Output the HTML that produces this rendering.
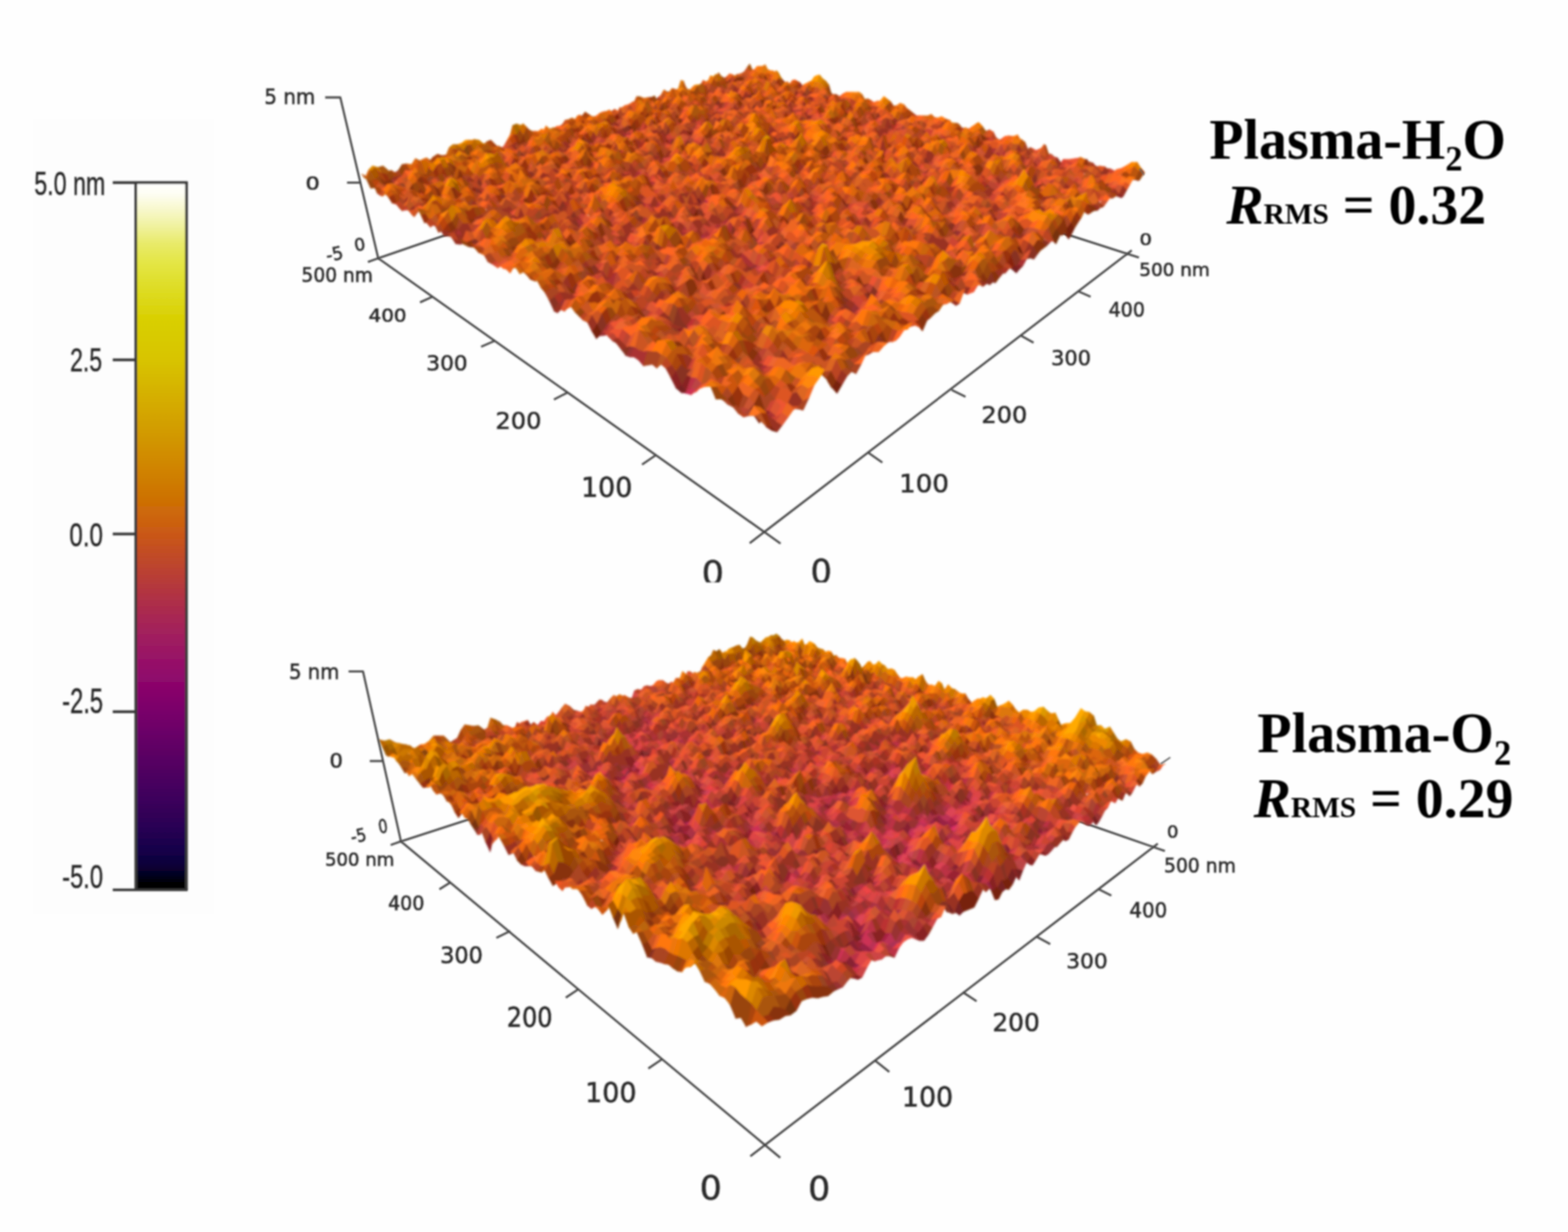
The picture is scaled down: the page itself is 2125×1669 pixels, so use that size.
<!DOCTYPE html>
<html lang="en"><head><meta charset="utf-8"><title>AFM surface roughness: Plasma-H2O vs Plasma-O2</title>
<style>
html,body{margin:0;padding:0;background:#fefefe;}
body{width:2125px;height:1669px;overflow:hidden;}
svg{display:block;}
.ax{font-family:"DejaVu Sans","Liberation Sans",sans-serif;fill:#2b2b2b;stroke:#2b2b2b;stroke-width:.7px;}
.cb{font-family:"Liberation Sans",sans-serif;fill:#262626;stroke:#262626;stroke-width:.5px;}
.tt{font-family:"Liberation Serif",serif;font-weight:bold;fill:#000;}
</style></head>
<body>
<svg width="2125" height="1669" viewBox="0 0 2125 1669">
<defs>
<filter id="bl" x="-5%" y="-5%" width="110%" height="110%"><feGaussianBlur stdDeviation="1.1"/></filter>
<filter id="bs" x="-5%" y="-5%" width="110%" height="110%"><feGaussianBlur stdDeviation="1.5"/></filter>
<filter id="bt" x="-5%" y="-20%" width="110%" height="140%"><feGaussianBlur stdDeviation="0.9"/></filter>
<clipPath id="cliptop"><rect x="300" y="0" width="1500" height="788.9"/></clipPath>
<linearGradient id="cbg" x1="0" y1="0" x2="0" y2="1">
<stop offset="0.000" stop-color="#ffffff"/><stop offset="0.015" stop-color="#fefef4"/><stop offset="0.036" stop-color="#f8f8d0"/><stop offset="0.061" stop-color="#f0f2a0"/><stop offset="0.086" stop-color="#e8ea6a"/><stop offset="0.111" stop-color="#e4e648"/><stop offset="0.136" stop-color="#e0e030"/><stop offset="0.166" stop-color="#dcd818"/><stop offset="0.190" stop-color="#d9d004"/><stop offset="0.250" stop-color="#d8c400"/><stop offset="0.300" stop-color="#d5b000"/><stop offset="0.350" stop-color="#d29c00"/><stop offset="0.400" stop-color="#d08600"/><stop offset="0.450" stop-color="#cd7004"/><stop offset="0.480" stop-color="#cc620e"/><stop offset="0.500" stop-color="#c95618"/><stop offset="0.530" stop-color="#c04a28"/><stop offset="0.566" stop-color="#b63a3a"/><stop offset="0.600" stop-color="#ac2c4c"/><stop offset="0.644" stop-color="#a01e60"/><stop offset="0.698" stop-color="#90086c"/><stop offset="0.725" stop-color="#85046b"/><stop offset="0.750" stop-color="#78006a"/><stop offset="0.807" stop-color="#5c0064"/><stop offset="0.870" stop-color="#3e005c"/><stop offset="0.910" stop-color="#2a0054"/><stop offset="0.944" stop-color="#16004a"/><stop offset="0.966" stop-color="#0a0038"/><stop offset="0.980" stop-color="#040020"/><stop offset="0.992" stop-color="#000000"/><stop offset="1.000" stop-color="#000000"/>
</linearGradient>
</defs>
<rect width="2125" height="1669" fill="#fefefe"/>
<g id="colorbar">
<rect x="45" y="161" width="245" height="1077" fill="#fdfdfd"/>
<g filter="url(#bl)">
<rect x="183.5" y="247.4" width="70.0" height="957.8" fill="url(#cbg)"/>
<g stroke="#383838" stroke-width="3.7" fill="none" stroke-linecap="butt">
<path d="M184.1 246.2V1206.0"/><path d="M252.7 246.2V1206.0"/><path d="M152.8 247.4H254.3"/><path d="M152.8 1205.5H254.3"/><path d="M152.8 487.5H183.5"/><path d="M152.8 723.4H183.5"/><path d="M152.8 964.2H183.5"/>
</g>
<text class="cb" x="46.6" y="263.8" font-size="44.8" textLength="96.1" lengthAdjust="spacingAndGlyphs">5.0 nm</text>
<text class="cb" x="94.9" y="502.8" font-size="44.8" textLength="43.5" lengthAdjust="spacingAndGlyphs">2.5</text>
<text class="cb" x="94.1" y="739.7" font-size="44.6" textLength="45.4" lengthAdjust="spacingAndGlyphs">0.0</text>
<text class="cb" x="84.3" y="966.1" font-size="47.3" textLength="55.4" lengthAdjust="spacingAndGlyphs">-2.5</text>
<text class="cb" x="84.3" y="1203.4" font-size="44.6" textLength="55.3" lengthAdjust="spacingAndGlyphs">-5.0</text>
</g>
</g>
<g id="plot-top">
<g stroke="#464646" stroke-width="2.8" fill="none" stroke-linecap="butt" filter="url(#bl)">
<path d="M512.6 349.9L1012.0 178.2L1527.8 343.8"/>
</g>
<g id="surf-top" filter="url(#bs)" stroke-width="1.2" stroke-linejoin="round" fill="currentColor" stroke="currentColor">
<path color="#a24" d="M929 533l8-7-7 5-7 1"/>
<path color="#923" d="M936 326l6 2-6-7-5 10"/>
<path color="#823" d="M1395 259l4-6-6-1-3 0"/>
<path color="#722" d="M923 532l7-1-6-10-8 5M819 390l7 1-6-12-7-2M1154 430l5-3-6-8-6 3M989 328l5-4-5-4-5-2M949 299l5-3-5 2-5-1M946 281l5-8-5-5-5 4M1282 345l4 1-6-5-3-4M1377 370l4-5-6-5-5 4"/>
<path color="#c35" d="M936 535l7-7-6-2-8 7"/>
<path color="#833" d="M930 452l6-4-6-7-6 3"/>
<path color="#a34" d="M1022 369l6-3-6 0-5 2M947 330l5-5-5 0-5 3M952 325l6-1-6-7-5 8M1032 336l5-7-6-1-5 3M1346 224l5-11-6 5-4 8"/>
<path color="#c34" d="M1403 252l3-1-7 2-4 6"/>
<path color="#822" d="M916 526l8-5-8-19-7 10M930 531l7-20-6-3-7 13M1037 566l7-9-7-1-8 17M630 322l7 0-4-6-7 3M641 324l7-4-4 0-7 2M923 458l7-6-6-8-7 1M829 393l7-7-5 3-6 7M942 328l5-3-5-7-6 3M866 286l6-3-5-4-6-2M1181 412l5-6-7 0-4-10M984 325l5 3-5-10-6-2M1026 335l6 1-6-5-5 1M984 318l5 2-5-5-5-2M1021 331l5-7-6-7-5 8M999 295l5-6-5 1-5 0M1059 286l5 7-5-10-5-2M1009 269l5-8-5 0-5 2M843 194l5-3-4-6-5 1M1156 303l5-9-5-4-5 9M1286 346l6-11-7-6-5 12M897 188l4 2-4-6-4 7M1381 365l5-5-7-2-4 2M978 215l4 1-4-6-5 2M901 190l5-1-4-8-5 3M840 166l4-4-3 0-5 2M1327 321l4-4-7 0-4 3M939 188l4-8-4-2-4 0M1226 268l3 2-5-6-4-1M925 165l4-1-3-4-5-2M929 164l5 0-4-10-4 6M964 172l4-1-4-2-4 1M977 151l3-1-3-3-4-4M1003 157l4-4-4-7-4 1M1390 256l2 2-5-5-3 0M1037 154l3-6-3-1-4 0M1392 258l3 1-5-7-3 1M1387 253l3-1-6-1-3-2M1010 140l4-1-4-4-4 1M1390 252l3 0-4-11-5 10M1399 253l3-2-5-4-4 5M1021 142l4-6-4-1-4 5M1341 226l4-8-6-2-3 2M1519 268l3-2-6-4-3 4M1415 232l4-4-4-11-3 2"/>
<path color="#b34" d="M937 526l7-14-7-1-7 20M946 331l6-6-5 5-6-2M955 284l5-11-4-3-5 10"/>
<path color="#933" d="M854 484l6-14-6-1-6 13M813 455l8-1-6-4-7 9M762 417l7-4-6-9-6 7M651 268l5-8-2 3-7 1M788 313l5-7-4-7-5 11M784 310l5-11-4 7-6 0M849 340l5-11-4-3-6 7M1022 366l6-6-6-2-6 4M941 328l6 2-5-2-6-2M931 331l5-10-5-6-5 8M1159 427l6-9-7-7-5 8M1026 331l5-3-5 2-5 0M862 247l5-5-4 1-6-3M951 280l5-10-5 3-5 8M798 199l5-4-4-3-5 5M867 205l5-5-4 3-5-2M848 191l4 1-4-5-4-2M852 192l5-6-4-7-5 8M931 203l5-3-4-1-5 5M1299 320l5-6-7-2-4 5M942 184l5-3-4-1-4 8M975 176l4-9-4-1-4 3M1243 235l4-5-6 1-3-3M1022 154l4-3-4 1-4 2M1352 227l4-7-5-7-5 11M1425 227l4-4-6 0-4 5M1447 226l2 2-6-4-3 5"/>
<path color="#b44" d="M943 528l8-8-7-8-7 14M898 221l5-5-4 2-5 3"/>
<path color="#721" d="M808 459l7-9-6-12-7 11M1046 583l7 2-8-7-7-2M522 252l8 6-4-5-7-3M637 322l7-2-5-7-6 3M825 396l6-7-5 2-7-1M771 337l7 3-6-13-7-1M1134 533l7-12-8-6-6 10M645 267l6 1-4-4-5 3M643 256l7 3-5-10-5 7M821 338l6 1-5-7-6-2M898 367l6-4-6-8-6 1M819 325l6-1-5-8-6 7M953 381l6 4-6-18-5 14M1186 474l5-1-7-7-5-2M1113 445l6-4-6-16-6 9M700 235l6 2-4-6-6 1M673 225l5-4-4-7-6 4M709 238l6-3-4 1-5 1M706 237l5-1-5-16-4 11M904 319l6 4-6-13-5 8M861 303l6 2-5-9-6 3M926 334l5-3-5-8-6 3M1179 406l5-1-6-8-5-4M792 230l6 5-5-8-5-4M1054 341l5 3-5-12-5 2M944 297l5 1-5-15-5 9M842 249l6 1-4-4-6-9M1015 318l5 3-5-6-5-9M1020 321l5-5-5-9-5 8M994 290l5 0-5-3-5 2M989 289l5-2-5-5-5-2M834 214l5 4-4-5-5-2M1165 343l4 2-6-7-4 4M892 230l5-1-4-3-5 6M1222 337l5-6-6-3-4 0M1094 300l5-3-5-16-5 6M986 244l4-3-4-5-5 6M1259 334l4 4-6-10-3-8M855 179l4 2-4-11-5-1M1142 286l5-10-5-7-5 6M888 186l5 5-4-9-5-1M835 165l5 1-4-2-5-8M1031 230l4 4-4-6-5-3M891 175l5 6-4-8-5-10M1044 225l4 0-4-8-5 4M1390 351l4-3-7-4-4 8M1383 352l4-8-5-11-4 1M934 187l5 1-4-10-5-2M916 170l4-1-3-2-5 2M1007 188l5-2-5-1-4-4M1428 327l3 3-6-10-2-2M1351 304l3-3-5-7-4 4M1054 199l4 1-4-11-5 6M1448 324l4-7-6-9-4 8M1452 317l4-8-5-8-5 7M958 152l3-2-3-10-4 6M1119 188l4-1-4-8-4 5M999 153l4 4-4-10-4 4M1192 214l4-3-4-8-5 9M992 136l4 0-4-11-4-1M1420 262l4-4-6-6-3 4M1442 265l4-2-5-9-3-1M1358 227l3-4-5-3-4 7M996 118l3 0-3-12-4 8M1414 227l1 5-3-13-5 9M1335 198l3-2-5-2-3-3"/>
<path color="#b33" d="M936 448l7-17-6 1-7 9M851 323l6-1-5-2-6 0M1004 295l5-10-5 4-5 6"/>
<path color="#c44" d="M654 264l6-4-4 0-5 8M1028 366l5-7-5 1-6 6M1167 419l5-4-7 3-6 9M867 242l4-8-4-1-4 10M899 218l5-4-4-1-5 0M1294 335l5-5-7 5-6 11M1226 178l4-2-5 2-4 2"/>
<path color="#a33" d="M872 496l6-21-6 1-7 12M865 488l7-12-6-2-7 10M859 484l7-10-6-4-6 14M821 454l6-16-5 2-7 10M619 318l7 1-5-9-5 10M1045 566l7-2-8-7-7 9M776 409l7-8-5 0-7 4M586 257l6-2-4-6-4 15M1034 502l7-6-7-2-7 8M804 373l6-1-4 1-7-3M831 389l5-21-5 1-5 22M826 391l5-22-4 8-7 2M815 370l7 5-5-8-7 5M702 299l7 0-4-2-6 2M709 299l6-5-4-1-6 4M890 377l6-10-6 2-5 13M652 254l5-10-3 5-4 10M756 295l6 0-4-2-7 0M762 295l5-5-3 0-6 3M785 306l6-7-5-3-6 2M773 280l5-2-3 0-7-5M724 243l4-8-2 5-6-1M1017 371l5-2-5-1-6-7M872 307l5-12-5-1-5 11M896 316l5-14-5 0-5 4M1016 362l6-4-6-6-5 6M1011 358l5-6-5-5-6 13M1005 360l6-13-6-5-5 14M926 323l5-8-5-2-6-6M896 302l6 3-5-5-5 1M962 327l5 3-5-8-5 7M926 313l6-1-5-7-5 12M902 305l6-4-5 0-6-1M871 286l5-10-4 7-6 3M958 324l5-6-5-6-6 5M880 281l6 6-5-11-5 0M872 283l5-7-5-2-5 5M890 282l6-3-5-6-5 14M978 316l6 2-5-5-6-4M1186 406l6-13-8 12-5 1M973 312l6-2-5-10-6 7M989 320l5-14-5-6-5 15M1026 330l5-10-5 4-5 7M979 303l5 1-5-4-5 4M984 304l5-4-5-4-5 4M851 243l6 2-5-10-4 15M950 284l5-5-5 0-5-1M883 252l5-5-5-2-5 2M863 243l4-10-4-1-4 7M999 290l5-16-5 6-5 7M803 195l4-3-3 2-5-2M906 223l5-3-4-1-5 1M848 187l5-8-4 1-4 3M845 183l4-3-3 0-5-5M908 198l4-10-4 0-4 1M866 178l5 2-4-5-4 1M920 197l4-6-4-3-4 10M936 198l5-3-4 2-5 2M1386 360l5-9-8 1-4 6M1390 319l3 6-6-7-5 10M1393 325l4-2-7-6-3 1M1346 309l5-10-7 1-5 10M1235 266l5-4-6 2-5 6M999 177l4-3-4 0-4 7M965 153l4-4-4-2-4 3M1209 226l4-3-5-1-4 7M1026 158l4 1-4-2-4 7M1351 263l4-6-6 1-4 3M1259 230l4-6-5 0-4 4M1198 210l4-6-6 7-4 3M1202 204l3 1-5-3-4 9M1026 151l3-1-3-2-4 4M1415 258l4-4-8 6-3 2M1384 251l5-10-6-1-4 0M1100 160l4-5-5 1-3 4M1025 136l3 1-3-7-4 5M1032 137l4-5-4-3-4 8M1333 214l3 4-5-6-4 6M1322 216l4-6-7 5-2-5M1364 220l4-5-7 8-3 4M1182 172l4-2-5-3-3 1M1345 218l3-4-6 0-3 2M1223 180l3-2-5 2-3 1M1186 170l3 0-4-5-4 2M1387 226l5-9-8 8-3-1M1357 215l3 1-6-3-2-2M1346 211l3-1-6-1-2-2M1230 176l3 2-5-4-3 4M1076 136l3-5-4-1-3 1M1360 216l3-4-6 0-3 1M1354 213l3-1-5-6-3 4M1349 210l3-4-5 2-4 1M1095 143l3-13-4 2-3 4M1013 113l3-3-3 0-4 4M1363 212l3-2-5-6-4 8M1347 208l4-7-6 0-3 3"/>
<path color="#821" d="M642 267l5-3-5-11-5 5M915 324l5 2-5-18-5 15M916 313l6 4-5-6-6-6M970 268l5 3-5-4-5-1M903 196l5 2-4-9-5 5M1370 364l5-4-5-16-6 13M893 191l4-7-4-5-4 3M836 164l5-2-4-9-5 4M1230 289l4-2-5-5-5 4M1320 320l4-3-5-12-4 4M892 153l4 3-4-7-4 6M1122 219l4-7-5 0-4-1M1202 228l3 3-4-8-4 3M1019 165l3-1-4-7-3 0M1318 220l4-4-5-6-3 1M1376 218l4-3-5-9-2 0"/>
<path color="#d44" d="M943 531l7-8-7 5-7 7M964 380l6 1-5-3-6 4M1028 368l6-2-6 0-6 3M957 329l5-7-5 0-5 3M963 321l5-10-5 7-5 6M1037 331l6-7-6 5-5 7M907 219l5-3-5-2-4 2M860 185l4-7-3 3-4 5M936 200l4-3-4 1-4 1M940 197l5-1-4-1-5 3M1406 251l4-9-8 9-3 2M1351 213l3 0-6 1-3 4M1217 175l3-2-5 1-3 1"/>
<path color="#832" d="M848 482l6-13-5 1-7 4M751 422l6-11-6-10-7 6M924 521l7-13-8-15-7 9M815 450l7-10-7-16-6 14M609 320l7 0-5-6-7-2M1022 563l7 10-7-27-7 8M931 508l7-8-7 0-8-7M643 335l6-8-5-4-6 2M635 327l6-3-4-2-7 0M530 258l5-7-4-9-5 11M780 397l6-8-5-6-6 9M584 279l8 2-4-3-7 0M592 281l6-3-5-6-5 6M588 278l5-6-3-4-6 4M916 449l7 9-6-13-7-1M597 272l5-12-3 5-5 7M911 439l7 3-6-4-7-5M905 433l7 5-6-10-7 4M924 444l6-3-6-7-6 8M918 442l6-8-6-18-6 22M729 328l7 6-5-10-6 2M806 373l6-7-6-8-6 3M736 334l6-7-5-8-6 5M714 302l8 10-5-8-7-5M746 316l6-2-5-10-5 11M722 312l5-8-4-6-6 6M620 251l6-1-3 2-7-6M916 406l6-10-6 1-6-2M647 264l7-1-5-8-7-2M682 276l6-6-5-7-6 0M939 401l7-2-6 0-6 4M650 259l4-10-5-9-4 9M786 312l6 3-4-2-7-6M777 305l7 5-5-4-7-5M842 331l7 9-5-7-7-9M779 306l6 0-5-8-6 0M776 297l6-4-5-7-5 7M759 287l7 6-5-9-6-2M755 282l6 2-4-3-7-3M884 340l6 5-5-7-6 3M879 341l6-3-5-6-6 7M761 284l6-5-5-8-5 10M994 395l6-2-6-10-6-1M890 345l6-11-6-4-5 8M846 320l6 0-5-2-6-9M827 311l7 1-5-5-7-7M1000 393l5-5-5-5-6 0M1191 473l6-10-7-10-6 13M718 244l6-1-4-4-6-2M689 228l6-2-4-1-5 2M720 239l6 1-5-8-6 0M867 305l5-11-5-2-5 4M773 255l5-4-4-4-5 6M1149 425l5 5-7-8-5-7M1142 415l5 7-6-10-5-1M1046 378l5-2-5-5-6 7M1017 368l5-2-6-4-5 1M920 326l6-3-6-16-5 1M1147 422l6-3-7-8-5 1M706 216l5-5-4-5-4 9M1146 411l6-4-7-5-5 3M897 300l6 1-5-3-6-5M861 277l6 2-5-7-6-4M697 209l4-7-3-5-5 5M908 294l6 2-5-10-6 1M867 279l5-5-4-2-6 0M1183 413l5-4-7 3-5-5M1176 407l5 5-6-16-5 2M978 320l6 5-6-9-5-4M763 226l5-4-4-2-5 4M1021 332l5-1-5-1-5-13M979 313l5 2-5-5-6 2M1184 405l6-10-7-8-5 10M994 324l5-9-5-9-5 14M1071 346l5-2-6-10-5 9M1065 343l5-9-5-2-6 12M1059 344l6-12-6-9-5 9M949 298l5-9-5-9-5 3M881 255l5 0-4 0-6-7M926 273l6 2-5-14-6 1M936 274l5-2-5-10-4 13M874 248l5 1-4-6-5 0M857 240l6 3-4-4-6-6M770 204l5-3-4-5-5 6M773 200l4-9-3 3-5-1M994 287l5-7-5-3-5 5M898 242l4-2-4-7-4 12M799 201l5 1-4-4-5 1M784 196l6 3-4-6-6-5M975 271l5-11-5 0-5 7M839 218l4-15-4 0-4 10M809 204l5 2-5-14-4 3M794 197l5-5-4-3-5-7M930 244l5 0-5-2-5-1M814 206l4-8-3-3-6-3M962 254l5-1-5-8-5 1M889 219l5 2-4-4-5 1M885 218l5-1-4-7-5 5M1064 293l5-9-5-7-5 6M1341 386l4-4-7-4-5 5M1004 256l5 1-5-3-5-1M891 210l5 6-5-10-4 2M863 201l5 2-4-4-5-2M1345 382l4 1-6-15-5 10M1229 336l5-3-7-2-5 6M900 213l4 1-4-2-4 4M834 184l5 2-4-5-5 0M881 197l5 1-4-3-5 5M844 185l4 2-3-4-5-2M1274 346l4-1-5-10-4 0M1023 250l4 0-5-3-4-6M893 200l5 2-4-7-4 5M1151 299l5-9-6-3-4 2M1018 241l4-3-4-2-5 2M846 180l4 0-4-8-4 2M828 171l4-2-3-2-5 3M1226 321l4-7-6-3-4-1M850 180l5-1-5-10-4 3M1060 255l5-5-5-8-5 10M1147 286l5-10-5 0-5 10M927 204l5-5-4-5-5 3M912 197l4 1-4-10-4 10M863 176l4-1-4-1-4 7M1375 360l4-2-5-20-4 6M973 212l5-2-5-5-4 3M932 199l5-2-5-8-4 5M897 184l5-3-4-6-5 4M1379 358l4-6-5-13-4-1M982 216l4-8-4 0-4 2M949 202l4-3-4-6-4 3M906 189l4-9-5-10-3 11M1295 319l4 1-6-3-4-2M1289 315l4 2-6-9-4 4M1193 285l4-4-6-1-4 4M1117 258l5-5-5-5-5 4M1293 317l4-5-7 3-3-7M1082 240l4-5-5-4-4-1M896 181l4-9-4-3-4 4M892 173l4-4-4-1-4-5M1398 350l3 1-7-3-4 3M1290 315l5-11-6-3-4 3M1401 351l5-7-6-11-6 15M1354 328l3-1-6-7-4 4M1375 330l3-3-4-14-6 14M1378 327l4 1-6-11-2-4M958 178l5 5-4-8-5 0M884 155l4 0-4-6-4 0M1418 333l4-4-7-4-4 2M936 166l4 1-4-2-4 4M1008 188l4 0-5 0-4 4M955 174l4 4-4-7-4 0M1229 270l5-6-6-8-4 8M1059 206l4-5-4-4-4 4M1357 303l5-5-8 3-3 3M971 171l4 5-4-7-4-6M891 143l4 4-4-10-4 5M1122 220l4-2-4 1-4-8M1049 195l5-6-5-5-4 7M1058 200l4-3-4-12-4 4M1041 188l4-1-5-3-4-5M1044 186l4 0-4-3-4-5M972 161l4 3-4-5-4 2M1326 279l4-8-5-8-4 5M1078 193l4 1-4-10-4 9M976 164l4-5-4 2-4-2M1142 209l4-3-5 1-3-2M1205 231l4-5-5 3-3-6M969 155l4-1-4-5-4 4M1230 233l4-3-5-7-4 4M1204 229l4-7-5-3-4 1M1194 216l4 1-5-4-4 10M1333 255l3 3-5-6-3-1M1265 237l3 1-5-3-4 4M1259 239l4-4-5-6-4 3M980 151l4-3-4 2-3 1M1336 258l3 0-5-5-3-1M1319 248l3 0-5-5-4 5M1022 164l4-7-4-9-4 9M973 144l4-5-4-4-4 5M1339 258l4-3-5-6-4 4M1187 212l5-9-5-7-4 6M1018 157l4-3-4 0-4-6M1252 221l4 2-5-7-3-1M1018 154l4-2-4-5-4 0M1256 223l3-1-4-10-4 4M1082 166l4 0-4-4-4 2M1022 152l4-4-4-8-4 7M959 132l4-3-4-3-3-4M1259 222l4-2-6-2-2-6M1328 242l4-9-6 3-4 1M1289 226l4-4-5-1-3-1M1033 149l4 5-4-7-4-4M960 125l3-2-3-1-4 6M956 128l4-6-4-8-3 9M1408 262l3-2-4-14-5 13M1033 147l4 0-4-4-4-7M1381 249l3 2-5-11-3 0M1335 235l4-3-6-3-4 4M1131 171l4-2-5-1-3 0M1076 156l4 1-4-5-4 0M1006 136l4-1-4-4-3-1M1368 238l3-2-6-4-3 4M1096 162l4-2-4 0-4-9M1084 160l3-6-3-6-4 9M1014 139l3 1-3-12-4 7M1393 252l4-5-4-16-4 10M1096 160l3-4-4 0-3 0M1092 156l3 0-4-6-4 4M1017 140l4-5-4-8-3 1M995 128l4 2-3-2-4-7M1402 251l4-6-3-15-6 17M1113 154l4-4-4-3-4 1M1006 119l4 2-4-4-3-1M1010 121l3-3-3-5-4 4M1207 179l3-2-3-9-4 6M1329 209l4-3-5-8-4 8M1258 189l4-4-5-2-3 0M1187 162l3 3-4-4-3 0M1009 114l4-4-4-2-3 7M1480 246l4-8-6-4-4 7M1190 165l4-6-4-7-4 9M1130 147l4-3-4-7-4 6M1094 135l3-2-4-3-3 1M1090 131l3-1-3-6-4 5M1009 106l4 4-4-6-3 1M1419 228l4-5-6-6-2 0M1137 142l3 1-3-4-4-3M1495 240l3-1-5-7-4 4M1440 229l3-5-5-3-4 7M1480 232l2 0-6-3-2-1M1429 216l2 5-4-10-3-2"/>
<path color="#d54" d="M984 305l5-7-5 6-5-1M1249 229l3-3-5 4-4 5M1355 257l4-8-6 3-4 6"/>
<path color="#d43" d="M1011 394l6 0-6-6-6 0M960 276l5-10-5 7-5 11M883 245l5-4-4-5-5 13M1014 261l4-9-4 0-5 9M915 220l5-2-4 1-5 1M1210 178l4-3-5 0-4 2M1215 174l4-7-4 0-5 10M1456 223l3-2-6-1-4 8M1443 224l4-6-6-2-3 5"/>
<path color="#a43" d="M1015 563l7 0-7-9-8 6M875 431l7-9-6-3-7 2M860 414l6-11-6-1-6 6M921 405l6-7-5-2-6 10M775 278l5-9-5-2-5 5M1170 437l6-14-7 1-6 8M1190 415l5-10-7 4-5 4M1076 344l5-8-5-8-6 6M1015 301l5-6-5-1-5 6M1010 300l5-6-5-3-6 5M1043 278l5-12-5 3-5 2M1178 313l5-3-6-2-5 7M831 173l5-1-4-3-4 2M1036 234l4-1-5-2-4 0M916 198l4-10-4-3-4 3M1321 329l3 2-6-2-5 5M937 197l4-7-4-3-5 2M1197 281l5-6-6-4-5 9M933 185l5 0-4-2-5 0M1174 265l4-5-6 2-4 7M939 178l4-6-4 0-4 1M943 172l4-1-4-4-4 4M1390 317l5-9-7 2-5 10M922 157l4-4-4 3-4-3M968 171l4-10-4-3-4 11M1126 218l5-6-5 0-4 7M995 172l4 0-4-5-4 5M1357 287l3-2-6-4-5 10M980 150l4-12-4 0-3 9M963 133l3-8-3 4-4 3M1077 161l4-3-4-2-4 3M963 124l4 3-4-4-3 2M1075 148l4-3-5 1-3 4M1201 173l3 2-4-4-4 2M1225 178l3-4-4-5-4 4M1080 138l3-7-4 0-3 5M1142 147l3-1-3-7-4 2"/>
<path color="#e54" d="M1034 366l5-5-6-2-5 7M962 322l5-8-4 7-6 1M912 298l6-3-5 2-5 4M1031 328l6-15-6 7-5 10M806 193l5-2-4 1-4 3M903 216l4-2-3 0-5 4M1014 252l4-2-5 0-4 7M907 214l5-6-4 3-4 3M850 190l4-6-3-1-5 5M853 179l4-3-3 2-5 2M1027 162l3-5-4 1-3 5M1270 223l4-7-5 0-4 5"/>
<path color="#a32" d="M757 411l6-7-5-9-7 6M1035 505l6 2-7-5-6-3M861 394l7 2-5-7-6 9M674 294l6-4-4 0-5 7M827 377l6-9-6-8-5 15M949 427l7 5-6-7-7 2M888 386l6-2-6-7-6 5M916 397l6-11-5 3-7-4M733 298l7 3-5-8-6 4M686 277l5-8-3 1-6 6M654 263l3-17-1 11-7-2M987 419l6-7-6-3-6 5M895 341l6-4-5-3-6 11M767 279l6 1-5-7-6-2M1005 388l6-11-6-7-5 13M778 278l6-2-4-7-5 9M770 272l5-5-3 1-6 3M756 255l4-10-4-6-4 12M1040 378l6-7-6-6-6 5M891 306l5-4-4-1-6 1M1050 359l6-5-6-8-6 4M801 232l5-9-4-5-4 17M940 280l5-2-5-3-5 7M921 272l5 1-5-11-4 10M853 233l6 6-5-6-5-3M876 237l5 3-5-8-5 2M818 198l5-4-4-3-4 4M1298 383l6-8-8 1-4 1M1304 375l4 0-8-1-4 2M1059 283l5-6-6-2-4 0M916 219l4-1-4-5-4 3M868 203l5-6-4-4-5 6M873 197l4 3-4-10-4 3M1200 320l6-9-7 3-5 3M1165 305l4-1-5-6-5 1M1103 281l5-9-6 0-4 3M1362 370l5-6-7-2-4 3M1146 289l4-2-5-7-5 5M1102 272l5 0-6-1-4-5M1027 250l5-8-5-6-5 11M898 202l4-9-4-1-4 3M1099 261l5-5-5-3-5-1M1050 241l4-7-4 3-5-1M1031 231l4 0-4-1-5-5M944 206l4-6-4-6-4 1M874 180l4-9-4-5-3 14M1298 321l4 2-7-4-3-2M965 204l4-5-4 1-4 1M1040 223l4 2-5-4-4-1M953 199l4-7-4-7-4 8M1087 236l4 1-5-2-4 5M1008 215l4-12-4 8-4-3M929 183l5 0-4-4-4 4M1278 294l4-3-6-3-4 5M951 171l4 0-4-4-4 4M899 155l4-6-3-1-4 8M926 160l4-6-4-1-4 4M1153 230l4-3-5 1-4 1M934 164l3-11-3-2-4 3M1080 201l4-5-4 0-4-2M1261 256l3 0-5-4-4-1M1290 266l6-15-6 2-5 7M1336 272l4 1-6-6-4 4M1359 270l4-6-5-5-5 8M1234 230l4-2-5-7-4 2M1334 253l4-4-5-7-5 8M1258 224l3-5-5 4-4-2M1182 198l4 0-5-6-4 9M1351 246l2 3-5-7-3-2M1333 246l3-5-5-5-4 4M945 128l4-5-3-2-4 3M1195 191l3 1-4-4-3-3M981 126l4-1-4-2-4-1M1135 169l3-2-4-2-4 3M999 130l4-11-4 0-3 9M1028 129l4 0-4-5-4 7M1193 174l3-1-4-3-4 4M1319 215l5-13-5-5-5 16M1126 158l4-11-5 0-3 8M1118 151l3-4-4 3-4 4M1181 167l4-2-5-2-3 2M1280 190l3 2-4-8-4 11M1260 191l3-6-5 4-2-7M1185 165l3 1-4-3-4 0M1341 207l2 2-4-5-4 2M1210 177l5-10-5 1-3 0M1134 144l3-2-4-6-3 1M1505 238l3-2-6-5-4 8M1338 196l4-10-5 0-4 8M1482 232l4-5-5-6-5 8"/>
<path color="#b43" d="M830 462l7-4-6-7-7 5M1007 560l8-6-8-2-7-2M849 470l6-15-6-5-6 14M827 438l7-3-6-2-6 7M774 414l6-10-4 5-7 4M646 331l6-4-3 0-6 8M778 401l6-15-4 11-7 1M648 320l4-18-4 2-4 16M644 320l4-16-3 0-6 9M535 251l6-6-3 1-7-4M921 454l7 3-6-7-7 3M876 419l6-11-5 2-6 9M834 389l6-3-4 0-7 7M813 377l7 2-5-9-7 3M942 446l7-9-6-6-7 17M836 386l6-6-6-12-5 21M1033 488l7-16-7 0-6 5M937 432l6-5-6-7-6 5M680 290l7 1-5-3-6 2M694 292l7 2-4-3-7-1M727 304l6-6-4-1-6 1M981 416l6 3-6-5-6-2M786 317l7-1-5 1-6-3M917 382l7-6-6 1-6 3M750 299l6-4-5-2-6 0M963 395l7-1-6-1-6 0M831 332l6-8-5-5-5 20M852 340l6-2-5-2-6 0M904 363l5-17-5-2-6 11M863 339l6-6-5-5-6 10M853 336l6-9-5 2-5 11M786 296l5-11-4 3-5 5M1006 396l5-2-6-6-5 13M965 378l6-8-6-4-6 19M1128 447l6-9-7-4-6 3M1011 388l6-6-6-5-6 11M858 314l5-3-4-4-6 3M830 305l5-11-4-2-6 6M1199 467l6-5-8 1-6 10M1127 434l5-5-7-4-6 16M788 278l5-10-3 3-6 5M772 268l5-7-4 3-6-2M759 250l5-7-4 2-4 10M1028 374l6-4-6-2-5-4M885 306l6 0-5-4-6 1M876 307l5-9-4-3-5 12M1052 377l6-5-7 4-5 2M782 255l5-7-4-1-5 4M951 326l6 3-5-4-6 6M709 218l5-6-3-1-5 5M936 321l6-3-5-8-6 5M917 311l5-10-5-2-6 2M687 202l6 0-4-4-5 0M942 318l5-10-5-2-5 4M937 310l5-4-5-6-5 12M908 301l5-4-5-3-5 7M879 287l6-6-5 0-5 1M727 218l5-8-4 0-4 8M1178 410l5 3-7-6-5 1M952 317l6-5-6-8-5 4M913 297l5-6-4 5-6-2M1079 364l6-6-6-7-6 13M872 274l5-6-4-2-5 6M1188 409l6-15-8 12-5 6M938 295l5-1-4 1-6-4M968 307l6-7-5 1-6 6M963 307l6-6-5 0-6-3M1178 397l5-10-6-3-6 6M984 315l5-15-5 5-5 5M979 310l5-5-5-2-5-3M902 274l5-6-5 0-5 6M911 270l6 2-5-4-5 0M765 209l5-4-3 2-5 1M945 280l5 4-5-6-5 2M852 235l5 5-4-7-5 4M772 206l5-2-4-3-5 0M1025 316l6-20-6 0-5 11M999 295l5 1-5-4-5 7M887 254l5-11-4 4-5 5M1004 296l6-5-6 4-5-3M901 253l4-10-4 6-5-1M896 248l5 1-4-6-5 0M879 249l5-13-4 1-5 6M776 194l4-6-3 3-4 9M1004 289l5-9-5-6-5 16M907 240l5-3-5 2-5 1M1055 287l5 2-5-6-5 2M815 195l4-4-4-4-4 4M807 192l5-6-4-2-4 10M897 229l4-11-4-2-4 10M893 226l4-10-4 0-5 3M1049 278l5-3-5 1-5 1M971 245l5 1-5-2-4 9M953 242l5-6-5 0-4 2M1054 275l4 0-5-3-4 4M1049 276l4-4-5-6-5 12M944 233l5 0-4 0-5-1M911 225l4-5-4 0-5 3M1009 261l5-9-5 5-5-1M849 192l4-5-3 3-5-1M845 189l5 1-4-2-4-1M1166 308l5-8-6 5-5 4M1104 284l4-5-5 2-5-3M1072 269l5-1-5-9-5 4M900 200l5 0-4-1-4 4M1282 341l5-10-9 14-4 1M1181 309l5-15-6 6-5 12M1169 304l5-11-6 1-4 4M1108 279l5 0-5-7-5 9M902 201l4-5-4-3-4 9M1150 287l5-7-6 4-4-4M1101 271l5-6-5-2-5 3M861 181l4 1-3-5-5-1M1230 314l5-10-6 0-5 7M1224 311l5-7-6 0-4 2M911 197l5 1-4-1-5-1M840 173l4-9-3-2-4 5M1181 293l5-4-6-5-4 3M1170 283l4 3-5-6-4 1M939 203l5 3-4-11-5 4M1174 286l5-6-5-5-5 5M1104 257l5 0-5-1-5 5M952 203l4-2-4-2-4 11M1104 256l4-3-5-4-4 4M1045 238l4-13-4 1-5 7M928 194l4-5-3 0-5 2M916 185l5 1-4-3-5 3M986 213l5-10-5 5-4 8M932 189l5-2-4-2-4 4M921 186l4-4-4-1-4 2M909 182l4-4-3 2-4 9M1302 323l4-7-7 4-4-1M957 196l4-1-4-3-4 7M937 187l4-5-3 3-5 0M1297 312l6-14-8 6-5 11M991 199l4 0-4-4-4 10M1331 317l6-15-7 1-6 14M927 164l5 5-4-8-4 8M1293 287l3 1-6-3-4 2M1422 329l3-3-7-1-3 0M1290 285l5-4-7 2-4 0M1237 269l5-7-7 4-3-2M1295 281l3-1-6-2-4 5M955 171l4-4-3 0-5 0M1295 281l5-8-6-5-4 4M1238 253l4 1-6-1-4 3M983 176l4-6-4-2-4 3M1354 301l6-13-7-1-4 7M1152 228l4-5-5-2-4 2M1147 223l4-2-5-5-4 13M964 162l4-5-4 0-4 3M983 166l4-9-4 5-3 10M976 161l4-9-4-2-4 0M1340 273l5-13-7 6-4 1M1216 231l4-9-5 4-4 0M1211 226l4 0-6 0-4 5M1252 235l4 0-6-2-4 4M973 154l3-6-3-4-4 5M973 144l4 7-4-8-4 0M1345 262l3-3-6-1-2-4M984 150l4-4-4 2-4 3M1272 234l4-8-6 0-4 5M1349 258l4-6-6-5-4 8M1343 255l4-8-6-2-3 4M1007 153l3-10-3-1-4 4M1263 224l3 4-5-9-3 5M1356 250l4-3-7 2-2-3M1266 228l4-5-5-2-4-2M1130 179l4-1-5-4-4 5M1360 247l3-2-6-1-4 5M1265 221l4-5-6 4-4 2M1107 172l4-4-4 0-4 2M963 129l4-3-4-2-4 2M1363 245l4-2-5-6-5 7M1094 165l3-3-4-2-3 5M1077 156l3-3-4 3-3-1M1176 183l4-3-5 2-3 1M1080 157l4-9-5-1-3 5M1076 152l3-5-4 4-3-4M1040 143l4-5-4 3-4 6M999 132l4-12-4 8-3 8M1424 258l6-16-7 2-5 8M1383 240l4-9-8 10-3 1M1075 151l4-3-4 0-4-1M1233 191l4 0-5-2-3-1M1237 191l3-1-5-5-3 4M1213 184l3-2-4-6-4 5M1171 173l4-6-5 1-3 0M1327 218l4-6-5-2-4 6M1245 190l3-2-4-2-4 4M1207 179l3-1-5-1-3 4M1215 177l3 4-4-6-4 3M1205 177l4-2-5 0-3-2M1196 173l4-2-5-4-3 3M1122 155l3-8-4 0-3 4M1396 230l3-5-5-2-4 6M1361 223l5-10-7 6-3 1M1356 220l3-1-5-6-3 0M1405 227l3-1-6 0-3-1M1348 214l4-3-6 0-4 3M1275 195l4-11-5-1-4 4M1221 180l4-2-5-5-3 2M1194 172l4-12-5 4-4 6M1189 170l4-6-5 2-3-1M1017 115l3 0-3-2-4 5M1392 217l2 1-5-5-5 12M1352 211l2 2-5-3-3 1M1091 136l3-4-3-2-4 0M1049 123l4-2-4-2-4 4M1045 123l4-4-4-1-3 2M1443 233l4-7-6 2-4 3M1407 228l5-9-5-6-4 7M1403 220l4-7-7 5-4 3M1369 213l4-7-7 4-3 2M1357 212l4-8-4-9-5 11M1218 165l3-1-4-1-4 6M1195 160l3-1-4 0-4 6M1087 130l3 1-4-2-3-2M1083 127l3 2-4-4-3 6M1434 230l4-8-6-1-2 1M1254 175l4-7-6 7-3-2M1122 139l3-6-4 6-3-3M1392 212l3 0-5-6-3 2M1154 146l3-2-4 0-3 4M1016 108l4-4-4-2-3 8M1013 110l3-8-3 1-4 1M1009 104l4-1-4-1-3 0M1429 223l4-9-6-2-4 11M1404 210l3-4-6 0-3 5M1088 121l3-4-3 0-4 5M1069 118l4-5-4 1-3 1"/>
<path color="#c43" d="M824 456l7-5-5-1-8-2M670 360l6-4-4-3-7 4M547 285l7-1-4-6-5 8M950 523l7-4-6 1-8 8M843 464l6-14-6-5-6 13M826 450l7-5-6-7-6 16M1052 571l8-12-8 5-7 2M938 500l6-17-6 3-7 14M1044 557l7-15-7 1-7 13M880 428l7-5-5-1-7 9M893 429l7-6-6-7-7 7M807 381l6-4-5-4-6 7M802 380l6-7-4 0-7 3M684 310l7-3-4-2-6 5M1041 507l7-11-7 0-7 6M882 408l7 4-5-4-7 2M644 282l6-5-3 1-6 6M1034 494l7-12-8 6-6 3M840 386l7-7-5 1-6 6M812 366l6-10-5 0-7 2M693 290l5-7-3 2-6 2M926 399l7 2-6-3-6 7M894 384l6-5-5-5-7 3M888 377l7-3-5 3-7-6M656 260l6-6-5-8-3 17M906 379l6 1-5-3-7 2M900 379l7-2-6-2-6-1M895 374l6 1-5-8-6 10M993 414l7-1-7-1-6 7M836 331l6 0-5-7-6 8M686 248l7 4-4-5-5 7M829 319l6-5-5-3-5 13M798 306l5-6-4-4-6 10M850 326l5-10-4 7-6 8M791 299l5-9-5-5-5 11M769 286l5-8-3 3-5 12M857 322l5-12-4 4-6 6M834 312l5-12-5 0-5 7M1017 394l6-8-6-4-6 6M976 368l6-7-5 4-6 2M679 223l5-2-3-1-5 4M875 309l5-6-4 4-6-5M880 303l6-1-5-4-5 9M1163 432l6-8-8-2-5 6M1034 370l6-5-6 1-6 2M679 204l5-6-3 2-6-1M1039 361l6 0-6-10-6 8M1028 360l5-16-6-1-5 15M931 315l6-5-5 2-6 1M1165 418l6-10-7-7-6 10M1158 411l6-10-7-1-5 7M967 330l6-8-6-8-5 8M884 287l5-2-4-4-6 6M875 282l5-1-4-5-5 10M730 216l5-5-3-1-5 8M973 322l5-2-5-8-6 2M705 205l5-5-4-1-5 3M963 318l5-6-5-5-5 5M958 312l5-5-5-1-6-2M767 229l4-9-3 2-5 4M968 312l5 0-5-5-5 0M896 279l5-6-5-2-5 2M768 222l5-4-3 3-6-1M1192 393l6-9-8 11-6 10M1005 308l5-2-5-6-6 15M902 268l5-7-4 2-5 0M889 265l5-10-5 2-5-1M1031 320l5-5-5-6-5 15M859 244l6-1-5-3-5 2M865 243l5 0-4 0-6-3M848 237l5-4-4-3-5 4M775 207l4-11-2 8-5 2M870 243l5 0-5-7-4 7M1058 318l5-10-6 3-5 2M875 243l5-6-4 0-6-1M956 270l4-4-4 2-5 5M867 233l5-4-4-1-5 4M800 198l5-3-4 1-5-1M842 207l5-1-4-3-4 15M855 214l4-8-3 2-5 7M935 244l4-7-4-1-5 6M822 195l4 0-3-1-5 4M939 237l5 2-4-3-5 0M901 229l5-9-5-2-4 11M976 248l5 3-5-5-5-1M949 238l4-2-4-5-5 8M902 220l5-1-4-3-5 5M1101 293l4-6-5 0-5-1M1074 283l5-9-6-1-4 11M911 220l5-1-4-3-5 3M912 216l4-3-4-5-5 6M1184 312l5 0-6-2-5 3M1068 269l4 0-5-6-4 3M1053 261l4 1-5-3-5 3M830 175l4-4-3 2-4 1M1163 293l4-3-6 4-5 9M867 184l5-1-4-5-4 5M857 186l4-5-4-5-4 3M1107 272l4-6-5-1-5 6M1071 254l4 1-5-4-4-1M906 196l5 1-4-1-5-3M862 177l4 1-3-2-5-2M844 170l4-6-4 0-4 9M1299 330l4 2-6-6-5 9M1292 335l5-9-7-6-5 9M1153 282l5-6-6 0-5 10M923 197l5-3-4 0-5 0M982 217l4-11-4 7-5 0M924 194l4 0-4-3-4 6M912 188l4-3-4 1-4 2M908 188l4-2-4-5-4 8M904 189l4-8-3 2-5 4M871 180l3-14-3 0-4 9M1109 257l4-4-5 0-4 3M945 196l4-3-4-3-4 5M941 195l4-5-4 0-4 7M1337 323l3-1-6-5-4 4M970 192l4 0-4-6-4 8M1383 325l4-3-9 5-3 3M943 180l4-9-4 1-4 6M924 169l4-8-4-1-4 9M920 169l4-9-4 0-3 7M963 183l4-12-4 2-4 2M951 172l4 2-4-3-4-2M947 171l4-4-3-4-5 4M943 167l5-4-4 1-4 3M967 174l4-4-4 1-4 7M1206 250l4-3-5-3-4 6M1362 298l5-11-7 1-6 13M1127 218l5-9-6 9-4 2M1066 190l4-2-4 0-4 9M1259 252l4-7-6 0-4 10M1057 182l4-4-5 2-4 7M980 159l4-8-4 1-4 9M1346 273l4-8-5-5-5 13M1253 243l5-10-6 2-4 3M1348 261l4-2-7 3-4 4M969 143l4 0-4-2-4 7M1247 230l4-8-6 2-4 7M984 148l4-10-4 0-4 12M1199 212l4-10-5 8-4-1M1353 252l3-2-5-4-4 1M1210 203l4-3-5 3-4 2M1176 195l4-6-5 0-4 4M1167 190l4-5-5 1-4 7M1108 173l4-4-5 3-3-3M1091 166l3 2-4-3-3-1M1402 259l5-13-7 5-4 5M1110 170l4-11-4 2-4 5M1014 141l4-5-4-1-4 3M1181 185l4-1-5-4-4 3M1101 163l4-1-5-2-3 5M1040 148l4-9-4 4-3 4M985 129l3-6-3 2-4 1M1198 192l4-3-4-7-4 6M1457 260l3-2-7 1-3 3M1112 162l4-7-4-1-4 5M1044 138l3-1-3 0-4 4M1453 259l4-5-7-1-4 10M1410 242l3-1-7 4-4 6M1201 186l3-2-4-7-4 6M1196 183l4-6-5 5-4 2M1095 156l4-8-4-2-4 4M1067 146l4-9-4 5-4 1M1204 184l4-3-5-3-3-1M1028 137l4-8-4 0-3 1M1158 164l3 1-4-3-4 2M1153 164l4-2-5 0-3 5M1463 251l3-1-7-1-2-3M1459 249l4-7-6-1-4 7M1402 227l3 0-6-2-3 5M1359 219l5-12-7 8-3-2M1354 213l3 2-5-4-4 3M1408 226l4-7-7 5-3 2M1263 185l4-4-5 4-4 4M1188 166l4-7-5 3-3 1M1084 135l3-5-4 1-3 7M1262 185l4-10-5 0-4 8M1257 183l4-8-5-1-4 2M1103 138l3-6-4 0-3 11M1049 119l3 1-3-2-4 0M999 107l3-4-3-2-3 6M1441 228l4-7-7 1-4 8M1423 223l4-11-6 0-4 5M1449 228l4-8-6-2-4 6M1344 192l3-3-5-3-4 10M1508 236l3-4-6-3-3 2"/>
<path color="#932" d="M1038 578l8 5-8-7-7-6M909 512l7-10-6-8-8 5M842 474l7-4-6-6-8 1M835 465l8-1-6-6-7 4M802 449l7-11-7-12-6 11M755 424l7-7-5-6-6 11M617 330l7 1-4-6-8-3M601 319l8 1-5-8-8-2M624 331l7-3-4-3-7 0M620 325l7 0-4-5-8-5M558 286l7-1-5-7-6 6M1053 585l7-9-8-5-7 7M1045 578l7-7-7-5-7-7M769 413l7-4-5-4-8-1M763 404l8 1-6-10-7 0M627 325l8 2-5-5-7-2M623 320l7 2-4-3-7-1M616 320l5-10-3-1-7 5M567 285l8 2-5-12-5 10M552 281l5-7-4-8-6 5M931 500l7-14-7-6-7-1M771 405l7-4-5-3-8-3M626 319l7-3-6-14-6 8M767 388l8 4-7-19-6 10M633 316l6-3-5-11-7 0M531 242l7 4-4-7-6 4M1074 551l6 3-7-21-7 15M703 344l6-9-5-6-6 5M538 246l6-5-4-3-6 1M1080 554l8-11-8-12-7 2M874 434l6-6-5 3-7 2M644 298l7 2-5-7-6 4M540 238l7 2-3-2-7-3M910 444l7 1-6-6-8-6M869 421l7-2-5 0-8-8M795 381l7-1-5-4-8-5M651 300l6-5-4-5-7 3M547 240l7-1-5-10-5 9M1020 493l7 9-7-11-7-4M917 445l7-1-6-2-7-3M899 432l7-4-6-5-7 6M854 408l6-6-5-8-7 4M812 385l7 5-6-13-6 4M797 376l7-3-5-3-8-4M641 283l8 5-5-6-6 2M634 283l7 1-4-5-7-2M1027 502l7-8-7-3-7 0M1020 491l7 0-7-3-7-6M849 393l8 5-6-8-7-4M793 363l7-2-6-8-6 5M663 293l8 4-6-13-6 2M641 284l6-6-5-9-5 10M1027 491l6-3-6-11-7 11M930 441l7-9-6-7-7 9M924 434l7-9-7-10-6 1M889 412l7 0-6-10-6 6M857 398l6-9-6-6-6 7M820 379l7-2-5-2-7-5M810 372l7-5-5-1-6 7M685 298l7-1-4-1-7-1M671 297l5-7-5-8-6 2M896 412l6-13-6-6-6 9M692 297l7 2-5-7-6 4M1061 493l7-8-7-11-7 15M699 299l6-2-4-3-7-2M687 291l6-1-4-3-7 1M682 288l7-1-5-5-6 1M956 432l6-7-6-10-6 10M881 386l7 0-6-4-6 1M865 381l7-3-6-8-6 9M860 379l6-9-5 2-7-4M705 297l6-4-6-13-4 14M689 287l6-2-4-6-7 3M609 242l6-1-3-4-6 2M1141 521l7-12-8-8-7 14M836 357l5-10-5-2-5 9M756 310l7 5-5-7-6 6M680 276l6 1-4-1-7-5M626 250l5-7-4-6-4 15M1046 460l6-14-7 1-6 7M636 251l5-8-4-4-6 4M1123 492l7-9-8-2-6 9M885 382l5-13-5-3-6 1M879 367l6-1-5-1-7-6M814 332l7 6-5-8-7 0M778 317l6-5-5-5-6 5M744 305l6-6-5-6-5 8M740 301l5-8-4-5-6 5M1000 421l6 4-6-12-7 1M816 330l6 2-5-11-6 4M811 325l6-4-5-2-6 6M745 293l6 0-4-4-6-1M672 256l6 1-4-7-6 8M1006 425l6-10-6-9-6 7M891 362l7 5-6-11-6-1M846 340l6 0-5-4-6 2M841 338l6-2-5-5-6 0M772 301l7 5-5-8-6 0M768 298l6 0-5-6-5 7M751 293l7 0-6-11-5 7M723 279l5-8-5-9-3 21M678 257l6-3-5-7-5 3M946 382l7 1-6-10-6 6M941 379l6-6-6 0-6 0M892 356l6-1-5-8-6 4M792 315l6-9-5 0-5 7M774 298l6 0-4-1-7-5M758 293l6-3-5-3-7-5M953 383l6-1-6-1-6-8M844 333l6-7-5 5-7-9M838 322l7 9-5-12-6 1M780 298l6-2-4-3-6 4M936 365l7 4-6-12-6 6M874 339l6-7-6-9-5 10M845 331l6-8-5-3-6-1M766 293l5-12-4-2-6 5M740 269l6-2-5-8-4 11M1000 401l5-13-5 5-6 2M959 385l6-19-6-9-6 10M787 288l7 3-5-10-6 2M750 268l6 3-4-3-6-1M1181 468l5 6-7-10-6-2M852 320l6-6-5-4-6 8M847 318l6-8-5-7-6 3M829 307l5-7-4 5-5 2M768 273l7 5-5-6-7-10M760 272l6-1-5-12-5 12M1135 442l5 2-6-6-6 9M1048 404l6-4-6-8-6 4M853 310l6-3-6-8-5 4M795 280l6 4-5-7-6-1M766 271l6-3-5-6-6-3M928 337l6-1-6-1-5 4M827 295l5-7-5-5-5 10M809 282l6-1-5-1-5 4M805 284l5-4-4-6-5 10M801 284l5-10-4-2-6 5M767 262l6 2-4-5-6-2M696 232l6-1-4-5-6 2M676 224l5-4-3 1-5 4M1041 387l6-1-6-1-6 3M988 366l6-6-6-5-6 0M850 295l6 4-4-5-6-1M734 243l6 0-5-10-5 7M695 226l5-2-5-10-4 11M1011 373l6-2-6-10-6 5M919 327l5-5-5 1-5-4M856 299l6-3-5-8-5 6M787 265l6 2-5-11-5 8M740 243l5-4-4-4-6-2M1143 426l6-1-7-10-5 1M1034 377l6 1-6-8-6 4M796 262l6 2-5-9-4 12M776 255l6 0-4-4-5 4M1011 363l5-1-5-4-6-1M704 217l5 1-3-2-7-8M673 204l6 0-4-5-6-3M1000 356l5-14-6 2-5 4M994 348l5-4-5-7-6 0M911 305l6 6-6-10-5 3M892 301l5-1-5-7-6-4M752 236l6-4-4-4-6 0M1153 419l5-8-6-4-6 4M922 317l5-12-5-4-5 10M892 293l6 5-5-10-5 2M690 200l7 9-4-7-6 0M1045 361l5-2-6-9-5 1M947 325l5-8-5-9-5 10M903 301l5-7-5-7-5 11M898 298l5-11-5-9-5 10M699 204l6 1-4-3-4 7M693 202l5-5-4-2-5 3M942 306l6 6-6-15-5 3M816 254l5-7-5-4-5-2M803 243l6 0-5-6-5 4M776 232l5 0-4-7-5 3M698 197l5 0-4-5-5 3M948 312l5-8-5-7-6 0M886 287l5-14-5-8-5 11M868 272l5-6-5-4-5 3M825 255l5-7-4-9-5 8M734 212l5-1-4-8-4 11M731 214l4-11-4-4-4 10M1097 368l5-10-6-5-5 9M958 306l5 1-5-9-5 6M764 220l6 1-4-2-6-6M746 213l5 0-4-12-5 8M1173 393l5 4-7-7-4-4M1134 372l5-2-7 0-5 7M934 287l5 5-5-8-5-1M808 237l5-2-5-6-4 7M770 221l4-7-3 1-5 4M1171 390l6-6-7 1-6 9M1010 318l5 7-5-16-5 0M964 301l5 2-5-14-5 10M939 292l5-9-5-5-5 6M920 281l5-2-5-9-5 1M897 274l5-6-4-5-6 3M888 266l5-4-4 3-5-1M1015 325l5-8-5 1-5-9M974 304l5-4-5-6-5 9M969 303l5-9-5-3-5-2M954 296l5-9-5 2-5 9M925 279l5-1-5-13-5 5M838 237l6 9-5-11-5 1M762 208l5-1-4-3-5 0M758 204l5 0-4-5-5 4M1010 306l5 9-5-18-5 3M935 282l5-7-5-13-5 16M864 246l5 2-4-5-6 1M848 250l4-15-4 2-4 9M844 246l4-9-4-3-5 1M767 207l5-1-4-5-5 3M1064 329l5-4-5-2-6 5M1047 322l5-1-5-3-5 4M1042 322l5-4-5-9-6 6M989 300l5-1-5-10-5 7M945 278l5 1-5-5-5 1M869 248l5 0-4-5-5 0M857 245l5 2-5-7-5-5M805 217l4-5-3 2-5 7M1052 321l6-3-6-5-5 5M1047 318l5-5-5-7-5 3M994 299l5-7-5-5-5 2M932 275l4-13-4-2-5 1M766 202l5-6-4-6-5 2M1295 414l5-3-7-5-5 3M1052 313l5-2-5-2-5-3M941 272l5-4-5-10-5 4M859 239l4-7-4-5-5 6M854 233l5-6-4-6-5 12M951 273l5-5-5-8-5 8M901 249l5-2-4 0-5-4M894 245l4-12-5-7-4 9M872 229l5 4-4-7-5 2M849 217l5 0-4-7-5 3M830 211l5 2-5-12-4 6M804 202l5 2-4-9-5 3M1293 388l4-1-7-7-5 5M1159 342l4-4-5-10-5-3M1050 297l5-9-5 2-5 1M776 182l5 1-3-2-6-2M1311 399l5-9-7-2-6 8M1294 384l4-1-6-6-4-1M1259 369l5-7-7 2-4 1M1050 285l5-2-6 0-5 2M1044 285l5-2-5-6-5 1M926 234l5-1-5-2-5 0M871 214l5 2-4-6-5-3M804 194l4-10-4-6-4 8M1257 364l5-3-8 0-4 2M1060 289l4 0-5-3-4-3M1055 283l4 3-5-5-5 2M1014 269l5-4-5-4-5 4M957 246l5-1-4 1-5-6M876 216l5-1-4-8-5 3M861 209l4-1-4-3-4 4M1332 388l5-4-7-5-4 0M1130 309l5-1-5-6-5 6M1086 293l5-7-6-2-5 8M967 253l4-9-4 0-5 1M962 245l5-1-5-7-4 9M1308 375l5-9-8 4-5 4M1101 299l5-7-5 1-5-2M940 232l5 1-4-4-5-2M894 221l5-3-4-5-5 4M890 217l5-4-4-3-5 0M862 201l5 4-4-4-5-8M1038 266l5-1-5 0-5-1M936 228l5-5-5-4-4 7M932 226l4-7-4-1-4 2M844 192l5 0-4-3-5-6M1289 357l4 0-6-6-5 6M1282 357l5-6-7-6-5 6M1168 312l4 3-6-7-4 2M1089 287l5-6-5-7-5-1M1009 257l4-7-4 2-5 2M976 235l5 7-5-12-4 3M954 231l5-3-5-1-5-6M864 199l5-6-4-4-5-2M1190 317l4 0-5-5-5 0M1160 309l5-4-6-6-4 7M1099 297l5-13-6-6-4 3M1073 277l4-6-5-2-4 0M959 228l4-3-4-7-5 9M904 214l5-4-4-6-5 8M839 186l5-1-4-4-5 0M835 181l5 0-4-3-4 2M814 177l5-5-4-3-4 9M1354 376l5-6-7-5-4 2M1194 317l5-3-5-9-5 7M1098 278l5 3-5-6-5-4M1077 271l5 4-5-7-5 1M1062 269l5-8-5-5-5 6M1018 247l5 3-5-9-5-1M990 241l5-10-5-4-4 9M909 210l4-6-4 0-4 0M840 181l5 2-4-8-5 3M826 176l4-1-3-1-5-3M1359 370l3 0-6-5-4 0M1199 314l5-5-7 4-3-8M1175 312l5-12-6-7-5 11M1098 275l4-3-5-6-4 3M1082 275l5-7-5-7-5 7M890 200l4-5-4-7-4 10M841 175l5 5-4-6-5 0M1313 349l5-3-7-6-5 9M1278 345l4 0-5-8-4-2M1204 309l4 0-6-3-5 7M1277 337l3 4-5-17-5 14M1270 338l5-14-6-2-6 16M1263 338l6-16-6-6-6 12M1220 310l4 1-5-5-5-1M1096 266l5-3-5 1-5 1M836 172l4 1-3-6-5 2M832 169l5-2-4-3-4 3M1280 341l5-12-6-7-4 2M1236 317l5-4-6-9-5 10M1177 295l4-2-5-6-4-4M1065 254l5-5-5 1-5 5M899 194l5-5-5-10-4 3M865 182l5 0-4-4-4-1M1090 253l4-1-5-1-4 4M1046 237l4 4-5-5-4 0M1027 232l4-1-5-6-4 2M973 213l4 0-4-1-4-2M969 210l4 2-4-4-5-2M884 181l5 1-4-6-5-2M870 182l4-2-3 0-5-2M1303 332l4-1-6-9-4 4M1227 306l5-10-6-1-5 9M965 204l4 4-4-8-5-1M948 210l4-11-4 1-4 6M889 182l4-3-4-4-4 1M1313 334l5-5-7-5-4 7M1113 253l4 5-5-6-4 1M1035 234l5-11-5-3-4 8M978 210l4-2-4-10-5 7M1283 312l4-4-5-8-5 7M921 181l5 2-4-4-5-1M1191 280l5-9-5-5-5 5M1012 212l5-5-5-4-4 12M926 183l4-4-4-5-4 5M1163 266l4-8-5-6-4 6M1008 211l4-5-4-3-4 7M930 179l4 8-4-11-4-2M1394 348l6-15-6-5-7 16M1270 296l4 0-5-8-4 3M1241 282l4 0-6-6-5 11M1085 234l5-7-5-8-4 11M1364 329l4-2-6-9-5 9M1274 296l4-2-6-1-3-5M1119 235l5 2-5-5-5 1M935 178l4 0-4-5-5-1M920 172l4-3-4 0-4 1M1153 246l4-2-5-5-4 3M939 172l4 0-4-1-4-6M1382 328l5-10-7-1-4 0M1233 268l4 1-5-5-4-2M1033 200l5-4-5 1-4-1M881 151l4-7-3 0-5 3M1339 310l5-10-6-6-4 6M1284 283l4 0-5-10-4 2M1220 263l4 1-5-10-4 2M1136 236l4-7-5-2-4 2M1042 203l4-1-4-10-4 4M991 184l4-4-4 1-4-2M940 167l4-3-4-6-4 7M1288 283l4-5-5-6-4 1M1224 264l4-8-5-4-4 2M1050 200l5 1-5-10-4 11M1012 188l4-9-4 7-5 2M963 178l4-7-4-11-4 18M1292 278l3 3-5-9-3 0M1201 250l4-6-5-3-5 12M1055 201l4-4-5-6-4 0M956 167l4 3-4-8-4-1M1345 298l4-4-5-13-4 3M1320 284l4-1-5-7-5 6M1123 222l4-4-5 2-4 4M937 159l4-5-4-1-3 11M1204 241l4 0-5-6-5 8M1198 243l5-8-6-3-3 0M1076 198l4 3-4-7-4-1M995 181l4-7-4-2-4 4M991 176l4-4-4 0-4-2M971 169l4-3-3-5-4 10M975 166l5 6-5-14-3 3M960 160l4-3-4-3-4 1M956 155l4-1-4 0-4 0M895 138l4 1-3-4-4 3M892 138l4-3-4-3-4 5M1382 296l5-7-7 2-3-6M1349 291l5-10-5-6-5 5M1284 259l3 4-5-9-3-1M1045 187l4-3-5 2-4-2M980 172l3-10-3-2-5-2M1253 255l4-10-5-5-4 5M1066 188l4 2-5-6-4 1M968 161l4-2-4-7-4 3M942 151l4-3-4-4-4 7M1332 275l4-3-6-1-4 8M1321 268l4-5-6-3-3 0M1285 260l5-7-6-1-4 3M1143 210l4-1-5 0-3-3M1074 193l4-9-4-5-4 11M1052 187l4-7-4-3-4 9M1048 186l4-9-4-6-4 12M1044 183l4-12-4-4-4 13M972 159l4 2-4-11-4 2M1413 294l3-1-6-2-3-1M1266 248l4 1-5-6-4 1M1180 216l4 0-4-7-5 5M1146 206l4-2-5-6-4 9M1031 170l4-1-4-3-4 1M1412 293l5-10-6-4-3 1M1338 266l3 0-5-9-4 2M1199 220l4-1-5-2-4-1M1043 171l4 0-4-4-4 1M1035 169l4-4-4-4-4 5M961 150l4-2-3-7-4-1M1366 270l3 1-6-7-4 6M1341 266l4-4-5-8-4 3M1256 235l3 4-5-7-4 1M1239 233l4 2-5-7-4 2M1015 159l4 6-4-8-4-1M1408 277l3 0-6-3-3-4M1233 221l3 6-5-8-3 1M1197 215l3-3-5-3-3-6M1143 197l4-1-4-4-4 2M969 141l4 3-4-4-4-4M1268 238l4-4-6-3-3 4M1263 235l3-4-4-6-4 4M1241 231l4-7-5-5-4 8M1236 227l4-8-5-2-4 2M1205 215l4 2-5-8-4 3M995 151l4-4-4-7-3 9M977 147l3-9-3 1-4 5M1345 261l4-3-6-3-4 3M1209 217l4-5-5-7-4 4M1146 196l4-5-4-8-4 0M1054 167l4-7-4-1-4 0M1423 281l6-17-7 2-5 11M1417 277l5-11-7 0-4 4M1254 228l4-4-6-3-2-11M1141 190l3-5-4-2-4 3M977 135l4 5-4-7-4 0M959 131l4 1-4-3-4-5M1196 211l4-9-4-18-4 19M1177 201l4-9-5 3-4 1M1172 196l4-1-5-2-3-1M942 125l3 3-3-4-4-2M1205 205l4-2-5-3-4 2M1162 193l4-7-5-5-4 4M1121 180l4-8-4-4-4 9M1078 164l4-2-4-5-4 8M942 124l4-3-4-4-4 2M1487 285l4-4-7-5-3 2M1353 249l4-5-5-6-4 4M1086 166l4-1-4-8-4 5M1029 150l4-1-4-6-3 5M1263 220l4-9-5-6-5 13M1257 218l5-13-5-2-4 10M1203 195l3-2-5 1-3-1M1198 193l3 1-4-4-4 2M1107 168l3 2-4-4-4-2M1073 159l4-3-4-1-4-1M988 132l4 0-4-8-4 7M1332 233l3 2-6-2-3 3M1150 180l4-5-5-4-4 6M1073 155l3 1-4-4-3-3M1003 133l3 3-3-6-4-3M981 129l4 0-4-3-4-4M1470 268l3-1-7 1-3 0M1411 260l4-4-4-12-4 2M1167 180l4-4-5 4-3 0M1163 180l3 0-4-8-4-1M1097 165l3-5-4 2-3-2M1093 160l3 2-4-11-3 1M1072 152l4 0-4-5-4 1M1485 276l4-6-7 1-3 2M1479 273l3-2-6-2-3-2M1473 267l3 2-7-3-3 2M1344 231l4 0-5-11-4 12M1253 206l3-3-5 0-3-5M1157 176l3 1-4-9-3 0M1010 135l4-7-4-5-4 8M996 136l3-8-4 0-3-3M1450 262l3-3-7 4-4 2M1256 203l4-2-5 0-4 2M1192 190l4-7-5 1-3-5M1160 177l4-3-4 0-4-6M1063 147l4-1-4-3-4-1M1446 263l4-10-6-5-3 6M1334 225l4-5-6-1-3 2M1329 221l3-2-5-5-3 4M1191 184l4-2-4-5-4-1M1164 174l3 0-4-3-3 3M1071 150l3-4-3-9-4 9M1021 135l4-5-4 2-4-5M1017 127l4 5-4-7-3-2M996 128l3-9-4-4-3 8M1224 185l3 3-4-9-4 3M1195 182l4-3-5-7-3 5M1167 174l4-1-4-5-4 3M1063 144l3-4-4-2-3-2M1399 232l2 5-5-8-4 5M1392 234l4-5-6-2-3 3M1314 211l3-1-5-2-3-4M1303 207l3 2-5-5-2-4M1227 188l4-3-5 0-3-6M1199 179l3 2-4-8-4-1M1149 167l3-5-4-2-3-1M1090 146l4 1-4-11-4 4M1066 140l4-3-4-3-4 4M1515 266l2 0-6-4-3 2M1508 264l3-2-5-7-4 7M1450 248l3 0-6-6-2 1M1407 239l4-8-6-3-4 9M1301 204l3 1-4-7-4 3M1202 181l3-4-4-4-3 0M989 118l3-4-3 0-4 1M1336 218l3-2-4-8-4 4M1178 168l3-1-4-2-4 3M1109 148l4-1-4-5-4-1M1003 116l3 1-3-3-4 1M989 114l3 0-3-8-4-1M1513 266l3-4-5-7-4 3M1390 229l4-6-7 3-3-1M1339 216l3-2-3-15-4 9M1256 191l4 0-4-9-4 4M1218 181l3-1-4-5-3 0M1151 158l3-4-4 1-4 0M1146 155l4 0-4-5-4 3M1522 266l5-9-6-6-5 11M1491 250l2 2-5-7-3 2M1342 214l4-3-5-4-2-8M1203 174l4-6-5-9-4 15M1499 258l5-10-7 1-4 3M1493 252l4-3-6-7-3 3M1444 236l3 0-5-10-4 10M1438 236l4-10-7 3-3 4M1402 226l3-2-5-2-2-8M1384 225l5-12-5-3-5 8M1335 206l4-2-6 2-4 3M1324 206l4-8-5-3-3 3M1254 183l3 0-5-7-3 0M1184 163l3-1-4-1-3-6M1435 229l2 2-4-7-3-2M1405 224l2 4-4-8-3 2M1400 222l3-2-7 1-2-3M1394 218l2 3-4-7-3-1M1343 209l4-1-5-4-3 0M1339 204l3 0-6-3-3 5M1157 152l3-3-4 0-3-2M1099 143l3-11-4-2-3 13M1075 130l4 1-4-2-3 2M1072 131l3-2-4-7-3-2M1042 120l3-2-4 1-3 0M1038 119l3 0-3-4-4 1M1017 118l3-6-4-2-3 3M996 108l3-1-3 0-4-2M1485 251l5-10-6-3-4 8M1396 221l4-3-5-6-3 2M1374 213l2 5-3-12-4 7M1342 204l3-3-5-7-4 7M1213 169l4-6-5-4-3 3M1139 149l3-2-4-6-4 8M1134 149l4-8-4 3-4 3M1079 131l3-6-3-5-4 9M1373 206l2 0-5-3-4 7M1155 151l3-4-4-1-3-2M1052 120l4-2-4-9-3 9M1380 215l5-13-5-7-5 11M1150 148l3-4-4-1-4 3M1121 139l3-3-3-6-4 6M1101 133l4-4-4-4-4 8M1097 133l4-8-4-2-4 7M1059 119l4 0-4-2-3 1M1434 228l4-7-5-7-4 9M1395 212l3-1-5-8-3 3M1340 199l4-7-6 4-3 2M1063 119l3-3-4-3-3 4M1041 111l3-4-3 2-4 0M1498 239l4-8-5-5-4 6M1066 116l3 2-3-3-4-2M1084 122l4-5-4-5-3 2M1066 115l3-1-4-1-3-3"/>
<path color="#731" d="M1249 390l5-3-6-11-6 11M1147 331l4 6-5-10-5 0M1431 330l6-13-6-7-6 10M1299 244l4-2-4-13-5 10M1302 194l3-2-5-2-3 0"/>
<path color="#d53" d="M765 422l5-16-4 1-6 13M674 363l7-5-5-2-6 4M537 277l7-2-3-1-7 2M854 469l7-20-6 6-6 15M681 358l7-4-5-4-7 6M643 334l7-2-4-1-7 2M1060 576l8-11-8-6-8 12M1052 564l7-14-8-8-7 15M1051 542l7-1-7 0-7 2M878 435l7-1-6-1-7 4M756 366l8 2-5-5-7 3M928 457l7-10-6 2-7 1M886 427l7 2-6-6-7 5M654 298l6-6-3 3-6 5M887 423l7-7-6 0-6 6M882 422l6-6-6-8-6 11M1049 501l6-3-7-2-7 11M808 373l7-3-5 2-6 1M948 442l7-7-6 2-7 9M867 398l6-11-5 9-7-2M601 254l5-12-2 6-6 6M943 431l6-4-6 0-6 5M817 367l5-17-4 6-6 10M1076 498l6-15-7 1-7 11M651 267l5-8-2 5-7-2M731 303l6-4-4-1-6 6M698 283l7-1-4-1-6 4M975 417l6-1-6-4-6 9M660 260l5-4-3-2-6 6M963 406l6-1-6-4-6 6M656 257l4-14-3 1-5 10M957 402l6-7-5-2-7 4M951 397l7-4-6-11-6 17M890 369l6-11-5 4-6 4M830 334l6-3-5 1-6-5M726 273l6-2-4 0-5 8M924 369l6-7-5 3-6 4M858 338l6-10-5-1-6 9M834 320l6-1-5-5-6 5M793 306l6-10-5-5-5 8M970 381l6-7-5-4-6 8M774 278l7 6-5-10-5 7M976 374l6-2-6-4-5 2M838 309l5-10-4 1-5 12M781 284l5-10-4 0-6 0M1023 388l6 0-6-2-6 8M834 300l6-4-5-2-5 11M831 292l5-4-4 0-5 7M790 271l5-8-4-1-6 3M684 221l5-8-4-1-4 8M879 306l6 0-5-3-5 6M717 230l5-5-4-5-3 15M1053 379l5-2-6 0-6-3M1058 377l6 2-6-7-6 5M906 304l5-3-4-1-6 2M712 214l6 0-4-2-5 6M682 202l5 0-3-4-5 6M1016 352l6-14-6 3-5 6M1011 347l5-6-5-1-6 2M700 204l6 0-4-1-5 2M684 198l5 0-3-3-5 5M1172 415l6-5-7-2-6 10M1016 341l6-4-6 0-5 3M927 305l5-9-5 2-5 3M706 204l5 1-3-2-6 0M686 195l4-7-3 3-4 7M1149 391l6-7-7 0-6 7M904 281l5-2-4 1-6 2M881 276l5-11-4 1-5 10M877 276l5-10-5 2-5 6M785 230l5-1-4-1-5 4M770 228l4-11-3 3-4 9M717 204l4-7-3 0-5 1M710 200l5-2-3 0-6 1M1148 384l5-6-6 1-6 5M999 324l6-7-6-3-5 5M773 218l5-3-4-1-4 7M1145 374l6-7-7 0-5 3M959 299l5-10-5-8-5 15M1037 329l5-8-5-8-6 15M893 262l5-7-4 0-5 10M1026 324l5-15-5 1-6 7M954 289l5-11-5-3-5 5M1070 325l5-4-6 4-5 4M1053 322l5-9-6 8-5 1M964 279l6-1-5-6-5 4M777 204l4-3-3-2-5 2M1020 301l5-9-5 3-5 6M870 236l6 1-5-3-4 8M778 199l4-6-3-1-4 9M775 201l4-9-3 2-5 2M1020 295l5-6-5-5-5 10M779 192l5 4-4-8-4 6M742 182l4-5-3 2-4 4M791 196l5-1-3-1-5 5M999 280l5-13-5 5-5 5M858 214l4-4-3 3-5 4M805 195l4-3-3 1-5 3M783 185l5-4-4 0-4 6M811 191l4-4-3-1-5 6M1306 381l5-3-7-3-6 8M976 249l4-3-4 2-5 2M905 228l4-12-3 4-5 9M826 195l5-9-4 3-4 5M1107 293l5-5-6 4-5 7M971 244l5-8-5-1-4 9M967 244l4-9-4 2-5 0M1106 292l5-11-6 6-4 6M1058 275l5-13-5 6-5 4M1043 269l5-3-5-1-5 1M1058 268l5-2-5-3-5 0M872 200l4-6-3 3-5 6M1293 357l6-13-8 3-4 4M1291 347l4-2-6-6-5 9M1189 312l5-7-6-4-5 9M1164 298l4-4-5-1-5-3M1113 279l5-9-6-1-4 3M1108 272l4-3-5 3-5 0M1032 244l5-2-5 0-5 8M1161 294l5-13-6 4-4 5M1156 290l4-5-5-5-5 7M811 158l5-3-4-1-4 6M1111 266l5-3-6-1-4 3M1106 265l4-3-5-5-4 6M1070 251l5-9-5 7-5 5M977 215l5-2-5-1-4 2M1165 281l4-1-6-1-4 0M1070 249l4-10-5-1-4 12M841 162l4 3-3-4-5 2M1239 310l5-15-6 2-5 7M1233 304l5-7-6-1-5 10M1180 284l5-4-6 0-5 6M1169 280l5-5-6-1-5 5M1163 279l5-5-6-1-4 3M878 173l4-1-4-1-4 9M845 165l4-11-3 8-4-1M842 161l4 1-3-3-5 4M1301 322l5-6-8 5-4-1M924 191l5-2-5-4-4 3M920 188l4-3-3 1-5-1M990 208l5 0-4-5-5 10M969 201l5-2-5 0-4 5M924 185l5-2-4-1-4 4M1391 351l5-12-8 6-5 7M965 200l4-8-4 2-4 1M949 193l4-8-4 0-4 5M1306 316l5-9-7 7-5 6M941 188l4-7-4 1-4 5M900 172l4-7-4 0-4 4M1334 317l4-4-7 4-4 4M1012 206l4-8-4 2-4 3M1345 315l4-3-6-4-5 5M1338 313l5-5-6-6-6 15M1287 294l4 0-6-1-4-2M923 170l4-3-4 2-4 0M1285 293l4-4-7 2-4 3M954 176l4 2-4-3-4 1M950 176l4-1-3-1-4 7M947 181l4-7-4-3-4 9M1289 289l4-2-7 0-4 4M1303 286l4-5-6 3-5 4M1296 288l5-4-6-3-5 4M1240 262l4-6-6-3-4 11M1212 248l4-5-6 4-4 3M1365 298l5-9-8 9-5 5M1302 276l5-6-7 3-5 8M1205 244l4-3-5 0-4 0M1063 201l4-9-4 0-4 5M979 171l4-3-4 2-4 0M930 154l4-3-4-3-4 5M1300 273l4-4-6 0-4-1M1248 255l4-7-6 4-4 2M979 170l4-8-4 5-4 9M898 139l4-3-4 0-3 11M1309 276l5-9-6 1-4 1M1003 174l4-3-4-4-4 7M999 174l4-7-4 5-4 0M1308 268l5-11-7 6-5 10M1367 285l4-5-6-1-5 6M1243 241l4-8-6 7-5 8M1371 280l3-1-6-1-3 1M1349 273l4-8-7 8-3-1M1147 209l4-6-5 3-4 3M1353 265l4 1-7-1-4 8M1259 241l5-8-6 0-5 10M1350 265l3 2-5-6-3-1M984 153l4-6-4-1-4 4M969 149l4-5-4-1-4 4M1353 267l5-8-6 0-4 2M1219 222l4-5-6-2-4 8M999 152l4-4-4 2-4 6M1254 232l4-3-6-3-3 3M988 146l4-6-4-2-4 10M1359 254l4-5-8 8-4 6M1204 209l4-4-5-3-4 10M1063 165l4-6-5 5-3 1M1155 189l3-2-4-1-4 5M1362 251l4-2-6-2-4 3M1181 192l4-2-5-1-4 6M1275 222l4-4-5-2-4 7M1214 200l4-2-6 1-3 4M1099 168l3-4-4-2-4 6M1094 168l4-6-4 3-4 0M1269 216l3-5-5 0-4 9M974 125l3-3-3 0-4 6M1422 259l4-10-7 5-4 4M1299 223l4-6-5-4-5 9M1115 166l3-6-4-1-4 11M1106 166l4-5-5-2-3 3M970 123l4-5-4 3-3 6M1250 200l3 6-5-8-3 2M1171 176l4-4-5-1-4 9M1139 170l4-10-5 7-3 2M1105 162l3-3-4-4-4 5M988 123l4-2-4 0-3 4M1418 252l5-8-6-2-4 6M1389 241l4-10-6 0-4 9M1207 190l4-10-5 2-4 7M1202 189l4-7-5 4-3-4M1117 159l4-7-5 3-4 7M1387 231l3 0-6-1-5 11M1173 173l4 0-5-1-3 0M1099 156l4-11-4 3-4 8M1327 214l4-4-6 3-3 0M1208 181l4-5-5 3-4-1M1226 185l4-12-5 3-4 7M1221 183l4-7-5 0-4 6M1216 182l4-6-5 1-3-1M1157 162l3-2-4-1-4 3M1466 250l4-9-7 1-4 7M1429 235l4-5-7 5-3 2M1326 210l4-11-6 3-5 13M1192 170l3-3-4-1-4 2M1463 242l3 1-6-5-3 3M1267 188l3-1-5-3-3 3M1394 223l4-9-6 3-5 9M1176 160l4-5-5 0-4 7M1154 154l4-6-5 4-3 3M1507 252l4-7-7 3-5 10M1220 173l4-4-5-2-4 7M1453 235l5-10-7 2-4 9M1238 173l3-2-4-4-4 11M1494 239l3 0-7 2-5 10M1056 120l4-1-4-1-3 3M1053 121l3-3-4 2-3-1M1497 239l3-2-7 0-3 4M1407 213l3-1-7 1-3 5M1410 212l3-2-6-1-4 4M1258 168l3 1-5-1-4 7M1346 192l4-3-6 3-4 7M1145 140l3-8-4 0-4 11M1016 102l4-2-4 0-3 3M1427 212l2 4-5-7-3 3M1401 206l3-2-5-3-3-1M1092 120l3-3-4 0-3 4"/>
<path color="#c53" d="M1015 554l7-8-8-8-7 14M937 511l7-21-6 10-7 8M528 255l6-4-2 3-8-2M641 304l6-6-3 0-6 5M892 429l7 3-6-3-7-2M866 403l6-2-5-3-7 4M649 288l5-8-4-3-6 5M689 300l6-4-3 1-7 1M598 254l6-6-4-2-6 2M1048 484l6 5-7-10-6 3M1041 482l6-3-7-7-7 16M932 404l7-3-6 0-7-2M766 324l5-12-4 1-6 2M969 421l6-9-6-1-7 1M813 339l5-8-4 1-6 4M771 312l7 5-5-5-6 1M701 281l6-4-5-5-5 6M957 407l6-6-6 1-6 2M951 404l6-2-6-5-6 0M917 389l6-12-6 5-6-3M901 375l6-9-5-4-6 5M788 317l6-10-5-2-5 7M705 272l5-8-3 3-6 5M822 332l5-14-4-1-6 4M861 318l6-1-5-7-5 12M1060 400l6-4-6-1-6 5M715 232l6 0-4-2-5 2M698 226l5-6-3 4-5 2M728 235l6-2-4-2-4 9M1033 359l6-8-6-7-5 16M1022 358l5-15-5-5-6 14M1005 342l6-2-6-6-6 10M932 312l5-12-5-4-5 9M711 205l6-1-4-6-5 5M1027 336l5-3-5-2-6 9M973 312l5 4-5-7-5 2M918 291l5-8-4 1-5 12M816 243l6-2-4 1-5 3M1190 395l6-16-7-3-6 11M907 268l5 0-5-7-5 7M1070 334l6-6-6-3-5 7M1065 332l5-7-6 4-5-6M871 234l5-2-4-3-5 4M745 181l5 0-4-4-4 5M1009 285l5-3-5-2-5 9M906 247l5-10-4 3-5 7M881 240l4-15-4 2-5 5M809 192l6 3-4-4-5 2M823 194l4-5-3-1-5 3M944 239l5-8-5 2-4 3M865 208l5-6-4 0-5 3M1284 348l5-9-7 2-5 4M1183 310l5-9-7 8-4-1M1067 263l5-4-5 2-5 8M837 174l5 0-4-1-5-1M842 174l4-2-4-4-4 5M1101 263l4-6-5 1-4 6M919 196l4 1-4-3-4-1M891 186l5-4-4 1-5 0M837 167l4-5-4 1-4 1M1285 329l5-9-7 1-4 1M1158 276l4-3-5-7-5 10M1055 241l4-12-5 5-4 7M1294 320l4 1-6-4-4 3M1040 233l5-7-5-1-5 6M973 205l5-7-4 1-5 2M929 189l4-4-4-2-5 2M986 208l4-15-4 7-4 8M941 190l4-4-4 2-4-1M1339 326l5-6-7 3-4 0M1304 314l5-15-6-1-6 14M966 194l4-8-4 1-5 0M1351 320l5-8-7 0-4 3M927 174l4-8-4 1-4 3M1159 243l4-3-6 4-4 2M1163 240l4 1-6-1-4 4M959 175l4-2-4 0-4-5M1146 235l4-5-5-1-4 8M1404 320l5-9-7-2-5 14M1397 323l5-14-7-1-5 9M1157 227l4-6-5 2-4 5M1132 219l4-3-4-7-5 9M1080 196l4-6-5 1-4 1M1264 256l5-8-6-3-4 7M1345 274l4-1-6-1-3-3M968 152l4-2-4-1-3 5M1420 294l5-8-9 7-3 1M1011 161l4-3-4 1-4 0M980 152l4 1-4-3-4 0M988 151l3 0-3-4-4 6M1250 233l4-1-5-3-4-1M992 149l3-9-3 0-4 6M1266 231l4-5-5-4-3 3M1347 247l4-1-6-6-4 5M1339 241l4-4-7 4-3 5M1186 198l3-3-4-5-4 2M1171 193l4-4-4-4-4 5M1102 164l4 2-4-4-4 0M1496 279l5-7-7-1-4 5M1003 130l3 1-3-4-4 1M988 124l4 1-4-2-3 6M985 125l3-4-3-1-4 3M1469 266l5-11-7 2-4 8M1463 265l4-8-7 1-3 2M1003 125l3-4-3-2-4 11M1469 258l4-6-7 3-3 1M1338 220l4-5-6 1-4 3M1099 148l3 5-4-8-3 1M1067 142l3-8-4 6-3 4M1466 255l5-11-8 7-4 5M1161 165l4-3-5-2-3 2M1453 248l4-7-6-4-4 5M1331 212l4-4-5-9-4 11M1426 235l3-5-6 1-3-1M1177 165l3-2-4-3-3 0M1516 262l5-11-7-1-3 5M1352 206l5-11-6 6-4 7M1412 219l3-2-5-5-3 1M1400 218l3-5-5-4-3 3M1505 242l4-4-6-4-3 3M1158 147l4-9-5 6-3 2M1490 225l3 1-7 1-4 5M1135 132l3-1-4-2-3 1"/>
<path color="#e53" d="M949 526l8-6-7 3-7 8M837 458l6-13-5 1-7 5M831 451l7-5-5-1-7 5M833 445l6-9-5-1-7 3M839 436l8-2-6-4-7 5M1060 559l7-13-8 4-7 14M783 401l5-18-4 3-6 15M1059 550l7-2-8-7-7 1M879 433l7-6-6 1-6 6M934 448l7 0-6-1-7 10M935 447l6-6-6 1-6 7M888 416l6-10-5 6-7-4M691 307l6-7-4-1-6 6M1041 496l7-12-7-2-7 12M949 437l6-10-6 0-6 4M697 291l5-11-4 3-5 7M705 282l5-7-3 2-6 4M924 376l5-13-5 6-6 8M859 327l5-7-4 1-6 8M854 329l6-8-5-5-5 10M976 378l6-8-6 4-6 7M1134 438l6-11-8 2-5 5M844 296l6-1-4-2-6 3M775 267l6-7-4 1-5 7M858 284l5-4-4 2-5 7M1169 424l5-8-7 3-6 3M1040 365l5-10-6 6-5 5M911 301l6-2-5-1-5 2M917 299l5-5-4 1-6 3M967 314l6-2-5-1-5 10M918 295l5-7-5 3-5 6M889 285l6-4-5 1-5-1M708 203l5-5-3 2-5 5M899 282l6-2-5-4-5 5M895 281l5-5-4 3-6 3M1032 333l6-3-6 1-5 0M771 220l6 0-4-2-5 4M715 198l4-9-3 4-4 5M1194 394l5 0-7-1-6 13M999 314l6-5-6 0-5 13M906 269l5 1-4-2-5 6M1183 387l6-11-7-3-5 11M1043 324l5-5-6 2-5 8M959 287l5-13-5 4-5 11M1031 303l5-9-5 2-6 20M905 248l5-2-5-3-4 10M892 243l5 0-5-6-4 10M888 247l4-10-4 4-5 4M781 201l5-5-4-3-4 6M1010 291l5-11-6 5-5 10M960 273l5-9-5 2-4 4M750 181l4-5-3-2-5 3M1319 396l6-10-9 4-5 9M1055 288l5-5-5 4-5 3M939 239l5-4-5 2-4 7M971 250l5-2-5-3-5 1M1070 287l5-9-6 6-5 5M1079 280l5-7-5 1-5 9M1053 272l5-4-5-5-5 3M1105 287l5-7-5 2-5 5M1053 263l5 0-5-2-5 5M1048 266l5-5-6 1-4 3M1018 252l5-1-5-1-4 2M853 191l4-10-4 6-4 5M1018 250l5-4-5 1-5 3M853 187l5-2-4-1-4 6M905 200l5-3-4-1-5 3M833 172l5 1-4-2-4 4M1168 294l5-1-6-3-4 3M1118 275l5-7-5 2-5 9M1037 246l4-4-4 0-5 2M864 183l4-5-4 0-4 7M1297 339l6-13-9 9-4 5M1167 290l5-7-6-2-5 13M1112 269l5-2-6-1-4 6M1032 242l4-5-4-1-5 0M1027 236l5 0-5-1-5 3M857 176l5 1-4-3-4 4M1159 279l4 0-5-3-5 6M1290 320l4 0-6 0-5 1M1186 289l5-9-6 0-5 4M952 199l4-10-3 8-5 3M1311 324l5-4-6-5-4 1M1040 225l4-14-4 12-5 11M847 156l4 0-3-2-4 8M1310 315l4-3-8 4-4 7M945 190l4-5-4 1-4 4M1203 275l5-3-6 3-5 6M842 150l4-3-3-1-4 5M1340 322l5-7-7-2-4 4M1178 260l4-4-5-2-5 8M904 165l4-2-4 1-4 1M951 174l4-6-4 4-4-1M947 171l4 1-4-3-4 3M967 176l4-12-4 7-4 12M1354 300l4-2-7 1-5 10M903 153l4-6-4 2-4 6M1301 284l4-7-7 3-3 1M1242 262l4-10-6 10-5 4M1145 229l4-4-5 3-4 1M971 173l4-6-4 3-4 4M1244 256l4-1-6-1-4-1M1210 247l5-5-6-1-4 3M926 153l4-5-4 0-4 8M1360 288l4-5-7 4-4 0M1131 212l4-4-5-4-4 8M1084 196l4-7-4 1-4 6M987 155l4-1-4 0-3 2M984 156l3-2-3-3-4 8M976 150l4 0-4-2-4 3M1220 222l4 1-5-1-4 4M1215 226l4-4-6 1-4 3M980 150l4-4-4 1-4 1M1224 223l4-3-5-3-4 5M1352 259l4-6-8 6-3 3M1031 157l3 1-4-1-3 5M1252 226l4-4-5 0-4 8M1265 222l4-6-6 8-4 6M1341 245l4-5-6 1-3 1M1149 186l4-5-5 1-4 3M1345 240l3 2-5-5-4 4M966 129l4-5-4 1-3 8M1366 249l4-5-7 1-3 2M1112 169l3-3-4 2-4 4M1370 244l4-5-7 4-4 2M1098 162l4 0-5 0-3 3M970 128l4-6-4 1-3 3M1441 261l3-2-6-3-4 7M1246 205l4-5-5 0-4 4M1085 157l4-5-4-1-4 7M1081 158l4-7-5 2-3 3M1494 271l4-7-9 6-4 6M1044 139l4-1-4 0-4 5M1413 248l4-6-7 0-4 9M1108 159l4-5-4-1-4 2M1467 257l2 1-6-2-3 2M1460 258l3-2-6-2-4 5M1079 148l4-8-4 5-4 3M1176 171l4-7-5 3-4 6M1036 132l3-11-4 6-3 2M1121 147l4-7-5 4-3 6M1511 255l3-5-7 2-3 3M1268 188l4-10-5 3-4 4M1193 164l3-5-4 0-4 7M1104 137l3-7-4 8-4 1M1083 131l4-1-4-3-4 4M1200 161l3-4-5 2-3 1M1447 226l3-1-5-4-4 7M1129 132l3-2-4 2-4 4M1459 221l4-7-7 1-3 5M1453 220l3-5-6 1-3 2M1447 218l3-2-6 0-3 0M1407 206l4-5-7 3-3 2M1358 190l4-5-7 5-3 4"/>
<path color="#831" d="M993 551l7 2-8-19-7 7M635 334l8 1-5-10-7 3M611 314l7-5-6-10-6 4M1029 573l8-17-8-24-7 14M519 250l7 3-4-8-9-7M773 398l7-1-5-5-8-4M605 291l8 5-6-12-5 7M541 259l7 1-4-7-6 3M526 253l5-11-3 1-6 2M920 478l7-9-7-7-7 0M696 341l7 3-5-10-7-1M581 278l7 0-4-6-8-5M567 267l7 2-6-18-6 7M557 261l7 1-6-13-5 9M747 364l7 0-5-8-7 4M638 303l6-5-4-1-7-3M972 482l7-1-6-4-7-3M868 433l7-2-6-10-7-5M754 364l6-9-5-7-6 8M667 309l8 10-5-9-7-3M590 268l7 4-3 0-10-15M852 412l8 2-6-6-7-4M675 319l6-9-5-9-6 9M594 272l5-7-5-11-7-5M577 261l7 3-5-13-7-2M572 249l7 2-4-4-5 7M570 254l5-7-5-9-5 5M616 269l6 0-6-16-6 0M1013 482l7 6-7-7-7-6M799 370l7 3-6-12-7 2M574 238l7 1-4-3-6-1M1020 488l7-11-7-6-7 10M1121 515l6 10-7-14-7-4M808 353l7 1-6-7-6 1M765 326l7 1-5-4-6 2M735 311l7 4-6-13-6 3M634 259l8 8-5-9-7-5M1127 525l6-10-7-13-6 9M909 400l7 6-6-11-7-4M778 340l5-9-5-7-6 3M616 246l7 6-4-10-8-6M1019 446l7 5-7-9-6-3M981 437l6-6-6-10-7 5M910 395l6 2-6-12-6-2M802 338l6-2-5-7-6 6M623 252l4-15-5-9-3 14M612 237l6 0-3-2-8-9M878 373l7 9-6-15-7-6M640 256l5-7-4-6-5 8M615 235l5-6-4-5-7-5M1154 503l6 3-8-6-6-2M934 403l6-4-6-22-6 5M940 399l6-7-6-15-6 0M713 280l7 3-6-16-6 3M734 280l7 6-4-9-7-5M1112 463l7-4-7-14-7 12M1037 424l6 1-6-13-6 7M814 323l6-7-6-16-5 7M1050 431l6-10-6-5-7 9M941 373l7 8-6-17-7-2M730 266l7 4-5-8-6 0M818 301l7 6-6-11-7-9M1042 406l6-2-6-8-6 6M825 307l5-2-5-7-6-2M732 256l6 0-3-1-7-2M728 253l7 2-6-13-5 5M917 340l6-1-6-5-6-2M816 290l6 3-5-11-6-2M711 239l7 5-4-7-7-6M690 231l6 1-4-4-6-3M666 218l7 7-5-7-6-7M1119 441l6-16-6-15-6 15M923 339l5-4-5-13-6 12M668 218l6-4-4-4-5 3M1197 463l5 1-6-16-6 5M893 318l6 0-5-11-6 6M749 252l7 3-4-4-7-8M1165 434l5 3-7-5-5-6M848 289l6 0-5-8-5 4M988 346l6 2-6-11-5 0M1220 440l5 6-7-13-6 9M1141 412l5-1-6-6-5-4M1089 384l5 1-6-7-6 0M771 243l6 0-5-11-5 3M1140 405l5-3-6-8-5-6M860 282l6 4-5-9-6-5M756 230l6 2-5-13-6 3M1250 448l6-14-7-9-5 8M1137 389l5 2-6-7-5-5M1068 363l5 1-6-5-5-2M862 272l6 0-5-7-5 0M820 256l5-1-4-8-5 7M762 232l5-3-4-3-6-7M1092 368l5 0-6-6-5 1M703 197l5-2-3-3-6 0M1122 373l5 4-5-22-6 11M860 258l5 3-4-5-6 0M855 256l6 0-5-2-5-5M708 195l5-2-4-11-4 10M1127 377l5-7-5-15-5 0M939 295l5 2-5-5-5-5M766 219l5-4-4-5-5 1M1164 394l6-9-6-12-6 9M1132 370l6-6-6-7-5-2M798 235l4-17-5-6-4 15M1138 364l5 2-6-13-5 4M875 253l6 2-5-7-5 0M1124 353l5 3-6-13-5 7M795 209l6 12-4-12-5 2M748 191l6 7-4-9-5 1M1015 315l5-8-5-11-5 1M882 255l5-1-4-2-6-13M801 221l5-7-4-8-5 3M845 231l5 2-4-7-5-1M798 208l5-5-4-7-5 6M1288 409l5-3-8-2-5 6M1280 410l5-6-5-17-6 9M1238 385l4 2-5-17-5 1M769 193l5 1-4-6-6-6M989 282l5-5-5-5-5-5M844 216l5 1-4-4-5 3M1067 305l5 3-5-11-5 5M965 266l5 1-5-21-4 7M822 208l5-2-4-5-5-1M790 199l4-2-4-15-4 11M1299 398l4-2-6-9-4 1M1123 324l5-5-6-2-5 4M1117 321l5-4-5-15-5 5M1094 307l5 7-5-12-5 9M1221 356l5-2-7-2-4-1M1215 351l4 1-6-5-4-3M1169 345l5-7-5-11-6 11M925 241l5 1-4-8-5 4M883 222l5 10-5-15-5-3M799 192l5 2-4-8-5 3M888 232l5-6-5-7-5-2M1292 377l4-1-6-14-4 5M1250 363l4-2-6-8-4 0M1120 313l5-5-6-8-4-1M845 201l5 2-4-12-5 7M1296 376l4-2-5-19-5 7M1209 337l5 0-7-2-4-3M1300 374l5-4-5-16-5 1M1004 263l5-2-5-5-5-11M927 220l5 6-4-6-6-7M1333 383l5-5-6-9-5 9M1033 264l5 1-5-8-5 0M999 253l5 1-5-11-4 2M1038 265l5-4-5-15-5 11M1004 254l5-2-5-10-5 1M896 216l4-4-4-11-5 5M830 181l5 0-3-1-5-3M806 171l5 7-4-10-5-2M1349 383l5-7-6-9-5 1M981 242l5-6-5-10-5 4M811 178l4-9-4-3-4 2M877 200l5-5-5-9-4 4M1302 352l4-3-6-12-5 8M925 208l5 1-5-14-4 2M1197 313l5-7-5-8-5 1M959 213l5 7-5-15-4 1M964 220l4-6-4-8-5-1M1138 277l4 9-5-11-4-4M859 181l4-7-4-11-4 7M1277 321l4 0-5-13-5 4M1221 304l5-9-6-10-4 9M831 156l5 8-4-7-4-5M1026 225l5 3-5-9-4 1M1183 283l4 1-5-15-4 3M887 174l4 1-4-12-5-3M1187 284l4-4-5-9-4-2M1078 236l4 4-5-10-4-3M1021 217l5-5-5-6-4-2M1381 343l2 9-5-18-3-4M1287 308l3 7-5-11-3-4M1039 221l5-4-5-5-4-6M999 212l5-2-5-14-4 6M873 160l5 2-4-5-4 3M1254 292l4-3-5-5-5 7M1224 286l5-4-6-9-4 5M1168 269l4-7-5-4-4 8M1081 231l4 3-4-4-4-5M1077 225l4 5-5-9-4 2M957 189l5 1-4-9-5 3M878 162l4-2-4-8-4 5M853 151l4 2-3-5-5-3M962 190l4-6-4-10-4 7M1406 344l4-5-5-14-5 8M1410 339l4-3-5-12-4 1M1272 293l4-5-5-7-4 2M912 169l5-2-5-10-4 3M879 150l5 5-4-6-4-4M1414 336l4-3-7-6-2-3M909 159l4 3-4-7-4-1M1216 266l4-3-5-7-4 7M932 169l4-4-4-8-4 4M917 162l4 5-4-14-4 9M1380 317l3 3-6-11-2-6M1083 211l4 6-5-9-4-4M1003 192l4-4-4-7-4-1M987 179l4 2-4-10-4 6M921 167l4-2-4-7-4-5M896 156l4-8-4-12-4 13M1383 320l5-10-6-7-5 6M1192 248l3 5-4-11-4-1M1087 217l4-8-4-10-5 9M921 158l5 2-4-3-5-10M882 138l5 8-4-7-5-6M1195 253l5-12-5-8-4 9M1115 219l3 5-4-12-4-3M915 156l4-3-4-5-4-2M887 146l4-3-4-1-4-3M1118 224l4-4-4-9-4 1M960 170l4-1-4-11-4 4M1437 317l2 2-5-12-3 3M1439 319l5-6-5-14-5 8M1346 288l3 3-5-11-4 6M1117 211l4 1-4-14-4 5M1094 201l4-1-5-3-4 2M1444 313l2 3-5-11-2-6M1249 253l4 2-5-10-3-2M1195 235l4-2-4-9-4-1M1121 212l4-6-4-10-4 2M1040 184l4 2-4-8-4-4M1323 273l3 6-5-11-3-7M1236 248l5-8-6-2-4 8M1231 246l4-8-4-13-5 10M1179 227l4-4-5-1-4 6M1174 228l4-6-5-11-4 9M1036 175l4 5-4-7-4-1M938 151l4-7-3-5-4 8M1442 316l4-8-4-14-5 9M917 136l4 2-3-6-4-1M1138 205l3 2-4-13-4-4M1082 194l4-8-4-9-4 7M1456 309l5-8-6-9-4 9M1410 291l2 2-4-13-4 2M1027 167l4-1-4-5-4 6M1189 223l4-10-4-8-5 11M1448 286l3 2-5-15-3 1M1311 242l2 6-5-10-3 3M1085 177l4-1-5 0-3-3M1115 184l4-5-4-13-4 3M1051 162l3 5-4-8-3-6M930 123l4 4-4-5-4-12M1478 288l3-2-5-10-3-1M1234 213l3 5-5-13-3-2M1481 286l3-1-5-9-3 0M1113 177l4 0-5-7-3-1M1003 146l4-5-4-6-4 2M955 124l4 8-3-10-4-9M1484 285l3 0-6-7-2-2M1458 275l2 2-5-9-4 3M1045 151l4 1-4-4-4 3M1467 280l3-4-6-7-4 8M1322 237l4-1-5-12-3 0M1007 138l3 0-4-3-3-7M1326 236l3-3-4-11-4 2M1463 268l3 0-5-10-3 4M1329 233l4-4-5-7-3 0M1239 203l4 0-5-10-3 3M1033 143l3 4-3-13-4 1M1189 191l3-1-4-11-3 5M1130 168l4-3-4-6-4 0M1036 147l4-6-4-6-3-1M1376 242l3-1-5-7-3 2M1354 230l3 1-5-6-4 6M1251 203l4-2-5-10-4 8M1067 148l4 2-4-4-4 1M1357 231l3-2-5-6-3 2M1160 174l3-3-4-11-3-3M1059 144l4 0-4-8-4-4M1273 203l4-1-5-1-4 2M1268 203l4-2-5-7-3 3M1145 166l4 1-4-8-4-4M1021 132l3-1-3-6-4 0M1306 209l3-2-5-2-3-1M1148 160l3 3-3-11-4 0M985 115l4-1-4-9-3 4M1151 163l4-6-4 1-3-6M1271 197l4-2-5-8-3 1M1168 166l3-4-4-4-3 2M1381 224l3 1-5-7-2-3M1322 202l2 4-4-8-3-1M999 118l4-5-4-12-3 5M1091 137l4 6-4-7-3-4M1003 113l3 2-4-12-3-2M1323 195l3 5-5-7-3 0M1297 190l3 0-4-8-4 5M1210 168l3 1-4-7-3-2M1183 161l3 0-4-8-3 2M1006 115l3-7-3-8-4 3M1326 200l3-2-4-14-4 9M1249 173l3 2-4-3-3-2M1184 153l3 0-4-3-3 0M1180 150l3 0-4-6-3 1M1330 191l3 3-4-13-3-1M1037 109l4 0-4-8-3 5M1474 228l2 1-3-13-3 0M1333 194l4-8-5-3-3-2M1385 201l2 0-4-11-3 3M1127 130l3 0-4-4-3 3"/>
<path color="#c42" d="M786 389l7-9-5-2-7 5M860 402l7-4-6-4-6 0M707 277l6 3-5-10-6 2M784 277l6-1-4-2-5 10M1140 444l7-11-7-6-6 11M697 205l5-2-3 1-6-5M1171 408l5-1-6-9-6 3M912 237l4-3-4-1-5 6M819 191l5-3-4 0-5-1M945 233l4-12-4 1-4 7M995 232l4 2-4-3-5 10M1192 287l4 0-5-7-5 9M1295 268l5-13-6 2-5 9M1263 245l3 3-5-4-4 1M1290 253l4-8-7 8-3-1M1051 176l4-9-4-2-4 8M1328 250l5-8-6-4-5 10M1108 153l3 2-4-8-3 8M1150 155l3-3-4-2-3 0M1131 130l3-1-4 1-3 0"/>
<path color="#a42" d="M1000 560l7 0-7-10-8 0M985 547l8 4-8-10-7 0M890 499l6-19-6-4-6 18M884 494l6-18-6 0-6 19M878 495l6-19-6-1-6 21M744 407l7-6-6-10-7 5M665 357l7-4-5-7-6 9M661 355l6-9-4-4-7 4M594 315l6-3-5-11-6 4M578 302l6-6-3 0-6 6M985 541l7-7-7-10-7 10M751 401l7-6-6-6-7 2M650 336l8 3-4-5-8 0M544 275l8 6-5-10-6 3M541 274l6-3-4-4-5 7M1007 552l7-14-7-4-7 19M521 254l7 1-4-3-7-3M517 249l7 3-2 0-9-7M834 435l7-5-6-5-7 8M765 395l8 3-6-10-8-3M759 385l8 3-5-5-6 9M690 349l7-6-4 4-7-1M621 310l6-8-5-7-4 14M575 287l5-8-4-6-6 2M1037 556l7-13-8-6-7-5M912 467l8 11-7-16-7-2M813 413l7-5-5-2-7 8M693 347l6-9-3 3-8-5M549 257l8 4-4-3-7-2M1044 543l7-2-8-10-7 6M926 476l7-9-6 2-7 9M901 456l7 0-6-7-8-2M865 441l7-4-6-11-7 5M548 260l5-8-3 0-6 1M933 467l7 4-7-14-6 12M908 456l7-3-6-8-7 4M752 366l7-3-5 1-7 0M1088 556l8-17-8 4-8 11M915 453l7-3-6-1-7-4M845 409l7 3-5-8-8-1M709 335l7-3-5-7-7 4M537 235l7 3-4-7-6 4M830 393l7 0-5-4-7 3M716 332l6-2-5-5-6 0M848 398l7-4-6-1-6 2M722 330l7-2-4-2-8-1M681 310l6-5-5-5-6 1M657 295l6-2-4-7-6 4M584 264l4-15-4-4-5 6M554 239l4-8-3-2-6 0M877 410l7-2-6-3-7-6M592 255l6-1-4-6-6 1M884 408l6-6-6-7-6 10M800 361l6-3-5-9-7 4M681 295l7 1-5-9-6 3M665 284l6-2-3-1-6 6M662 287l6-6-5-11-5 13M590 242l8 6-5-9-5 7M588 246l5-7-3 1-7-2M1027 477l6-5-7-3-6 2M868 396l7-7-6-7-6 7M863 389l6-7-6-15-6 16M822 375l5-15-5-10-5 17M806 358l7-2-5-3-7-4M742 327l6-6-5-8-6 6M688 296l6-4-4-2-7-3M676 290l6-2-4-5-7-1M650 274l6-3-5-5-5 7M642 266l6 2-3-1-8-8M1054 489l7-15-7 0-7 5M943 427l7-2-7-14-6 9M902 399l7 1-6-9-7 2M875 389l6-3-5-3-7-1M798 348l6-13-5 2-6 4M752 323l7-3-5-5-6 6M678 283l6-1-4-4-6 3M660 276l5-8-5-8-4 11M645 267l6 0-4-5-7-4M603 244l6-2-3-3-8-5M1120 511l6-9-8 1-6-8M1105 495l6 6-8-11-6 3M1026 460l7-1-7-9-7 1M876 383l6-1-6-10-6 1M854 368l7 4-5-8-7 0M759 320l7 4-5-9-7 0M717 304l6-6-5-4-6-1M684 282l7-3-6-11-5 10M673 275l7 1-5-5-6-1M637 258l5-5-4-7-6 2M1033 459l6-5-7-12-6 8M962 425l7-4-7-9-6 3M944 410l7 0-6-6-7-3M806 338l7 1-5-3-6 2M752 314l6-6-5-8-6 4M723 298l6-1-5-6-6 3M695 285l6-4-4-3-6 1M691 279l6-1-5-6-7-4M628 245l8 6-5-8-5 7M1148 509l6-6-8-5-6 3M1110 484l6 6-7-16-7 9M1026 451l6-13-7-4-6 8M927 398l7 5-6-21-6 14M910 385l7 4-6-10-7-4M857 356l6 0-5-4-6 1M808 336l6-4-5-2-6-1M803 329l6 1-5-7-6 1M649 255l7 2-4-3-7-7M631 243l6-4-4-2-6 0M618 237l5-9-3 1-5 6M1045 447l6 0-6-2-6-7M809 330l7 0-5-5-7-2M782 314l6 3-4-5-6 5M773 312l6-5-5-3-6 2M735 293l6-5-5-8-6 4M699 274l6-2-4 0-6 1M695 273l6-1-4-7-6 4M662 254l6 4-6-18-5 6M1160 506l7-13-9 0-6 7M1045 445l6-12-7 4-6 2M981 414l6-5-6-8-6 6M946 399l6-17-6 10-6 7M912 380l6-3-5-6-6 6M880 365l6-10-5-1-7-1M834 333l7 5-5-7-6 3M793 316l6-1-5-8-6 10M779 307l7 5-5-5-7-3M774 304l7 3-4-2-7-8M741 288l6 1-5-7-6-2M701 272l6-5-4-4-6 2M697 265l6-2-5-9-5 8M1012 427l6-24-6 12-6 10M987 409l6-2-6-7-6 1M913 371l6-2-6-10-6 7M881 354l6-3-6-6-5 7M827 339l5-20-5-1-5 14M807 314l7 9-5-16-6 4M1012 415l6-5-6-13-6 9M993 407l7-4-7-5-6 2M919 369l6-4-6-9-6 3M887 351l6-4-5-5-7 3M837 324l7 9-6-11-6-3M769 292l7 5-4-4-7-7M745 281l5-3-4-7-5 15M684 254l5-7-4 0-6 0M925 365l6-2-6-4-6-3M868 336l6 3-5-6-6 6M825 324l5-13-5-4-5 9M820 316l5-9-4-2-7-5M695 247l7 2-4-4-5 7M1169 480l6-6-7-10-7 7M948 381l5-14-5-9-6 6M840 319l6 1-5-11-6 5M782 293l5-5-4-5-6 3M1175 474l6-6-8-6-5 2M885 338l5-8-5-4-5 6M874 323l7 8-6-13-6 4M1036 402l6-6-6-5-6 5M965 366l6 1-6-12-6 2M819 296l6 2-5-11-6 1M748 264l5-6-4-3-5 3M1054 406l6-6-6 0-6 4M738 256l5-6-4-5-4 10M1169 456l7-14-8-1-6 7M1147 448l7-11-7-4-7 11M1029 388l6 0-6-12-6 10M977 365l5-10-5-5-6 8M863 311l6-2-5-9-5 7M784 276l6-5-5-6-5 4M732 245l6 0-4-2-6-2M692 228l6-2-3 0-6 2M686 227l5-2-4-7-5 4M994 368l5-8-5 0-6 6M934 336l5-6-5-8-6 13M869 309l6 0-5-7-6-2M864 300l6 2-5-2-6-7M745 243l7 8-5-8-6-3M738 245l5-2-3 0-6 0M1041 385l5-11-6-4-5-2M783 264l5-8-4-1-5 7M743 243l6 0-4-4-5 4M726 240l4-9-4-5-5 6M715 235l3-15-2 4-5 12M994 349l5 3-5-4-6-8M793 267l4-12-4-10-5 11M671 205l5-3-3 2-5-1M886 302l6-1-6-12-5 9M854 289l5-7-4-3-6 2M1095 390l6-9-7 4-5-1M791 250l6 5-5-13-5 6M756 238l5-5-3-1-6 4M1094 385l6-10-7-4-5 7M994 337l5-6-5-6-6 9M874 286l5 1-4-5-6-5M797 255l5-9-4-2-6-2M749 221l7 9-5-8-5-1M718 214l6 4-4-7-6 1M711 211l5-2-4-6-5 3M770 230l6 2-4-4-6 0M724 218l4-8-3-3-5 4M720 211l5-4-4 1-5 1M1144 394l5-3-7 0-5-2M994 328l5-6-5 2-5 2M721 208l6 1-5-11-4 5M701 202l5-3-3-2-5 0M1197 418l5-6-7-7-5 10M1142 391l6-7-7 0-5 0M1086 363l5-1-6-4-6 6M1073 364l6-13-6 3-6 5M1067 359l6-5-6-4-5 0M1016 332l5-11-5 3-6 5M994 324l5 0-5-5-5-4M933 301l5-6-5-4-5-1M914 296l5-12-6-11-4 13M813 245l5-3-4-3-5 4M781 232l5-4-3-1-6-2M706 199l6-1-4-3-5 2M1141 384l6-5-6-10-6 11M953 304l5-6-5-3-5 2M814 239l5-1-4-4-6 0M798 232l6 4-5-9-6-3M786 228l6 2-4-7-5 4M712 198l4-5-3 0-5 2M929 283l5 1-5-6-5 0M751 213l5-10-4-3-5 1M1139 370l5-3-6-3-6 6M756 203l6 5-4-4-6-4M1144 367l5-3-6 2-5-2M880 256l5-2-4 1-6-2M834 236l5-1-4-4-5 4M737 196l4-8-3 4-4 4M979 300l5-4-5-9-5 7M974 294l5-7-5 3-5 1M969 291l5-1-5-10-5 4M917 272l4-10-4 4-5 2M912 268l5-2-5-8-5 3M839 235l5-1-5-9-4 6M763 204l5-3-4-3-5 1M738 192l5-3-4-5-5 3M1221 388l5-7-7 0-5 6M1201 375l4 4-6-6-5 1M1136 352l5-12-7 8-5 8M1081 336l5-3-5-6-5 1M1058 328l6-5-6-10-5 9M844 234l5-4-4 1-6-6M839 225l6 6-4-6-6 0M760 194l6 8-4-10-6-2M1277 399l3 11-6-14-5 7M1110 338l5 0-6-9-5 11M908 254l6 2-5-6-5 7M1115 338l5-8-6-5-5 4M936 262l5-4-4-1-5 3M850 233l5-12-4-2-5 7M846 226l5-7-4 0-5 2M946 268l5-8-5-9-5 7M937 257l5 0-5-4-5 0M863 232l5-4-4-7-5 6M902 247l5-7-5 0-4 2M774 194l4-11-4 0-4 5M1084 306l5 5-6-12-5 5M853 221l5-7-4 3-5 0M826 207l4-6-3 5-5 2M1072 308l5-13-5-7-5 9M1045 291l5-1-5-7-5 3M846 206l5 9-4-9-5 1M835 213l4-10-4-11-5 9M1303 396l6-8-6-13-6 12M1105 314l5-12-6 5-5 7M957 251l4-1-4-6-5 3M921 238l5-4-5-3-5 3M781 183l5-3-3 1-5 0M1219 352l5-10-7 6-4-1M1174 338l6-12-6-7-5 8M1115 309l5 4-5-14-5 3M1039 278l5-1-5-6-5 4M930 242l5-6-4-3-5 1M833 201l4-5-4-5-4 5M1329 386l3 2-6-9-4 0M1244 353l4 0-6-9-5 7M1115 299l4 1-5-3-5 5M1049 283l5-2-5-3-5-1M995 262l4-4-5-10-4 11M948 239l5 3-4-4-5-3M872 210l5-3-4-3-5-1M812 186l4 0-4-11-4 9M1262 361l4-6-6-9-6 15M1054 281l5 2-5-8-5 3M940 236l4-3-4-1-5-5M861 205l5-3-4-1-5-3M781 171l5-3-4-2-4 4M1096 291l5 2-6-7-4 0M1038 271l5-2-5-3-5-6M981 251l4-8-4-2-5 5M886 210l5 0-4-2-6-6M1028 257l5 0-5-2-5-1M949 233l5-2-5-10-4 12M928 220l4-2-4-3-5-1M887 208l4-2-4-10-4 8M1303 362l4-4-6-8-5 9M1296 359l5-9-8 7-4 0M1043 265l4-3-4-1-5 4M1234 333l4-5-5-14-6 17M1172 315l5-7-6-8-5 8M1094 281l4-3-5-7-4 3M1058 263l4 6-5-7-4-1M1047 262l5-3-5-5-4 7M1013 250l5-3-5-7-4 12M933 217l4-5-4-2-5 3M920 218l5-10-5-5-4 10M900 212l5-8-5-4-4 1M1159 299l5-1-6-8-4 2M1137 293l4-4-5-6-5 4M1093 271l5 4-5-6-5 1M1057 262l5-6-5-12-5 15M897 203l4-4-4-4-4 5M836 178l5-3-4-1-5-2M822 171l5 3-4-6-4 4M1269 335l4 0-7-2-4 2M1194 305l3 8-5-14-4 2M1130 284l5 1-6-12-4 12M1067 261l4-6-5 5-4-4M995 231l4-1-4-4-5 1M886 198l4-10-4-4-4 11M827 174l4-1-3-2-5-3M1241 318l4 2-5-11-5 8M1140 285l5-5-5-10-5 15M1022 247l5-11-5 2-4 3M894 195l4-3-4-5-4 1M1360 362l4-6-5-12-6 11M1318 346l4-2-6-8-5 4M1257 328l6-12-7-1-5 7M1251 322l5-7-6 1-5 4M1245 320l5-4-7-1-3-6M968 217l5-3-5 0-4 6M1322 344l4-7-6-4-4 3M1243 315l5-4-7 2-5 4M1219 306l4-2-6-6-4 0M1096 264l4-6-5-7-4 3M1055 252l5-10-5-3-4 9M1051 248l4-9-5 2-4-1M968 214l5-1-4-3-5-4M1361 351l3 6-5-17-5 7M1279 322l4-1-6 0-4-3M1241 313l5-9-7 6-4-6M1217 298l4 6-5-10-5 2M1205 295l5-4-7 2-3-5M1031 235l5-1-5-3-4 1M1022 227l4-2-4 0-5 1M1283 321l5-1-7 1-4 0M1203 293l5-3-6 0-4-5M1120 264l4-3-4-8-5 5M867 175l4-9-3 4-5 4M1307 331l4-7-5-8-5 6M1288 320l4-3-6-7-5 11M1179 280l4 3-5-11-4 3M1099 253l4-4-5-6-5 10M1089 247l4-6-5 4-4-3M969 208l4-3-4-4-4-1M893 179l5-4-4-7-5 7M882 172l5 2-5-14-4 11M1324 331l4-1-5-11-5 10M1108 253l4-1-4-13-5 10M1078 239l4-3-4 0-5-7M961 201l4-1-4-5-5-6M902 181l3-11-4-6-3 11M875 169l5-5-4 0-4-1M844 162l4-8-4-1-3 9M841 162l3-9-4-7-3 7M1383 352l5-7-7-2-3-4M1336 324l3 2-6-3-5 7M1328 330l5-7-6-8-4 4M1228 290l5-6-7 4-3-7M1127 251l4-2-5-3-4 7M1117 248l4-7-5 3-4-2M961 195l5-1-5-7-4 5M957 192l4-5-4 2-4-4M888 163l4 5-4-10-4 1M877 162l4-1-3 1-5-2M1285 304l4-3-6-6-3-1M1219 278l4-5-5-2-5 6M987 205l4-10-5-1-4 8M982 202l4-8-4-1-4-5M918 174l4-2-3-1-5 2M896 169l4-4-4 0-4 3M881 161l4-2-3 1-4 2M1347 324l4-4-6-5-5 7M1265 291l4-3-6-9-5 10M1201 265l3 3-5-8-4 3M1151 256l5-12-6 2-4-1M1008 203l4-3-4-2-5-1M982 193l5 3-5-5-4-2M974 192l4 0-4-8-4 2M930 176l5 2-5-6-4-3M919 171l4-1-4-1-4-2M889 159l4 3-4-11-4 8M857 153l4-10-3 5-4 0M854 148l4 0-4-6-4 2M1357 327l5-9-6-6-5 8M1324 317l6-14-7 1-4 1M1172 252l4 2-6-6-4-1M1090 227l4 0-5-4-4-4M1012 200l4 0-4-6-4 4M978 192l4-7-4-5-4 4M930 172l5 1-4-7-4 8M908 163l4 6-4-9-4 4M1144 241l4 1-5-5-4 1M1119 232l4-2-5-1-4-2M1094 227l4-5-5 2-4-1M1034 209l4-6-4-4-5 4M999 192l4 5-4-8-4 3M935 173l4-1-4-7-4 1M908 160l4-3-3 2-4-1M1282 291l4-4-4-12-6 13M1196 258l4-7-5-2-4 5M1098 222l4-1-4-8-5 11M1029 199l4 1-4-4-4-3M917 167l3-7-3 2-5-5M1269 278l4-2-6-9-4 11M1263 278l4-11-6-1-4 7M1157 244l4-4-4-7-5 6M1122 229l4-2-5-3-4-3M939 171l4-4-3 0-4-1M913 162l4-9-4-4-4 6M888 155l4-6-4-9-4 9M1334 300l4-6-6-1-3-3M1161 240l4-3-4-5-4 1M1141 237l4-8-5 0-4 7M1131 229l4-2-5-6-4 6M1038 196l4-4-5-4-4 9M1092 212l4-8-5 5-4 8M1003 181l4 4-4-9-4 1M959 178l4-18-4 7-4 4M910 150l5 6-4-10-4 1M1423 318l2 2-4-13-5 5M1342 291l3 7-5-14-4 4M1287 272l3 0-5-4-4 0M1269 264l4 1-6-3-4 2M1234 264l4-11-6 3-4 0M1228 256l4 0-4-14-5 10M967 171l4 0-4-8-4-3M952 161l4 1-4-7-4 6M1285 268l3 2-5-6-5 4M1148 229l4-1-5-5-4-1M1114 212l4-1-5-2-4 1M922 156l4-8-3 0-4 5M1337 283l3 3-6-6-4 6M1330 286l4-6-5-4-5 7M1288 270l4-4-6-3-3 1M1194 232l3 0-5-2-4 3M1142 229l4-13-5 1-4 5M1137 222l4-5-5-1-4 3M964 169l4-11-4 4-4-4M895 147l3-11-3 2-4-1M1246 252l3 1-4-10-4 3M1076 194l4 2-5-4-4-1M991 172l4-5-4-4-4 2M1301 273l5-10-6-8-5 13M1289 266l5-9-7 6-3-4M1126 212l4-8-5 2-4 6M1062 197l4-9-5-3-3 0M964 157l4 4-4-6-4-1M960 154l4 1-4-3-4 2M909 139l4-4-3-1-4 0M960 152l5 2-4-3-4-3M928 145l3-5-3-2-4 3M924 141l4-3-4 0-4 0M1280 255l4-3-6-4-4 5M1070 190l4-11-5-1-4 6M1003 164l4 0-4-5-4 6M999 165l4-6-4-3-4 7M961 151l4-2-4-5-4 2M1446 308l5-7-6-10-3 3M1330 271l4-4-5-10-4 6M1325 263l4-6-6 1-4 2M1284 252l3 1-5-9-4 4M1087 186l4-1-5 1-4 8M1365 275l4-4-6-6-3 1M1334 267l4-1-6-7-3-2M1007 159l4 0-4-3-4 1M954 146l4-6-4-1-4-4M1246 237l4-4-5-5-3-2M1150 204l4-5-5-5-4 4M1047 173l4-8-4 6-4 0M1039 168l4-1-4-2-4 4M1336 257l4-3-7 1-2-5M1272 237l4 2-5-8-4-1M1011 156l4 1-4-4-4 4M1007 157l4-4-4 0-4-2M991 151l4-1-4-5-3 2M965 148l4-7-4-5-3 5M1182 205l4 2-5-6-4 0M1089 179l4-6-4 3-4 1M1076 171l4 0-4-2-4-1M1015 157l3 0-3-6-4 2M947 136l4-3-3-5-4 3M1411 277l4-4-6-4-4 5M1084 176l4-8-4-2-4 5M1289 237l4-6-6-2-3-2M1151 193l4-4-5 2-4 5M1059 165l3-1-4-4-4 7M1014 149l4 8-4-9-3-5M999 147l4-1-4-7-4 1M934 127l4-4-4-1-4 0M1430 278l5-7-6-7-6 17M1303 242l4-10-5-5-3 2M1213 212l4-6-5-9-4 8M1183 202l4-6-5 2-3-8M1062 164l4 2-4-9-4 3M1046 158l4-6-4-4-4 7M1014 148l4 6-4-7-3-5M1237 218l4-7-5-6-4 0M1227 207l3 0-5 0-3 3M1168 192l3 1-4-3-4-1M1158 187l4 6-5-8-3 1M1140 183l4-3-5-1-3-1M1104 171l4 2-4-4-4 0M1091 170l4-2-4-2-4-2M1007 142l3 2-3-3-4 5M938 122l4 2-4-5-3 4M1327 240l4-4-6 3-3-7M1322 232l3 7-5-10-3 1M1144 180l3-1-4-7-4 7M1125 179l4-5-4-2-4 8M1074 165l4-8-4 0-4 6M1474 277l3-1-7 0-3 4M1320 229l2 8-4-13-3 2M1303 229l4-5-6-4-3 0M1209 203l3-4-4-2-4 3M1161 181l3 5-4-6-3 0M1103 170l4-2-5-4-3 4M1065 157l4-3-4-4-4 1M1026 148l3-5-4-6-3 3M959 126l4-2-3 1-4-7M949 123l4 0-4-4-3 2M946 121l3-2-3-3-4 1M1491 281l2 0-5-9-4 4M1357 244l5-7-6-6-4 7M1285 220l3 1-5-7-4 4M1193 192l4-2-5-3-4 0M1069 154l4 1-4-6-4 1M1029 143l4 4-4-11-4 1M1427 265l4-8-5-8-4 10M1288 221l4-7-5-3-4 3M1236 202l3 1-4-7-4 1M1145 177l4-6-4-4-4 3M1069 149l3 3-4-4-3-1M1029 136l4 7-4-8-4 1M967 127l3-6-3-4-4 6M963 123l4-6-4-4-3 9M1476 272l3 1-6-6-3 1M1172 183l3-1-4-6-4 4M1136 172l3-2-4-1-4 2M1068 148l4-1-4-3-4 2M970 121l4-3-3-1-4 0M1415 256l3-4-5-4-2-4M1333 229l4-9-5-1-4 3M1056 143l3-1-3-2-4 0M981 123l4-3-4-2-3 1M978 119l3-1-3-3-4 3M1371 236l3-2-5-8-4 6M1321 214l3 4-6-5-3 3M1293 213l4-8-6 4-3 0M1138 167l4-1-4-5-4 4M1056 140l3 4-4-12-3 4M1040 141l4-4-4-6-4 4M985 120l3 0-3-2-4 0M1506 269l4-2-6-6-4 6M1441 254l3-6-5-8-4 7M1379 241l5-11-6-3-4 7M1363 231l4-7-7 5-3 2M1291 209l4-5-6 1-3-2M1260 201l4-4-5-4-4 8M1230 191l3 0-4-3-3-4M992 123l3-8-3-3-4 8M967 111l4 0-3-3-4 2M1406 245l6-14-6-1-3 0M1264 197l3-3-5-2-3 1M1191 177l3-5-4-3-4 3M1115 154l4-2-4 1-4 2M1074 146l4-5-4-9-3 5M1459 256l4-5-6-5-3 0M1422 242l4-5-5-6-4 4M1277 202l4-7-5 0-4 6M1232 189l3-4-4 0-4 3M1167 168l3 0-4-5-3-3M1119 152l3 0-4-1-3 2M1102 153l4-5-4 0-4-3M1024 131l4-7-4-5-3 6M1445 243l2-1-6-1-3-1M1390 227l3 0-5-4-3 0M1296 201l4-3-6 0-3 2M1240 190l4-4-5-6-4 5M1170 168l3 0-3-11-4 6M1106 148l3 0-4-7-3 7M1032 129l3-8-3 0-4 3M1423 237l3-2-6-5-3 4M1314 213l5-16-5-4-5 14M1254 187l2 4-4-5-4 2M1244 186l3-5-4-1-4 0M1173 168l4-3-4-5-3-3M1165 162l3 4-4-6-4 0M1081 139l4-3-4 1-4 3M1252 186l4-4-5-2-4 1M1247 181l4-1-5-5-3 5M1113 147l3-5-4-4-3 4M1006 117l4-4-4-3-3 4M1251 180l3 3-5-7-3-1M1198 174l4-15-4 1-4 12M1171 162l4-7-4-1-4 4M1146 150l3 0-4-1-4 1M1104 141l3 1-3-5-4 1M1013 118l4-5-4-3-3 3M1432 233l3-4-5-7-3 2M1207 168l3 0-4-8-4-1M1233 178l4-11-5-1-4 8M1474 241l4-7-5-5-4 5M1469 234l4-5-7 0-2-1M1392 214l3-2-5-7-3 3M1305 192l4-9-5-3-4 10M1186 161l4-9-4-4-4 5M1045 118l4 0-4-6-4 7M1366 210l4-7-4-8-5 9M1335 192l3-1-6 2-3 5M1226 168l3-4-4-3-4 3M1221 164l4-3-4-8-4 10M1006 105l3-1-3-2-4 1M1488 232l1 4-4-11-3 1M1415 217l2 0-4-7-3 2M1387 208l3-2-5-4-5 13M1252 175l4-7-5-4-3 8M1229 164l3-3-4-2-3 2M1145 146l4-3-4-3-3-1M1082 123l3-2-4-1-3 0M1542 245l2-1-6-1-3 0M1489 236l4-4-6-6-2-1M1390 206l3-3-4-10-4 9M1275 175l3-1-4-6-3 1M1140 143l4-11-4 2-3 5M1137 139l3-5-4-4-3-2M1044 115l4-8-4 0-3 4M1398 211l3-5-5-6-3 3M1278 174l4-6-5-4-3 4M1209 151l3-2-5 0-3 1M1178 141l3 0-4 0-3 1M1476 229l5-8-6-2-2-3M1465 220l2 5-4-11-4 7M1352 194l3-4-5-3-3 2"/>
<path color="#942" d="M544 253l6-1-4-5-6 1M909 445l7 4-6-5-8-4M788 378l7 3-6-10-7 1M1028 504l7 1-7-6-7-3M1000 496l7-12-7 1-7 3M789 371l8 5-6-10-7 2M670 310l6-9-4-4-6 7M791 366l8 4-6-7-7-6M912 438l6-22-6-5-6 17M637 279l5-10-3 0-6 7M582 250l6-4-5-8-5 4M671 282l7 1-4-2-6 0M729 297l6-4-5-9-6 7M1152 500l6-7-7-7-6 1M1163 482l6-2-8-9-5 0M931 363l6-6-6-1-6 3M931 356l6-1-5-4-6-3M880 332l5-6-4 5-7-8M862 296l5-4-5-9-5 5M769 253l5-6-5-8-5 4M728 227l6-3-5-6-4 6M703 215l4-9-4-4-4 7M798 244l5-1-4-2-5 2M1016 337l5 3-5-8-6-2M1044 343l5-1-5-3-6 2M1021 340l6-9-6-10-5 11M933 291l6 4-5-8-6-7M834 250l6-4-5-7-5 9M868 228l5-2-4-6-5 1M1040 289l5 2-5-5-5 6M907 239l5-6-4-1-5-4M1290 380l4 4-6-8-5 1M851 215l5-7-4-5-5 3M1097 294l4 5-5-8-4-4M999 258l5 5-5-18-5 3M881 215l5-5-5-8-4 5M1150 303l5 3-5-14-5 3M1256 329l3 5-5-14-4 2M1087 268l4-3-5-12-4 8M1022 225l4 0-4-5-5 2M1286 287l4-2-6-2-2-8M1144 228l4 1-5-7-4 0M1236 253l5-7-6-2-4 4M1340 286l4-6-5-9-5 9M1175 214l5-5-6-1-3 3M1003 155l4 2-4-6-4 1M1328 251l3 1-6-6-3 1M1294 239l5-10-6 2-4 6M1090 165l3-5-4-2-3-1M1192 187l3 4-4-6-3-4M1187 176l4 1-5-5-3 1M1142 166l3 0-4-11-3 6M982 108l3 2-3-4-4-2M1149 150l4-3-5-1-3 3M1034 116l4-1-4 0-3-3M1117 136l4-6-4-2-4 4M1093 130l4-7-4-6-3 7M1283 173l3 0-4-5-4 6"/>
<path color="#b42" d="M1007 565l8-2-8-3-7 0M902 499l8-5-7-10-7 10M790 434l7-8-5-3-7 6M612 322l8 3-5-10-8 2M585 305l8 1-4-4-6 6M583 308l6-6-5-6-6 6M545 286l5-8-3 1-6 3M541 282l6-3-3-4-7 2M534 276l7-2-3 0-7 1M515 265l5-7-3 0-6 4M655 342l7-6-4 3-8-3M971 517l7 5-7-8-7 0M683 350l7-1-4-3-7 2M565 285l5-10-4-1-6 4M978 522l7-19-6 7-8 4M652 327l7-4-6-13-4 17M858 443l7-2-6-10-7 3M538 256l6-3-4-5-6 3M639 313l6-9-4 0-7-2M616 294l3-19-1 11-5 10M1051 541l7-15-8-4-7 9M914 455l7-1-6-1-7 3M872 437l7-4-5 1-8-8M541 245l6-2-3-2-6 5M902 440l8 4-7-11-7 2M759 363l6-7-5-1-6 9M1035 509l7-5-7 1-7-1M979 481l7-15-7 0-6 11M903 433l8 6-6-6-8-3M863 411l8 8-7-14-6 8M623 276l7 1-4-4-6 3M871 419l6-9-6-11-7 6M843 395l6-2-5-7-7 7M676 301l6-1-4-6-6 3M579 251l5-6-2 5-7-3M682 300l7 0-4-2-7-4M652 284l6-1-4-3-5 8M878 405l6-10-6-8-6 14M594 248l6-2-2 2-8-6M901 408l7-2-6-7-6 13M737 319l6-6-4-1-7 1M653 272l7 4-4-5-6 3M646 273l5-7-3 2-6-2M1068 495l7-11-7 1-7 8M1047 479l7-5-7-10-7 8M908 406l7-1-6-5-7-1M853 370l7 9-6-11-6 0M833 368l6-8-5-3-7 3M813 356l6-4-4 2-7-1M761 325l6-2-4-6-6 5M710 299l7 5-5-11-6 3M674 281l6-3-3-1-7-2M667 279l6-4-4-5-6 5M663 275l6-5-4-2-5 8M1097 493l6-3-7 0-6 0M950 425l6-10-6-5-7 1M815 354l5-13-4 2-7 4M669 270l6 1-4-7-6 4M1133 515l7-14-7-15-7 16M882 382l6-5-5-6-7 1M872 378l6-5-6-12-6 9M761 315l6-2-4 2-7-5M718 294l6-3-4-7-5 10M715 294l5-10-4-3-5 12M642 253l7 2-4-8-7-1M951 410l6-3-6-3-6 0M922 396l6-14-6 4-6 11M767 313l6-1-5-6-5 9M763 315l5-9-4-5-6 7M724 291l6-7-4-3-6 3M692 272l7 2-4-1-7-5M873 359l7 6-6-12-6 1M760 306l6-8-5-2-5 6M676 257l5-3-3 0-6 3M645 249l4-9-3-4-5 7M907 377l6-6-6-5-6 9M885 366l6-4-5-7-6 10M874 353l7 1-5-2-7-2M869 350l7 2-6-10-6 5M654 249l4-14-3 0-6 5M1158 493l7-5-8-3-6 1M958 393l6 0-6-10-6-1M946 392l6-11-6 1-6-5M918 377l6-8-5 0-6 2M886 355l6 1-5-5-6 3M747 289l5-7-4-3-6 3M707 267l5-6-3-2-6 4M1165 488l6-6-8 0-6 3M1120 463l6-7-7 3-7 4M987 400l6-2-6-7-6-1M970 394l6-5-6 1-6 3M752 282l7 5-4-5-7-3M1171 482l6-2-8 0-6 2M1156 471l5 0-7-2-6 0M1000 403l6-8-6-3-7 6M772 293l5-7-5-13-5 17M1177 480l5-3-7-3-6 6M1154 469l6-12-8 3-5 2M757 281l5-10-5-10-5 10M744 269l6-1-4-1-6 2M943 369l5-13-5-3-6 4M937 357l6-4-6 2-6 1M841 309l6 9-5-12-6-3M971 370l5-2-5-1-6-1M911 336l6 4-6-8-5 6M906 338l5-6-5-8-5 13M810 289l6 1-5-10-5 8M794 291l4-14-3 3-6 1M756 271l5-12-4 1-5 8M752 268l5-8-4-2-5 6M825 298l6-6-4 3-7-8M749 255l7 4-5-10-6 3M1054 400l6-5-7-5-5 2M982 361l6 5-6-11-5 10M822 293l5-10-4-2-6 1M743 250l6 2-4-9-6 2M999 362l6 4-6-6-5 8M846 293l6 1-5-6-6 0M810 280l6-8-5-10-5 12M681 220l4-8-3-4-4 13M1210 463l7-15-8-3-7 19M1138 422l5 4-6-10-6 1M1047 386l6-7-7-5-5 11M1023 376l5-2-5-10-6 3M1005 366l6-5-6-11-6 10M779 262l5-7-4-2-6-4M762 248l7 5-5-10-5 7M752 251l4-12-4 0-5 4M749 243l6-3-5-7-5 6M745 239l5-6-4-1-5 3M1178 427l5-1-7-3-6 14M806 263l5-6-4 1-5 6M778 251l5-4-4-2-5 2M774 247l5-2-4-2-6-4M746 232l6 4-4-8-5 3M686 205l6 1-4-3-5 0M1064 379l5-4-6-12-5 9M1051 376l6-15-6-9-5 19M882 289l6 1-5-1-6-7M692 206l5-1-4-6-5 4M1233 443l5-8-7 0-6 11M1069 375l6-11-6-1-6 0M999 344l6-10-6-3-5 6M888 290l5-2-5-3-5 4M883 289l5-4-4 2-6-4M714 212l6-1-4-2-5 2M1152 407l5-7-6-10-6 12M1145 402l6-12-7 4-5 0M1039 351l5-1-5-12-6 6M1011 340l5-3-6-7-5 4M716 209l5-1-3-5-6 0M1062 357l5 2-5-9-6 2M903 287l6-1-5-5-6-3M715 207l4-8-2 5-6 1M1170 398l5-2-7-8-5 5M1111 368l5-2-6-6-6 13M1062 350l5 0-6-5-5 9M1038 341l6-2-6-10-5 6M1168 388l5 5-6-7-6 1M1135 380l6-11-7 3-5 1M1091 362l5-9-6-5-5 10M1049 342l6-3-6-6-5 6M1044 339l5-6-6-2-5-2M891 273l5-2-5-5-5-1M739 211l4-10-4-5-4 7M1153 378l5 4-6-8-5 5M914 276l6 5-5-10-5 1M844 250l5-7-5-2-4 5M819 238l6 0-5-2-5-2M815 234l5 2-4-3-5-2M804 236l4-7-3-2-6 0M755 210l4-4-3-3-5 10M1158 382l6-9-7 0-5 1M1049 334l5-2-6-10-5 8M934 284l5-6-5 0-5 0M892 266l6-3-5-1-5 4M825 238l5-3-5-7-5 8M1054 332l5-9-6-6-5 5M1010 309l5 9-5-12-5 2M999 315l6-15-6-5-5 11M830 235l5-4-5-5-5 2M1264 405l5-2-8-1-4 1M984 296l5-7-5-10-5 8M940 275l5-1-5-10-5-2M917 266l5-8-5-3-5 3M1020 307l5-11-5 5-5-5M989 289l5-2-5-7-5-1M927 261l5-1-5-9-5 7M918 252l5 1-5-5-4 8M1293 406l5-8-7-4-6 10M1120 330l5-2-6-2-5-1M1057 311l5-12-5-4-5 14M897 243l5 4-4-5-6-5M888 241l6 4-5-10-5 1M859 227l5-6-5-5-4 5M1068 308l5-2-6-1-5-6M960 266l5 0-4-13-5 15M795 199l5-1-4-3-5 1M780 188l6 5-5-14-4 12M1056 300l5-8-5-1-5 0M994 277l5-5-5-3-5 3M989 272l5-3-4-2-5 1M985 268l5-1-5-2-5 4M928 243l6 5-5-8-5 4M877 233l5-13-4-2-5 8M768 180l4-1-3-4-5 6M1129 321l5 1-6-3-5 5M934 248l4-4-4-3-5-1M854 217l5-4-4 1-5-4M827 206l4-8-3 4-5-1M790 182l5 7-4-7-5 1M780 187l4-6-3 2-5-1M1297 387l6-12-9 9-4-4M1163 338l6-11-6-9-5 10M1050 290l5-3-5-2-5-2M975 260l5-6-5-6-5 3M867 215l4-1-4-7-5 3M761 174l4-2-3-3-5 3M1104 307l5-5-6-9-5 6M980 254l5 2-5-7-5-1M883 217l5 2-4-7-5-1M786 180l4-1-3-1-4 3M769 173l4-2-4-6-4 7M1019 268l5-1-5-2-5 4M1009 265l5-4-5-6-5 1M990 259l4-11-4 3-5 5M935 236l5 0-5-9-4 6M888 219l5-3-4 3-5-7M815 187l5 1-4-2-4 0M790 179l5-4-4-3-4 6M1254 361l6-15-6-1-6 8M1248 353l6-8-7 0-5-1M1136 308l5-1-6 1-5 1M1092 287l4 4-5-5-5 7M958 246l4-9-4-1-5 6M877 207l4-5-3 3-5-1M1266 355l5-3-6-5-5-1M1158 316l6-10-6-1-5 4M1135 308l5-11-6 3-4 2M1091 286l4 0-5-5-5 3M976 246l5-5-5-5-5 8M878 205l5-1-4 0-5-5M1085 279l4 8-5-14-5 7M1069 284l4-11-5-5-4 9M941 229l4-7-4 1-5 5M804 171l5 0-3 0-6-4M798 171l4-5-4-3-4 9M1240 334l5-8-7 2-4 5M1138 294l5-8-6 7-4-10M869 193l4-3-4-2-4 1M1258 332l4 3-6-6-4-2M905 204l4 0-4-4-5 0M873 190l4-4-3 1-5 1M819 172l4-4-4-6-4 7M815 169l4-7-3 0-5 4M1141 289l5 0-6-4-4-2M1125 285l4-12-5-1-5 11M1077 268l5-7-5-10-5 8M999 234l5-3-5-1-4 1M1306 349l5-9-6-6-5 3M1051 249l5 1-5-2-4-3M1047 245l4 3-5-7-4 4M1367 364l4-2-7-6-4 6M1214 305l5 1-6-8-5 11M1202 306l5-9-6-1-4 2M1173 293l4 2-5-12-5 7M1046 241l5 7-5-8-5 2M1022 238l5-3-5-1-4 2M930 201l5-3-4 2-5-6M1350 350l4-3-7 2-4-4M1275 324l4-2-6-4-4 4M1027 235l4 0-4-3-5 2M833 164l4-1-3 0-5-7M1347 349l5-10-8 1-4 5M1176 287l4-3-6 2-4-3M1116 263l4 1-5-6-5 4M1147 276l5-12-6-2-4 7M1202 290l5-11-7 6-4 2M1168 274l4-1-5-2-5 2M1093 253l5-10-5-2-4 6M871 166l4 3-3-6-4 7M1318 329l5-10-7 1-5 4M1274 302l3 5-5-11-5 10M1267 306l5-10-7 2-5 6M995 208l4 4-4-10-4 1M982 208l4-8-4-2-4 0M1122 253l4-7-5-5-4 7M1158 258l4-6-5 2-5 2M1116 244l5-10-6-1-4 5M1096 236l4 0-4-11-5 12M1086 235l5-7-6 6-4-3M1048 225l5-15-5 2-4 5M1387 344l7-16-7-4-5 9M1277 295l4-4-7 5-4 0M1206 271l4-1-6-2-3-3M966 187l4-5-4 2-4 6M922 172l5 2-4-4-4 1M1210 270l4-7-5 0-5 5M1025 205l4-2-4-4-4 2M991 195l4-3-4-4-4 8M987 196l4-8-4-5-5 8M904 164l4-4-3-2-5 0M1368 327l6-14-7-5-5 10M1209 263l4-1-5-9-5 6M1139 238l4-1-5 0-4-4M1029 203l5-4-5 0-4 0M1016 200l4-9-4-1-4 4M995 192l4-3-4-6-4 5M1148 242l4-3-5-6-4 4M1138 237l4-3-5-5-4 3M999 189l4-4-4 0-4-2M935 165l4 6-3-5-5-7M1038 199l4 4-4-7-5 4M987 180l4 4-4-5-4-3M1273 276l4-4-7 1-3-6M1167 241l4-3-6-1-4 3M1126 227l4-6-5-4-4 7M1425 326l3 1-5-9-5 7M1418 325l5-7-7-6-5 10M1344 300l4 0-6-9-4 3M1332 293l4-5-6-1-4 1M1219 254l4-2-5-3-4 0M1140 229l4-1-5-6-4 5M1135 227l4-5-5-5-4 4M951 167l5 0-4-6-4 2M948 163l4-2-4 0-4 3M1317 284l3 0-6-2-3-2M1139 222l4 0-5-1-4-4M1314 282l5-6-6-2-4 1M1290 272l4-4-6 2-3-2M908 146l4-6-4-2-4 5M1349 294l4-7-7 1-2-7M1324 283l5-7-6-6-4 6M1294 268l4 1-6-3-4 4M1242 254l4-2-5-6-5 7M1045 191l4-7-4-2-4 4M987 170l4 2-4-7-4 3M1224 241l4 0-5-5-5 10M1213 242l4-9-5 1-4 7M1089 199l4-2-4-2-4-1M1054 189l4-4-5-5-4 4M1344 280l5-5-7-1-3-3M1279 253l3 1-5-3-4 1M1201 232l4-7-6 8-4 2M1058 185l3 0-4-5-4 0M1007 171l4 1-4-4-4-1M999 172l4-7-4-5-4 7M1271 252l3 1-5-5-5 8M1061 185l4-1-4-6-4 2M964 155l4-3-3 2-5-2M935 147l4-8-4-1-4 4M920 138l4 0-3-1-4-2M913 135l4 1-3-5-4 3M1257 245l4-1-5-6-4 2M1148 212l4-4-5 1-4 1M995 163l4-7-4 1-4 3M965 154l3-5-3 0-4 2M946 148l4-2-4-12-4 10M1261 244l4-1-6-2-3-3M1172 212l3 2-4-3-4 1M1167 212l4-1-5-7-4 5M1007 164l4-3-4-2-4 0M1003 159l4 0-4-2-4-1M939 140l4-4-4 0-4 3M1222 225l3 2-5-5-4 9M946 138l4 4-3-4-4-2M1420 291l5-13-8 5-5 10M1174 208l4 0-5-4-3-4M1011 159l4 0-4-3-4 0M954 139l4-1-4 0-4 4M1213 223l4-8-5-4-4 11M1198 217l4-8-5 6-4-2M1094 177l4 1-4-2-4 2M995 156l4-6-4 0-4 1M1369 271l5-16-7 4-4 5M1011 153l4-2-4-1-4 3M958 138l4-5-4 3-4-6M1286 233l3 4-5-10-4 0M958 136l4-3-4-3-3 4M955 134l3-4-3 0-4 3M951 133l4-3-4-4-3 2M1251 222l3 6-4-18-5 14M1042 159l4-1-4-3-4 0M1438 273l3 1-6-3-5 7M1338 249l3-4-5-3-3 0M1309 242l4-9-6-1-4 10M973 133l4 0-4-3-3 4M938 123l4 2-4-3-4 0M1100 169l4 0-5-2-3 5M1096 172l3-5-4 1-4 2M1014 147l4 0-4-9-4 5M981 140l3-10-3-2-4 5M1412 260l4-2-6-2-5 9M1251 216l4-4-5-8-4 4M1070 163l4-6-5-3-3-1M1062 157l3 0-4-6-3 2M1481 278l3-2-7 0-3 1M1348 242l4-4-6-2-3 1M1229 205l3-1-5-2-3-4M1189 195l4-3-5-5-3 3M1152 180l4-2-5-5-4 6M1125 172l3 3-4-9-3 2M1470 276l4-5-7-1-3-1M1382 245l2 8-4-14-3-2M1253 213l4-10-5-2-4 9M1248 210l4-9-6 4-3-1M1232 204l4-2-5-5-4 5M1227 202l4-5-5 1-4 2M1222 200l4-2-5 0-3 0M1218 198l3 0-5-2-4 3M1208 197l4-8-6 4-3 2M1169 185l4-1-5-3-4 5M977 126l4 3-4-7-3 3M953 123l3-9-3 3-4 2M949 119l4-2-4-1-3 0M1434 263l4-7-7 1-4 8M1293 222l5-9-6 1-4 7M1241 204l4-4-6 3-3-1M1173 184l3-1-4 0-4-2M1123 167l4 1-4-8-4 1M1089 158l4 2-4-8-4 5M1065 147l3 1-4-2-3-1M1376 240l3 0-5-5-3 1M1154 175l3 1-4-8-4 3M977 122l4 1-3-4-4-1M1339 232l4-12-6 0-4 9M1218 191l4-4-5 0-3 0M1185 184l3-5-4-9-4 10M992 125l3 3-3-7-4 2M1489 270l4-5-6-6-5 12M1482 271l5-12-6-4-5 14M1438 253l3 1-6-7-3 1M1227 188l3 3-4-7-4 3M1087 154l4-4-4-5-3 3M1014 128l3-1-3-4-4 0M988 121l4 2-4-3-3 0M1324 218l3-4-5-1-4 0M1221 185l3 0-5-3-3 0M1047 137l4 0-4-5-3 5M1457 254l2 2-5-10-4 7M1450 253l4-7-5-5-5 7M1289 205l4-6-5-2-3 3M1079 145l3-3-4-1-4 5M1021 125l3-6-3 1-4-4M1438 240l3 1-5-6-4 5M1414 232l3 2-6-3-4 8M1401 237l4-9-5-6-4 7M1291 200l3-2-5-3-3 1M1198 173l3 0-5 0-3 1M1188 174l4-4-5-2-3-1M1417 234l3-4-5-3-4 4M1248 188l4-2-5-5-3 5M1156 159l4-9-5 7-4 6M1097 144l4-6-4-2-4 5M1021 119l3-1-4-4-3 3M1507 258l4-3-7 0-3-1M1443 245l5-13-6-2-4 7M1420 230l3 1-6-3-2-1M1117 150l3-6-4-2-3 5M1057 128l4-1-4-4-3 6M1054 129l3-6-4 1-3 2M1024 118l4-2-4-4-4 2M992 114l4-8-4-4-3 4M1485 247l3-2-6-3-3 2M1429 230l3 3-5-9-4 7M1399 225l3 1-4-12-4 9M1377 215l2 3-4-9-2-3M1180 163l4 0-4-8-4 5M1065 127l3 1-4-4-3 3M1482 242l3-1-6-4-4 5M1289 190l3-3-5-4-4 9M1283 192l4-9-5 1-3 0M1249 176l3 0-4-3-4 2M1175 155l4 0-5-4-3 3M1153 152l4 0-4-5-4 3M1120 142l3 1-4-8-3 2M1088 132l3 4-4-6-3 5M1466 237l3-3-5-6-5 8M1447 236l4-9-8 6-1-7M1389 213l3 1-5-6-3 2M1333 206l3-5-4-10-4 7M1179 155l3-2-4-4-4 2M1126 143l4-6-4-3-3 1M1071 122l4-3-4 0-4 6M1041 119l4-7-4-3-3 6M1490 241l3-4-5-5-4 6M1264 175l3 4-4-10-4 3M1086 129l4-5-4-3-4 4M1272 175l3 0-4-6-4 10M1267 179l4-10-5-1-3 1M1188 153l4-7-5 7-3 0M1006 102l3 0-3-3-4 2M1417 217l4-5-6 0-2-2M1187 153l4-9-4 0-4 6M1183 150l4-6-5-1-3 1M1157 144l4-5-4-4-4 9M1153 144l4-9-4-2-4 10M1124 136l4-4-4-5-3 3M1421 212l3-3-6 0-3 3M1303 178l4-4-5-1-3-2M1502 231l3-2-6-1-2-2M1347 189l3-2-4-8-4 7M1292 171l3 0-5-2-4 4M1239 160l3-3-4-3-4 2"/>
<path color="#e63" d="M678 361l7-4-4 1-7 5M957 520l7-6-7 5-7 4M685 357l7-3-4 0-7 4M843 445l8-3-6-5-7 9M838 446l7-9-6-1-6 9M650 332l6-8-4 3-6 4M845 437l7-3-5 0-8 2M534 251l6-3-3-3-5 9M645 304l6-7-4 1-6 6M885 434l7-5-6-2-7 6M941 448l7-2-7-5-6 6M948 446l6-6-6 2-7-1M1048 496l7-11-7-1-7 12M693 299l6-1-4-2-6 4M650 277l6-4-3-1-6 6M604 248l6-1-4-5-6 4M838 365l6-2-5-3-6 8M818 356l6-3-5-1-6 4M708 280l6-3-4-2-5 7M922 386l6-11-5 2-6 12M963 401l6-8-6 2-6 7M923 377l6-2-5 1-7 6M896 367l6-5-6-4-6 11M975 394l6-6-5 1-6 5M864 328l5-6-5-2-5 7M803 300l6-8-5-2-5 6M799 296l5-6-4 4-6-3M1018 396l6-3-6-2-6 0M860 321l6-5-5 2-6-2M1024 393l6-3-7-2-5 3M1030 390l5-7-6 5-6 0M982 372l6-14-6 3-6 7M839 300l5-4-4 0-6 4M835 294l6-6-5 0-5 4M792 273l5-8-4 3-5 10M724 239l6 1-4-2-5 5M1213 462l6-6-9 7-5-1M793 268l6-2-4-3-5 8M1053 381l6-1-6-1-6 7M795 263l5 0-4-1-5 0M1059 380l5-4-6 1-5 2M804 264l6-5-4 4-6 0M922 301l5-3-5-4-5 5M922 294l6-4-5-2-5 7M1195 405l6-9-7-2-6 15M900 276l5-7-4 4-5 6M777 220l4-8-3 3-5 3M1043 330l5-8-5 2-6 7M805 227l4-7-3 3-5 9M989 300l5-5-5 3-5 7M894 255l5-2-5-2-5 6M889 257l5-6-4-1-5 4M999 297l5-5-5 3-5 1M959 278l5 1-4-3-6-1M890 250l5-2-4-5-5 12M1092 329l5-4-5-3-6 11M1064 323l5-10-6 1-5-1M1063 314l5-9-5 3-5 10M1015 294l5-10-5-4-5 11M965 266l5-1-5-1-5 9M884 236l5-1-5-5-4 7M910 240l5 0-4-3-5 10M938 244l5-5-4 0-5 2M859 213l4-10-4 3-4 8M1311 378l5-9-8 6-4 0M870 202l4-4-3 2-5 2M924 214l4-1-4-5-4 10M1023 251l5-6-5 1-5 4M912 208l4-8-4 4-4 7M1207 312l5-7-6 6-6 9M1088 270l5-1-6-3-4 2M858 185l4-7-3 5-5 1M1206 311l5-10-7 8-5 5M1174 293l5-3-6 3-5 1M1041 242l5-2-5-5-4 7M1037 242l4-7-5 2-4 5M872 183l4-8-4 2-4 1M1166 281l4 2-5-2-5 4M1160 285l5-4-6-2-4 1M1117 267l4-10-5 6-5 3M1036 237l5-1-5-7-4 7M1032 236l4-7-5 6-4 0M877 177l4-5-3 1-5 4M986 211l4-4-4-1-4 11M846 162l4-7-3 1-4 3M1316 320l4-2-6-6-4 3M1314 312l4-2-7-3-5 9M945 186l4-8-4 3-4 7M1208 272l4-3-6 2-4 4M941 182l5-6-4 0-4 9M1091 228l4-8-5 7-5 7M995 199l4-9-4 2-4 3M1294 294l4-3-7 3-4 0M950 179l4-3-4 0-4 3M1390 324l5-7-8 5-4 3M1291 294l5-8-7 3-4 4M1307 281l4-1-6-3-4 7M1305 277l4-2-7 1-4 4M1370 289l4-3-7 1-5 11M1063 192l4-2-5 2-4 0M983 168l4-3-4-3-4 8M1067 190l4-3-5 3-4 2M968 158l4-4-4 3-4 5M1374 284l4-6-7 2-4 5M1084 190l4-3-5 2-4 2M1152 208l4-4-5-1-4 6M987 154l4-4-3 1-4 0M1034 158l4-3-4 2-4 0M1278 227l4-6-6 5-4 8M1011 143l3 5-3-6-4 10M1363 249l3 1-7-1-4 8M1270 226l4-2-5-8-4 6M1369 248l4-4-7 5-4 2M1112 170l4-4-4 3-4 4M1171 185l3-2-5 2-3 1M1274 216l4-6-6 1-3 5M974 122l3 0-3-4-4 5M1110 161l3 0-4-2-4 0M1175 182l4-10-4 0-4 4M1003 127l3-5-3-2-4 12M1084 148l3-3-4 2-4 0M1048 138l3-6-4 5-3 1M1417 242l3-2-7 1-3 1M1083 147l4-3-4-4-4 8M1177 173l4-8-5 6-4 1M1368 215l5-9-7 7-5 10M1283 189l3-2-6 3-3 1M1003 114l3-4-3 1-4-1M1412 225l4-7-8 8-3 1M1366 213l4-9-6 3-5 12M1514 250l3-2-6-3-4 7M1274 183l3-2-5-3-4 10M1239 175l4-4-5 2-3 1M1020 115l4-7-4 4-3 1M1267 181l4-4-5-2-4 10M1243 171l3-2-5 2-3 2M1219 167l4-4-5 2-3 2M1451 227l4-5-8 4-4 7M1261 175l3 0-5-3-3 2M1098 130l4-3-4 1-4 4M1060 119l3-6-4 6-3-1M1457 222l3-3-7 5-3 1M1403 213l4-4-6-2-3 2M1509 238l4-8-8 8-2-4M1516 229l2 0-7 3-3 4"/>
<path color="#e52" d="M703 299l7 0-4-3-7 2M981 421l6-5-6 0-6 1M799 266l5-2-4-1-5 0M893 288l5-10-4 2-6 5M1005 309l5 0-5-1-6 1M985 265l5-4-5 3-5-4M1188 301l4-2-6-5-5 15M1295 304l6-13-7 3-5 7M1129 233l4-1-5 0-4 5M1172 238l4 0-5 0-4 3M906 148l4 2-3-3-4 6M924 138l4-4-3 0-4 3M1278 248l4-4-6-1-3 3M988 147l3-2-3 1-4 0M1129 185l3 0-4-1-4 0M1087 145l4 0-4-1-4 3M1283 194l3 2-5-1-4 7M1371 215l3 0-6 0-4 5M1415 227l2 1-5-3-3 1M1497 249l5-12-8 2-3 3M1023 110l4-2-4-2-3 6M1244 158l3-1-5 0-3 3"/>
<path color="#931" d="M575 302l6-6-4-7-7 2M531 275l7-1-5-11-7 4M1038 576l7 2-7-19-8 0M604 312l7 2-5-11-6 9M1000 553l7-19-7-12-8 12M923 493l8 7-7-21-8 0M822 440l6-7-6-17-7 8M801 412l7 2-6-17-7 11M756 392l6-9-5-5-8 1M808 414l7-8-6-13-7 4M573 274l8 4-5-11-7 1M522 245l6-2-4-8-8-2M775 392l6-9-7-17-6 7M628 289l10 14-5-9-8-7M613 296l5-10-4-1-7-1M861 427l7 6-6-17-8-3M742 360l7-4-6-13-6 4M633 294l7 3-5-12-7-1M574 269l5-8-5-12-6 2M663 307l7 3-4-6-8-3M640 297l6-4-5-13-6 5M1072 533l7-8-7-6-7 1M993 488l7-3-7-14-7 10M847 404l7 4-6-10-7-4M735 337l6-7-4 0-6 3M717 325l8 1-5-7-8-6M630 277l7 2-4-3-7-3M575 247l7 3-4-8-8-4M725 326l6-2-5-7-6 2M720 319l6-2-4-4-7 2M715 315l7-2-5-8-6 6M622 269l6-7-4-1-8-8M1013 481l7-10-7-10-7-1M568 230l7 4-4-6-8-6M1020 471l6-2-6-5-7-3M791 342l7 6-5-7-7-8M762 322l9 15-6-11-8-17M590 240l6-2-5-14-5 8M577 234l6-4-4-5-4 9M803 348l6-1-5-12-6 13M598 234l8 5-5-12-5 11M772 327l6-3-5-9-6 8M675 271l7 5-5-13-6 1M1116 490l6-9-7-10-6 3M680 262l6 1-5-9-5 3M1038 439l6-2-6-9-6 1M806 325l6-6-5-5-6-3M668 258l6-8-5-8-7-2M720 283l3-21-4-8-5 13M964 393l6-3-6-13-6 6M1043 425l7-9-7-12-6 8M750 278l7 3-5-10-6 0M636 219l6 0-4-8-6 1M737 270l4-11-3-2-6 5M926 348l6 3-5-3-7-4M746 267l6 1-4-4-7-5M726 252l6 4-4-3-6-7M994 383l6 0-6-14-6 0M881 331l5-10-5-5-6 2M667 220l6 3-3-1-8-13M1179 464l5 2-6-19-6-2M1107 434l6-9-6-14-6 2M971 367l6-2-6-7-6-3M686 225l6 3-3 0-7-11M679 222l7 5-4-5-6-1M662 211l6 7-3-5-7-5M714 237l6 2-5-7-6-4M665 213l5-3-4-6-6-2M1035 388l6-3-6-17-6 8M773 264l6-2-5-13-5 10M1104 406l6 0-6-17-6 2M899 318l5-8-5-16-5 13M842 284l6 5-4-4-7-6M711 236l5-12-5-10-5 6M700 224l6 0-5-10-6 0M665 204l6 1-3-2-7-5M910 323l5-15-5-6-6 8M844 285l5-4-5-14-6 6M668 203l5 1-4-8-5 3M1136 411l5 1-6-11-6 1M802 264l5-6-5-11-5 8M696 206l7 9-4-6-7-6M1212 442l6-9-7-11-6 10M855 279l5 3-5-10-6-7M1225 446l6-11-8-5-5 3M1246 443l4 5-6-15-6 2M794 243l5-2-5-10-5 0M989 326l5-2-5-9-6-10M1256 434l5-4-6-13-6 8M1136 384l5 0-6-4-5-7M809 243l5-4-5-5-5 3M759 224l5-4-4-7-6-3M699 192l6 0-5-10-5-1M760 213l6 6-4-8-6-5M891 266l6 8-5-8-5-5M788 223l5 4-5-14-4 5M1242 413l5-5-7-7-5 6M884 264l5 1-5-9-5-3M836 235l6 14-4-12-6-7M749 203l5 0-4-3-5-2M728 193l6 3-5-9-5-1M734 196l4-4-4-5-5 0M1245 400l4 5-6-13-5-1M876 248l6 7-5-16-6-3M1257 403l4-1-7-5-5 8M1249 405l5-8-7-4-4-1M1099 340l5 0-6-10-5 6M754 198l5-6-4-6-5 3M1047 306l5 3-6-11-5-3M1209 363l5 1-7-7-5 3M984 280l5 2-5-15-5-2M1261 390l5-7-6-9-6 13M1096 318l5 2-6-8-5-2M840 216l5-3-4-6-5 3M1295 394l4 4-6-10-4-2M1154 335l5 7-6-17-4-2M1062 302l5-5-6-5-5 8M902 240l5-1-4-11-5 5M1285 385l5-5-7-3-5 4M970 267l5-7-5-9-5-5M823 201l5 1-4-9-5 4M1099 314l5-7-6-8-4 3M828 202l5-1-4-5-5-3M795 189l5-3-4-7-5 3M778 181l5 0-4-7-6-2M1288 376l4 1-6-10-5 0M1213 347l4 1-6-10-4-2M783 181l4-3-4-6-4 2M857 209l4-4-4-7-5 0M1203 332l4 3-5-11-4-4M1154 316l4 0-5-7-5-1M1125 308l5-6-6-14-5 12M850 203l5-5-5-12-4 5M820 188l5-2-5-11-4 11M789 170l5 2-4-12-4 8M859 197l5 2-4-12-5 4M1217 328l4 0-5-13-5 0M827 177l5 3-4-8-5-2M1155 306l4-7-5-7-4 0M1009 252l4-12-4-9-5 11M954 227l5-9-5-5-4 9M832 180l4-2-4-6-4 0M1352 365l4 0-7-6-4-3M1356 365l4-3-7-7-4 4M1013 238l5-2-5-12-5 4M824 170l5-3-4-6-5-1M1091 265l5-1-5-10-5-1M1018 236l4-2-5-12-4 2M894 187l5 7-4-12-5-1M1133 271l4 4-5-8-4-1M1022 234l5-2-5-5-5-5M1340 345l4-5-6-4-4-4M1137 275l5-6-6-7-4 5M1085 255l4-4-5-7-4 5M1017 226l5-1-5-3-4 0M964 206l5 2-4-4-5 2M1364 357l6-13-7-6-4 2M1089 251l4 2-4-6-5-3M863 174l5-4-5-10-4 3M1112 252l5-4-5-6-4-3M1026 216l4-3-4-1-5 5M1244 290l4 1-5-11-4 2M870 160l4-3-4-7-4 4M1147 251l4 5-5-11-4 1M1044 217l4-5-5-3-4 3M1004 210l4-7-5-6-4-1M914 173l5-2-4-4-5-3M892 168l4-3-4-8-4 1M1234 287l5-11-5-9-5 15M1081 230l4-11-4-8-5 10M1269 288l3 5-5-10-4-4M1089 223l4 1-4-8-4-4M1376 317l4 0-5-14-5 7M1211 263l4-7-5-8-4 1M1029 196l4 1-4-8-4 0M999 185l4 7-4-12-4 0M1188 248l4 0-5-7-5 5M1046 202l4-11-4 0-4 1M1263 264l4-2-5-11-4 7M1164 234l4 0-4-8-4-3M904 148l4-2-4-3-4-2M883 139l4 3-4-10-4 0M1232 256l4-3-5-5-3-6M1168 234l4-4-5-6-3 2M919 153l4-5-4-6-4 6M1113 209l4 2-4-8-4 0M1037 181l4 7-5-9-4-5M1379 294l3 2-5-11-3 1M1286 263l3 3-5-7-3 0M1192 230l3 5-4-12-4 2M1228 241l3 5-5-11-3 1M1032 172l4 1-4-5-4-5M1139 206l3 3-4-4-4-3M1407 290l3 1-6-9-2-4M1197 226l4-3-4-18-4 7M907 131l4-2-3-5-4 1M1141 207l4-9-4-6-4 2M915 130l4 0-4-5-4 4M1461 301l4-6-6-9-4 6M950 142l4-4-4-7-3 7M943 132l4 4-3-5-4 1M1139 194l4-2-5-4-4-1M1081 173l3 3-4-5-4 0M1472 289l3 1-6-6-3 1M1313 248l4-5-5-5-4 0M1143 192l3 4-4-13-4 5M1475 290l3-2-5-13-4 9M1409 269l2 1-5-5-3 0M1411 270l4-4-6-6-3 5M999 139l4 7-4-9-4-3M1324 243l3-3-5-8-3-2M1222 210l3-3-4-9-4 8M1066 166l4-3-4-10-4 4M1300 228l3 1-5-9-3-1M1244 208l4 2-5-6-3-4M1204 200l4-3-5-2-3-12M1049 152l4-4-4-12-4 12M1003 135l4 3-4-10-4-1M1164 186l4-5-4-7-4 6M1493 281l3-2-6-3-2-4M1127 168l3 0-4-9-3 1M1362 236l3-4-5-5-2-6M1312 216l3 0-5-2-4 5M1243 203l3-4-4-13-4 7M1288 209l3 0-5-6-2-7M1188 179l3 5-4-8-3-6M1134 165l4-4-4-4-4 2M1163 171l4-3-4-8-4 0M1128 156l4-2-4-1-4-1M1111 155l4-2-4-10-4 4M985 115l3 3-3-6-4-4M1499 260l3 2-6-5-3 0M1272 201l4-6-5-11-4 10M981 112l4 3-3-6-4-1M1094 147l3-3-4-3-3-5M1074 138l3 2-4-11-3 8M1077 140l4-3-4-7-4-1M1488 250l3 0-6-3-2-3M1142 153l4-3-5 0-3-3M1141 150l4-1-4-11-4 9M1050 124l3 0-4-8-3 3M1068 128l4 3-4-11-4 4M1153 147l3 2-4-7-4 4M1123 143l3 0-3-8-4 0M1173 150l3 0-4-4-3 3M1329 198l3-5-4-10-3 1M1245 170l3 2-4-10-3-3M1056 118l3-1-4-13-3 5M1037 110l4 1-4-2-3-2M1034 107l3 2-3-3-4 1M1535 243l3 0-6-6-3 4M1472 227l2 1-4-12-4 8M1300 182l3-4-4-7-3 1M1232 161l3 2-4-7-3 3M1235 163l4-3-5-4-3 0M1081 118l3 4-3-8-4 0M1062 113l4 2-4-5-3-3M1058 107l4 3-4-5-3 1"/>
<path color="#c52" d="M796 437l6-11-5 0-7 8M561 294l6-8-4-3-5 8M554 286l6-1-2 1-8-3M518 266l6-5-4-3-5 7M872 476l7-9-6-10-7 17M866 474l7-17-7-11-6 24M809 438l6-14-6-4-7 6M797 426l7-4-6-11-6 12M792 423l6-12-5-1-7 7M676 356l7-6-4-2-7 5M672 353l7-5-5-7-7 5M667 346l7-5-4 1-7 0M646 334l8 0-4-2-7 2M593 306l4-15-2 8-6 3M514 254l7 0-4-5-6 3M511 252l6-3-4-4-4 9M964 514l7 0-7-10-7 15M885 463l8 8-7-9-7 5M758 395l7 0-6-10-7 4M688 354l7-2-5-3-7 1M638 325l6-2-4-8-8-2M560 278l6-4-3-1-8-7M547 271l6-5-4-7-6 8M1022 546l7-14-7-5-8 11M851 442l7 1-6-9-7 3M649 327l4-17-3 1-6 12M570 275l6-2-3 1-7 0M557 274l5-10-2 1-7 1M553 266l7-1-5-6-6 0M531 255l7 1-4-5-6 4M900 466l7-13-6 3-8 0M847 434l7-6-6-2-7 4M546 256l7 2-3-4-7-1M939 482l6-12-6 2-7-1M913 462l7 0-6-7-7-2M939 472l7-6-6 5-7-4M927 469l6-12-6-12-7 17M843 411l7-2-5 0-6 9M656 308l7-1-5-6-6 1M618 286l6-6-3 4-7 1M550 252l5-9-3-1-6 5M546 247l6-5-2 4-8-6M1066 527l6 6-7-13-7 6M1014 502l7-6-7-5-7 6M1007 497l7-6-7 5-7-3M896 435l7-2-6-3-6 4M808 386l6-5-5-1-7-2M768 363l7 2-5-4-6 7M764 368l6-7-5-5-6 7M600 274l5-10-3-1-4 15M598 278l4-15-3 1-6 8M1080 531l7-10-8 4-7 8M1021 496l7 3-8-6-6-2M1007 496l6-9-6-3-7 12M986 481l7-10-7-5-7 15M835 393l8 2-6-2-7 0M819 384l7 0-5-2-7-1M784 368l7-2-5-9-7 2M720 333l6-5-4 2-6 2M627 278l7 5-4-6-7-1M616 273l6-4-3 1-7-2M1079 525l7-11-8-3-6 8M1013 487l7 4-7-9-6 2M973 464l7-2-7-7-7 4M739 332l6-3-4 1-6 7M731 333l6-3-5-11-6 9M602 260l5-6-3 3-5 8M967 458l6-11-6-3-7 6M960 450l7-6-6 1-7-2M906 428l6-17-6 0-6 12M694 304l7 2-4-6-6 7M986 457l7-2-7-7-6 1M967 444l7 1-7-4-6 4M851 390l6-7-5-6-7 2M647 278l6-6-3 2-8-5M1026 469l7-19-7 10-6 4M757 322l6-5-4 3-7 3M748 321l6-6-5-5-6 3M726 303l6-2-4 2-7-5M610 247l6-1-5-10-5 6M1090 490l6 0-7-10-7 3M1068 485l6-9-7-8-6 6M943 411l7-1-6 0-7-4M849 364l7 0-6-6-6 5M799 337l7 1-4 0-8-6M754 315l7 0-5-5-7 0M701 294l4-14-3 0-5 11M1118 503l7-16-8 3-6 11M1111 501l6-11-7-6-7 6M1103 490l7-6-8-1-6 7M1096 490l6-7-7-5-6 2M1081 480l7-6-7-3-7 5M974 426l7-5-6-4-7 2M866 370l6-9-5-3-6 14M861 372l6-14-5 1-6 5M856 364l6-5-5-3-7 2M840 357l6-12-5 2-5 10M783 331l5-19-4 2-6 10M778 324l6-10-4 3-7-2M711 293l5-12-5-6-6 5M591 222l7 0-4-1-5 3M1039 454l6-7-6-9-7 4M945 404l6 0-6-7-6 4M872 361l7 6-6-8-6-1M758 308l6-7-4 5-7-6M697 278l5-6-3 2-7-2M600 222l6-1-3-4-5 5M594 221l6-5-3 0-6 2M975 412l6 2-6-7-6 4M969 411l6-4-6-2-6 1M863 356l6-6-5-3-6 5M768 306l6-2-4-7-6 4M756 302l5-6-4-5-7-1M691 269l6-4-4-3-5 8M688 270l5-8-4-2-6 3M641 243l5-7-4-1-5 4M1122 481l7-13-8-2-6 5M975 407l6-6-6-5-6 9M757 291l7 8-5-11-5 9M736 280l6 2-4-2-6-2M728 277l6 3-4-8-6 3M1121 466l6 7-7-10-6 0M1044 437l7-20-7 6-6 5M1018 422l7-18-7-1-6 24M1000 413l6-7-7-7-6 13M993 412l6-13-6 8-6 2M981 401l6-1-6-10-6 6M934 374l7 5-6-6-6 2M803 311l6-4-5-4-5 12M764 299l5-7-4-6-6 2M730 272l7 5-5-6-6 2M748 279l7 3-5-4-5 3M728 271l6-6-4 1-7-4M976 389l6-4-6-9-6 14M970 390l6-14-6-5-6 6M919 356l6 3-5-8-6 2M898 355l6-11-5 0-6 3M893 347l6-3-5-4-6 2M888 342l6-2-5-1-7-6M689 247l4-13-3 1-5 12M681 243l5-11-3 3-5 5M1161 471l7-7-8-7-6 12M812 300l6 1-6-14-5 9M800 294l6-6-5-8-5 10M762 271l6 2-5-11-6-1M937 355l6-10-6-8-5 14M885 326l6-9-5 4-5 10M842 306l6-3-5-4-5 10M744 258l5-3-4-3-5 3M690 228l7 4-4-4-6-2M1157 449l5-1-7-6-6 3M1061 405l6-6-7 1-6 6M1042 396l6-4-6-5-6 4M881 316l6-4-5 3-6-2M876 313l6 2-5-2-6 0M871 313l6 0-5-8-5 12M761 259l6 3-4-5-6 3M726 243l6 2-4-4-6 2M1162 448l6-7-7-6-6 7M1048 392l5-2-6-4-5 1M1011 377l6-6-6-1-6 0M1005 370l6 0-6-4-6 0M999 366l6 0-6-4-5-1M763 257l6 2-4-5-6 0M728 241l6 2-4-3-6-1M1132 429l6-7-7-5-6 8M1066 396l6-3-6-9-6 11M1017 371l6 5-6-9-6 3M836 288l6-4-5-5-5 9M785 265l6-3-4 3-6-5M769 259l5-10-4-2-5 7M702 231l4-11-3 0-5 6M674 214l4-10-3 2-5 4M653 198l5 1-3-2-5 3M1160 429l5 5-7-8-5-2M944 329l6 0-5-3-6 4M852 294l5-6-5-2-5 2M721 232l5-6-4-1-5 5M950 329l6-5-6 0-5 2M764 243l5-4-4 0-5 6M741 235l5-3-3-1-6-1M734 233l5-3-4-6-5 7M718 220l7 4-5-11-4 11M706 224l4-8-4-4-5 2M961 326l6 6-6-7-5-1M881 298l5-9-4 0-5 6M877 295l5-6-5-7-5 12M872 294l5-12-5-1-5 11M867 292l5-11-4 4-6-2M755 240l4-6-3 4-6-5M743 231l5-3-4-4-5 6M739 230l5-6-4 0-5 0M717 214l6 5-4-5-6 1M690 207l5-2-3 1-6-1M683 203l5 0-3-2-6 0M1058 372l5-9-6-2-6 15M967 332l5-10-5-4-6 7M868 285l6 1-5-9-6 3M787 248l5-6-4-4-5 9M688 203l5-4-3 1-5 1M988 334l6-9-6-1-5 5M821 256l5-1-4-2-5 1M777 243l5-11-5-3-5 3M758 232l4-9-3 7-5-2M1005 334l5-4-5 0-6 1M999 331l6-1-6-1-5-4M689 198l5-3-4-7-4 7M1164 401l6-3-7-5-6 7M1010 330l6 2-6-3-5 1M1005 330l5-1-5-3-6 3M999 329l6-3-6-4-5 6M927 298l6 3-5-11-6 4M739 213l5-3-4-6-5 7M1056 354l5-9-6-4-5 5M1050 346l5-5-6 1-5 1M928 290l5 1-5-11-5 8M821 247l5-8-4 2-6 2M777 225l6 2-5-9-5 4M1073 354l5-14-6-3-5 13M948 297l5-2-5-3-5 2M923 283l6 0-5-5-5 6M868 262l6-1-5-3-5-2M818 242l5-5-4 1-5 1M809 234l6 0-4-3-6-5M1147 379l5-5-7 0-4-5M1043 331l6 3-6-4-5 0M924 278l5 0-5-1-5-5M878 255l6 9-5-11-5 8M869 258l5-8-4-1-5 12M743 201l6 2-4-5-6-2M1152 374l5-1-6-6-6 7M929 278l5 0-4-3-6 2M915 271l5-1-4-3-6-2M820 236l5-8-4-1-5 6M816 233l5-6-4-2-4 10M771 215l4-10-3 0-5 5M1247 408l5-8-7 0-5 1M1177 384l5-11-7-1-5 13M1170 385l5-13-6-6-5 7M964 289l5 2-5-7-5-3M944 283l5-3-4 0-6-2M898 263l5 0-5-8-5 7M884 256l5 1-4-3-5 2M1149 364l6-14-6-2-6 18M1118 350l5-7-6-2-5 5M1106 346l5-7-6-1-5 1M907 261l5-3-4-3-5 8M1229 385l4-2-7-2-5 7M1036 315l6-6-6-8-5 8M1004 293l6 6-6-7-5 5M979 287l5-8-5 2-5 9M974 290l5-9-5-6-5 5M921 262l6-1-5-3-5 8M899 253l5 4-4-7-6 1M816 219l4-14-3 5-5 11M812 221l5-11-4 2-5 3M808 215l5-3-4 0-4 5M1205 379l6-10-7-5-5 9M1086 333l6-11-6-3-5 8M984 279l5 1-5-3-5 4M904 257l5-7-4-2-5 2M895 248l6 5-5-5-5-5M1121 336l5-5-6-1-5 8M914 256l4-8-4-1-5 3M941 258l5-7-4 6-5 0M932 253l5 0-5-7-5 5M918 248l6 1-5-5-5 3M1298 398l5-2-8-2-4 0M924 249l4-6-4 1-5 0M919 244l5 0-4-5-6-1M777 191l4-12-3 4-4 11M920 239l4-2-4-1-5 4M764 181l5-6-4-4-4 6M999 272l5-4-5-5-5 6M938 247l5-6-5 3-4 4M878 218l5 4-5-8-5 1M1158 328l5-10-6-5-6 24M1146 327l5-14-6 6-5 0M1140 319l5 0-6-5-5 8M1111 302l4 7-5-7-5 12M1009 268l5-1-5-2-5 3M980 260l5-7-5 1-5 6M895 224l5-2-4 2-5-6M878 214l5 3-4-6-5 5M1240 351l4 2-7-2-4 3M1233 354l4-3-6-4-5 7M1226 354l5-7-7-5-5 10M1110 302l5-3-6 3-5 5M1024 269l5-3-5-2-5 4M966 249l5 1-5-4-5 4M867 207l5 3-4-7-5 0M765 172l4-7-3-2-4 6M1217 348l6-13-7 2-5 1M985 256l5-5-5-4-5 2M1326 379l4 0-7-5-4-1M1019 265l5-8-5-1-5 5M857 198l5 3-4-8-5 5M824 188l4-5-3 3-5 2M1189 322l5-4-6-7-5 11M1183 322l5-11-6-2-5 12M1177 321l5-12-7 4-4-3M1028 260l5 4-5-7-4 0M985 247l5-7-5 3-4 8M1175 313l5 0-6-7-4 0M1140 297l5-2-6 1-5 4M1064 277l4-9-5-6-5 13M976 236l5 4-5-5-5 0M967 237l5-4-5-5-5 5M808 175l4-6-3 2-5 0M1310 360l6-12-9 10-4 4M1139 296l5-7-6 5-4-5M1033 257l5-11-5 2-5 7M945 222l5 0-5-7-4 8M928 215l5 2-5-4-4 1M860 187l5 2-5-6-4 4M1287 351l4-4-7 1-4-3M1254 334l4-2-6-5-5 8M1116 280l4 2-5-5-5 3M1089 274l4-3-5-1-5-1M976 230l5-4-5-5-4 8M796 162l5-2-4-1-4 1M1220 314l4 3-6-10-4 7M1115 277l4 6-5-9-5 3M1052 259l5-15-5 4-5 6M832 172l5 2-4-2-4 0M801 160l4 0-3-1-5 0M1295 345l5-8-7-1-4 3M882 195l4-11-4 0-5 2M877 186l5-2-4 1-4 2M874 187l4-2-4-4-4-1M802 159l5-1-4 1-4-3M890 188l4-1-4-6-4 3M1208 309l5-11-6-1-5 9M981 219l5-4-5-1-4 2M1269 322l4-4-5-12-5 10M1207 297l4-1-6-1-4 1M1128 266l4 1-5-6-5 1M1075 255l5-6-5-7-5 9M1046 240l4 1-4-4-5-2M973 214l4-2-4 1-5 1M947 202l5-2-5-3-4 0M850 169l5 1-4-7-5-5M1211 296l5-2-6-3-5 4M1080 249l4-5-5-4-4 2M1297 326l4-4-7-2-4 0M1152 276l5-10-5-2-5 12M1142 269l4-7-5-7-5 7M1069 238l5 3-5-6-4 2M885 176l4-1-4-6-4 3M828 152l4 5-3-6-5 1M1196 287l4-2-5-5-4 0M1135 262l4-1-5-7-4 5M1130 259l4-5-5 1-5 6M1050 237l4-14-5 2-4 13M956 201l5 0-5-12-4 10M912 186l5-3-5-13-4 11M832 157l5-4-4-5-4 3M1172 273l5-10-6-2-4 10M1129 255l4-1-5-6-4 3M1323 319l4-4-7 3-4 2M1144 257l4-1-5-6-4 3M974 199l4-1-5-12-4 13M913 178l4-8-3 3-4 7M851 156l5 0-4-5-4 3M848 154l4-3-3-1-5 3M1320 318l4-1-6-7-4 2M1181 266l4-5-5-5-5 6M1143 250l4 1-5-5-4 1M922 179l4-5-4-5-5 1M856 156l4-4-4-4-4 3M849 150l4 1-4-6-4 1M1311 307l4 2-6-10-5 15M1202 275l4-4-5-6-5 6M1196 271l5-6-6-2-4 3M1126 246l4-3-4-7-5 5M1021 209l4-6-4 3-4 1M926 174l4 2-4-7-4 0M860 152l4-3-3 2-5-3M849 145l5 3-4-4-4 3M1289 301l5-7-7 0-4 1M1258 289l5-10-6-3-4 8M1172 262l5-8-5-2-5 6M1167 258l5-6-6-5-4 5M1157 254l4-13-5 3-5 12M1130 243l5-2-5-8-4 3M1021 206l4-1-4-4-4-2M911 164l4 3-4-4-4-3M900 165l4-1-4-6-4 7M896 165l4-7-3 1-5-2M885 159l4-8-3 2-4 7M982 191l5-8-5 2-4 7M970 182l4-3-4 2-4 3M900 158l5 0-4-4-4 5M1323 304l4-6-6-2-4 3M1181 255l5-9-6 0-4 8M1176 254l4-8-5-5-5 7M1170 248l5-7-6 1-4 7M1134 233l4 4-5-5-4 1M1124 237l4-5-5-2-4 2M1025 199l4 0-4-6-4 7M1021 200l4-7-5-2-4 9M1327 298l4 0-6-7-4 5M1276 288l6-13-7 1-4 5M1271 281l4-5-6 2-4-3M1191 254l4-5-5-6-4 3M1143 237l4-4-5 1-4 3M1133 232l4-3-5-2-4 5M1123 230l4-6-5 5-4 0M1103 223l4 2-5-4-4 1M1047 207l4-9-4 5-4-2M1043 201l4 2-5-3-4 3M1003 197l5-10-5-2-4 4M954 175l5 0-4-7-4 6M1275 276l4-1-6 1-4 2M1107 225l5-10-6 5-4 1M909 155l4-6-3 2-4-1M884 149l4-9-3 4-4 7M1309 288l4-1-6-6-4 5M1279 275l4-2-6-1-4 4M1121 224l4-7-4-2-5 2M1112 215l3 3-4-3-5 5M882 144l3-7-3 1-4 0M1338 294l4-3-6-3-4 5M1326 288l4-1-6-6-4-2M1283 273l4-1-6-4-4 4M1270 273l5-11-6 2-4 3M1214 249l4 0-6-1-3-3M1130 221l4-4-5 2-4-2M995 180l4-10-4 2-4 9M903 149l4-2-3 1-4 0M1382 303l4-6-8 6-3-5M1311 280l3 2-5-7-4 2M911 146l4 2-4-6-4 5M907 147l4-5-3 4-4 2M1184 235l4-2-5-6-4 4M1174 232l4-4-6 2-4 4M1077 200l4-8-5 6-4-2M1072 196l4 2-4-5-4-1M915 148l4-6-4-3-4 3M1172 230l5-6-6-2-4 2M1072 193l4 1-5-3-4 1M926 148l4-3-3-2-4 5M1218 246l5-10-6-3-4 9M1208 241l4-7-5-8-4 9M930 145l4 0-3-3-4 1M1389 296l5-10-7 3-5 7M1321 265l2 8-5-12-4 6M1245 243l3 2-5-4-4-3M1223 236l3-1-5-1-4-1M1217 233l4 1-5-7-4 7M1098 200l4-11-5-3-4 11M1075 192l4-1-4-1-4-3M1003 167l4 1-4-3-4 7M975 158l5 2-4-4-4-2M913 138l4-3-4 0-4 4M1360 285l5-6-6-5-5 7M1342 274l3 0-5-5-4 2M1199 233l5-15-5 3-4 3M1135 208l4-2-5-4-4 2M1130 204l4-2-5-9-4 13M1003 165l4-3-4 2-4-4M987 157l4 3-4-5-4 7M983 162l4-7-4-4-3 9M931 142l4-4-4 2-3 5M1274 253l4-5-5-2-4 2M1183 223l4-11-5 4-4 6M1168 216l4-4-5 0-4 0M1163 212l4 0-5-3-4-2M991 160l4-3-4-4-4 2M957 146l4-2-4-1-4 1M942 144l4-10-3 7-4-2M931 140l4-1-3-6-4 5M1368 278l5-9-8 6-3-3M1362 272l3 3-5-9-4 3M1052 177l4-7-4-3-4 4M999 156l4 1-4-6-4 6M925 134l3-4-3-2-4 10M1294 245l4-6-6 4-5 10M1270 249l5-11-6-3-4 8M1269 235l3 2-5-7-3 3M1184 216l5-11-5-2-4 6M1155 205l4-6-5 0-4 5M1064 176l4-5-4 0-4 2M1060 173l4-2-4-3-4 2M1056 170l4-2-5-1-4 9M958 140l4 1-4-3-4 1M936 131l4 1-4-6-4 4M1417 283l4-3-7-3-3 2M1229 223l4-2-5-1-4 3M1208 222l4-11-4-5-5 13M1178 208l4-3-5-4-4 3M1168 205l5-9-5 1-4 2M1159 199l4-2-5-3-4 5M1077 172l4 1-5-2-4 0M1064 171l4-2-4-2-4 1M1047 171l4-10-4-3-4 9M1039 165l4-6-4 2-4 0M1003 151l4 2-4-5-4 4M1414 277l5-7-8 7-3 0M1376 267l4-6-6-6-5 16M1363 264l4-5-5-6-4 6M1287 238l4-5-5 0-5 6M1281 239l5-6-6-6-4 12M1228 220l3-1-4-11-4 9M1134 187l4 1-5-4-3 3M1125 185l4 0-5-1-3 0M1258 229l4-4-6-3-4 4M1138 188l4-5-5-1-4 2M1089 176l4-9-5 1-4 8M1018 157l4-9-4 0-3 3M1322 248l5-10-6 3-4 2M1317 243l4-2-6-1-3-2M1132 185l4 1-4-10-4 8M1128 184l4-8-5-1-4 12M1038 155l4 0-4-4-4 6M1030 159l4-11-4-1-4 10M1026 157l4-10-4 2-4-1M995 140l4-1-4-5-3 6M977 139l3-9-3 5-4 0M1444 277l4-2-7-1-3-1M1321 241l3 2-5-13-4 10M1299 229l3-2-6 0-3 4M1058 160l4-3-4-1-4 3M1054 159l4-3-4-2-4 2M970 134l3-4-3-1-4 2M1441 274l4-7-6-2-4 6M1435 271l4-6-7-4-3 3M1248 215l3 1-5-8-3 2M1243 210l3-2-5 3-4 7M1144 185l4-3-4-2-4 3M1058 156l4 1-4-4-4 1M1054 154l4-1-5-1-3 0M1050 152l3 0-4-2-3-2M984 136l4-6-4 0-3 10M1451 271l4-3-7-3-3 2M1246 208l4-4-6 4-3 3M1241 211l3-3-4-8-4 5M1157 185l4-4-4-1-4 1M1117 177l4-9-5-2-4 4M1058 153l3-2-4-1-4 2M1018 147l4-7-4-5-4 3M1010 144l4-6-4-4-3 7M1007 141l3-7-3 3-4-2M1410 256l3-4-7 5-3-2M1343 237l3-1-5-7-5 12M1157 180l3 0-4-2-4 2M1082 162l4-5-5-2-3 2M1061 151l4-1-4-3-4 3M1212 199l4-3-4-7-4 8M1128 175l4-6-4-1-4-2M1065 150l4-1-4-2-4 0M1057 149l4-4-4-1-4 4M1025 137l4-1-4 0-3 4M1022 140l3-4-4-5-3 6M984 131l4-7-4 0-3 4M1474 271l2 1-6-4-3 2M1272 211l4-1-5-5-4 6M1231 197l4-1-5-9-4 11M1159 173l4 7-5-9-3 1M1061 145l3 1-4-5-3 3M1049 142l3-2-4 2-3 0M960 122l3-9-3-2-4 3M1438 256l3 0-5-6-5 7M1149 171l4-3-5 2-3-3M1214 187l3 0-5-2-3-4M1153 168l3 0-4-6-4 8M1476 269l5-14-7 0-5 11M1432 248l3-1-5-5-6 16M1365 232l4-6-6 5-3-4M1222 187l4-3-5 1-4 2M1500 267l4-6-7-4-4 8M1493 265l4-8-7 0-3 2M988 120l4-8-4 0-3 6M1413 241l4-6-5-4-6 14M1360 229l5-13-6 0-4 7M1332 219l4-3-5-6-4 4M1300 203l3 4-4-7-4 4M1295 204l4-4-6-1-4 6M1279 201l4-7-6 8-4 1M1259 193l3-1-4-6-4 5M1087 144l3 2-4-6-3 0M1003 119l3 0-3-4-4 4M999 119l4-4-4-1-4 1M1430 238l2 2-6-3-4 5M1078 141l4-6-4 3-4-6M1055 131l3-1-4-1-3 1M1010 121l3-2-3-1-4 1M1006 119l4-1-4-3-3 0M1396 229l4-7-7 5-3 0M1286 196l3-1-5 0-3 0M1281 195l3 0-5-4-3 4M1235 185l4-5-4-5-4 10M1231 185l4-10-5-2-4 12M1166 163l4-6-5 5-4 3M1035 127l4-4-4-2-3 8M1309 207l5-14-6 3-4 9M1300 198l3-5-5 4-4 1M1294 198l4-1-5-5-4 3M1289 195l4-3-5-1-4 4M1160 160l4 0-4-10-4 9M999 115l4-1-4-4-3 2M1451 237l3 0-6-5-5 13M1155 157l4-13-5 10-3 4M1134 146l3 1-4-5-3 5M1109 142l3-4-4-3-3 4M1081 137l3-7-4 3-3-3M1069 129l4 0-4-5-4 3M1031 124l4-7-4-3-3 2M1479 244l3-2-7 0-2 0M1460 238l4-5-8 5-2-1M1116 142l4 0-4-5-4 1M1061 127l3-3-3-5-4 4M1031 114l4 0-4-1-3 3M1010 113l3-3-3-2-4 2M1488 245l3-3-6-1-3 1M1456 238l3-2-6-1-2-5M1112 140l3-7-4-3-4 12M1053 124l4-6-4-4-4 2M1384 210l3-2-6-1-3-2M1228 174l4-8-4-4-4 7M1166 146l3 3-4-7-4 7M1027 111l4 1-4-3-3-1M1311 187l3-1-5-3-4 9M1241 171l4-1-4-11-4 8M1209 162l3-3-4-6-3 2M1038 115l3-6-3 0-4 6M1034 115l4-6-4-3-3 6M1020 112l3-6-3-3-4 7M1484 238l4-6-6-6-4 8M1198 159l4-8-4-4-4 12M1082 125l4-4-4 2-3-3M1075 119l3 1-4-2-3 1M1027 108l3-1-3-5-4 4M1002 103l4-1-4-1-3 0M1370 203l4-8-5-3-3 3M1239 163l3 1-5-3-3 1M1113 132l4-4-4-1-4 1M1413 210l2 2-5-7-3 4M1358 192l2 3-5-5-3 0M1109 128l3-6-4-4-3 11M1105 129l3-11-4 0-3 7M1085 121l4-3-4 2-4 0M1020 104l3 0-3-4-4 2M1013 103l3-3-3-2-4 4M1009 102l4-4-4-1-3 2M1415 212l3-3-3-13-5 9M1360 195l3-2-5-3-3 0M1240 161l4-3-5 2-4 3M1128 132l3-2-4 0-3-3M1026 103l4-4-4-1-3 6M1023 104l3-6-3-4-3 6M1013 98l3-2-3-5-4 6M1337 186l4-10-5 2-4 5M1019 96l4 2-4-4-3 2"/>
<path color="#d52" d="M769 418l6-11-5-1-5 16M652 344l6-6-3 4-7 0M558 291l5-8-3 2-6 1M631 328l7-3-6-12-5 13M517 258l6-5-2 1-7 0M951 520l6-24-7-5-6 21M543 267l6-8-2 6-8-3M695 352l6-10-4 1-7 6M656 324l7 0-4-1-7 4M547 265l5-8-3 0-6 4M906 460l7 2-6-9-7 13M852 434l7-3-5-3-7 6M1075 555l7-4-8 0-7-5M952 487l7-9-7-13-7 14M932 471l7 1-6-5-7 9M820 408l7-7-5-1-7 6M758 369l8 2-5-6-7 4M754 369l7-4-5 1-7 2M649 307l7 1-4-6-4 18M572 265l7-3-3 2-7-2M540 248l6-1-4-7-5 5M1066 548l7-15-7-6-8 14M1058 541l8-14-8-1-7 15M920 462l7-17-6 9-7 1M1058 526l7-6-8-6-7 8M946 466l7-14-6 3-7 16M891 434l6-4-5-1-7 5M813 387l6-3-5-3-6 5M621 284l6-6-4-2-7 0M547 243l6-4-5-8-4 10M1014 491l6 2-7-6-6 9M814 381l7 1-5-7-7 5M837 393l7-7-6-4-6 7M844 386l7 4-6-11-7 3M737 330l6-4-4 1-7-8M687 305l6-6-4 1-7 0M625 267l5-9-2 4-6 7M588 249l6-1-4-6-6 3M564 231l7 1-3-2-7 1M973 447l7 2-6-4-7-1M961 445l6-4-6-8-7 7M872 401l6-14-5 0-6 11M701 306l6-7-4 0-6 1M658 283l5-13-3 4-6 6M974 445l6-11-6-1-7 8M967 441l7-8-7-5-6 5M847 379l6-9-5-2-6 12M842 380l6-12-6-6-6 6M707 299l7 3-4-3-7 0M660 274l7 5-4-4-7-2M1083 492l7-2-8-7-6 15M1040 472l7-8-7-9-7 17M848 368l6 0-5-4-7-2M784 337l6-3-5-9-6 12M779 337l6-12-4 7-6 5M1075 484l6-4-7-4-6 9M839 360l6-5-5 2-6 0M819 352l6-12-5 1-5 13M665 268l6-4-4-2-7-2M1089 480l6-2-7-4-7 6M956 415l6-3-6-6-6 4M850 358l7-2-5-3-7 2M787 322l6-1-5-9-5 19M1032 442l7-4-7 0-6 13M987 431l6-15-6 0-6 5M962 412l7-1-6-5-7 0M868 354l6-1-5-3-6 6M672 257l6-3-4-2-6 0M1019 428l6-9-7 3-6-4M766 298l6 3-4-3-7-2M708 270l6-3-4-3-5 8M952 382l6 1-6-2-6 11M799 315l5-12-5-3-5 7M742 282l6-3-3 2-7-1M1127 473l6-14-7-3-6 7M737 277l4-12-3 0-6 6M1018 410l6-10-6-1-6-2M987 391l6-6-6-6-6 9M909 357l5-16-5 5-5 17M685 247l5-12-4-3-5 11M982 385l6-3-6-11-6 5M869 333l5-10-5-1-5 6M835 314l6-5-5-6-6 8M1182 477l7-13-8 4-6 6M1024 394l6 2-6-3-6 3M948 358l5-6-5 4-5 13M804 290l6-1-4-1-6 6M1158 455l6-6-7 0-6 2M1030 396l6-5-6-1-6 3M943 353l5-6-5-2-6 10M994 369l5-3-5-5-6 10M848 303l5-4-5-10-5 10M790 276l6 1-4-4-6 1M722 243l6-2-4-2-5 4M1155 442l6-7-7 2-7 11M1023 386l6-10-6-1-6 7M1017 382l6-7-6-4-6 6M933 340l6-10-5 6-6 1M840 296l6-3-5-5-6 6M796 277l6-5-5-7-5 8M780 269l5-4-4-5-6 7M1154 437l6-8-7-5-6 9M1060 395l6-11-7-7-6 13M1029 376l6-8-6 5-6 2M841 288l6 0-5-4-6 4M832 288l5-9-4-5-6 9M823 281l5-6-4-1-5 11M765 254l5-7-4 4-5 3M691 225l4-11-3-3-5 7M1153 424l5 2-7-5-5-2M999 360l6-10-6 1-5 9M735 233l6 2-4-5-6-2M813 265l5-2-4-6-5 8M760 245l5-6-4-5-5 5M1103 390l5-7-6 0-6 11M956 324l5 1-5-2-6 1M1046 371l5-19-6 3-5 10M783 247l5-9-4-4-5 11M699 209l4-7-3 2-5 1M1241 441l5 2-8-8-5 8M1101 381l5-6-6 0-6 10M817 254l5-1-4-4-5 8M761 233l5-5-4-5-4 9M707 206l5-3-4-6-5 5M1238 435l6-2-7-8-6 10M1231 435l6-10-8-2-6 7M1223 430l6-7-8-1-5 0M1100 375l5-6-6 3-6-1M802 246l5-6-4 3-5 1M1033 336l5 5-5-6-6-3M772 228l5-3-4-3-5 0M718 203l4-5-3 1-4 8M942 297l6 0-5-3-6 0M909 286l4-13-4 6-5 2M793 232l5 0-5-8-4 7M1217 411l5-3-7-5-5 0M1210 403l5 0-7-1-6 10M1202 412l6-10-7-6-6 9M1161 387l6-1-7-4-5 2M1085 358l5-10-6-2-5 5M1079 351l5-5-6-6-5 14M1067 350l5-13-5-3-6 11M909 279l5-3-4-4-5 8M886 265l5 1-4-5-5 5M882 266l5-5-5-3-5 10M877 268l5-10-4-3-5 11M873 266l5-11-4 6-6 1M1208 402l5-5-7 1-5-2M1005 317l5 1-5-9-6 5M874 261l5-8-5-3-5 8M1206 398l5-7-7-1-5 4M774 214l4-12-3 3-4 10M767 210l5-5-4 1-5 1M1164 373l5-7-7 0-5 7M806 223l5-5-4-1-5 1M1137 353l5-3-6 2-5-3M1112 346l5-5-6-2-5 7M1005 300l5-3-6-4-5 2M903 263l5-8-5-5-5 5M1272 405l5-6-8 4-5 2M1123 343l6-6-7 6-5-2M1093 336l5-6-6-1-5 1M1076 328l5-1-6-6-5 4M894 251l6-1-5-2-5 2M1247 393l6-11-8 1-5 6M1081 327l5-8-6 3-5-1M1075 321l5 1-6-7-5 10M1069 325l5-10-5-2-5 10M922 258l5-7-5 0-5 4M806 214l4-10-3 1-5 1M1092 322l5-3-6-8-5 8M1138 336l6-6-7 3-5 2M1132 335l5-2-6-6-5 4M1063 308l5 0-6-9-5 12M923 253l5-5-4 1-6-1M975 269l5 0-5-6-5 2M1107 315l5-8-6 0-5 13M1019 282l5-7-5-5-5 12M980 269l5-4-5-5-5 3M1257 372l6-9-7-1-6 10M947 246l5 1-5-5-4 7M943 249l4-7-4-1-5 6M999 263l5-1-5-4-5 2M985 264l5-6-5-5-5 7M899 225l5-6-4 3-5 2M791 182l5-3-4-1-4 3M1316 390l6-11-8 0-5 9M1309 388l5-9-8 2-3-6M1267 360l5-4-8 6-5 7M948 240l5 0-5-1-5 0M1264 362l6-15-8 14-5 3M1150 310l4 6-6-8-4 1M1144 309l4-1-6 1-4 2M1109 302l5-5-6-5-5 1M852 198l5 0-4 0-5-2M1216 337l5-5-7 5-5 0M1148 308l5 1-6-4-5 4M1024 267l4-7-4-3-5 8M873 204l5 1-4-6-5 4M1171 310l4 3-5-7-5 10M1165 316l5-10-6 0-6 10M1153 309l5-4-6-5-5 5M1141 307l5-4-6-6-5 11M1024 257l4 0-5-3-4 2M962 237l5 0-5-4-4 3M958 236l4-3-4-3-5 6M874 199l5 5-5-6-4 4M1313 366l6-15-9 9-5 10M1146 303l4 0-5-8-5 2M971 235l5 0-4-2-5 4M962 233l5-5-4-5-5 7M1117 287l4 0-5-7-5 1M1084 273l5 1-6-5-4 5M941 223l4-8-4-6-5 10M932 218l5-5-4 4-5-2M1261 331l4-1-7 2-4 2M1247 335l5-8-7-1-5 8M972 229l4-8-4 0-5 7M928 213l5-3-4-8-5 6M916 213l4-10-4-3-4 8M1252 327l4 2-6-7-5 4M1245 326l5-4-7-2-5 8M1250 322l4-2-6-4-5 4M1243 320l5-4-7 2-4 2M1119 283l5-11-6 3-4-1M1093 269l4-3-5-4-5 4M1072 259l5-8-6 4-4 6M909 204l4-11-3 4-5 3M1321 346l5-6-8 6-5 3M1192 299l5-1-6-5-5 1M1071 255l5-9-5 8-5 6M1042 245l4-4-5 1-4 4M999 230l5-9-5 0-4 5M934 205l4-9-4 2-4 11M1311 340l5-4-6-11-5 9M977 216l4-2-4 1-5-3M883 181l4 2-4-4-4 1M875 184l4-11-3 2-4 8M814 157l5 0-3-2-5 3M1250 316l5-11-7 6-5 4M1213 298l4 0-6-2-4 1M1354 347l5-7-7-1-5 10M1326 337l6-10-8 3-4 3M1110 262l5-4-5-8-5 7M1065 250l4-12-4-1-5 5M956 199l4 0-4-1-4 2M880 174l5 2-4-4-4 5M1210 291l4-9-6 8-5 3M1174 275l4-3-6 1-4 1M1054 234l5-6-5-5-4 14M1139 261l5-4-5-4-5 1M1134 254l5-1-6 1-4 1M1088 245l4-8-4-3-5 2M1083 236l5-2-6 2-4 3M1265 298l5-7-7 3-4 4M1133 254l5-7-6 3-4-2M991 203l4-1-5-9-4 15M969 199l4-13-4 6-4 8M880 164l4-5-4 0-4 5M1132 250l5-6-6 5-4 2M859 154l4-4-3 2-4 4M1213 277l5-6-6-2-4 3M1131 249l5-13-6 7-4 3M1121 241l5-5-5-2-5 10M1091 237l5-12-5 3-5 7M1017 207l4-1-4-7-5 4M1382 333l5-9-8 0-3-2M1283 295l4-1-6-3-4 4M1195 263l4-3-5-4-5 5M861 151l3-14-3 6-4 10M1245 282l5-14-6 1-5 7M858 148l4-6-4-4-4 4M1362 318l5-10-7 3-4 1M1356 312l4-1-7-4-4 5M1187 252l4 2-5-8-5 9M1099 223l4 0-5-1-4 5M1367 308l3 2-5-11-5 12M1309 287l3 1-6-1-4 3M1113 224l4-3-5 2-4-2M1038 203l4-3-4-1-4 0M978 181l5-5-4 3-5 0M1312 288l4-3-7 3-3-1M1152 239l5-6-6-3-4 3M928 161l4-4-4-5-4 8M999 180l4 1-4-4-4 4M995 181l4-4-4 3-4 4M1411 322l5-10-7-1-5 9M1313 287l4-3-6-4-4 1M1277 272l4-4-6-6-5 11M975 169l4 2-4-4-4 6M1395 308l5-7-7-5-5 14M1388 310l5-14-7 1-4 6M1336 288l4-4-6-3-4 6M1330 287l4-6-7 2-3-2M1223 252l5-10-6 1-4 6M1378 303l5-10-7 0-4 4M1340 284l4-3-7 2-3-2M1250 256l4-4-6 3-4 1M1059 197l4-5-5 0-4-1M1376 293l3 1-5-8-4 3M1329 276l4-6-6-4-4 4M1203 235l4-9-6 6-4 0M1161 221l4-3-4-10-5 15M1156 223l5-15-6 4-4 9M1071 191l4 1-4-5-4 3M972 161l3-3-3-4-4 4M937 145l5 3-4-6-4 4M1395 300l6-14-7 0-5 10M896 135l3-11-3 5-4 3M1387 289l4-6-7-3-4 11M1380 291l4-11-6-2-4 6M1354 281l5-7-7-3-3 4M1349 275l3-4-7 3-3 0M1248 245l4-5-5-7-4 8M1011 172l4-11-4 3-4 4M1007 168l4-4-4-2-4 3M1298 255l4-8-6 4-6 15M1153 208l4 1-5-1-4 4M1065 184l4-6-4 1-4-1M1374 279l5-6-6-4-5 9M1056 180l4-8-4-2-4 7M943 141l3-3-3-2-4 4M1265 243l4-8-5-2-5 8M1091 185l4-9-4-2-5 12M1225 227l4-4-5 0-4-1M1180 209l4-6-6 5-4 0M1165 200l3 5-4-6-4 1M919 130l3-8-3 0-4 3M1203 219l5-13-6 3-4 8M1154 199l4-5-5-4-4 4M1060 168l4-1-5-3-4 3M1043 167l4-9-4 1-4 6M962 141l3-5-3 1-4 1M1276 239l4-12-6 4-3 0M1217 215l4-5-5 2-4-1M1130 187l3-3-4 1-4 0M1094 176l4-5-5 2-4 6M1007 153l4-3-4-2-4 0M962 137l3-4-3 0-4 5M1015 151l3-3-4 1-3 1M1245 224l5-14-6 1-4 8M1240 219l4-8-5 6-4 0M1034 157l4-6-4-3-4 11M962 133l4-2-4-5-4 4M1315 240l4-10-6 3-4 9M1150 191l4-5-5 0-3-3M1448 275l3-4-6-4-4 7M1307 232l4-2-5-5-4 2M1192 203l4-19-5 8-4 4M1154 186l3-1-4-4-4 5M1136 178l3 1-4-4-4 3M1030 150l4-2-4 0-4-4M977 133l4-5-4 1-4 1M1317 230l3-1-5-3-4 4M1230 207l5-7-6 5-4 2M1148 182l4-2-5-1-3 1M1034 148l3-10-4 11-3-1M977 129l4-1-4-2-4 3M1336 241l5-12-5-3-5 10M1309 224l4-5-6 5-4 5M1185 190l3-3-4-2-4 4M1445 264l4-8-8 5-3 3M1336 226l4-8-8 15-4 9M1279 218l4-4-5-4-4 6M1156 178l3-5-4-1-4 1M1374 239l2 1-5-4-4 7M1283 214l4-3-6-2-3 1M1221 198l5-14-6 5-4 7M1216 196l4-7-5-4-3 4M1206 193l5-11-5-2-5 14M1201 194l5-14-5 4-4 6M953 117l3-5-3-3-4 7M1287 211l3-4-5-3-4 5M1089 152l3-1-4 0-3 0M1259 199l4-8-7 12-3 3M1224 187l3 1-5-1-4 4M1180 180l4-10-5 2-4 10M1166 180l4-9-5 0-3 1M1052 140l4 0-4-4-4 2M1006 131l4-8-4-1-3 5M1498 264l2 3-7-2-4 5M1217 187l4-2-5-3-4 3M1212 185l4-3-5-2-4 10M1374 234l4-7-5-6-4 5M1104 155l3-8-4-2-4 11M1091 150l4-4-4-1-4 0M1420 240l2 2-5-7-4 6M1285 200l3-3-5-3-4 7M1249 191l3-6-5 4-3 0M1219 182l4-3-5 0-3 0M1006 121l4 0-4-2-3 0M1417 235l4-4-7 1-2-1M1098 145l4 3-4-5-4-2M1086 140l4-4-4-1-4 7M992 113l3-1-3-1-4 7M1432 240l4-5-7 0-3 2M1102 148l3-7-4-1-3 3M995 112l4 3-3-3-4-1M1436 235l2 2-5-7-4 5M1411 231l4-4-6-1-4 2M1304 205l4-9-5-3-3 5M1284 195l4-4-5-2-4 2M1105 141l4 1-4-3-4 1M1476 245l3-1-6-2-3-1M1457 241l3-3-6-1-3 0M1438 237l4-7-6 0-3 0M1089 133l3 1-4-2-3 4M1085 136l3-4-4-2-3 7M1061 128l4-1-4 0-4 1M1035 120l4-8-4 5-4 7M985 110l4-6-4 0-3 2M1466 243l4-6-6-4-4 5M1120 144l4-4-4 2-4 0M1035 117l3 1-3-4-4 0M1527 257l4-7-6-4-4 5M1279 184l3 0-5-3-3 2M1244 175l4-2-5-2-4 4M1116 137l3-2-4-2-3 7M1107 142l4-12-4 0-3 7M1459 236l5-8-6-3-5 10M1248 173l3 0-5-4-3 2M1206 160l3 2-4-7-4 0M1161 149l4-7-5 7-3 3M1387 208l3-3-6 3-3-1M1336 201l4-7-5-2-3-1M1182 153l4-5-5 1-3 0M1160 149l4-10-5 4-3 6M1111 129l3 3-4-5-4 5M1031 112l3-6-4 1-3 2M1016 110l4-7-4-2-3 9M1013 110l3-9-3 2-4 5M1473 229l3-3-6-2-4 5M1361 204l5-9-6 0-3 0M1351 201l3-7-5-4-4 11M1345 201l4-11-5 2-4 2M1203 157l4-3-5-3-4 8M1194 159l4-12-5 1-3 4M1130 137l3-1-3-8-4 6M1513 239l4-5-8 4-4 4M1234 162l3-1-5 0-3 3M1271 169l3-1-5-2-3 2M1256 168l4-6-5-1-4 3M1149 143l4-10-5-1-3 8M1493 232l4-6-7-1-3 1M1309 177l3-1-5-2-4 4M1274 168l3-4-4-2-4 4M1182 143l4-1-5-1-3 0M1140 134l4-4-5 2-3-2M1044 107l4-5-4-2-3 9M1030 102l3-4-3 1-4 4M1016 100l3-4-3 0-3 2M1342 186l4-7-5-3-4 10M1181 141l3-2-4-3-3 5M1139 132l4-5-5 4-3 1"/>
<path color="#b52" d="M1031 570l7 6-8-17-7 4M896 494l7-10-7-4-6 19M589 302l6-3-5-9-6 6M554 284l6-6-5-12-5 12M957 519l7-15-7-8-6 24M879 467l7-5-6-6-7 1M793 410l8 2-6-4-7 2M566 274l7 0-4-6-6 5M938 486l7-7-6 3-8-2M893 456l8 0-7-9-7 6M762 383l6-10-4 0-7 5M859 431l7-5-5 1-7 1M749 368l7-2-4 0-7 3M566 259l5-8-2 2-5 9M940 471l7-16-7-9-7 11M550 246l5-7-2 0-6 4M775 365l7-4-6-5-6 5M724 334l7-1-5-5-6 5M1007 484l6-2-7-7-6 10M966 459l7-4-6 3-7-6M782 361l6-3-5-7-7 5M626 273l7 3-4-9-7 2M1061 474l6-6-7-5-6 11M824 353l7 1-6-14-6 12M809 347l7-4-6-10-6 2M780 317l6 0-4-3-7-3M1032 438l6 1-6-10-7 5M1051 447l7-9-7-5-6 12M1135 466l5 3-7-10-6 14M935 373l6 0-6-11-6 1M645 220l6-5-4-4-5 8M1124 444l5-4-7-2-5 0M988 382l6 1-6-14-6 2M932 351l5-14-5 4-5 7M789 281l6-1-5-4-6 1M735 255l4-10-4-2-6-1M1178 447l5-6-7 1-7 14M819 285l5-11-4-4-5 11M815 281l5-11-4 2-6 8M761 254l5-3-4-3-6-7M678 221l4-13-4-4-4 10M994 360l5-9-5-2-6 6M722 225l6 2-3-3-7-4M684 207l6 0-4-2-5 0M972 327l6-3-6-2-5 10M748 228l6 0-5-7-5 3M813 257l5-8-4 0-6 1M1216 422l5 0-7-2-6 6M809 243l7 11-5-13-6 0M1104 373l6-13-7 0-5 5M742 209l5-8-4 0-4 10M762 211l5-1-4-3-5-1M716 193l5-8-3 3-5 5M813 235l4-10-4-7-5 11M930 278l5-16-4 7-6-4M835 231l4-6-4 0-5 1M835 225l6 0-4-3-6 1M1269 403l5-7-6-11-7 17M1104 340l5-11-6-6-5 7M1052 309l5-14-6 0-5 3M1112 316l5 5-5-14-5 8M1101 320l5-13-6 3-5 2M924 244l5-4-5-3-4 2M873 226l5-8-5-3-4 5M1151 337l6-24-6 0-5 14M1134 322l5-8-6-6-5 11M1004 268l5-3-5-3-5 1M952 247l5-3-5-3-5 1M916 234l5-3-4-9-5 11M1087 293l5 1-5-6-5 7M952 241l5 5-4-6-5 0M1138 311l4-2-6-1-4-6M1092 294l5 0-5-7-5 1M1034 269l5 2-5-4-5-1M1184 325l5-3-6 0-5-2M1034 267l4 4-5-11-4-1M1323 374l4 4-6-13-5 4M1214 337l5-11-7 4-5 5M994 245l5 8-4-8-5 0M828 183l5 0-4-7-4 10M981 241l4-3-4 2-5-4M883 204l4-8-4-3-4 11M800 167l6 4-4-5-4 5M972 233l4-3-4-1-5-1M1121 287l5-5-6 0-4-2M1131 287l5-4-6 1-4-2M1047 254l5-6-5 2-5-4M1235 317l5-8-7 2-4-1M1041 236l4 0-5-7-4 0M1344 340l6-11-9 6-3 1M1226 295l4-7-6-1-4-2M1124 261l5-6-5-4-4 2M1084 242l4 3-5-9-4 2M1178 272l4-3-5-6-5 10M917 183l4-2-4-3-5-8M917 178l5 1-5-9-4 8M876 164l4-5-3 3-5-5M953 185l4 4-4-5-4 1M1372 325l4-3-8 4-3 1M1191 266l4-3-6-2-4 0M1003 197l5 1-5-8-4 5M1140 239l4 2-5-3-4 3M897 159l4-5-4-3-4 11M1349 312l4-5-6-7-4 8M1117 221l4 3-5-7-4 6M917 153l4 5-4-11-4 2M1165 237l5-5-6 2-3-2M1161 232l3 2-4-11-4 5M1016 193l4-16-4 2-4 9M1134 217l4 4-5-5-4 3M1334 280l5-9-6-1-4 6M1241 246l4-3-6-5-4 6M1141 217l4-3-4-6-5 8M905 135l4 4-3-5-4 2M995 167l4-7-4-3-4 6M899 139l4-9-4-6-3 11M1365 279l3-1-6-6-3 2M1178 222l4-6-5-7-4 2M965 136l4 4-4-7-3 4M973 135l4 0-4-2-4-4M1293 231l3-4-5-6-4 8M1050 156l4-2-4-2-4 6M1188 187l4 0-4-6-4 4M1367 243l4-7-6-2-3 3M1303 217l3 2-5-11-3 5M1255 201l4-8-5-2-4 0M1044 137l3-5-4-8-3 7M985 118l3-6-3 3-4-4M1384 230l3 0-5-9-4 6M1059 136l3 2-3-8-4 0M1051 137l4-6-4-1-4 2M1013 119l4-2-4-3-3 4M1473 242l2 0-5-5-4 6M1454 237l2 1-5-8-3 2M1423 231l4-7-5-5-5 9M1475 242l4-5-6-4-3 4M1252 176l4-2-5-1-3 0M1075 129l4-9-4-1-4 3M1009 108l4-5-4 3-3-6M1524 242l1 2-5-7-3 2M1049 118l3-9-4-2-3 5M1375 206l5-11-6 0-4 8M1328 183l2 8-4-11-3 5M1248 172l3-8-4-1-3-1M1305 178l4-1-6 1-3 4M1121 130l3-3-4-3-3 4"/>
<path color="#e62" d="M774 416l6-10-5 1-6 11M691 370l6-11-4 1-7 5M686 365l7-5-4 0-7 4M507 253l7 1-3-2-7 2M878 475l7-12-6 4-7 9M860 470l6-24-5 3-7 20M802 426l7-6-5 2-7 4M550 278l5-12-2 5-6 8M985 524l7-5-7-3-7 6M944 512l6-21-6-1-7 21M696 357l7-5-5-3-6 5M692 354l6-5-3 3-7 2M662 336l5-13-4 3-5 13M658 339l5-13-4-3-5 11M1014 538l8-11-8-4-7 11M1007 534l7-11-7-5-7 4M985 516l7-9-7-4-7 19M944 490l7-5-7-2-6 17M644 323l6-12-4 2-6 2M1068 565l7-10-8-9-7 13M944 483l8 4-7-8-7 7M792 399l7-6-6-6-6 8M787 395l6-8-5-4-5 18M697 343l5-10-3 5-6 9M993 499l7-3-7-3-7 16M958 481l7-5-6 2-7 9M945 479l7-14-7 5-6 12M764 373l6-7-4 5-8-2M766 371l6-11-4 3-7 2M652 302l6-1-4-3-6 6M553 252l5-8-3-1-5 9M654 298l8 2-5-6-6 3M1096 539l7-17-8 4-7 17M1042 509l7-11-7 6-7 5M1063 503l7-4-7-2-7 5M1056 502l7-5-8 1-6 3M954 443l7 2-7-5-6 6M900 423l6-12-6-2-6 7M1070 499l7-3-8-5-6 6M1063 497l6-6-7-6-7 13M1055 498l7-13-7 0-7 11M705 304l6-4-4-1-6 7M611 255l5-9-3 1-6 4M607 251l6-4-3 0-7 1M603 248l7-1-4-5-5 12M986 448l7-13-6 2-7 12M656 271l4-11-3 2-6 4M844 363l6-5-5-3-6 5M767 323l6-8-5-5-5 7M657 262l7 0-5-9-5 10M654 263l5-10-3 6-5 8M845 355l7-2-6-8-6 12M820 341l6-4-5-4-5 10M816 343l5-10-4 0-7 0M685 268l7 4-4-4-6 2M862 359l6-5-5 2-6 0M841 347l6-7-5-4-6 9M817 333l6 1-5-3-5 8M665 251l7 6-4-5-6 1M598 222l5-5-3-1-6 5M993 416l7 5-7-7-6 2M928 382l6-5-6-2-6 11M837 336l7-4-5 3-6 1M823 334l7 0-5-7-7 4M721 276l7 1-4-2-6 2M1138 481l6-5-8-5-6 12M1130 483l6-12-7-3-7 13M1025 427l6-8-6 0-6 9M969 405l6-9-6-3-6 8M1058 438l6-10-7 0-6 5M929 375l6-2-6-10-5 13M907 366l6-7-5-3-6 6M981 390l6 1-6-3-6 6M958 383l6-6-6 3-6 1M913 359l6-3-5-3-6 3M732 271l6-6-4 0-6 6M1126 456l6-6-7 0-6 9M981 388l6-9-5 6-6 4M914 353l6-2-6-10-5 16M1012 398l6-2-6-5-6 4M830 311l6-8-4 7-7-3M807 296l5-9-3 5-6 8M683 235l5-4-3-1-5 6M1190 477l7-8-8-5-7 13M1160 457l6-7-8 5-6 5M1131 444l6-7-8 3-5 4M982 371l6-2-6 1-6 8M953 367l6-10-6-5-5 6M915 343l6-7-5 0-6 3M796 290l5-10-4 1-6 4M740 255l5-3-4-1-5 3M988 371l6-10-6-3-6 14M886 321l5-12-4 3-6 4M867 317l5-12-4 2-6 3M757 260l6-3-4-3-6 4M739 245l6-2-4-3-6 3M1147 433l6-9-7-5-6 8M944 335l6-3-6-3-5 1M730 240l5-7-4-5-5 10M1118 410l6-6-7-1-6 7M1072 393l6-10-7-1-5 2M1066 384l5-2-6-1-6-4M706 220l5-6-3 2-5 4M692 211l5 1-3-5-5 6M689 213l5-6-4 0-5 5M685 212l5-5-4-5-4 6M857 288l5-5-4 1-6 2M730 231l5-7-4 0-5 2M862 283l6 2-5-5-5 4M713 215l6-1-4-5-5 7M1191 422l5-3-7-4-6 11M779 245l5-11-4 3-5 6M780 237l5-7-3 2-5 11M765 230l5 0-4-2-5 5M1075 364l5-4-6 3-5 0M826 255l5-11-4 5-5 4M782 232l5-1-4-1-6-1M766 228l6 0-4-6-6 1M937 300l5-3-5-3-5 2M783 230l6 1-4-1-6 0M1212 409l5 2-7-8-5 3M1033 335l5-6-6 4-5 3M1005 326l5-16-5 4-6 8M789 231l4-7-3 5-5 1M773 222l5-4-4-1-4 11M747 213l5-5-3 1-5 1M1155 384l5-2-7-4-5 6M905 280l5-8-5-3-5 7M778 218l6 0-4-3-6 2M1222 408l6-9-7-4-6 8M1201 396l5 2-7-4-5 0M910 272l5-1-5-6-5 4M849 243l5-5-4 1-6 2M781 212l5-3-4-5-4 11M778 215l4-11-4-2-4 12M1157 373l5-7-6-3-5 4M1151 367l5-4-7 1-5 3M994 306l5-11-5 0-5 5M1282 412l5-3-7-5-6 10M1196 379l5-4-7-1-5 2M1182 373l6-7-7-3-6 9M1175 372l6-9-7 0-5 3M1169 366l5-3-6-2-6 5M898 255l5-5-4 3-5 2M1117 341l5 2-6-9-5 5M1111 339l5-5-6 4-5 0M969 280l5-5-5 3-5-4M908 255l4-10-4 9-5-4M1212 377l7-15-8 7-6 10M1122 343l5-9-6 2-5-2M917 255l5-4-4 1-6-7M809 212l5-12-4 4-4 10M1211 369l5-5-7-1-5 1M1127 334l5 1-6-4-5 5M1097 325l6-5-6-1-5 3M1086 319l5-8-6 1-5 10M1074 315l6-5-6 4-5-1M1069 313l5 1-6-9-5 9M974 273l5-8-5 1-4 12M909 250l5-3-4-1-5 2M1300 411l7-19-9 6-5 8M1126 331l5-4-6 1-5 2M1103 320l5-6-6 5-5 0M1080 310l5-6-6 2-5 8M1074 314l5-8-6-9-5 8M927 251l5-5-4 2-5 5M1079 306l5 0-6-2-5-7M928 248l5-10-5 5-4 6M889 235l4-9-4-1-5 5M884 230l5-5-4 0-4 15M1078 304l5-5-5 0-5 7M915 240l5-4-4-2-5 3M881 227l5-9-4 2-5 13M814 197l5 0-4-2-5-1M761 177l4-6-3 3-5 1M1078 299l5-8-6 4-5 13M994 269l5-6-5-3-4 7M990 267l4-7-4 1-5 4M861 211l6 4-5-5-4 4M830 201l5-9-4 6-4 8M819 197l5-4-4 0-5 2M786 183l5-1-3-1-5 4M947 242l5-1-4-1-5 1M862 210l5-3-4-4-4 10M1325 386l4 0-7-7-6 11M1182 324l4 0-6 2-6 12M1145 319l5-9-6-1-5 5M775 172l4-5-3 3-4 0M980 249l5-2-5-1-4 3M1142 309l5-4-6 2-5 1M1075 280l5-7-5 5-5 9M1014 261l5-5-5-3-5 2M990 251l4-6-4 0-5 2M795 175l4-7-3-2-5 6M1316 369l5-4-8 1-5 9M1221 332l5-5-7-1-5 11M990 245l5 0-5-5-5 7M953 236l5-6-5-2-4 3M835 184l5-1-4-1-4 0M985 243l5-15-5 10-4 3M811 173l4-7-3 3-4 6M963 223l4 5-4-8-5 6M936 219l5-10-4 4-5 5M1307 358l6-12-7-7-5 11M1144 289l5-6-6 3-5 8M967 228l5-7-4 1-5-2M1214 314l4-7-6-2-5 7M805 160l5-4-3 2-5 1M1186 294l5-1-6-2-5 9M1180 300l5-9-6-1-5 3M1004 231l4-12-4 2-5 9M886 184l4-3-3 1-5 2M882 184l5-2-4-1-5 4M1326 340l4-7-8 11-4 2M1129 269l4 2-5-5-5 2M1118 270l4-8-5 5-5 2M981 214l5-1-4 0-5 2M819 157l4-3-3-3-4 4M816 155l4-4-4 1-4 2M1105 257l5-7-6 7-4 1M1075 242l4-2-5-1-4 10M823 154l5-2-4 0-4-1M1324 330l5-8-8 7-4 1M1246 304l5-9-7 0-5 15M1079 240l5 2-5-4-5 1M1065 237l4-2-5-5-4 4M1060 234l4-4-5-1-4 12M1232 296l5-9-7 1-4 7M1214 282l5-3-6-1-5 12M1208 290l5-12-6 1-5 11M1120 253l4-2-5-2-5 1M1200 285l6-15-7 5-4 5M1124 251l4-3-5-2-4 3M1093 241l5-5-6 1-4 8M1049 225l5-6-5-4-4 11M898 175l3-11-3 2-4 2M854 156l4 2-3-5-5 2M837 153l3-7-2 5-5-3M1235 285l4-3-6 2-5 6M858 158l4-5-3 1-4-1M1239 282l4-2-6-4-4 8M1097 237l4-5-5 4-4-4M949 185l4-1-4-6-4 8M1185 261l4 0-5-4-4-1M1053 213l4-3-4 0-5 15M846 147l4-3-3-1-4 3M1253 284l4-8-6 3-4-1M1223 273l5-9-6-1-4 8M1189 261l5-5-6 1-4 0M1053 210l4-1-5-2-4 5M1017 199l4 2-5-3-4 8M999 195l4-5-4 0-4 9M970 186l4-2-4-2-4 5M850 144l4-2-3 0-4 1M1251 279l5-11-6 0-5 14M1216 269l4-7-6 1-4 7M1130 233l4 0-5 0-4 2M1021 201l4-2-4 1-5-2M974 184l4-4-4-1-4 3M854 142l4-4-3 2-4 2M1214 263l5-10-6 9-4 1M1104 223l4-2-5 2-4 0M982 185l5-3-4-2-5 0M931 166l4-1-4-6-4 8M894 151l4 1-4-2-4 0M862 142l4 0-3-3-5-1M1302 290l4-3-6-7-4 6M1128 232l4-5-5-3-4 6M1052 200l4-4-5 2-4 9M1008 189l4-8-4 6-5 10M991 181l4-1-4-2-4 4M987 182l4-4-4 2-4 0M901 150l5 0-4-1-4 3M1112 223l4-6-4-2-5 10M906 150l4 1-4-3-4 1M1316 285l4-6-7 8-4 1M1157 233l4-1-5-4-5 2M885 144l4-6-4-1-3 7M1249 251l3 7-6-6-4 10M1069 199l4-4-5 1-4 2M1020 181l4-2-4-2-4 16M1372 297l4-4-6-4-5 9M1309 275l4-1-6-4-5 6M1179 231l4-4-5 1-4 4M1068 192l4 1-5-1-4 9M911 142l4-3-3 1-4 6M1319 276l4-6-7 1-3 3M1178 228l4-9-5 5-5 6M1007 171l4-2-4-1-4 1M945 149l4-1-4-3-4 9M941 154l4-9-4 2-4 6M937 153l4-6-4-2-3 6M1374 286l3-1-6-1-4 3M1323 270l4-4-6-1-5 6M1316 271l5-6-7 2-5 9M1177 224l4-4-6 3-4-1M1151 221l4-9-5 2-4 2M1146 216l4-2-5 0-4 3M1136 216l5-8-5-5-4 6M987 165l4-2-4-2-4 1M1150 214l4-3-5-3-4 6M1093 197l4-11-4 2-4 7M991 163l4-6-4 1-4 3M945 148l4-4-3 3-4 1M1306 263l4-5-6-4-4 1M1154 211l4-4-5 1-4 0M1015 166l4-6-4 1-4 11M980 160l3-9-3 5-4 0M1359 274l3-2-6-3-4 2M1188 216l5-4-6 0-4 11M1097 190l4-7-5 4-4 1M928 138l4-5-4 1-4 4M1428 291l3-3-6-2-5 8M1382 273l3 3-6-3-5 6M1061 178l4-6-5 0-4 8M995 157l4-6-4-1-4 3M1385 276l4-8-7 6-3-1M1379 273l3 1-6-4-3-1M995 150l4 2-4-3-4 5M991 154l4-5-4 1-4 4M932 132l4-1-4-1-4 0M1427 287l5-8-7-1-5 13M1376 270l4-7-8 7-3 1M1264 233l3-3-5-2-4 5M1160 200l4-1-5 0-4 6M1069 172l3-1-4 0-4 5M1149 194l4-4-5 3-3-2M1072 171l4 0-4-3-4 3M1068 171l4-3-4 1-4 2M1051 165l4-4-4 0-4 10M1421 280l5-12-7 2-5 7M1383 264l4-2-7-1-4 6M1098 178l4-10-4 3-4 5M1059 164l4-4-4 0-4 1M1043 159l4-6-4 2-4 6M1039 161l4-6-5 0-3 2M1374 255l4-5-6 3-5 6M1367 259l5-6-7-2-3 2M1011 150l3-1-3-6-4 5M965 133l4-4-3 2-4 2M988 138l3-6-3 0-4 6M980 138l4-10-4 2-3 9M1276 226l4-8-6 6-4 2M1244 211l4 4-5-5-4 7M1208 205l4-8-5 3-4 2M966 131l4-2-4 0-4-3M1372 251l4-4-7 1-3 2M1313 233l4-3-6 0-4 2M973 130l4-1-4 0-3 0M1382 246l4-3-7 1-3 3M1311 230l4-4-6-2-3 1M1236 205l4-5-5 0-5 7M1139 179l4-7-4-4-4 7M1053 152l4-2-4-3-4 3M1038 147l3-7-4-2-3 10M973 129l4-3-4-4-3 6M1448 265l5-8-8 7-3 0M1416 258l3-4-6-2-3 4M1180 189l4-4-5-2-4 6M1175 189l4-6-5 0-3 2M1134 178l4-6-5-3-4 5M1121 168l3-2-4-2-4 2M1057 150l4-3-4 2-4-2M1014 138l4-1-4-4-4 1M1307 224l4-11-6 6-4 1M1184 185l4-4-5-2-4 4M1133 169l4-2-5 2-4 6M1120 164l3 3-4-6-4 5M1061 147l4 0-4-2-4 4M1018 137l3-6-3 3-4-1M995 131l4-4-4-2-3 1M1278 210l3-1-5 1-4 1M1119 161l4-1-5 0-3 6M1045 142l3 0-4-4-3 5M956 114l4-3-4 1-3 5M1452 256l4-7-8 8-4 2M1444 259l4-2-7-1-3 0M1431 257l5-7-6-3-4 2M1298 213l3-5-5-3-4 9M1292 214l4-9-6 2-3 4M1048 142l4-2-4-2-4 0M1144 168l4-9-5 1-4 10M1343 220l4-2-6 0-4 2M1299 208l4-9-6 6-4 8M1237 188l4-2-6 2-3 2M1369 226l4-5-6 3-4 7M1347 218l3-3-5-4-4 7M1341 218l4-7-7 9-4 5M1297 205l3-2-5 1-4 5M1121 152l3 0-4-6-4 9M1055 132l4 4-4-6-4 2M1439 240l3 0-6-1-3 1M1254 191l4-5-6-1-3 6M1095 146l3-1-4-4-3 4M1071 137l3-5-4 2-3 8M1181 165l3 2-4-3-4 7M1082 142l4-7-4 0-4 6M1059 130l3-2-4 2-3 1M1039 130l4-11-4 2-3 11M1024 119l4-3-4 0-3 4M1010 118l3-4-3-3-4 4M1474 243l2 2-6-4-4 9M1101 140l4-1-4-1-4 6M1433 230l3 0-7 0-3 5M1374 215l3 0-4-9-5 9M1298 197l4-13-6 5-3 3M1293 192l3-3-5-1-3 3M1130 147l3-5-4 0-4 5M989 106l3-4-3 2-4 6M1417 228l5-9-6-1-4 7M1057 123l4-4-4-1-4 6M992 102l4 1-4-2-3 3M989 104l3-3-3-1-4 4M1202 159l4 1-5-5-3 5M1504 248l5-13-7 2-5 12M1282 184l4-8-5-3-4 8M1224 169l4-7-5 1-4 4M1357 195l3 0-6-1-3 7M1340 194l4-2-6-1-3 1M1259 172l4-3-5-1-4 7M1045 112l3-5-3 3-4-1M1520 237l4-4-7 1-4 5M1464 222l2 2-6-5-3 3M1277 175l4-7-6 7-3 0M1207 154l3-4-5 3-3-2M1090 124l3-7-4-2-3 6M1086 121l3-6-4 6-3 2M1352 190l3 0-5-1-4 3M1266 168l3-2-5-3-3 6M1261 169l3-6-4-1-4 6M1251 164l4-3-5-4-3 6M1242 164l4-7-6 4-3 0M1192 146l4-8-5 6-4 9M1117 128l3-4-4-4-3 7M1113 127l3-7-4 2-3 6M1074 113l3 1-3-5-4 9M1070 118l4-9-4 5-4 2M1526 232l3-3-7 3-3 0M1410 205l5-9-8 10-3 4M1264 163l4-1-5 0-3 0M1213 151l4-7-5 5-3 2M1187 144l3-2-4 0-4 1M1048 107l3-5-3 0-4 5M1020 100l3-6-4 2-3 4M1369 191l4-6-6-1-4 9M1312 176l3-1-5-1-3 0M1268 162l3-2-5-1-3 3"/>
<path color="#f62" d="M956 524l7-8-6 4-8 6M682 364l7-4-4-3-7 4M963 516l8 1-7-3-7 6M884 476l7-14-6 1-7 12M693 360l7-3-4 0-7 3M689 360l7-3-4-3-7 3M569 284l7-2-3-1-6 5M567 286l6-5-4-2-6 4M520 258l5-8-2 3-6 5M861 449l7-6-6 1-7 11M855 455l7-11-6-2-7 8M849 450l7-8-5 0-8 3M654 334l5-11-3 1-6 8M862 444l7-5-6-1-7 4M790 401l7-5-5 3-7 2M785 401l7-2-5-4-7 9M698 349l6-12-3 5-6 10M663 326l8 2-4-3-8-2M559 269l6-8-3 3-5 10M646 313l6-8-3 2-6 7M583 275l6-4-3 0-6 8M945 470l7-11-6 7-7 6M648 304l6-6-3-1-6 7M553 239l5-7-3 0-7-1M894 416l6-7-6-3-6 10M954 440l7-7-6 2-7 7M900 409l7-5-6 4-7-2M743 326l6-8-4 0-6 9M697 300l6-1-4-1-6 1M654 280l6-6-4-1-6 4M961 433l6-5-6-6-6 13M955 435l6-13-6 5-6 10M852 377l6-6-5-1-6 9M836 368l6-6-4 3-7 4M610 247l6-2-4-2-6-1M961 422l7 2-6-5-7 8M651 266l6-4-3 1-6 5M1082 483l7-3-8 0-6 4M785 325l6-2-4-1-6 10M993 429l7-3-7-3-6 3M738 296l7 1-5-3-5 7M993 423l6-16-6 9-6 15M867 358l6 1-5-5-6 5M724 275l6-3-4 1-6 4M678 254l6-2-4-1-6 1M660 243l5-4-4-3-4 8M1167 493l6-13-8 8-7 5M975 396l6-6-6 4-6-1M902 362l6-6-5 4-7-2M794 307l5-7-4 4-6 1M684 252l5-5-3 1-6 3M929 363l6-1-5 0-6 7M799 300l6-1-4-2-6 7M693 247l6 1-4-1-6 0M805 299l7 1-5-4-6 1M1024 400l6-5-6-1-6 5M909 346l6-3-5-4-6 5M904 344l6-5-6-4-5 9M899 344l5-9-4 2-6 3M910 339l6-3-5 0-7-1M864 320l6-14-4 10-6 5M809 292l5-4-4 1-6 1M948 356l6-13-6 4-5 6M797 281l5-10-4 6-4 14M1036 391l6-4-7-4-5 7M843 299l5-10-4 7-5 4M745 252l6-3-4 2-6 0M1067 399l6-13-7 10-6 4M938 335l6 0-5-5-6 10M872 305l6-5-5 4-5 3M1140 427l6-8-8 3-6 7M1053 390l6-13-6 4-6 5M827 283l6-9-5 1-5 6M802 272l5-9-5-2-5 4M687 218l5-7-3 2-5 8M1219 456l6-9-8 1-7 15M950 332l5-7-5 4-6 0M1078 383l5-5-6 1-6 3M1071 382l6-3-6-6-6 8M1065 381l6-8-7 3-5 4M955 325l6 1-5-2-6 5M809 265l5-8-4 2-6 5M784 255l5-9-4 2-5 5M756 239l5-5-3 1-6 4M810 259l5-5-4 3-5 6M735 224l5 0-4-6-5 6M710 216l5-7-3 5-6-2M1183 426l6-11-7-3-6 11M1176 423l6-11-8 4-5 8M740 224l6-3-4-1-6-2M1174 416l7-17-9 16-5 4M1076 368l5-5-6 1-6 11M1081 363l6-4-7 1-5 4M1027 343l6-7-6-4-5 6M1022 338l5-6-5 5-6 4M822 253l5-4-4-1-5 1M827 249l6-1-4 0-6 0M735 211l5-7-3 3-5 3M1156 389l5-2-6-3-6 7M923 288l5-8-5 3-5 8M837 247l5-2-4 0-5 3M1061 345l6-11-6 0-6 7M1055 341l6-7-6 5-6 3M826 239l4-7-3 1-5 8M822 241l5-8-4 4-5 5M721 197l4-9-2 4-5 5M718 197l5-5-4-3-4 9M1215 403l6-8-8 2-5 5M780 215l5-1-4-2-4 8M719 189l5-3-3-1-5 8M1213 397l6-9-8 3-5 7M1199 394l5-4-6-6-6 9M808 229l5-11-4 2-4 7M1198 384l5-8-7 3-6 16M1083 338l5-6-6 1-5 9M1048 322l5-5-5 2-5 5M809 220l5-3-3 1-5 5M772 205l4-6-3 1-5 6M1088 332l5 4-6-6-5 3M1031 309l5-8-5 2-5 7M778 201l5-6-4 1-4 11M1098 330l5-7-6 2-5 4M974 275l5-5-5 3-5 5M1080 322l5-10-5-2-6 5M1025 296l5-12-5 8-5 9M970 278l4-12-4-2-5 8M965 272l5-8-5 2-5 10M1025 292l5-7-5 4-5 6M910 246l4-8-4 2-5 3M1020 284l5-9-6 7-4-2M885 225l5-3-4-4-5 9M757 175l5-1-3-3-5 5M754 176l5-5-4 0-4 3M762 174l5-5-3 2-5 0M994 260l5-2-5-2-4 5M990 261l4-5-4 2-5 6M943 241l5-1-5-1-5 5M788 181l4-3-3-1-5 4M943 239l5 0-4-4-5 4M1322 379l4 0-7-6-5 6M1314 379l5-6-8 5-5 3M1224 342l6-10-7 3-6 13M1029 266l5 1-5-8-5 5M909 218l4-7-4 5-4 12M830 191l4-5-3 0-5 9M1319 373l4 1-7-5-5 9M1223 335l4-3-6 0-5 5M831 186l4-2-3-2-5 7M827 189l5-7-4 1-4 5M1147 305l5-5-6 3-5 4M1113 291l5-5-6 2-5 5M1019 256l4-2-5-3-4 2M1112 288l5-1-6-6-5 11M958 230l5-7-5 3-5 2M874 198l5-5-4 0-4 7M1111 281l5-1-6 0-5 7M1079 274l4-5-5-1-5 5M1028 255l5-7-5 1-5 2M856 187l4-4-3-2-4 10M1301 350l5-11-7 5-6 13M1110 280l5-3-6 0-4 5M1083 269l5 1-5-2-5 0M1033 248l4-3-5-1-4 5M1028 249l4-5-4 1-5 6M916 200l5-3-4 1-5 6M861 179l5-1-4 0-4 7M1289 339l4-3-6-5-5 10M1212 305l4 1-5-5-5 10M809 159l4-5-3 2-5 4M1124 272l5-3-6-1-5 7M878 185l5-4-4-1-5 1M1305 334l5-9-7 1-6 13M1185 291l5-8-7 6-4 1M1123 268l5-2-6-4-4 8M1303 326l4-5-8 9-5 5M1256 315l5-10-6 0-5 11M1122 262l5-1-6-4-4 10M986 215l4-7-4 5-5 1M1060 242l5-5-5-3-5 5M986 213l4-3-4 1-4 2M848 164l4-7-4 2-4 5M1352 339l5-8-7-2-6 11M990 210l5-3-5 0-4 4M848 159l4-9-3 4-4 11M1244 295l5-5-6 1-5 6M1238 297l5-6-6-4-5 9M1059 229l5-5-5 4-5 6M995 207l4-1-4 0-5 1M999 206l5-3-5-1-4 4M894 168l4-2-4 1-4 3M1092 237l5 0-5-5-4 2M1138 247l4-1-5-2-5 6M884 159l4-1-4-4-4 5M862 153l4-5-3 2-4 4M945 181l4-7-3 2-5 6M906 161l5 3-4-4-4 5M1303 298l4-7-6 0-6 13M1218 271l4-8-6 6-4 0M1184 257l4 0-6-1-4 4M1394 328l5-14-9 10-3 0M1301 291l4-5-7 5-4 3M1222 263l4 1-6-2-4 7M1188 257l4-5-5 0-5 4M1182 256l5-4-6 3-4-1M1330 303l4-9-7 4-4 6M1298 291l4-1-6-4-5 8M987 183l4-2-4 1-5 3M927 167l4-8-4 5-4 5M1395 317l3-1-8 3-3 3M1296 286l4-6-7 7-4 2M1051 198l4-4-4 0-4 9M1047 203l4-9-5 3-4 3M924 160l4-8-4 3-4 5M1151 230l5-2-6 2-4 5M1176 238l5-8-6 2-4 6M1171 238l4-6-5 0-5 5M1150 230l5-12-6 7-4 4M1125 217l4 2-4-5-4 1M1064 198l4-2-4 1-5 1M1402 309l6-12-8 4-5 7M1218 249l4-6-6 0-4 5M1175 232l4-1-5 1-4 0M1068 196l4 0-4-4-4 5M893 140l4-2-3 0-4 3M1386 297l4-6-7 2-5 10M1216 243l5-6-6 5-5 5M1254 252l5-11-7 7-4 7M1163 219l4-4-6 6-4 6M1067 192l4-1-4-1-4 2M934 151l3-6-3 1-4 2M930 148l4-2-4-1-4 3M1367 287l4-3-7-1-4 5M1049 184l4-4-4-1-4 3M1011 169l4-3-4 2-4 0M902 136l4-2-4-4-4 6M1314 267l4-6-5-4-5 11M1207 226l4-1-6 0-4 7M1155 212l4-5-5 4-4 3M1089 195l4-7-5 1-4 7M987 161l4-3-4-1-4 9M1394 286l4-5-7 2-4 6M1300 255l4-1-6 1-4 2M1088 189l4-1-4-1-4 3M1378 278l4-5-8 6-3 1M1092 188l4-1-4-4-4 4M1088 187l4-4-5 3-4 3M1011 164l4-3-4 0-4 1M1356 269l4-3-7-1-4 8M1296 251l5-15-7 9-4 8M1157 209l4-8-5 3-4 4M1069 178l5-8-5 4-4 5M1065 179l4-5-4-2-4 6M932 133l3-4-3 3-4 2M928 134l4-2-4-2-3 4M1438 292l4-4-7-3-4 3M1431 288l4-3-8 2-2-1M1276 243l5-11-6 6-5 11M1161 201l4-1-5 0-4 4M1382 274l4-8-6-3-4 7M1425 278l4-2-8 4-4 3M1055 167l4-3-4-3-4 4M1358 259l4-6-6 0-4 6M1280 227l4 0-6 0-4 4M1216 212l4-11-5 5-4 5M1093 173l4-9-4 3-4 9M1365 251l4-5-6 3-4 5M1156 188l4-5-5 6-4 4M1067 161l4-4-4 2-4 6M984 138l4-6-4-4-4 10M1034 148l4-1-4-1-4 1M1026 149l4 1-4-6-4 4M1280 218l4-3-6 3-4 6M1274 224l4-6-6 2-3-4M970 129l3 0-3-1-4 1M1376 247l3-3-6 0-4 4M1153 181l4-1-5 0-4 2M988 130l4-3-4 1-4 2M984 130l4-2-4-1-3 1M970 128l3-6-3 2-4 5M1379 244l3 1-5-8-4 7M1373 244l4-7-7 7-4 5M1315 226l3-2-5-5-4 5M1116 166l4-2-5 2-3 3M992 127l3 4-3-5-4 2M1179 183l4-4-5 3-4 1M1138 172l3-2-4-3-4 2M1305 219l4-5-6 3-4 6M1252 201l4-7-6 6-4 5M1501 272l3-4-6-4-4 7M1118 158l4-7-5 8-4 2M1179 172l4 1-5-4-3 3M1052 136l3-4-4 0-3 6M1430 242l3-2-7-1-3 5M1423 244l3-5-6 1-3 2M1393 231l4-6-7 6-3 0M1116 155l4-9-5 8-3 0M1477 252l4-4-8 4-4 6M1433 240l3-1-6-1-4 1M1182 169l4-6-5 2-4 8M1473 252l6-15-8 7-5 11M1252 185l4-6-5 6-4 4M1288 191l3-3-5-1-3 2M1125 147l4-5-4-2-4 7M1373 206l2 3-5-5-4 9M1296 189l4-3-5-2-4 4M1125 140l3-4-4 4-4 4M1521 251l4-5-8 2-3 2M1416 218l2 1-6 0-4 7M1198 160l3-5-5 4-3 5M1517 248l5-9-7-1-4 7M1511 245l4-7-6-3-5 13M1277 181l4-8-5 4-4 1M1272 178l4-1-5 0-4 4M1458 225l3-5-6 2-4 5M1276 177l3-2-5-1-3 3M1271 177l3-3-5 3-3-2M1106 132l4-5-4 0-4 5M1102 132l4-5-4 0-4 3M1027 109l3-2-3 1-4 2M1126 134l4-6-5 5-3 6M1360 195l4-6-6 3-4 2M1354 194l4-2-6-2-3 0M1193 148l4 0-5-2-4 7M1163 138l3-3-4 3-4 9M1517 234l2-2-6-2-4 8M1247 163l3-6-4 0-4 7M1162 138l4-6-5 7-4 5M1519 232l3 0-6-3-3 1M1372 193l3-6-6 4-3 0M1314 178l3-6-5 4-3 1M1269 166l4-4-5 0-4 1M1144 132l4-3-4 1-4 4M1522 232l4-7-8 4-2 0M1363 193l4-9-5 1-4 5M1186 142l3-5-5 2-3 2M1144 130l3-5-4 2-4 5M1077 111l3-1-3-2-4 2"/>
<path color="#941" d="M978 541l7 0-7-7-8 7M970 541l8-7-7-11-8 1M785 429l7-6-6-6-7 6M627 330l8 4-4-6-8-4M502 255l7-1-5-9-8-3M707 366l7 2-4-3-8-3M747 385l9 7-7-13-7-1M511 244l8 6-6-12-5 4M893 471l7-5-7-10-7 6M828 433l7-8-6-9-7 0M686 346l7 1-5-11-8-1M618 309l4-14-4-7-6 11M597 287l8 4-3 0-10-13M979 510l7-1-7-17-8 3M737 362l8 7-6-13-7 0M688 336l8 5-5-8-9-6M602 291l5-7-4-3-6 3M1036 537l7-6-7-18-7 11M831 413l8 5-7-12-7-3M745 369l7-3-5-2-8-8M735 355l7 5-5-13-7 4M691 333l7 1-6-12-6 5M528 243l6-4-4-8-6 4M698 334l6-5-5-8-7 1M584 272l6-4-6-11-5 5M564 262l5-9-5-7-6 3M966 474l7 3-7-13-7 3M782 372l7-1-5-3-6 3M749 356l6-8-6-14-6 9M569 253l8 8-5-12-8-3M646 293l7-3-5-10-7 0M544 238l5-9-4-6-5 8M712 313l8 6-5-4-8-5M707 310l8 5-4-4-8-7M619 270l6-3-3 2-6 0M1006 475l7 6-7-21-6 1M678 294l7 4-4-3-8-8M731 324l6-5-5-6-6 4M581 239l5-7-5-10-4 14M1013 461l7 3-7-8-7 1M1006 457l7-1-7-7-6 11M931 425l6-5-6-8-7 3M801 349l7 4-5-5-7-6M627 254l7 5-4-6-8-6M598 248l5-4-5-10-5 5M1020 464l6-4-7-9-6 5M630 253l7 5-5-10-7-3M1019 451l7-1-7-4-6-9M629 251l7-1-5-6-6-3M606 239l6-2-5-11-6 1M1013 439l6 3-7-13-6 1M797 335l6-6-5-5-7-1M607 226l8 9-6-16-7-5M589 224l5-3-3-3-6 1M677 263l6 0-3-1-8-8M1146 498l6 2-7-13-6-3M799 318l7 7-5-14-7-4M1151 486l6-1-7-16-6 7M1107 459l5 4-7-6-5-2M876 352l5-7-5-3-6 0M1157 485l6-3-7-11-6-2M741 286l5-15-5-6-4 12M679 247l6 0-4-4-6-3M675 240l6 3-3-3-8-8M630 217l6 2-4-7-7-4M726 262l6 0-4-5-7-2M925 359l6-3-5-8-6 3M821 305l6 6-5-11-6-4M672 228l6 2-5-11-5 2M637 210l5-7-4-8-6 1M1102 419l5 15-6-21-6 6M1081 416l6-1-6-6-6 1M683 224l7 7-4-6-6-4M911 332l6 2-5-18-6 8M658 208l7 5-5-11-6 3M917 334l6-12-6-11-5 5M1099 408l5-2-6-15-6 8M1111 410l6-7-7 3-6 0M849 281l6-2-6-14-5 2M1135 401l5 4-6-17-6 0M988 337l6 0-6-3-5-5M807 258l6-1-5-7-6-3M734 224l5-3-5-10-5 7M842 258l5 3-4-3-6-4M1208 426l6-6-7-7-6 11M1139 394l5 0-7-5-4-7M1133 382l4 7-6-10-5-5M983 327l6-1-6-21-6 3M856 268l6 4-4-7-6-2M1131 379l5 5-6-11-5-15M1099 372l5 1-6-8-5-4M1261 430l6-6-7-9-5 2M705 192l4-10-5-7-4 7M1267 424l5-3-7-6-5 0M713 193l5-5-5-16-4 10M793 227l4-15-4-10-5 11M745 198l5 2-4-10-5 4M754 203l5-4-5-10-4 11M807 217l5 4-4-6-5-2M792 211l5-2-5-15-5 3M1194 374l5-1-7-5-4-2M1129 356l5-8-5-11-6 6M797 209l5-3-4 2-6-14M1192 368l5-5-5-13-5 3M841 225l5 1-4-5-5 1M829 220l4-6-4-7-5 6M1197 363l5-3-6-11-4 1M1285 404l6-10-6-11-5 4M1242 387l6-11-6-15-5 9M1202 360l5-3-6-10-5 2M834 208l6 8-4-6-6-6M816 209l4-4-4-7-4 9M1254 387l6-13-7-3-5 5M1214 364l5-9-6-13-6 15M956 268l5-15-5-4-5 11M816 198l6 10-4-8-6-6M774 183l6 4-4-5-6-10M1278 381l5-4-6-11-5 10M1211 346l4 5-6-7-5-1M1141 327l5 0-6-8-5-1M1089 311l5-9-6-13-5 10M772 179l6 2-5-9-4 3M1249 358l4 7-7-9-4 2M1209 344l4 3-6-11-4-6M1246 356l4 7-6-10-4-2M921 231l5 0-5-10-4 1M852 203l5 6-5-11-5-3M935 227l5 5-4-5-5-7M1207 335l5-5-6-6-4 0M855 198l4-1-4-6-5-5M1327 378l5-9-6-13-5 9M1305 370l5-10-7 2-3-8M1271 352l4-1-6-10-4 6M1338 378l5-10-5-13-6 14M1043 261l4-7-5-8-4 0M1345 356l4 3-7-7-4 0M990 227l5-1-5-1-5-5M959 215l5 4-5-6-5-5M819 162l5 8-4-10-4 2M1349 359l4-4-6-10-5 7M1066 260l5-6-5-4-5-5M829 167l4-3-4-8-4 5M1273 318l4 3-6-9-3-6M1013 222l4 0-4-5-5-3M830 155l5 10-4-9-5-7M1017 222l5-2-5-9-4 6M1281 321l5-11-6-9-4 7M1074 241l4-2-5-10-4 6M1031 228l4-8-5-12-4 11M1017 209l4 8-4-13-5 0M1259 298l4-4-6-5-4 5M1282 300l3 4-5-10-5 4M1148 256l4 0-5-5-4-1M1112 242l4 2-5-6-4-9M1077 230l4 1-4-6-5 3M1072 228l5-3-5-2-4 0M1058 222l4-1-4-3-5-3M978 198l4 4-4-14-5-2M1039 212l4-3-4-22-4 18M1204 268l5-5-6-4-4 1M966 184l4-3-4-9-4 2M970 181l4-2-4-4-4-3M1253 273l4 0-5-11-4 3M1411 327l4-2-6-7-3-3M1331 298l3 2-5-10-4 1M877 147l5-3-4-6-4 0M1033 197l4-9-4-4-4 5M1377 309l5-6-7-5-2-3M944 164l4-3-4-5-4 2M900 148l4 0-4-7-4-5M1425 320l6-10-6-11-4 8M1273 265l5-12-7 2-4 7M1109 210l4-1-4-6-5 7M1104 210l5-7-5-6-4 7M1033 182l4-1-5-7-4 4M887 142l4-5-4-7-4 2M1036 179l4 5-4-10-4 1M952 154l4 0-3-5-4-1M903 126l4 5-3-6-4-3M1245 236l3 2-4-10-4-2M1287 253l5-10-5-12-5 13M1171 211l3-3-4-8-4 4M1023 167l4-6-4-4-4-2M911 129l4-4-4-5-3 4M1193 213l4 2-5-12-3 2M1135 191l4 3-5-7-3 1M954 138l4 0-4-8-4 1M940 132l4-1-4-3-4-2M1402 270l3 4-6-8-3 2M944 131l4-3-4 1-4-1M940 128l4 1-4-6-4-1M930 124l4 1-4-2-4-1M1459 281l3 2-7-4-4 9M1451 288l4-9-5-11-4 5M1405 274l4-5-6-4-4 1M1181 201l3 5-3-19-4-1M944 129l4-5-4-8-4 7M1403 265l3 0-6-4-3-2M1397 259l3 2-6-4-4 3M1406 265l3-5-5-5-4 6M1400 261l4-6-6-5-4 7M1136 186l4-3-4-5-4-2M1405 265l5-9-7-1-2-5M1041 151l4-3-4-8-3 7M1460 277l4-8-5-10-4 9M1359 230l3 6-4-15-2-5M1306 219l4-5-5-12-4 6M974 118l4-3-4-5-3 7M971 117l3-7-4-9-3 4M1348 231l4-6-5-7-4 2M1156 168l4 6-4-17-4 5M981 118l4 0-4-7-3 4M1286 203l3 2-4-5-3-6M1493 257l3 0-6-6-3 1M1387 230l3-3-5-4-3-2M1145 159l3 1-4-8-4 7M1115 153l3-2-4-6-3-2M1502 262l4-7-7-3-3 5M1050 126l3-2-3 0-4-4M1046 120l4 4-4-5-3-7M1167 158l4-4-4-11-3 1M1320 198l3-3-5-2-3-2M1318 193l3 0-4-6-3-3M1067 125l4-6-4-5-3 2M1176 150l4 0-4-5-4 1M1533 242l2 1-6-2-4 3M1059 117l3-4-3-6-4-3M1544 244l4-6-5-7-5 12M1204 150l3-1-3-10-4 4M1174 142l3-1-4-5-3 0M1302 173l2 1-4-5-3-2M1123 129l3-3-3-11-4 4"/>
<path color="#d62" d="M656 346l7-4-5-4-6 6M663 342l7 0-5-11-7 7M700 357l8 0-5-5-7 5M563 273l6-5-4-7-6 8M555 259l7-1-3 0-7-1M593 274l7 0-3 1-8-4M553 258l5-9-4-6-4 11M829 396l6-3-5 0-7-1M579 261l5-11-2 5-8-6M1088 543l7-17-8-5-7 10M662 300l5-6-4-7-6 7M622 269l7-2-4 0-6 3M980 462l6-5-6-8-7 6M973 455l7-6-7-2-6 11M741 330l6-11-4 7-6 4M980 449l7-12-7-3-6 11M1091 492l6 1-7-3-7 2M1033 472l7-17-7-5-7 19M968 424l6 2-6-7-6 0M680 278l5-10-3 2-5 7M1126 502l7-16-8 1-7 16M1053 449l6-5-7 2-6 14M1052 446l7-17-8 18-6 0M764 301l6-4-4 1-6 8M801 311l6 3-4-3-7-3M657 244l4-8-3-1-4 14M1051 433l6-5-6-11-7 20M1018 399l6-5-6 2-6 2M752 271l5-10-3 7-6-1M932 341l6-6-5 5-6-6M806 274l5-12-4 1-5 9M788 256l5-11-4 1-5 9M744 224l5-3-3 0-6 3M746 221l5 1-4-7-5 5M1157 400l6-7-7-4-5 1M787 231l6 1-4-1-6-1M1163 393l5-5-7-1-5 2M756 206l6 5-4-5-6 2M735 203l4-7-3-1-5 4M723 192l5 1-4-7-5 3M857 246l5-4-4 0-5-2M853 240l5 2-4-4-5 5M1274 414l6-10-8 1-5 2M1189 376l5-2-6-8-6 7M1162 366l6-5-7-5-5 7M1156 363l5-7-6-6-6 14M964 284l5-4-5-6-5 13M745 190l5-1-4-4-5 3M1254 397l7-15-8 0-6 11M914 247l5-3-5-6-4 8M1125 328l6-12-7 4-5 6M1025 289l5-3-5-11-5 9M942 257l4-11-4 1-5 6M889 225l5 2-4-5-5 3M1056 291l5-12-6 9-5 9M904 231l4-12-4 0-5 6M874 216l5-5-4 1-5 0M824 193l5 3-5-9-4 6M879 211l5 1-4-2-5 2M829 196l4-5-3 0-6-4M1191 326l5-4-7 0-5 3M994 248l5-3-5 0-4 6M1196 322l4-3-6-1-5 4M1023 254l5 1-5-4-5 0M879 204l4-11-4 0-5 5M855 191l5-4-4 0-5 2M1145 295l5-3-6-3-5 7M937 213l4-3-4 2-4 5M968 222l4-6-4-3-5 12M913 204l4-18-4 7-4 11M879 180l4-1-4-6-4 11M846 172l4-3-4-11-4 10M1248 311l6-19-8 12-5 9M851 163l4-3-3-3-4 7M1216 294l4-9-6-3-4 9M1115 258l5-5-6-3-4 0M889 175l5-7-4 2-5-1M1207 279l4 0-5-9-6 15M1272 296l3 2-5-7-5 7M1139 253l4-3-5-3-5 7M844 153l5-3-4-4-5 0M1162 252l4-5-5-6-4 13M1400 333l5-8-6-11-5 14M1165 249l4-7-5-5-4 4M991 188l4-5-4-2-4 2M1360 311l5-12-7-1-5 9M1353 307l5-9-7 3-4-1M983 180l4 0-4-4-5 5M910 151l4-2-4 1-4-2M999 177l4-1-4-6-4 10M1252 258l4-4-6 2-4-4M1129 219l4-3-4-3-4 1M897 141l4-3-4 0-4 2M1164 226l3-2-4-5-5 5M934 146l4-4-4 3-4 0M1404 289l4-2-7-1-6 14M906 134l4 0-4-4-4 0M953 146l4 0-4-2-4 0M1435 291l3 1-7-4-3 3M1162 209l4-5-5-3-4 8M1164 199l4-2-5 0-4 2M1429 276l2 1-5-9-5 12M1223 217l4-9-6 2-4 5M1284 227l3 2-5-8-4 6M1319 230l3 2-5-2-4 3M1445 267l3-2-6-1-3 1M1484 276l4-4-5-11-6 15M1477 276l6-15-9 10-4 5M1141 170l4-3-5 2-3-2M1053 143l3-4-4 1-3 2M1148 170l4-8-4-3-4 9M960 110l4 0-4-1-3 2M1435 247l4-7-6 0-3 2M1216 182l3 0-4-3-4 1M1183 173l3-1-4-3-4 0M1040 131l3-7-3 5-4 3M1367 224l4-9-6 1-5 13M1058 130l4-3-4 1-4 1M1021 120l3-4-3 3-4-2M1287 183l4-7-5 0-4 8M1002 103l4-3-4 0-3 5M1317 187l3-2-6 1-3 1M1478 234l4-8-6 0-3 3M1320 185l3 0-6 0-3 1M1323 185l3-5-5 0-4 5"/>
<path color="#b41" d="M643 336l7 0-4-2-8-4M745 391l7-2-5-4-7-1M600 312l6-9-5-9-6 7M509 254l4-9-2-1-7 1M595 299l7-2-5-10-7 3M886 462l7-6-6-3-7 3M543 261l6-4-3-1-7-1M1029 532l7 5-7-13-7 3M887 453l7-6-6-6-7 9M1021 502l7 2-7-8-7 6M620 276l6-3-4-4-6 4M604 257l7-2-4-4-7-1M937 406l7 4-6-9-7 3M931 404l7-3-6 3-7-6M1019 442l6-8-6-8-7 3M852 353l6-1-6-8-6 1M633 237l5-6-4-6-4 8M603 215l5-2-3-3-6 1M1140 469l7-7-7-10-7 7M1119 459l6-9-7-8-6 3M1152 460l6-5-7-4-5-4M783 283l6-2-5-4-7-8M738 257l6 1-4-3-7-3M1190 453l6-5-7-11-6 4M982 355l6 0-6-15-5 10M670 210l5-4-4-3-5 1M837 279l7 6-6-12-5 1M765 239l6 4-4-8-6-1M1063 363l6 0-6-7-6 5M847 261l6-1-4-1-6-1M694 195l5-3-4-11-5 7M1236 387l4 2-7-6-4 2M1233 383l5 2-6-14-6 10M837 222l5-1-5-5-4 4M759 192l4-7-4-2-4 3M1095 312l5-2-6-3-4-4M786 193l4-11-4 1-5-4M1040 286l5-3-5-9-5 8M1077 295l5 0-5-9-5 2M788 161l5-1-4-3-4 2M1227 331l6-17-6-7-6 21M1238 328l5-8-6 0-4-6M995 226l4-5-4-4-5 8M1197 298l4-2-5-12-5 9M1091 254l4-3-5 2-4-8M855 170l4-7-4-3-4 3M1048 212l4-5-4-2-5 4M1135 241l4-3-5-5-4 0M893 162l4-11-3 0-5 0M970 175l5 2-5-4-4 2M873 143l4 4-3-9-5 2M1182 246l5-5-5-11-4 6M1078 204l4 4-4-9-4 4M1187 241l4 1-5-9-4-3M1042 192l4-1-5-7-4 4M1193 221l4 5-4-14-5 4M1019 161l4 6-4-12-4 6M1140 159l4-7-4-4-4 7M1070 137l3-8-3-5-4 10M1064 124l4-4-4-2-3 1M1316 182l3-3-5-1-3-3M1101 125l3-7-4 0-3 5M1081 114l3-2-4-2-3 1"/>
<path color="#a41" d="M738 396l7-5-5-7-7 6M718 378l8 3-5-7-8-2M648 342l7 0-5-6-7 0M511 262l6-4-3-4-7-1M916 502l7-9-7-14-6 15M538 274l5-7-4-5-6 1M504 245l7-1-3-2-7 2M539 262l8 3-4-4-7-3M536 258l7 3-4-6-8-4M971 514l8-4-8-15-7 9M880 456l7-3-6-3-7-2M749 379l8-1-6-11-7 7M602 297l7-3-4-3-8-4M590 286l7-2-6-14-6 2M513 238l9 7-6-12-8-7M931 480l8 2-7-11-7-2M841 430l7-4-7-17-6 16M663 324l6-7-5-5-5 11M597 284l6-3-3-3-9-8M560 265l7 2-5-9-7 1M894 447l8 2-7-8-7 0M854 428l7-1-7-14-6 13M815 406l7-6-6-4-7-3M730 351l7-4-5 1-7 0M634 302l7 2-3-1-10-14M607 284l7 1-4-8-7 4M576 267l8 5-5-10-7 3M1043 531l7-9-7-10-7 1M902 449l7-4-7-5-7 1M839 418l6-9-6-6-7 3M801 390l7-4-6-8-7 0M781 383l7-5-6-6-8-6M614 285l7-1-5-8-6 1M534 239l6-1-3-3-7-4M1035 511l7-2-7 0-7-7M862 416l7 5-6-10-8-4M823 392l7 1-5-1-8-8M704 329l7-4-5-7-7 3M658 301l8 3-4-4-8-2M584 257l10 15-7-23-7 2M560 240l10 14-5-11-7 1M973 477l6-11-6-2-7 0M966 464l7 0-7-5-7-4M825 392l7-3-6-5-7 0M711 325l6 0-5-12-6 5M666 304l6-7-5-3-5 6M612 268l7 2-3-1-8-5M1000 485l6-10-6-14-7 10M960 452l7 6-7-8-7-3M776 356l7-5-5-2-7-2M653 290l6-4-5-5-6-1M599 265l5-8-4-7-6 4M570 238l8 4-4-4-8-6M549 229l6 0-4-7-6 1M788 358l6-5-5-10-6 8M711 311l6-6-5-5-7 2M633 276l6-7-4-5-6 3M578 242l5-4-2 1-7-1M765 329l8 6-6-7-7-1M726 317l6-4-5-10-5 10M639 269l7 4-4-7-7-2M583 238l7 2-4-8-5 7M1000 460l6-11-7-11-6 17M924 415l7-3-6-9-7 0M890 402l6-9-6-11-6 13M732 313l7-1-4-1-8-8M668 281l6 0-4-6-7-5M637 259l8 8-5-9-7-5M575 234l4-9-3-3-5 6M1113 507l7 4-8-16-6 4M1013 456l6-5-6-14-7 12M937 420l6-9-6-5-6 6M869 382l7 1-6-10-7-6M596 238l5-11-5-11-5 8M1054 474l6-11-7-12-6 13M903 391l7 4-6-12-7-1M834 357l6 0-4 0-8-15M742 315l5-11-5-9-6 7M1074 476l7-5-7-8-7 5M1067 468l7-5-7-7-7 7M831 354l5-9-5-7-6 2M585 219l6-1-4-5-5 6M798 324l6-1-5-5-6 3M753 300l7 6-4-4-8-11M627 237l6 0-3-4-8-5M591 218l6-2-4-7-6 4M1012 429l7-1-7-10-6-3M858 352l6-5-5-3-7 0M637 239l5-4-4-4-5 6M597 216l6-1-4-4-6-2M1100 468l7-9-7-4-6-2M1072 444l6 2-6-12-7 4M629 228l5-4-4-9-6 3M1100 455l5 2-6-14-6 5M703 263l6-4-5-6-6 1M674 250l5-3-4-7-6 2M1105 457l7-12-7-5-6 3M1031 419l6-7-6-7-6-1M881 345l7-3-6-9-6 9M723 262l7 4-4-4-7-8M670 232l8 8-5-6-6-3M617 211l5-4-4-6-6 0M1148 469l6 0-7-7-7 7M993 398l7-6-7-7-6 6M693 252l5-7-5-11-4 13M678 240l5-5-3 1-7-2M673 234l7 2-5-7-6-1M669 228l6 1-3-1-6 0M666 228l6 0-4-7-6 1M626 211l6-2-4-6-6 4M1147 462l5-2-6-13-6 5M1056 421l6-11-6-11-6 17M732 262l6-5-5-5-5 5M1117 438l5 0-7-7-5-2M1075 415l6 1-6-6-6 2M920 344l7 4-6-12-6 7M741 259l7 5-4-6-6-1M722 246l6 7-4-6-6-4M699 235l7 4-5-7-5 3M678 230l5-6-3-3-7-2M1151 451l6-2-8-4-5 0M1075 410l6-1-7-7-6-1M927 348l5-7-5-7-6 2M901 337l5-13-6-11-4 21M706 239l5 0-4-8-6 1M1087 415l6-6-6-9-6 9M1000 383l5-13-6-4-5 3M965 355l6 3-6-12-6-1M707 231l7 6-5-9-6-1M1184 466l6-13-7-12-5 6M1093 409l6-1-7-9-5 1M971 358l6-8-6-2-6-2M882 315l6-2-5-10-6 10M859 307l5-7-5-7-6 6M756 259l5-5-5-13-5 8M1105 409l6 1-7-4-5 2M888 313l6-6-6-11-5 7M658 196l7 8-4-6-6-3M1202 464l7-19-7-6-6 9M988 355l6-6-6-9-6 0M661 198l7 5-4-4-6 0M1137 416l5-1-6-4-5-7M1091 388l5 6-6-10-6-6M983 340l5 6-5-9-6 0M945 326l5-2-5-8-6-3M697 212l7 5-5-9-5-1M681 205l5 0-3-2-7-5M664 199l5-3-4-6-5 2M1208 435l4 7-7-10-5 0M1200 432l5 0-6-11-6 9M1096 394l6-11-7 7-5-6M983 337l5 0-5-8-6 0M669 196l6 3-3-2-7-7M1082 378l6 0-6-11-6 2M1088 378l5-7-6-6-5 2M983 329l5-5-5 3-5-3M978 324l5 3-6-19-5 14M855 272l6 5-5-9-6-6M792 242l6 2-4-1-6-5M739 221l5-6-4-5-6 1M1093 371l6 1-6-11-6 4M852 263l6 2-5-5-6 1M843 258l6 1-5-2-6-5M751 222l6-3-4-4-6 0M1044 350l6-4-6-3-5-5M858 265l5 0-5-8-5 3M844 257l6-2-5-8-5 2M799 241l5-4-4-6-6 0M753 215l6 9-5-14-5 3M1117 372l5 1-6-7-5 2M863 265l5-3-4-6-6 1M850 255l5 1-4-7-6-2M727 209l4-10-4-3-5 2M1016 324l5 8-5-15-6-7M851 249l5 5-4-10-6 3M783 227l5-4-4-5-6 0M865 261l5-12-5-6-4 13M840 246l4-5-4-6-5 4M1235 407l5-6-7-7-5 5M870 249l5 4-4-5-6-5M718 188l4-5-3-5-6-6M1270 411l4 3-7-7-4-5M1240 401l5-1-7-9-5 3M1113 350l5 0-6-4-5 0M729 187l5 0-3-4-5 2M759 199l5-1-4-4-6-5M734 187l5-3-3-3-5 2M1243 392l4 1-7-4-4-2M1214 387l5-6-7-4-4-1M831 223l6-1-4-2-6-5M1240 389l5-6-7 2-5-2M1199 373l5-9-7-1-5 5M833 220l4-4-4-2-4 6M802 206l5-1-4-2-5 5M794 202l5-6-4-3-5 0M762 192l5-2-4-5-4 7M932 260l5-3-5-4-5-2M842 221l5-2-4-3-6 0M807 205l5 2-4-8-5 4M763 185l6 8-5-11-5 1M1097 319l5 0-6-1-5-7M1046 298l5-3-5 1-5-1M1041 295l5 1-5-11-5 2M843 216l5-1-4 1-6-12M812 207l4-9-4-4-4 5M764 182l6 6-4-9-5 3M1291 394l4 0-6-8-4-3M1051 295l5 5-5-9-5 5M1046 296l5-5-5-4-5-2M864 221l5-1-5-6-5 2M770 188l4-5-4-11-4 7M759 179l5 2-3-4-6-3M1274 379l4 2-6-5-6 7M1035 292l5-6-5-4-5 4M845 213l5-3-4-4-5 1M818 200l5 1-4-4-5 0M1250 372l6-10-7-4-5 3M1244 361l5-3-7 0-5 1M898 227l6 4-5-6-5 2M894 227l5-2-4-1-5-2M1283 377l5-1-7-9-4-1M1094 302l4-3-5-8-5-2M1207 336l4 2-6-8-4 0M1082 295l5-7-6 0-4-2M1034 275l5-4-5-2-5 4M1029 273l5-4-5-3-5 3M1004 262l5 3-5-9-5 2M931 233l4-6-4-7-5 11M926 231l5-11-5-4-5 5M841 198l5-7-4-3-5 8M787 178l4-6-3-5-5 5M773 171l5-1-4-6-5 1M1242 344l5 1-6-8-5 1M1173 313l4 8-6-11-5 5M1080 292l5-8-5-11-5 7M931 220l5 7-5-10-5-1M816 186l4-11-4-7-4 7M778 170l4-4-3-3-5 1M1130 302l4-2-5-8-5-4M1085 284l5-3-5-2-5-6M825 186l4-10-4-6-5 5M1265 347l4-6-6-5-4 0M1212 330l5-2-6-13-5 9M1134 300l5-4-5-7-5 3M1129 292l5-3-6-1-5 3M1275 351l5-6-6-7-5 3M1134 289l4 5-5-11-5 5M999 243l5-1-5-11-5-7M891 206l5-5-5-6-4 1M792 165l4-3-3-2-5 1M1343 368l5-1-6-12-4 0M1004 242l5-11-5-8-5 8M865 189l4-1-4-1-5-4M807 168l4-2-3-4-5-1M793 160l4-1-4-7-4 5M1348 367l4-2-7-9-3-1M1154 292l4-2-5 0-4-7M1013 240l5 1-5-7-4-3M986 236l4-9-5-7-4 6M869 188l5-1-4-7-5 7M797 159l5 0-3-3-6-4M1237 320l4-2-6-1-4-6M1231 311l4 6-6-7-5 7M1224 317l5-7-6-2-5-1M1062 256l4 4-5-15-4-1M1047 250l4-1-4-4-5-3M1008 230l5 8-5-10-4-1M1135 285l5-15-6-4-5 7M930 209l4-11-4 3-5-6M925 195l5 6-4-7-5-6M825 161l4-5-4-2-4 7M1201 296l4-1-5-7-4-4M1008 225l5-3-5-8-4 2M829 156l5 7-4-8-5-1M1200 288l3 5-5-8-4-2M1132 267l4-5-5-4-4 3M960 206l5-2-5-5-4 0M1338 336l3-1-5-13-4 5M1271 312l5-4-6-8-5 9M1084 244l5 3-5-5-5-2M1370 344l4-6-6-5-5 5M1162 273l5-2-5-13-5 8M1022 220l4-1-4-8-5 0M868 170l4-7-4-7-5 4M1374 338l4 1-7-8-3 2M1260 304l5-6-6 0-4-7M1224 287l4 3-5-9-4-2M1073 229l5 7-5-9-4-1M872 163l4 1-4-7-4-1M1378 339l3 4-6-13-4 1M1277 307l5-7-7-2-3-2M1253 294l4-5-6-6-3-2M1223 281l3 7-5-10-4-1M1182 269l4 2-5-5-4-3M1035 220l4 1-4-15-5 2M910 180l4-7-4-8-5 5M887 163l5 10-4-10-5-6M865 155l5 5-4-6-5-3M1375 330l3 4-6-9-3-3M1186 271l5-5-6-5-4 5M910 165l4 8-4-9-4-4M1378 334l4-1-6-11-4 3M1248 291l5-7-6-6-4 2M874 157l4-5-4-13-4 11M1315 309l4-4-5-12-5 6M1146 245l4 1-4-11-4-3M1100 236l5-7-5-11-4 7M882 160l4-7-4-3-4 2M1319 305l4-1-6-5-3-6M1150 246l4-1-5-6-3-4M1114 233l5-1-5-5-4 3M1085 219l4 4-4-11-4-1M1066 217l4-3-4-2-4-2M1052 207l4 1-4-4-4 1M1008 198l4-4-4-3-5-1M1317 299l4-3-6-5-4 0M1267 283l4-2-6-6-3-6M1075 216l4 1-4-12-5 9M1066 212l4 0-5-7-4 6M1061 211l4-6-4-6-5 9M905 158l4 1-4-5-4 0M1409 324l2 3-5-12-4 0M1208 253l3 10-5-14-4 0M1118 229l4 0-5-8-4 3M1093 224l5-11-5-2-4 5M974 179l5 0-4-2-5-2M1102 221l4-1-4-8-4 1M979 179l4-2-4-6-4 6M1375 303l2 6-4-14-3-2M1215 256l4-2-5-5-4-1M983 177l4-6-4-9-4 9M936 165l4-7-4-4-4 3M1265 267l4-3-6 0-3-6M1111 215l4 4-5-10-4-3M991 181l4-9-4-3-4 2M1091 209l4-11-4-4-4 5M1046 191l4 1-4-8-5 0M1012 186l4-14-5-2-4 15M1007 185l4-15-4-3-4 9M948 161l4-6-4-3-4 4M900 141l4 2-3-5-4 3M1278 268l5-4-5-11-5 12M1267 262l4-7-4-12-5 8M956 162l4-4-4-5-4 2M904 143l4-5-4-5-3 5M1431 310l3-3-5-12-4 4M1283 264l3-1-5-4-3-6M1231 248l4-4-5-10-3 0M923 148l4-5-4-8-4 7M1281 259l3 0-5-6-4 3M1275 256l4-3-6-1-4 0M1028 179l4-9-4 4-4 0M1024 174l4 0-4-6-4 3M927 143l4-1-4-4-4-3M1165 218l4 2-5-10-3-2M1028 174l4-2-4-9-4 5M956 154l4-2-3-4-4 1M1169 220l4-9-5 5-4-6M957 148l4 3-4-5-4 0M1437 303l5-9-7-3-3 1M1316 260l3 0-5-7-4 5M1241 240l4-4-5-10-5 12M1235 238l5-12-5-6-4 5M1134 202l4 3-5-15-4 3M1040 180l4-13-4-1-4 7M1036 173l4-7-5-2-3 4M1319 260l4-2-5-9-4 4M950 146l4 0-4-11-4-1M921 138l4-10-4-4-3 8M1404 282l4-2-5-10-4 3M1329 257l3 2-5-6-4 5M1323 258l4-5-6-6-3 2M1003 157l4-1-4-1-4-4M943 136l4 2-4-7-4 5M1408 280l3-1-5-8-3-1M1332 259l4-2-5-7-4 3M1327 253l4-3-6-4-4 1M1086 174l4 4-4-6-4-8M1031 166l4-5-4-7-4 7M929 129l4-1-4-5-4-3M1445 288l3-2-5-12-4 5M1131 188l3-1-4 0-4 0M1126 187l4 0-5-2-4-2M1117 182l4 2-5-6-4 2M936 126l4 2-4-6-3 6M1305 241l3-3-5-6-4 3M1231 219l4-2-4-13-4 4M969 140l4-5-4-6-4 4M948 128l3-2-3-2-4 5M1235 217l4 0-5-4-3-9M1123 187l4-12-4 0-4 4M1119 179l4-4-4-6-4-3M955 130l4 1-4-7-4 2M930 122l4 0-3-1-4-7M1079 162l4 4-4-9-4-4M1296 227l4 1-5-9-4 2M999 137l4-2-4-4-4-1M1225 207l4-2-5-7-3 0M1200 202l4-2-4-17-4 1M956 122l3 4-3-8-4-4M1147 179l4-6-4-1-4 0M1464 269l3 1-5-9-3-2M1352 238l4-7-5-8-5 13M1160 180l4-6-5-1-3 5M1362 237l3-3-6-4-3 1M1321 224l4-2-5-10-3 2M1325 222l3 0-4-13-4 3M1235 196l3-3-4-9-4 3M1064 146l4-2-4-4-4 1M967 117l4 0-4-12-4 8M1328 222l4-3-5-8-3-2M1285 204l3 5-4-13-4 4M1033 134l3 1-4-7-3-5M1315 216l3-3-4-9-4 10M1246 199l4-8-4-3-4-2M1036 135l4-4-4 1-4-4M978 115l3-4-3-7-4 6M1397 247l6-17-6-5-4 6M1352 225l3-2-5-8-3 3M1138 161l3-6-4 1-3 1M1014 123l3 2-4-8-3 2M981 111l4 4-4-7-3-4M1510 267l3-3-7-3-2 0M1490 257l3 0-6-5-2-3M1017 125l4 0-4-9-4 1M1062 138l4-4-4-6-3 2M1496 257l3-5-5-8-4 7M1490 251l4-7-8 6-2-4M1385 223l3 0-5-6-2-6M1276 195l3-4-5-4-3-3M1054 129l4-1-4-3-3-1M982 109l3-4-3 3-4-3M978 105l4 3-4-4-3-2M1239 180l4 0-5-9-3 4M1093 141l4-5-4-3-4-1M1243 180l3-5-5-3-3-1M1164 160l3-2-3-14-4 6M1317 197l3 1-5-7-3-1M1046 119l3-3-3 1-4-6M1379 218l5-8-6-5-3 4M1315 191l3 2-4-9-4 4M1171 154l3-3-4-6-3-2M1145 149l3-3-3-11-4 3M1031 113l3 3-3-4-4-4M1064 118l3 7-3-9-4 1M1525 244l4-3-5-8-4 4M1297 177l3 5-4-10-3 1M1225 161l3-2-4-10-3 4M1176 145l3-1-4-4-3-1M1133 136l4 3-4-11-3 0M1078 120l3 0-3-6-4 4M1030 107l4-1-4-7-3 3M1529 241l3-4-6-5-2 1M1228 159l3-3-4-8-3 1M1205 153l4-2-5-1-3-2M1201 148l3 2-4-7-3 5M1081 120l4 0-4-2-3-4M1231 156l3 0-4-8-3 0M1222 152l3 1-4-4-4 6M1548 238l3-4-5-6-3 3M1418 209l3 0-4-12-2-1M1286 173l4-4-4-6-4 5M1234 156l4-2-5-4-3-2M1207 149l4-5-4-6-3 1M1055 106l3-1-3-3-4 0"/>
<path color="#d51" d="M889 434l7 1-5-1-8-5M561 231l7-1-5-8-5 9M558 231l5-9-2 2-6 5M583 230l5-8-3 1-6 2M1102 483l7-9-7-10-7 14M720 284l6-3-5-5-5 5M1025 419l6 0-6-15-7 18M853 260l5-3-4-5-5 7M724 182l5-3-3-1-5 0M1136 262l5-7-6 7-4-4M886 153l4-3-4-2-4 2M869 140l5-2-4 1-4 3M1103 197l4-5-5-3-4 11M1387 262l3-2-5-7-5 8M1217 206l4-8-5-1-4 0M1226 198l4-11-4-3-5 14M1025 136l4-1-4-5-4 1"/>
<path color="#c51" d="M526 267l7-4-5-7-6 7M978 534l7-10-7-2-7 1M786 417l7-7-5 0-8-4M740 384l7 1-5-7-8 1M726 381l6-9-4-2-7 4M702 362l8 3-6-11-7 5M992 534l8-12-8-3-7 5M788 410l7-2-5-7-8 1M674 341l6-6-4 0-6 7M670 342l6-7-4-4-7 0M992 519l8 3-8-15-7 9M735 369l7-3-5-4-7 1M708 357l6-10-5 0-6 5M680 335l8 1-6-9-6 8M539 255l7 1-3-3-8-3M958 498l7-11-7-6-7 4M667 325l6-5-4-3-6 7M569 268l7-1-4-2-7-4M799 393l6-7-4 4-8-3M793 387l8 3-6-12-7 5M1007 500l7 2-7-5-7-1M993 493l7 0-7-6-7 4M959 478l7-4-7-7-7-2M822 400l7-4-6-4-7 4M778 371l6-3-5-9-7 1M765 356l6-9-5-6-6 14M918 416l6-1-6-12-6 8M635 264l7 2-5-7-7-1M563 222l8 6-5-8-5 4M786 333l7 8-5-8-7-4M571 228l5-6-3 0-7-2M827 360l7-3-6-15-6 8M730 305l6-3-4-1-6 2M622 246l7 5-4-10-6 3M585 223l6-1-2 2-8-5M1000 434l6-4-6-4-7 3M904 383l6 2-6-10-6 1M791 323l7 1-5-3-6 1M773 315l7 2-5-6-7-1M671 264l6-1-5-9-5 8M748 291l8 11-6-12-5 7M603 223l6-5-3 3-6 1M1109 474l6-3-7-2-6-5M730 284l6-4-4-2-6 3M623 228l6 0-5-10-4 11M620 229l4-11-3 2-5 4M1115 471l6-5-7-3-6 6M1032 429l6-1-7-9-6 8M864 347l6-5-5-8-6 10M689 260l5-11-4-4-4 18M632 227l5-4-3 1-5 4M855 332l6 5-5-5-6-4M640 221l6 1-4-7-5 7M746 271l6 0-4-4-7-2M920 351l6-3-6-4-6-3M777 286l6-3-6-14-5 4M680 236l5-6-4 0-6-1M696 235l5-3-4-3-6 1M1144 445l5 0-7-6-5-2M1088 415l6-4-7 4-6 1M1100 412l5-3-6-1-6 1M853 299l6-6-4 2-7-6M971 348l6-7-6-5-6 4M928 335l6-13-5-3-6 3M1131 417l6-1-6-12-6 5M695 214l6 0-4-2-5-1M1131 404l5 7-7-9-5 2M1110 406l6-15-7 0-5-2M716 224l4-11-3 1-6 0M694 207l5 1-3-2-6 1M1222 446l6-5-8-1-5-4M797 255l5-8-4-2-5 0M725 224l4-6-4-10-5 5M802 247l6 3-4-6-6 1M723 219l4-10-3-1-5 6M742 220l5-5-3 0-5 6M747 215l6 0-4-2-5 2M804 237l5-3-4-8-5 5M1103 360l6-23-7 21-5 10M919 284l5-6-5-6-6 1M731 199l5-4-3 1-6 0M1230 405l5 2-7-8-6 9M739 196l6 2-4-4-5 1M736 195l5-1-4-5-4 7M721 185l5 0-4-2-4 5M825 228l5-2-4-5-5 6M726 185l5-2-4-4-5 4M722 183l5-4-3 3-5-4M826 221l5 2-4-8-5 2M912 258l5-3-5-10-4 10M823 214l6 6-5-7-5 1M1261 402l7-17-7-3-7 15M979 270l5 10-5-15-5 8M759 183l5-1-3 0-5-3M1091 311l5 7-6-8-5 2M830 204l6 6-5-7-5 1M758 181l4-4-3 2-5 1M937 253l5-6-5-2-5 1M836 210l5-3-4-1-6-3M1266 383l6-7-7-11-5 9M1030 286l5-4-5-5-5-2M1014 282l5-12-5-3-5 13M1035 282l5-8-5 1-5 2M1030 277l5-2-6-2-5 2M890 222l5 2-4-6-5 0M970 251l5-3-4 0-5-3M912 233l5-11-5-6-4 16M908 232l4-16-4 3-4 12M1139 314l5-5-6 2-5-3M1237 351l5-7-6-6-5 9M769 165l5-1-3-2-5 1M1260 346l5 1-6-11-5 9M1202 324l4 0-6-5-4 3M786 168l4-8-4-4-4 10M794 172l4-9-3-1-5-2M887 196l4-1-4-3-4 1M1268 333l3 3-6-6-4 1M1221 328l6-21-7 7-4 1M1216 315l4-1-6 0-4-4M1150 292l4 0-5-9-5 6M937 212l5-8-5-5-4 11M865 187l5-7-4-2-5 1M811 166l5-4-4-6-4 6M1323 352l6-10-8 4-3-5M1082 261l4-8-5-10-4 8M990 225l5-8-5-3-4 1M1334 332l4 4-6-9-6 10M1069 235l4-6-4-3-5 4M1103 249l5-10-5-7-5 11M1211 279l4-4-6-3-3-2M1171 261l4 1-5-2-4-2M1108 239l4 3-5-13-4 3M1354 324l4-5-7-1-3-1M1275 298l5-4-6-5-4 2M1068 223l4 0-5-5-4 2M953 184l5-3-5-7-4 4M1263 279l4 4-5-14-5 7M1239 276l5-7-6-5-4 3M1199 260l4-1-5-11-4 8M1105 229l4-6-5 0-4-5M1343 308l4-8-5-8-5 10M1070 214l5-9-5 7-4 0M1012 194l4-4-4-8-4 9M890 150l4 0-3-1-5-1M1321 296l4-5-6-5-4 5M1180 246l4 2-5-9-4 2M1089 216l4-5-5-2-4 6M1020 191l5-2-5 0-4 1M995 183l4 2-4-5-4 1M866 142l4-3-3-4-4 4M863 139l4-4-4-4-4 9M1257 273l4-7-5-3-4-1M1206 249l4-1-5-5-5 8M1098 213l4-1-5 0-4-1M975 177l4-6-4-4-5 6M870 139l4-1-3-3-4 0M1261 266l4 1-5-9-4 5M1074 203l4-4-5 1-4 2M892 149l4-13-4 0-4 4M878 133l5 6-4-7-4 1M1191 242l4-9-5-1-4 1M1096 204l4 0-5-6-4 11M1235 244l4-6-5 1-4-5M1020 171l4-3-5-4-4 9M910 134l4-3-4-10-4 9M1442 294l3-3-7 1-3-1M1402 278l2 4-5-9-4 2M1078 184l4-7-4-8-4 10M1451 301l4-9-5-10-5 9M939 136l4-5-4-4-4 2M928 130l4 0-3-1-4-1M1141 192l4-1-5 0-4 0M1027 161l4-7-4 1-4 2M915 125l4-3-4-1-4-1M1453 283l3-2-8 5-3 2M1072 168l4 1-4-8-4 8M1399 266l4-1-6-6-3-1M1308 238l4 0-6-3-3-3M1076 169l4-8-5 2-3-2M1469 284l4-9-6-4-5 12M1042 155l4-7-4-3-4 6M1318 224l3 0-4-10-4 5M1458 262l3-4-5-9-4 7M1281 209l4-5-5-4-4 10M1029 135l4-1-4-11-4 7M1010 123l4 0-4-4-4 3M1186 172l4-3-4-6-4 6M1047 132l4-2-4-5-4-1M1487 252l3-1-6-5-3 2M1267 194l4-10-5 2-4 6M1262 192l4-6-5 0-3 0M1136 155l4-7-4-1-4 7M1140 148l3 4-4-6-3 1M1073 129l4 1-4-5-3-1M1043 124l3-4-3-8-4 11M1335 208l4-9-5-3-4 3M1427 224l3-2-5-6-3 3M1292 187l4-5-5-6-4 7M1115 133l4 2-4-3-4-2M1464 228l2 1-5-9-3 5M1321 193l4-9-5 1-3 2M1294 179l3-2-4-4-4 6M1202 151l3 2-4-5-3-1M1074 118l4-4-4-1-3 2M1179 144l3-1-4-2-3-1M1217 155l4-6-4-5-4 7M1077 114l4 0-4-3-3-2M1041 109l3-9-4-2-3 3M1282 168l4-5-5-2-4 3M1230 148l3 2-4-3-4 6M1225 153l4-6-4-5-4 7M1212 149l4-6-5 1-4 5M1177 141l3-5-4-2-3 2"/>
<path color="#f72" d="M1023 563l7-4-8-9-7 13M809 420l7-5-5-3-7 10M797 396l7-2-5-1-7 6M600 274l5-7-4-3-4 11M555 239l5-8-2 1-5 7M558 232l6-1-3 0-6 1M1084 494l7-2-8 0-6 4M613 247l6-3-3 1-6 2M987 431l6-2-6-3-7 1M1173 480l6-7-8 9-6 6M1133 459l7-7-8-2-6 6M703 249l5-4-3-2-6 5M1132 450l6-3-7-3-6 6M869 322l6-4-5-12-6 14M1197 469l5-4-8-1-5 0M1161 435l7-15-8 9-6 8M1225 447l5-1-8 0-5 2M1071 373l5-4-6 0-6 7M1082 367l5-2-6-2-5 5M1106 375l6-7-7 1-5 6M1203 376l5 0-7-1-5 4M729 179l5-4-3 3-5 0M1036 301l5-6-5-1-5 9M1103 323l6-5-6 2-6 5M1004 274l5-18-5 11-5 13M1151 313l5 0-6-3-5 9M792 178l5-5-4 0-4 4M833 191l5-7-4 2-4 5M834 186l5-3-4 1-4 2M1098 243l5-11-5 4-5 5M1045 226l4-11-5-4-4 14M1026 205l4-8-5 6-4 6M1358 298l4-3-8 5-3 1M1319 286l4-4-7 3-4 3M970 173l5-6-4-3-4 12M1097 212l4-2-4-5-5 3M1097 205l4-2-5 1-4 8M1401 286l3 1-6-6-4 5M1391 283l4-8-6 0-5 5M1384 280l5-5-7-2-4 5M1304 254l4-5-6-2-4 8M1015 161l4-6-4 0-4 6M1392 273l4-2-7-3-4 8M1435 285l4-6-7 0-5 8M1389 268l4-4-7 2-4 8M1386 266l4-1-7-1-3-1M1390 265l4-7-7 4-4 2M1282 221l4-2-6-1-4 8M1021 131l4-1-4 0-3 4M1118 160l4-8-4 6-4 1M1422 219l3-3-7 3-2-1M1531 250l4-7-7 0-3 3M1525 246l3-3-6-4-5 9M1232 166l4-9-5 5-3 0M1064 112l3-1-4 2-3 6M1191 144l4-8-5 6-3 2M1148 132l4-3-4 0-4 3M1190 142l3-5-4 0-3 5"/>
<path color="#f61" d="M1076 369l6-2-6 1-6 1"/>
<path color="#e61" d="M694 363l8-1-5-3-6 11M780 406l8 4-6-8-7 5M595 301l6-7-4-3-4 15M815 424l7-8-6-1-7 5M732 372l7-4-4 1-7 1M665 331l7 0-5-8-5 13M904 460l8 7-6-7-8 4M712 355l6-4-4-4-6 10M1007 518l7-11-7 2-7 13M964 490l8-7-7 4-7 11M617 285l7-3-5-7-3 19M579 262l5-5-4-6-4 13M605 267l7 1-4-4-7 0M558 244l7-1-5-8-5 8M979 466l7-16-6 12-7 2M1071 506l7-10-8 3-7 4M630 258l7 1-4-6-5 9M736 302l6-7-4 1-6 5M825 340l6-2-5-1-6 4M664 262l5-8-4-3-6 2M846 345l6-1-5-4-6 7M637 223l6 0-3-2-6 3M1006 406l6-9-6-5-7 7M712 261l5-9-4-2-4 9M638 211l6-1-4-4-6 3M685 230l5-2-3-2-6 4M1166 450l6-5-8 4-6 6M921 336l6-2-5-3-6 5M948 347l6-8-5-1-6 7M1107 411l5-4-7 2-5 3M1087 400l5-1-6-4-6 4M1086 395l5-3-6 2-6-2M1125 409l6-5-7 0-6 6M1091 392l6-4-6 0-6 6M966 334l5-1-5-3-6 6M960 336l6-6-5-3-6 8M955 335l6-8-6-2-5 7M833 274l5-1-4-3-6 5M828 275l6-5-5-5-5 9M1124 404l5-2-6-17-6 18M690 207l6-1-4-3-6-1M1102 383l6-15-7 13-6 9M719 214l5-6-3 2-6-1M804 244l5-1-4-2-5 5M1087 365l6-4-6-2-6 4M1221 422l6-9-7-2-6 9M749 213l5-3-4-3-5 3M690 188l5-7-3 1-5 9M841 247l5 0-4-2-5 2M722 198l5-2-4-8-4 11M1090 348l6-7-6 2-6 3M1067 334l5 4-6-8-5 4M852 244l5 2-4-6-6 2M830 232l6 3-4-5-5 3M1102 343l5 3-6-7-5 2M1211 391l6-9-7-6-6 14M1280 404l4-1-7-4-5 6M1036 294l5 1-5-8-5 9M1145 332l5-1-6-1-6 6M808 199l4-5-3 0-5 4M1144 330l5-7-7 1-5 9M1131 327l5-8-5-3-6 12M932 246l5-1-4-7-5 10M1231 347l5-9-6-6-6 10M842 188l4-1-3-1-5-2M838 184l5 2-4-3-5 3M798 169l5 0-4-1-4 7M782 166l4-10-3 1-4 6M1321 365l5-9-7-5-6 15M1123 291l5-3-6-6-4 4M1128 288l5-5-6-3-5 2M883 193l4-1-3-1-5 2M1316 348l4 0-7-2-6 12M1038 246l4 0-5-1-4 3M1129 273l5-7-5 3-5 3M1263 316l5-10-7-1-5 10M825 154l5 1-4-6-4 2M1127 261l4-3-5-4-5 3M1152 264l4-5-5-5-5 8M1063 221l5 2-5-3-4-1M1137 244l5-12-6 4-5 13M1058 218l4-5-5-3-4 3M1309 299l5-6-7-2-4 7M1126 236l4-3-5 2-4-1M1003 190l5 1-5-3-4 2M1315 291l4-5-7 2-3-1M1175 241l4-2-5-3-5 6M1246 262l4 0-6-6-4 2M1200 251l5-8-6-1-4 7M1093 211l4 1-5-4-4 1M1323 282l3 6-6-9-4 6M932 157l4-3-4-4-4 2M1182 230l4 3-5-3-5 8M1101 210l4-4-4-3-4 2M1183 227l4-2-5-6-4 9M912 140l4-7-4 4-4 1M903 130l4-4-4 0-4-2M1445 291l5-9-8 6-4 4M1282 244l5-13-6 1-5 11M1099 179l4-1-4-3-4 1M1189 205l3-2-5-3-3 3M922 122l4 0-3-3-4 3M1064 167l3-8-4 1-4 4M1380 261l5-8-7-3-4 5M992 140l3-6-4-2-3 6M1221 198l3 0-4-5-4 4M1313 219l4-5-6-1-4 11M1301 208l4-6-6 6-3-3M1107 147l4-4-4 2-4 0M1043 128l4-9-4 0-4 11M1235 175l3-4-5-1-3 3M1035 121l4-11-4 10-3 1M1308 196l4-6-5-4-4 7M1303 193l4-7-5-2-4 13M1133 142l4-3-5 0-3 3M1061 119l3-1-4-1-3 1M1111 130l4 2-4-3-4 1M1528 243l3-4-7 3-2-3M1286 176l3 3-5-5-3-1M1237 167l4-8-5-2-4 9M1366 195l3-3-5-3-4 6M1287 174l4-4-4-7-5 13M1524 233l2-1-7 0-2 2M1326 180l3 1-4-6-4 5M1532 237l5-12-8 4-3 3M1166 132l3-1-5 0-3 8M1037 101l3-3-3 1-3 1M1034 100l3-1-4-1-3 4"/>
<path color="#b51" d="M779 423l7-6-6-11-6 10M733 390l7-6-6-5-7 0M713 372l8 2-5-4-8-2M493 240l8 4-3-4-8-4M910 494l6-15-6-4-7 9M721 374l7-4-5-4-7 4M577 289l7-1-4-3-7-1M533 263l6-1-3-4-8-2M916 479l8 0-7-9-7 5M873 457l7-1-6-8-8-2M742 378l7 1-5-5-7 4M679 348l7-2-6-11-6 6M606 303l6-4-5-14-6 9M584 288l6-2-5-14-5 13M924 479l7 1-6-11-8 1M730 363l7-1-5-6-8-2M1000 522l7-13-7-9-8 7M881 450l7-9-6-10-7 9M757 378l7-5-6-4-7-2M732 356l7 0-4-1-9-7M627 302l7 0-6-13-6 6M622 295l6-6-3-2-7 1M986 509l7-16-7-2-7 1M888 441l7 0-6-7-7-3M848 426l6-13-6-9-7 5M725 348l7 0-5-8-7-1M686 327l6-5-5-6-6 4M664 312l7-3-4-1-8-9M603 281l7-4-4-4-6 5M1029 507l6 4-7-9-7-4M986 491l7-4-7-6-7 1M965 476l7 6-6-8-7 4M895 441l7-1-6-5-7-1M816 396l7-4-6-8-7 3M732 348l7-5-5-9-7 6M723 338l6-2-5-7-7 2M692 322l7-1-5-9-7 4M610 277l6-1-4-7-6 4M839 403l8 1-6-10-8-3M817 384l8 8-6-8-6 3M616 276l7 0-3 0-8-7M609 269l7 4-4-5-7-1M1065 520l7-1-8-18-7 13M770 361l6-5-5-9-6 9M760 355l6-14-5-6-6 13M608 264l8 5-6-16-5 11M565 243l5-5-4-6-6 3M672 297l6-3-5-7-6 7M783 351l6-8-5-3-6 9M673 287l8 8-4-5-8-6M571 235l6 1-6-18-4 12M1006 460l7 1-7-4-7-9M789 343l7-1-5 0-7-2M760 327l7 1-5-6-7-2M722 313l5-10-4 0-6 2M717 305l6-2-4 1-7-4M624 261l6-7-3 0-8-6M1107 507l6 0-7-8-7 10M1099 509l7-10-7-8-7 11M723 303l7 2-4-2-7 1M566 220l7 2-4-4-6-3M1006 449l7-12-7-8-7 9M931 412l6-6-6-2-6-1M896 393l7-2-6-9-7 0M793 341l6-4-5-5-6 1M790 334l7 1-6-12-6 2M581 219l8 5-4-5-7-5M1060 463l7-7-7-9-7 4M747 304l6-4-5-9-6 4M619 242l3-14-3-1-4 14M1140 501l6-3-7-14-6 2M1006 430l6-1-6-14-6 11M793 321l6-3-5-11-6 5M1094 464l6 4-6-15-7 3M852 344l7 0-5-7-7 3M833 336l6-1-5-2-7-7M616 224l5-4-3-3-7-1M1145 487l6-1-7-10-6 5M1108 469l6-6-7-4-7 9M1094 453l6 2-7-7-7 7M649 240l6-5-5-8-4 9M1078 446l7-7-7-7-6 2M1038 428l6-5-7 1-6-5M870 342l6 0-5-11-6 3M669 242l6-2-5-8-5 7M655 235l5-4-4-5-6 1M634 224l6-3-3 1-7-7M627 219l6-2-3 0-6 0M611 212l6-1-5-10-4 12M709 259l4-9-3 2-6 1M660 231l6-3-4-6-6 4M620 213l6-2-4-4-5 4M1037 412l6-8-6 1-6 0M721 255l7 2-5-9-6 4M1118 442l6 2-7-6-6 0M1111 438l6 0-7-9-6 8M1104 437l6-8-7-3-6 5M1097 431l6-5-7-5-6 2M728 257l5-5-4-2-6-2M642 219l5-8-3-1-6 1M1146 447l5 4-7-6-6 2M1110 429l5 2-6-5-6 0M1103 426l6 0-7-7-6 2M1096 421l6-2-7 0-6-7M1069 412l6-2-7-9-6 9M718 243l6 4-4-5-6 4M714 246l6-4-4-1-6-3M681 230l6-4-4-2-5 6M1173 462l6 2-7-19-6 5M806 288l5-8-6-16-4 16M724 247l5-5-3 1-6-1M701 232l6-1-4-4-6 2M1113 425l6-15-7-3-5 4M1125 425l6-8-6-8-6 1M666 204l5-1-3-4-6-2M1196 448l6-9-7-6-6 4M1189 437l6-4-7-7-6-2M939 330l6-4-6-13-5 9M675 206l6-1-5-7-5 5M658 199l6 0-4-7-5 5M977 337l6 0-6-8-6 4M904 310l6-8-6-8-5 0M1129 402l6-1-7-13-5-3M1205 432l6-10-7-7-5 6M1218 433l5-3-7-8-5 0M1196 419l5 5-7-8-5-1M808 250l6-1-5-6-5 1M788 238l6 5-5-12-5 3M1201 424l6-11-7-5-6 8M1194 416l6-8-8 6-4-9M838 252l6 5-4-8-6 1M1244 433l5-8-7-9-5 9M849 259l5-7-4 3-6 2M1249 425l6-8-7-9-6 8M1010 329l6-5-6-14-5 16M1116 366l6-11-6-21-6 26M830 248l5-9-5-7-4 7M861 256l4-13-4-1-5 12M856 254l5-12-4 4-5-2M835 239l5-4-4 0-6-3M1272 421l6-9-8-1-5 4M1095 341l5-2-6-5-5-3M871 248l5 0-5-12-5 2M802 218l5-1-4-4-6-1M797 212l6 1-4-2-6-9M786 209l6 2-5-14-5 7M750 200l4-11-3-2-5 3M1267 407l5-2-8 0-4-6M1143 366l6-18-7 2-5 3M830 226l5-1-4-2-5-2M1188 366l4 2-5-15-6 10M743 189l5-5-4-7-5 7M1042 309l5-3-6-11-5 6M1274 396l6-9-6-13-6 11M1204 364l5-1-7-3-5 3M833 214l5-10-4 4-5-1M803 203l5-4-4-1-5-2M1114 325l5 1-5-10-5 2M754 180l5-1-4-5-5-1M1220 365l6-11-7 1-5 9M1119 326l5-6-6-5-4 1M1090 310l5 2-5-9-5 1M1239 363l5-2-7-2-4-2M898 233l5-5-5-1-5-1M869 220l4-5-4 0-5-1M864 214l5 1-4-7-5-1M1067 297l5-9-6-8-5 12M869 215l5 1-4-4-5-4M1128 319l5-11-6-4-5 13M847 206l5-3-5-8-4 8M773 172l6 2-4-2-5-4M1281 367l5 0-6-15-5 3M1201 330l4 0-6-7-4 4M1169 327l5-8-6-12-5 11M1133 308l5 3-6-9-5 2M1098 299l5-6-5 1-5-3M800 186l4-8-4-2-4 3M779 174l4-2-4-5-4 5M1180 326l4-1-6-5-4-1M774 164l5-1-4-3-4 2M1295 355l5-1-7-4-4 0M839 183l5 9-4-9-5 1M1259 336l4 0-6-5-5-1M1206 324l5-9-5-13-6 17M995 245l4-2-5-19-4 16M821 169l6 8-4-7-5-2M1269 341l5-3-6-5-5 3M1211 315l5 0-6-5-4-8M823 170l5 2-4-5-5 2M802 166l5 2-4-7-5 2M1338 355l4 0-7-6-4 1M950 222l4-9-4-3-5 5M828 172l4 0-3 0-5-5M1320 348l3 4-5-11-5 5M1042 246l5 4-5-8-5 3M954 213l5 2-5-7-4 2M920 203l5 5-4-11-5 3M1338 352l4 0-6-11-5 7M985 220l5 5-4-10-5 0M1342 352l5-7-6-7-5 3M1353 355l6-11-9 6-3-5M1086 253l5 1-5-9-5-2M1004 216l4-2-4-5-5 3M955 201l5 5-4-7-5 0M859 163l4-3-4-7-4 7M1257 295l3 9-5-13-4 4M1017 211l5 0-5-2-4-3M863 160l5-4-4-1-5-2M1167 271l4-10-5-3-4 0M1026 219l4-11-4 8-4-5M868 156l4 1-3-1-5-1M864 155l5 1-4-1-5-3M1371 331l4-1-6-8-3-1M1217 277l4 1-6-3-4 4M1160 258l5 0-6-3-4-7M1054 219l4 3-5-7-4 0M1362 321l3 6-7-8-4 5M1035 206l4 6-4-7-5 8M1030 213l5-8-5 1-4 6M1026 212l4-6-4-1-5 1M1111 238l4-5-4-6-5 6M1072 223l4-2-4-9-5 6M910 164l5 3-4-3-5-3M1229 282l5-15-6-3-5 9M958 181l4-7-4-9-5 9M1110 230l4-3-5-4-4 6M1057 209l4 2-5-3-4-1M882 150l4-2-3-2-5-7M1114 227l4 2-5-5-4-1M1056 208l5-9-5-4-4 9M1248 265l4-3-6 0-4-1M1084 215l4-6-4-3-5 11M1079 217l5-11-5-2-4 1M1065 205l5-3-5-4-4 1M1025 193l4 3-4-7-5 2M905 154l4 1-3-5-5 0M1370 310l5-7-5-10-5 6M1179 239l3 7-4-10-4 0M1025 189l4 0-4-7-5 7M1210 248l4 1-5-4-4-2M1106 220l5-5-5-9-4 6M1069 202l4-2-4-1-4-2M1029 189l4-5-4-9-4 7M878 138l4 0-4-5-4 5M1037 188l4-4-4-3-4 3M987 171l4-2-4-7-4 0M1258 258l4-7-6 3-4 4M1228 242l3 6-4-14-5 9M948 152l4-3-4 0-4-7M1188 233l4-3-5-5-4 2M1109 203l4 0-5-12-4 6M1011 170l4 3-4-4-4 2M948 149l4 5-3-6-4 1M908 138l4-1-3 1-5-5M1171 222l4 1-5-3-3-5M1113 203l4-5-5-12-4 5M1032 175l4-1-4-4-4 9M1191 223l4 1-5-8-4 0M1145 214l4-6-4-3-4 3M953 149l4-1-4-2-4-2M1226 235l5-10-5-9-5 18M1195 224l4-3-6 0-3-5M1125 206l4-13-4 1-4 2M1121 196l4-2-5-5-4-2M1404 287l3 3-5-12-4 3M1120 189l4 1-5-2-4 1M1032 168l3-4-4-2-4-3M914 131l4 1-4-9-4-2M1314 253l4-4-5-9-5 9M1240 226l4 2-6-4-3-4M935 139l4-3-4-7-3 4M1318 249l3-2-5-9-3 2M1128 186l4 2-5-3-4-3M1086 186l5-12-5 0-4 3M925 128l4 1-4-9-4 4M1321 247l4-1-6-3-3-5M1145 198l4-4-4-3-4 1M947 138l3-7-3-3-4 3M932 130l4-4-3 2-4 1M1465 295l5-10-6-8-5 9M1173 204l4-3-4-5-5 9M1035 161l4 0-4-4-4-3M1177 201l4 0-4-15-4 10M1112 175l3 9-4-15-4-1M926 122l4 1-4-13-3 9M1466 285l3-1-7-1-3-2M1080 171l4-5-4-5-4 8M1050 159l4 0-4-3-4-8M995 134l4 3-4-7-4 2M1439 265l3-1-6-4-4 1M1432 261l4-1-6-7-3-2M1045 148l4-12-4 1-4 3M1053 148l4-4-4-1-4-7M1356 231l3-1-3-14-5 7M1267 211l4-6-5-10-4 10M1238 193l4-7-5 2-3-4M1310 214l4-10-4-10-5 8M1444 248l5-7-7-1-3 0M1355 223l4-7-5-3-4 2M974 110l4-2-4-9-3 12M1382 221l3 2-4-12-4 7M1132 154l4-7-5-4-3 10M1051 130l3-1-3-5-4 1M1484 246l2 4-4-13-3 0M1090 136l3 5-4-9-3 3M1028 124l4-3-4-5-4 3M1017 117l3-3-3-6-4 6M1312 190l3 1-5-3-3-2M1028 116l3-3-4-5-3 4M1430 222l3 2-5-8-3 0M1174 151l4-2-5 1-3-5M1300 190l4-10-5-3-3 5M1169 149l3-3-4-8-3 4M1466 229l4-5-6-2-3-2M1314 186l3-1-4-7-4 5M1217 163l4-10-5-3-4 9M1071 119l3-1-3-3-4-1M1317 185l4-5-5 2-3-4M1385 202l4-9-5-4-4 6M1296 172l3-1-5-4-3 3M1171 138l3 4-4-6-4-1M1097 123l3-5-3-7-4 6M1034 106l3-5-3-1-4-1M1538 243l5-12-6-6-5 12M1329 181l3 2-4-10-3 2M1299 171l3 2-5-6-3 0M1120 124l3 5-4-10-3 1M1173 136l3-2-4 1-3-4M1169 131l3 4-4-7-4 3"/>
<path color="#d61" d="M727 379l7 0-4 0-8-3M708 368l8 2-5-3-7 4M1030 559l8 0-8-7-8-2M971 523l7-1-7-5-8-1M903 484l7-9-7-11-7 16M734 379l8-1-5 0-7 1M584 296l6-6-5-13-4 19M573 284l7 1-4-3-7 2M528 256l8 2-5-7-6 6M498 240l4-9-2-1-5 11M804 422l7-10-5-2-8 1M737 378l7-4-5-6-7 4M714 368l6-13-4 1-6 9M710 365l6-9-4-1-8-1M964 504l7-9-7-5-7 6M950 491l8 7-7-13-7 5M795 408l7-11-5-1-7 5M744 374l7-7-5-3-7 4M703 352l6-5-5-10-6 12M1022 527l7-3-8-8-7 7M823 408l8 5-6-10-7 4M709 347l7-5-5-8-7 3M671 328l6-8-4 0-6 5M825 403l7 3-5-5-7 7M809 393l7 3-6-9-6 7M768 373l6-7-4 0-6 7M669 317l6-8-4 0-7 3M1000 496l7 1-7-4-7 0M979 482l7-1-7-3-7-8M832 406l7-3-6-12-6 10M770 366l8 5-6-11-6 11M624 282l7 0-5-7-7 0M606 273l6-4-3 0-7 0M558 249l6-3-4-6-6 3M1050 522l7-8-7-5-7 3M1043 512l7-3-8 0-7 2M802 378l7 2-5-4-7-2M739 343l6-7-5-3-6 1M953 452l7 0-7-5-6 8M641 280l7 0-4-2-7 1M587 249l7 5-4-6-6 2M993 471l7-10-7-10-7 15M667 294l6-7-4-3-6 3M773 339l6-3-5-2-6 3M629 267l6-3-5-6-5 9M600 250l7 1-4-3-7-2M555 229l6-5-3-1-7-1M712 300l7 4-5-12-6 4M628 262l5-9-3 1-6 7M561 224l5-4-3-5-5 8M1092 502l7-11-8 1-7 2M993 455l6-17-6-3-7 13M884 395l6-13-5-4-7 9M857 383l6-16-5 4-6 6M974 433l6-6-6-1-7 2M967 428l7-2-6-2-7-2M890 382l7 0-6-7-6 3M586 230l5-7-3-1-5 8M579 225l6-2-4-4-5 3M576 222l5-3-3-5-5 8M573 222l5-8-3 1-6 3M667 262l5-8-3 0-5 8M597 220l6 3-3-1-7-8M1095 478l7-14-8 0-6 10M1088 474l6-10-7-8-6 15M1074 463l6-8-7-6-6 7M836 345l6-9-5 0-6 2M831 338l6-2-4 0-7 1M826 337l7-1-6-10-6 7M1139 484l6 3-7-6-6-3M1066 448l6-4-7-6-6 6M1025 434l7-5-7-2-6-1M847 340l7-3-6-9-6 8M726 281l6-3-4-1-7-1M1086 455l7-7-7-7-7 7M934 377l6 0-6-3-6 1M859 344l6-10-5 1-6 2M854 337l6-2-5-3-7-4M693 262l5-8-4-5-5 11M686 263l4-18-3 1-6 8M662 240l7 2-4-3-5 4M646 236l4-9-4-9-4 17M1144 476l6-7-8-2-6 4M665 239l5-7-3-1-6 5M614 213l6 0-3-2-6 1M1092 436l6-1-7-4-6 8M809 307l5-7-5-6-5 9M704 253l6-1-5-11-5 8M696 249l7 0-4-1-6-1M667 231l6 3-4-6-6 0M647 224l5-4-3 1-6 2M643 223l6-2-3 1-6-1M637 222l5-7-3 2-6 0M1031 405l6 0-7-8-6 3M646 222l6-2-4-3-6-2M1125 450l6-6-7 0-6-2M1050 416l6-17-7-8-6 13M1037 405l6-6-7 0-6-2M1030 397l6 2-6-4-6 5M708 245l6 1-4-8-5 5M702 249l3-19-2 7-5 8M698 245l5-8-4-2-6-1M1168 464l5-2-7-12-6 7M651 215l5-4-4-5-5 5M647 211l5-5-4-3-4 7M1095 419l6-6-7-2-6 4M875 318l6-2-5-3-6-7M1101 413l6-2-7 1-6-1M1094 411l6 1-7-3-6 6M959 345l6 1-5-4-6 1M703 227l6 1-4-2-6-5M877 313l6-10-5-3-6 5M1176 442l6-18-7-3-7 20M1092 399l6-8-7 1-5 3M955 336l5 0-5-1-6-3M923 322l6-3-5 2-7-10M1085 394l6-6-7-10-6 10M977 341l6-1-6-3-6-1M971 336l6 1-6-4-5 1M816 272l5-7-4-1-6-2M671 203l5-5-3 2-5-1M1217 448l5-2-7-10-6 9M1117 403l6-18-7 6-6 15M971 333l6-4-5-3-6 4M817 264l5-4-4 3-5 2M1193 430l6-9-8 1-5-1M1109 391l6-3-7-5-5 7M1077 379l5-1-6-9-5 4M1128 388l6 0-7-8-5 7M767 235l5-3-4-2-6-1M1189 415l5 1-6-11-6 7M1057 361l6-5-6-8-6 4M772 232l5-3-3 1-6 0M1033 344l6-6-6-2-6 7M744 215l5-2-4-3-5 0M1214 420l6-9-8-2-5 4M794 231l6 0-4-1-6-1M754 210l6 3-4-7-6 1M1253 410l5-5-8-1-5 0M1102 358l6-12-6-3-6 10M1084 346l6-3-6-10-6 7M784 218l4-5-3 1-5 1M1090 343l5-2-6-10-5 2M865 243l6 5-5-10-5 4M724 186l5 1-3-2-5 0M821 227l5-6-4-4-5 8M754 189l6 5-4-4-5-3M731 183l5-2-4-3-5 1M1287 409l5-2-8-4-4 1M1168 361l5-10-6-1-6 6M819 214l5-1-4-8-4 14M750 189l5-3-4-6-5 5M739 184l5-7-4-6-4 10M979 281l5-4-5-7-5 5M748 184l4-6-3 0-5-1M1109 329l5-4-5-7-6 5M979 265l5 2-5-4-5 3M847 219l4-13-3 9-5 1M826 204l5-1-3 0-5-1M761 182l5-3-4-2-4 4M1227 367l6-10-7-3-6 11M1150 331l4 4-5-12-5 7M1137 333l5-9-6-5-5 8M951 260l5-11-5-9-5 11M1260 374l5-9-8 7-4-1M1025 275l5 2-6-2-5 7M1009 280l5-13-5-11-5 18M1272 376l5-10-7-3-5 2M769 175l4-3-3-4-5 3M843 203l4-8-4-5-4 13M796 179l4-3-3-3-5 5M837 196l5-8-4-4-5 7M783 172l5-5-4-2-5 2M1236 338l5-1-7-3-4-2M791 172l5-6-3 3-5-2M1247 345l5-15-6-3-5 10M799 168l5 3-4-4-4-1M779 163l4-6-3 5-5-2M860 183l5 4-4-8-4 2M803 161l5 1-4-4-5 0M981 226l4-6-4-5-5 6M963 225l5-12-5-3-4 8M808 162l4-6-3 3-5-1M1331 348l5-7-7 1-6 10M1218 307l5 1-7-2-4-1M972 216l5-1-5-2-4 0M972 213l5 3-5-4-4 2M951 205l4-7-4 1-5 4M1013 224l4-2-4-6-5 3M1004 221l4 4-4-9-5 5M821 161l4-7-3-3-5 3M1261 305l4 4-5-13-5 9M1359 340l4-2-6-7-5 8M1350 329l4-3-7-2-6 11M1157 266l5-8-6 1-4 5M878 171l4-11-4-1-4 7M1354 326l4-2-8 1-3-1M1219 279l4 2-6-4-4 1M1156 259l4-1-5-10-4 6M1069 226l4 1-5-4-4 1M882 160l5 3-4-6-5 2M860 152l5 3-4-4-4 1M1358 324l4-3-8 3-4 1M1270 291l4-2-6-6-5 11M1263 294l5-11-7 4-4 2M1053 215l5 3-5-5-4 3M995 202l4-6-4-6-5 3M866 154l4-4-4-2-4 5M1142 246l4-1-4-13-5 12M1062 221l5-11-5 3-4 5M999 196l4 1-4-2-4-5M1062 213l4 4-4-7-5 0M1057 210l5 0-5-1-4 1M864 149l4-8-4-4-3 14M889 151l5 0-4-1-4 3M1405 325l4-1-7-9-3-1M1311 291l4 0-6-4-4-1M1250 268l3 5-5-8-4 4M1226 264l4 0-5-8-5 6M1109 223l4 1-5-3-4 2M1052 204l4-9-4 5-5-2M901 154l4 0-4-4-4 1M1075 205l4-1-5-1-4 9M1070 212l4-9-4-1-5 3M1020 189l5-7-5 2-4 0M1102 212l4-6-5 4-4 2M874 138l4-5-3 0-4 2M871 135l4-2-3 0-5-2M1416 312l5-5-7-7-5 11M1024 179l4-1-4-13-4 12M1100 204l4-7-5-2-4 3M1167 224l4-2-4-7-4 4M919 142l4-7-4-2-4 6M1187 225l4-2-5-7-4 3M1015 173l4-9-4 2-4 3M949 148l4 1-4-5-4 1M1212 234l4-7-5-2-4 1M1141 208l4-3-5 0-4-2M1205 225l5-7-6 0-5 15M899 124l4 2-3-4-4 7M1310 258l4-5-6-4-4 5M1133 190l4 4-4-6-4-1M1048 171l4-4-4 1-4-1M918 132l3-8-3-3-4 2M1166 204l4-4-5 0-4 1M1019 155l4 2-4-4-4 2M1455 292l4-6-6-3-3-1M1442 288l3 0-6-9-4 6M950 131l4-1-3 0-4-2M1163 197l4-8-5 1-4 4M1068 169l4-8-5-2-3 8M1047 158l4 4-4-9-4 6M1431 277l5-8-7 2-3-3M1047 153l3 6-4-11-3 7M1166 188l3 1-4-6-4 1M1088 168l4-5-4 1-4 2M1084 166l4-2-5 0-3-3M1075 163l4-1-4-9-4 8M1287 229l4-8-5-2-4 2M1038 151l4-6-4 2-4 1M1422 266l5-15-6-3-6 18M1415 266l6-18-9 12-3 0M1291 221l4-2-5-4-4 4M995 130l4 1-4-3-4-5M1455 268l4-9-6-2-5 8M1143 172l4 0-5-2-3-2M1459 259l3 2-6-5-3 1M1212 189l3-4-4-3-5 11M1057 144l3-3-4-2-3 4M1271 205l4-11-5-4-4 5M1123 160l3-1-4-7-4 8M1060 141l4-1-4-2-4 1M956 112l4-2-3 1-4-2M1378 227l4-6-5-3-4 3M1350 215l4-2-6-4-3 2M1124 152l4 1-4-11-4 4M995 115l4-1-4-2-3 0M1359 216l3-3-5-2-3 2M1258 186l3 0-5-7-4 6M1047 125l4-1-4-5-4 9M1266 186l4-4-6 3-3 1M1136 147l3-1-4-6-4 3M1066 134l4-10-4 0-4 4M1314 193l3 4-5-7-4 6M1160 150l4-6-5 0-4 13M1020 114l4-2-4-4-3 0M996 106l3-5-3 2-4-1M1375 209l3-4-5-1-3 0M1310 188l4-4-5-3-3-1M1296 182l3-5-5 2-3-3M1289 179l4-6-6 1-3 0M1067 114l4 1-4-4-3 1M1023 106l4-4-4-5-3 6M1293 173l3-1-5-2-4 4M1221 153l3-4-5 0-3 1M1027 102l3-3-3 0-4-2M1466 224l4-8-6-3-4 6M1321 180l4-5-6 4-3 3M1260 162l3 0-5-5-3 4M1255 161l3-4-4 0-4 0M1161 139l3-8-4-4-3 8M1116 120l3-1-3-3-4 6M1052 103l3 3-4-4-3 5M1380 193l3-3-4-7-4 4M1263 162l3-3-4-4-4 2M1051 102l4 0-4-4-3 4"/>
<path color="#f71" d="M896 480l7-16-6-3-7 15M890 476l7-15-6 1-7 14M697 359l7-5-4 3-7 3M525 257l6-6-3 0-4 10M524 261l4-10-3-1-5 8M866 446l8 2-6-5-7 6M718 362l6-8-4 1-6 13M576 282l6-8-3 2-6 5M528 251l7-1-3-1-7 1M868 443l7-3-6-1-7 5M816 415l7-7-5-1-7 5M716 356l6-7-4 2-6 4M1014 523l7-7-7-9-7 11M992 507l8-7-7-1-8 4M875 440l7-9-6-1-7 9M869 439l7-9-6 1-7 7M701 342l5-10-4 1-5 10M650 311l5-11-3 5-6 8M965 487l7-17-7 6-7 5M804 394l6-7-5-1-6 7M788 383l7-5-5 3-6 5M677 320l6-8-4-2-6 10M952 465l7 2-7-8-7 11M827 401l6-10-4 5-7 4M795 378l7 0-5-4-7 7M952 459l7-4-6-3-7 14M933 457l7-11-6 2-7-3M555 243l5-8-2 1-6 6M1050 509l7-12-8 1-7 11M602 263l4-12-3 2-4 11M558 236l4-9-2 4-5 8M1087 521l7-12-8 5-7 11M752 333l6-2-4 0-7 2M745 329l5-18-3 8-6 11M1078 496l6-2-7 2-7 3M912 411l6-8-6-4-6 12M906 411l6-12-5 5-7 5M878 387l7-9-6 0-6 9M616 246l6 0-3-2-6 3M987 437l6-8-6 2-7 3M980 434l7-3-7-4-6 6M1060 447l6 1-7-4-6 5M788 312l6-5-4 2-6 5M716 281l5-5-3 1-7-2M1059 444l6-6-6-9-7 17M842 336l6-8-4 4-7 4M609 218l4-9-2 5-5 7M606 221l5-7-3 0-5 3M603 217l5-3-3-1-5 3M638 231l5-9-3-2-6 5M608 214l6-1-3-1-6 1M1136 471l6-4-7-1-6 2M661 236l6-5-4-3-5 7M1057 428l6-10-6-4-6 3M804 303l5-9-4 5-6 1M1043 404l6-13-6 8-6 6M654 216l6 0-3-2-5 6M652 220l5-6-4 0-5 3M688 231l5-7-3 4-5 2M644 210l4-7-3 0-5 3M953 352l6-7-5-2-6 13M801 280l4-16-3 7-5 10M1074 402l6-3-7-1-5 0M954 343l6-1-6-3-6 8M937 337l6-5-5 3-6 6M891 317l5-11-5 3-5 12M1080 399l6-4-7-3-6 6M1073 398l6-6-6-6-6 13M954 339l6-6-5 3-6 2M949 338l6-2-6-4-6 0M1168 441l7-20-7-1-7 15M1079 392l6 2-7-6-5-2M1078 388l6-10-6 5-6 10M824 274l5-9-4-1-5 6M682 208l4-6-2 5-6-3M966 330l6-4-6-3-5 4M961 327l5-4-5 3-6-1M821 265l5-7-4 2-5 4M1230 446l6-9-8 4-6 5M1116 391l6-4-7 1-6 3M822 260l5-9-4 2-5 10M818 263l5-10-4 0-5 4M814 257l5-4-4 1-5 5M793 245l5 0-4-3-5 4M761 234l6 1-5-6-4 6M1182 412l6-7-7-6-7 17M972 322l5-14-5 7-5 3M784 234l5-3-4-1-5 7M1229 423l6-13-8 3-6 9M1207 413l5-4-7-3-5 2M1096 353l6-10-6-2-6 7M1221 395l5-6-7-1-6 9M785 214l4-9-3 4-5 3M1226 389l5-5-7-4-5 8M1219 388l5-8-7 2-6 9M1204 390l6-14-7 0-5 8M817 225l5-8-4 1-5 0M813 218l5 0-4-1-5 3M775 205l5-7-4 1-4 6M818 218l5-4-4 0-5 3M1142 350l6-13-7 3-5 12M781 199l5-5-3 1-5 6M736 181l4-10-3 6-5 1M732 178l5-1-3-2-5 4M1129 337l5-9-7 6-5 9M817 210l4-4-4-3-4 9M783 195l4-5-3-2-5 8M737 177l5 0-3 0-5-2M1219 362l5-3-8 5-5 5M1031 296l5-9-6-3-5 12M821 206l5-2-3-2-6 1M1109 318l5-2-6-2-5 6M1085 312l5-2-5-6-5 6M946 251l5-11-5 6-4 11M1265 365l5-2-7 0-6 9M1178 332l6-9-8 10-4 3M1061 292l5-12-5-1-5 12M765 171l5-3-3 1-5 5M1270 363l5-8-8 5-4 3M1184 323l4 3-6-2-6 9M1275 355l5-3-8 4-5 4M908 219l5-2-4 1-5 1M1272 356l6-16-8 7-6 15M800 176l5-6-4 1-4 2M797 173l4-2-3-2-5 4M1230 332l4 2-7-2-4 3M1114 297l5-13-6 7-5 1M1241 337l5-10-7 1-5 6M1234 334l5-6-7 0-5 4M1227 332l5-4-6-1-5 5M1239 328l4-1-6-1-5 2M1188 311l5-8-7 6-4 0M815 172l4-3-4-3-4 7M798 163l5-2-4-3-4 4M945 215l5-5-4-1-5 0M1037 245l5-3-5-2-5 4M976 221l5-6-5 3-4 3M972 221l4-3-4-2-4 6M941 210l5-8-4 2-5 8M1057 244l4 1-5-2-4 5M812 156l4-2-3 0-4 5M1336 341l5-3-7-2-5 6M1329 342l5-6-8 4-5 6M1077 251l4-8-5 3-5 9M986 215l4-1-4 0-5 2M1334 336l4-2-8-1-4 7M990 210l5-5-5 3-4 7M1255 305l5-9-6-4-6 19M1332 327l4-5-7 0-5 8M852 157l4-6-4-1-4 9M1357 331l5-7-8 2-4 3M1251 295l4-4-6-1-5 5M1146 262l5-8-6-1-4 2M1064 230l5-4-5-2-5 5M1362 324l4-3-8 3-4 2M1237 287l4-8-6 6-5 3M1059 228l4-7-4-2-5 4M1054 223l5-4-5 0-5 6M973 186l5 2-4-3-5 7M1106 233l5-6-6 2-4 3M949 178l4-4-4 0-4 7M866 148l4-7-3 3-4 6M1096 225l4-7-5 2-4 8M867 144l4-1-3-2-4 8M1307 291l4 0-6-5-4 5M1257 276l5-7-6-1-5 11M1228 264l5-6-7 6-4-1M1194 256l4-8-6 4-4 5M1337 302l5-10-8 2-4 9M1220 262l5-6-6-3-5 10M1008 191l4-9-4 7-5-1M1169 242l5-6-6 1-4 0M1012 182l4 2-4-3-4 8M1365 299l5-6-8 2-4 3M1195 249l4-7-5 0-4 1M1056 196l4-1-5-1-4 4M1020 184l4-11-4 8-4 4M888 140l4-4-3 2-4 6M1156 228l4-5-5-5-5 12M1073 200l4-9-4 4-4 4M1409 311l5-11-6-3-6 12M1393 296l5-9-8 4-4 6M1256 254l5-14-7 12-4 4M1222 243l5-9-6 3-5 6M901 138l3-5-3 0-4 5M915 139l4-6-3 0-4 7M1107 193l4-5-4 4-4 5M1102 189l4-4-5 2-4-1M1101 187l4-3-4-1-4 7M1395 275l4-2-7 0-3 2M1101 183l4-2-5 0-4 6M1096 187l4-6-4-1-4 3M1074 179l4-10-4 1-5 8M1105 181l4-2-5-1-4 3M1100 181l4-3-5 1-3 1M1096 180l3-1-4-3-4 9M1069 174l4-6-4 4-4 0M1396 271l3-2-6-5-4 4M1109 179l3 1-4-3-4 1M1104 178l4-1-5 1-4 1M1459 286l5-9-8 4-3 2M1432 279l5-10-8 7-4 2M1103 178l4-10-4 6-4 1M1173 196l4-10-5 4-4 7M1168 197l4-7-5-1-4 8M1153 190l4-5-5 1-4 7M1103 174l4-6-5 0-4 10M1221 210l5-12-6 3-4 11M1162 190l4-2-5-4-4 1M1098 171l3-6-4-1-4 9M937 122l4-6-4 4-3 5M1372 253l4-7-7 0-4 5M1161 184l4-1-5 0-4 5M1097 164l4-1-5 1-3 3M1093 167l3-3-4-1-4 5M1071 161l4-8-4 4-4 4M1286 219l4-4-6 0-4 3M992 130l3-5-3 2-4 3M1041 140l4-3-4-1-4 2M1453 257l3-1-7 0-4 8M1311 213l4-7-6 8-4 5M1257 203l4-8-5-1-4 7M1025 130l4-7-4 6-4 1M960 111l3-8-3 7-4 2M1264 196l4-3-5-2-4 8M1305 202l5-8-7 5-4 9M1268 193l3 1-5-2-3-1M1122 151l3-1-4 2-4 7M1006 122l4-3-4-3-3 4M1481 255l4-6-8 3-3 3M1485 249l2 3-6-4-4 4M1373 221l4-3-6-3-4 9M1365 216l4-7-7 4-3 3M1086 135l3-3-4 0-3 3M1062 128l4-4-4 3-4 3M1013 114l4-6-4 3-3 0M1535 243l3-2-7-2-3 4M1164 139l3 1-4-2-4 5M1020 103l3-6-3 4-4 0M1282 176l5-13-6 5-4 7M1216 150l3-1-4-1-4 3M1211 151l4-3-5 2-3 4M1167 140l4-2-5-3-3 3M1048 107l4-11-4 8-3 6M1166 135l4 1-4-4-4 6M1093 117l4-6-4 2-4 2M1319 179l4-11-6 4-3 6M1153 133l3-7-4 3-4 3M1529 229l5-9-8 5-4 7M1375 187l4-4-6 2-4 6M1277 164l4-3-5-3-3 4M1273 162l3-4-5 2-3 2M1217 144l3-4-4 3-4 6M1152 129l3-4-4 0-3 4M1148 129l3-4-4 0-3 5M1044 100l3-4-3 0-4 2M1026 98l4-8-4 0-3 4"/>
<path color="#c61" d="M704 371l7-4-4-1-8-3M699 363l8 3-5-4-8 1M730 379l7-1-5-6-6 9M581 296l4-19-1 11-7 1M728 370l7-1-5-6-7 3M590 290l7-3-5-9-7-1M531 251l8 4-4-5-7 1M874 448l7 2-6-10-7 3M822 416l7 0-6-8-7 7M676 335l6-8-4-3-6 7M835 425l6-16-5-3-7 10M829 416l7-10-5 7-8-5M979 492l7-1-7-9-7 1M720 339l7 1-4-2-7 4M600 278l6-5-4-4-7-2M854 413l8 3-7-9-7-3M727 340l7-6-5 2-6 2M959 467l7-3-7-9-7 4M743 343l6-9-4 2-6 7M635 285l6-5-4-1-6 3M631 282l6-3-3-1-8-3M959 455l7 4-6-7-7 0M953 447l7 3-6-7-7-2M594 254l6-4-4-4-6 2M778 349l6-9-5-4-6 3M768 337l6-3-4 0-7-4M763 330l7 4-5-5-7 2M754 331l6-4-5-7-5 10M1093 506l6 3-7-7-7-3M784 340l7 2-5-9-7 3M622 247l8 6-5-8-6 0M1106 499l6-4-7 0-6-4M925 403l6 1-6-6-6-3M1047 464l6-13-7-9-6 13M897 382l7 1-6-7-7-1M1081 471l6-15-7-1-6 8M622 228l8 5-5-9-6 3M1073 449l6-1-7-4-6 4M630 233l4-8-2 2-7-3M1079 448l7-7-8 5-6-2M621 220l6-1-3-2-6 0M698 254l6-1-4-4-6 0M608 213l4-12-3-1-4 10M1099 443l6-3-7-5-6 1M1085 439l6-8-7-10-6 11M719 254l7 8-5-7-6-2M1112 445l6-3-7-4-6 2M1105 440l6-2-7-1-6-2M814 300l7 5-5-9-7-2M710 252l6-2-4-5-7-4M632 212l6-1-4-2-6-1M719 247l7 5-4-6-6 4M716 250l6-4-4-3-6 2M1062 410l6-9-6-1-6-1M710 238l6 3-3-1-8-10M660 216l7 4-5-11-5 5M640 206l5-3-3 0-5 7M959 357l6-2-6-10-6 7M896 334l4-21-5-6-5 23M656 211l6 0-4-3-6-2M652 206l6 2-4-3-6-2M645 203l6-2-4-6-5 8M1081 409l6-9-7-1-6 3M1183 441l6-4-7-13-6 18M977 350l5-10-5 1-6 7M894 307l5-13-5 3-6-1M1209 445l6-9-7-1-6 4M1202 439l6-4-8-3-5 1M1188 426l5 4-7-9-6 1M838 273l6-6-5-6-5 9M977 329l6 0-6-8-5 5M740 210l5 0-4-2-6-5M840 249l5-2-4 0-6-2M845 247l6 2-5-2-5 0M727 196l6 0-4-8-6 0M733 196l4-7-4-6-4 5M1096 341l5-2-6 2-5 2M1263 402l4 5-7-8-5 2M1233 394l5-3-7-7-5 5M746 190l5-3-3 4-6-11M1161 356l6-6-7-7-5 7M788 195l6 7-4-9-6 1M1226 381l6-10-6-10-7 20M755 186l4-3-3-4-5 1M829 207l5 1-4-4-5-1M791 193l6 2-4-3-6-2M749 178l5 2-4-7-5 2M855 221l4-5-4-6-4 9M1235 365l4-2-6-6-6 10M859 216l5-2-4-7-5 3M1233 357l4 2-6-13-5 8M961 253l4-7-4-1-5 4M1024 275l5-2-5-6-5 3M965 246l5 5-4-6-5 0M1122 317l5-13-6 0-4-2M1199 323l4 9-5-12-5-1M808 184l4-9-4-6-4 9M1119 300l5-12-5-4-5 13M846 191l4-5-4 1-4 1M1254 345l5-9-7-6-5 15M1263 336l5-3-7-2-4 0M1233 314l4 6-6-9-4-4M959 218l4-8-4 5-5-2M942 204l4-1-4-9-5 5M921 197l4-2-4-7-4 10M816 162l4-2-4-6-4 2M1008 228l5-4-5-5-4 12M955 206l4-1-4-7-4 7M946 203l5-4-4-2-5-3M816 154l5 7-4-7-4 0M1341 338l2 7-5-11-4 2M999 221l5-5-5-4-4 5M942 199l5 3-4-5-5-1M1363 338l5-5-6-9-5 7M1341 335l6-11-6-12-5 10M1276 308l4-7-6 1-4-2M1220 285l4 2-5-8-5 3M859 153l5 2-4-3-4-1M1368 333l3-2-5-10-4 3M1347 324l3 1-5-11-4-2M1249 290l4 4-5-13-5 10M1162 258l4 0-6 0-4 1M1350 325l4-1-6-7-3-3M905 170l5-5-4-5-5 4M871 143l5 2-4-4-4 0M1244 269l4-4-6-4-4 3M1203 259l5-6-6-4-4-1M1016 190l4-1-4-5-4-2M1325 291l4-1-6-8-4 4M1256 263l4-5-6-5-4 9M1106 206l4 3-5-3-4 4M1421 307l4-8-6-7-5 8M1095 198l4-3-4 1-4-2M923 135l4 3-4-4-4-1M1215 225l3-2-5-3-3-2M1124 190l4-4-5-4-4 6M1403 270l3 1-7-2-3 2M1112 180l4-2-4-3-4 2M933 128l3-6-3-1-4 2M1396 268l3-2-5-8-4 7M1299 235l4-3-6 2-3-4M1462 283l5-12-7-1-5 9M1429 264l3-3-5-10-5 15M1346 236l5-13-5-4-5 10M1487 259l3-2-5-8-4 6M971 111l3-12-3 3-3 6M1271 184l3 3-4-5-4 4M1137 147l4-9-4 1-4 3M1313 178l3 4-5-7-3-2M1172 139l3 1-4-2-4 2M1170 136l3 0-4-5-3 1"/>
<path color="#a51" d="M570 291l7-2-4-5-8-2M496 242l8 3-3-1-8-4M501 244l7-2-6-11-4 9M682 327l9 6-5-6-8-3M659 323l5-11-5-13-6 11M516 233l8 2-5-10-7 2M1029 524l7-11-7-6-8 9M625 287l8 7-5-10-8-4M524 235l6-4-3 1-8-7M1036 513l7-1-8-1-6-4M737 347l6-4-4 0-7 5M628 284l7 1-4-3-7 0M699 321l7-3-5-3-7-3M706 318l6-5-5-3-6 5M701 315l6-5-4-6-7 4M1072 519l6-8-7-5-7-5M771 347l7 2-5-10-7 2M703 304l8 7-6-9-7-1M566 232l8 6-3-3-9-8M794 353l7-4-5-7-7 1M770 334l7 0-4 1-8-6M719 304l7-1-5-5-7-6M624 217l6 0-5-9-5 4M876 342l6-9-5 0-6-2M1098 435l6 2-7-6-6 0M622 207l6-4-4-4-6 2M680 221l6 4-4-8-8-11M811 280l6 2-4-5-8-13M654 205l6-3-4-7-5 6M965 346l6 2-6-8-5 2M660 202l6 2-4-7-6-2M1195 433l5-1-7-2-5-4M849 265l6 7-5-10-6-4M1134 388l5 6-6-12-6-2M850 262l6 6-4-5-6-6M837 254l6 4-5-6-6-4M1255 417l5-2-7-5-5-2M1260 415l5 0-7-10-5 5M1265 415l5-4-7-9-5 3M741 194l5-4-4-10-5 9M1132 357l5-4-6-4-5-3M719 178l5 4-3-4-6-3M1238 391l5 1-7-5-5-3M837 216l6 0-5-12-5 10M1248 376l5-5-6-8-5-2M1237 359l5-1-6-13-5 1M1204 343l5 1-6-14-5 4M1242 358l4-2-6-5-4-6M1077 286l4 2-5-14-5-4M1286 367l4-5-5-15-5 5M1174 319l4 1-5-7-5-6M1290 362l5-7-6-5-4-3M1332 369l6-14-7-5-5 6M1342 355l3 1-7-4-3-3M954 208l5 5-4-7-5-6M1316 336l4-3-5-15-5 7M1008 214l5 3-5-9-4 1M1265 309l5-9-7 1-3-5M1013 217l4-6-4-5-5 2M1013 206l4 3-5-5-4 2M878 152l4-2-4-11-4 0M1065 198l4 4-4-5-5-3M867 135l4 0-4-4-4 0M1082 208l5-9-5-11-4 11M940 158l4-2-4-13-4 11M1037 181l4 4-4-7-4-1M944 156l4-4-4-10-4 1M952 155l4-2-4-4-4 3M1434 307l5-8-6-9-4 5M1269 252l4 0-6-4-2-9M1137 194l4-2-5-1-3-3M1390 260l4-3-5-13-4 9M951 126l4-2-4-3-3 3M948 124l3-3-3-6-4 1M951 121l4 3-3-11-4 2M1476 276l3 0-6-8-1-7M999 131l4 4-4-8-4 1M1276 210l4-10-5-6-4 11M1130 159l4-2-5-7-3-3M1134 157l3-1-4-5-4-1M978 108l4 1-4-4-4-6M1148 146l4-4-4-6-3-1M1172 146l4-1-4-6-4-1M1332 183l4-5-5-7-3 2M1016 96l3-2-3-7-3 4"/>
<path color="#841" d="M632 209l5 1-5-14-4 7"/>
<path color="#e71" d="M963 524l8-1-8-7-7 8M522 263l6-7-3 1-5 7M716 370l7-4-5-4-7 5M739 368l7-4-4 2-7 3M672 331l6-7-4-3-7 2M971 495l8-3-7-9-8 7M802 397l7-4-5 1-7 2M722 349l8 2-5-3-7 3M718 351l7-3-5-9-6 8M1007 509l7-10-7 1-7 0M1000 500l7 0-7-4-7 3M972 483l7-1-7-12-7 17M882 431l7 3-6-5-7 1M681 320l6-4-4-4-6 8M673 320l6-10-4-1-6 8M671 309l6-7-3 3-7 3M602 269l7 0-4-2-5 7M626 275l8 3-5-5-5 7M1057 514l7-13-7-4-7 12M947 455l6-8-6-6-7 5M745 336l7-3-5 0-7 0M605 264l5-11-4-2-4 12M560 235l6-3-4-5-4 9M1086 514l7-8-8-7-7 12M1078 511l7-12-7-3-7 10M705 302l7-2-4-4-7 4M1085 499l7 3-8-8-6 2M779 336l7-3-5-4-7 5M918 403l7 0-6-8-7 4M1133 486l6-2-7-6-7 9M1000 426l6-11-7-8-6 16M1080 455l6 0-7-7-6 1M1093 448l6-5-7-7-6 5M1086 441l6-5-7 3-7 7M865 334l6-3-5 2-6 2M714 267l5-13-4-1-5 11M694 249l6 0-4 0-6-4M658 235l5-7-3 3-5 4M1064 428l6-10-7 0-6 10M1025 404l6 1-7-5-6 3M650 225l5-8-3 3-5 4M717 252l6-4-4-1-6 3M1140 452l6-5-8 0-6 3M705 243l5-5-5-8-3 19M690 235l6 0-5-5-5 2M1138 447l6-2-7-8-6 7M691 230l6-1-4-5-5 7M657 214l5-5-4-2-5 7M890 330l5-23-4 10-6 9M697 229l6-2-4-6-6 3M943 345l6-7-6-6-6 5M960 342l5-2-5-7-6 6M883 303l5-7-5-4-5 8M1098 391l6-2-7-1-6 4M934 322l5-9-5 2-5 4M820 270l5-6-4 1-5 7M1199 421l5-6-8 4-5 3M1122 387l5-7-6-2-6 10M729 218l5-7-4-5-5 2M834 250l6-1-5-4-5 9M830 254l5-9-4-1-5 11M789 231l5 0-4-2-5 1M1237 425l5-9-7-6-6 13M1220 411l5-7-8 7-5-2M846 247l6-3-5-2-5 3M1258 405l5-3-8-1-5 3M1228 399l5-5-7-5-5 6M788 213l5-11-4 3-4 9M1255 401l5-2-8 1-5 8M822 217l5-2-4-1-5 4M1181 363l6-10-7-1-6 11M1174 363l6-11-7-1-5 10M1155 350l5-7-6-3-5 8M1219 381l7-20-7 1-7 15M1173 351l5-6-6-3-5 8M1141 340l5-8-6-3-6 19M1134 348l6-19-6-1-5 9M813 212l4-9-3-3-5 12M751 180l5-1-4-1-4 6M817 203l6-1-4-2-5 0M1151 335l5-4-6 0-5 1M851 219l4-9-4-4-4 13M956 249l5-4-5 0-5-5M1112 307l5-5-6 0-5 5M1083 299l5-10-5 2-5 8M839 203l4-13-3 6-5-4M1195 327l4-4-6-4-5 7M1127 304l5-2-6 0-5 2M804 178l4-9-3 1-5 6M801 171l5 2-3-4-5 0M1194 318l6-18-7 3-5 8M990 240l4-16-4 4-5 15M1326 356l5-6-7-5-5 6M1313 346l5-5-8 0-4-2M950 210l4-2-4-8-4 9M933 210l4-11-4-4-4 7M976 218l5-2-4-1-5 1M917 198l4-10-4-2-4 18M938 197l4 2-4-3-4 9M1191 293l5-9-6-1-5 8M995 217l4-5-4-3-5 5M938 196l5 1-4-4-5 5M1310 325l5-7-8 3-4 5M855 160l4-7-3-2-4 6M1243 291l5-10-7-2-4 8M1064 224l4-1-5-2-4 7M1067 218l5-6-5-2-5 11M870 150l4-11-4 2-4 7M1234 267l4-3-5-6-5 6M1238 264l4-3-5-8-4 5M1370 293l3 2-7-3-4 3M1250 262l4-9-5-2-5 5M1078 199l4-11-5 3-4 9M936 154l4-11-4 2-4 5M1016 179l4-14-4 7-4 14M1003 176l4-9-4 0-4 3M1262 251l5-8-6-3-5 14M919 133l4 1-4-5-3 4M1412 288l3 0-7-1-4 2M1161 208l3 2-5-3-4 5M1216 227l4-7-5 5-4 0M1211 225l4 0-5-7-5 7M1111 188l4 1-4-4-4 7M906 130l4-9-3 5-4 4M1398 281l4-3-7-3-4 8M1129 193l4-3-4-3-4 7M1125 194l4-7-5 3-4-1M1308 249l5-9-6-1-5 8M1193 212l4-7-5-1-5 8M1129 187l4 1-5-2-4 4M1399 273l4-3-7 1-4 2M1298 239l5-9-7 1-4 12M1292 243l4-12-5-1-4 1M1439 279l4-5-6-5-5 10M1108 177l4-2-5-7-4 10M1158 194l4-4-5-5-4 5M936 122l4 1-3-1-4-1M1439 273l4-2-7-2-5 8M1227 208l4-4-5-6-5 12M1167 189l4-4-5 3-4 2M940 123l4-7-3 0-4 6M1101 165l4 2-4-4-4 1M991 132l4-2-4-7-3 9M995 128l4-1-4-2-3 5M1317 214l3-2-5-6-4 7M1262 205l4-10-5 0-4 8M963 113l4-8-4-2-3 8M1152 162l4-5-4-6-4 8M1481 248l3-2-5-9-6 15M1128 153l3-10-4 0-3-1M1129 142l3-3-4-3-3 4M1024 112l3-4-3-2-4 2M1165 142l3-4-4 1-4 10M1064 116l3-2-3-2-4 5M1309 183l4-5-5-5-4 7M1212 159l4-9-5 1-3 2M1052 109l3-5-3-8-4 11M1380 195l4-6-6-1-4 7M1374 195l4-7-6 5-3-1M1197 148l3-5-4-5-4 8M1378 188l2 5-5-6-3 6M1325 175l3-2-5-5-4 11M1157 135l3-8-4-1-3 7M1108 118l4-6-4-1-4 7M1221 149l4-7-5-2-3 4M1048 102l3-4-4-2-3 4M1040 98l4-2-4-2-3 5M1033 98l4-10-4 2-3 9M1030 99l3-9-3 0-4 8"/>
<path color="#d71" d="M723 366l7-3-6-9-6 8M580 285l5-13-3 2-6 8M714 347l6-8-4 3-7 5M678 324l8 3-5-7-7 1M1021 516l8-9-8-9-7 9M729 336l6-9-4 1-7 1M740 333l7 0-4-4-8-2M747 333l7-2-4-1-7-1M758 331l7-2-5-2-6 4M750 330l5-10-5-9-5 18M1067 456l6-7-7-1-6-1M1087 456l7-3-8 2-6 0M611 216l7 1-5-8-4 9M642 235l4-17-3 4-5 9M625 208l7 4-4-4-6-3M1068 401l6 1-6-4-6 2M648 203l6 2-3-4-6 2M965 340l6-4-5-2-6-1M1115 388l6-10-7-9-6 14M734 211l6-1-5-7-5 3M824 213l5-6-4-4-5 2M744 177l5 1-4-3-5-4M1036 287l5-2-6-3-5 2M1226 354l5-8-7 1-5 8M1277 366l4 1-6-12-5 8M917 222l4-1-4-9-5 4M1200 319l6-17-6-2-6 18M819 169l5-2-4-3-5 2M1366 321l3 1-7-1-4 3M868 141l4 0-4-5-4 1M1242 261l4 1-6-4-3-5M979 171l4-9-4 0-4 5M1221 234l5-18-6 4-4 7M1210 218l3 2-5-6-4 4M925 120l4 3-4-5-3 2M923 119l3-9-3-1-4 13M1446 273l4-5-7 3-4 2M1455 279l5-9-7-4-3 2M1230 187l4-3-5-3-3 3M1377 218l4-7-6-3-4 7M1039 123l4-11-4-2-4 11M1307 186l3 2-4-8-4 4M1291 170l3-3-5-1-2-3M1112 122l4-6-4-4-4 6M1104 118l4-7-4-1-4 8M1164 131l4-3-4-3-4 2M1037 99l3-5-3-6-4 10"/>
<path color="#b61" d="M716 342l7-4-6-7-6 3M766 341l7-2-5-2-7-2M618 217l6 0-4-5-7-3M1237 370l5-9-7 4-4-7M1019 270l5-3-5-5-5 5M959 205l5 1-5-12-4 4M1076 221l5-10-5-6-4 7M1126 159l4 0-4-12-4 5"/>
<path color="#f81" d="M601 294l6-9-3 2-7 4M720 355l6-7-4 1-6 7M704 337l7-3-5-2-5 10M1014 507l7-9-7 1-7 10M1103 522l7-10-8-3-7 17M1095 526l7-17-8 0-7 12M986 466l7-15-7-1-7 16M1094 509l7-10-8 7-7 8M993 435l6-11-6 5-6 8M885 378l6-3-5 0-7 3M591 223l6-3-4-6-5 8M1071 427l6-5-7-4-6 10M652 220l5-5-3 1-5 5M825 264l5-6-4 0-5 7M1108 383l6-14-6-1-6 15M1227 413l6-13-8 4-5 7M729 188l4-5-3 3-5 2M778 202l5-9-3 5-5 7M1149 348l5-8-6-3-6 13M786 194l5-1-4-3-4 5M1261 382l5-11-8 6-5 5M1158 332l5-2-7 1-5 4M855 210l5-3-4 3-5-4M1185 333l5-9-6-1-6 9M1188 326l5-7-7 5-4 0M1157 313l5-7-6 7-5 0M913 217l4-9-4 3-4 7M1319 351l5-6-8 3-6 12M946 209l4-9-4 2-5 8M990 214l5-5-5 1-4 4M1336 322l5-10-8 9-4 1M1103 232l4-3-5 1-4 6M901 164l5-4-4 2-4 4M1030 206l4-18-4 9-4 8M953 174l5-9-4 3-5 6M1020 177l4-12-4 0-4 14M1414 300l5-8-7-1-4 6M1408 297l4-6-7-3-5 13M1400 301l5-13-7-1-5 9M1016 172l4-6-4 1-5 3M1261 240l4-1-6 2-5 11M1104 197l4-6-5 1-4 3M1419 288l4-5-8 5-3 0M1107 192l4-7-5 0-4 4M1106 185l4-4-5 3-4 3M1302 247l5-8-6-3-5 15M1110 181l4 0-5 0-4 3M1105 184l4-3-4 0-4 2M1109 181l4-4-4 2-4 2M1074 170l4-6-5 4-4 6M921 124l4-4-3 0-4 1M1172 190l3-2-4-3-4 4M1102 168l4-4-5 1-3 6M1378 250l6-12-8 8-4 7M1460 270l4-5-8 5-3-4M988 132l3-9-3 5-4 0M1341 229l5-10-6-1-4 8M1266 195l4-5-6 6-3-1M1122 152l4-5-4 4-4 7M1371 215l4-7-6 1-4 7M1196 138l4-5-5 3-4 8M1195 136l3-5-5 6-3 5M1160 127l4-2-4 0-4 1M1156 126l4-1-5 0-3 4M1100 110l4-6-5 7-3 4"/>
<path color="#e81" d="M1040 455l6-13-7-1-6 9"/>
<path color="#b50" d="M619 248l8 6-5-7-7-5M1091 431l6 0-7-8-6-2M651 201l5-6-4-1-5 1M1280 387l5-4-6-14-5 5M1207 357l6-15-7-1-5 6M1200 340l4 3-6-9-5 1M820 175l5-5-4-1-5-1M1033 184l4-3-4-4-4-2M1398 250l3 0-5-10-3-1"/>
<path color="#c60" d="M591 270l9 8-5-11-8-2M687 316l7-4-5-3-6 3M667 308l7-3-5-6-8-4M724 329l7-1-4 1-7-5M577 236l4-14-3-3-7-1M695 181l5 1-5-12-3 12M709 182l4-10-4-4-5 7M1201 347l5-6-6-1-5 1M1219 355l5-8-6-4-5-1M921 221l5-5-4-5-5 1M1081 211l4 1-5-3-4-4M1024 168l4-5-5-10-4 11M1231 225l4-5-5-6-4 2M1115 189l4-1-4-5-4 2M1119 188l4-6-4-2-4 3M1473 275l3 1-4-15-5 10M1204 139l3-1-4-3-3-2"/>
<path color="#e70" d="M903 464l8-3-7-1-7 1M1078 432l6-11-7 1-6 5M834 270l5-9-5-3-5 7M1191 335l6-9-7-2-5 9M999 231l5-8-5 0-5 2M1415 290l4-2-7 0-3-4M1310 238l4 0-6-5-4 4M1320 212l4-3-5-3-4 0M1164 144l3-1-4-5-4 6M1100 118l4-8-4 0-3 1M1328 173l3-2-5-5-3 2"/>
<path color="#950" d="M616 253l8 8-5-13-8-7"/>
<path color="#a50" d="M508 242l5-4-5-12-6 5M694 312l7 3-5-7-7 1M696 308l7-4-5-3-7-4M1090 423l6-2-7-9-6 0M668 221l5-2-4-7-6 1M673 219l7 2-6-15-5 6M1127 355l5 2-6-11-5-13M1196 349l5-2-6-6-5 2M1008 208l5-2-5 0-4 0M1008 206l4-2-4-4-4-1M1091 194l4 2-5-8-4-7M1028 178l4-4-4-7-4-2M1028 163l4 5-5-9-4-6M1394 257l4-7-5-11-4 5"/>
<path color="#940" d="M1043 209l5-4-5-18-4 0M1048 205l4-1-5-6-4-11"/>
<path color="#b60" d="M910 475l7-5-6-9-8 3M689 309l7-1-5-11-7 4M1000 461l6-1-7-12-6 3M601 227l6-1-5-12-6 2M609 219l7 5-5-8-6-2M662 222l6-1-5-8-5 3M618 201l6-2-4-3-6 0M642 203l5-8-4-6-5 6M906 324l6-8-6-10-6 7M912 316l5-5-5-3-6-2M844 267l5-2-5-7-5 3M844 258l6 4-4-5-6-3M1127 380l6 2-7-8-5 4M1248 408l5 2-8-6-4-1M1122 355l5 0-6-22-5 1M1232 371l5-1-6-12-5 3M1190 343l5-2-6-6-5 3M1195 341l5-1-7-5-4 0M1189 335l4 0-6-5-4-3M1072 288l5-2-6-16-5 10M1004 209l4-1-4-2-5-4M1004 206l4 0-4-7-5 4M1012 204l5 0-5-5-4 1M962 174l4-2-4-6-4-1M1087 199l4-5-5-13-4 7M1117 198l4-2-5-9-4-1M1082 177l4-3-4-10-4 5M1280 200l4-4-5-7-4 5M974 110l4-6-4 0-4-3M1119 119l4-4-4-5-3 6"/>
<path color="#f80" d="M582 274l5-9-2 4-6 7M706 332l6-8-3 4-7 5M679 310l5-9-4-3-5 11M675 309l5-11-3 4-6 7M591 224l5-8-3 0-6 5M653 223l5-7-3 1-5 8M1077 422l6-10-6-3-7 9M1070 418l7-9-7-2-7 11M1063 418l7-11-7 1-6 6M1175 421l5 1-7-2-5 0M829 265l5-7-4 0-5 6M834 258l6-4-4-1-6 5M830 258l6-5-5-2-5 7M826 258l5-7-4 0-5 9M827 251l5-3-4 1-5 4M1235 410l6-7-8-3-6 13M1180 352l5-8-7 1-5 6M1154 340l5-6-6-2-5 5M1148 337l5-5-7 0-5 8M1066 280l5-10-5 6-5 3M917 212l5-1-5-3-4 9M937 199l5-5-4 3-5-2M995 209l4-7-4 3-5 5M995 205l4-2-4 0-5 5M999 203l5-4-5 0-4 4M1072 212l4-7-5 3-4 2M1405 288l4-4-7 2-4 1M1426 290l3-2-6-5-4 5M1019 164l4-11-4 2-4 11M1226 216l4-2-6 3-4 3M1111 185l4-2-5-2-4 4M1115 183l4-3-5 1-4 0M1307 239l3-1-6-1-3-1M1114 181l4-2-5-2-4 4M1304 237l4-4-5-3-5 9M1107 168l4-6-5 2-4 4M1537 225l4-5-7 0-5 9M1200 133l3 2-5-4-3 5"/>
<path color="#d70" d="M724 354l8 2-6-8-6 7M618 288l7-1-5-7-8-2M659 299l8 9-6-13-6 5M717 331l7-2-4-5-8 0M683 312l6-3-5-8-5 9M734 334l6-1-5-6-6 9M761 335l7 2-5-7-7 1M698 301l7 1-4-2-7 0M586 232l5-8-4-3-6 1M1053 451l7-4-7 2-7-7M1072 434l6-2-7-5-6-4M650 227l6-1-3-3-7-5M656 226l6-4-4-6-5 7M1084 421l6 2-7-11-6 10M1056 399l6 1-7-3-6-6M632 196l6-1-4-5-5 3M638 195l5-6-3 1-6 0M1182 424l6 2-8-4-5-1M839 261l5-3-4-4-6 4M1242 416l6-8-7-5-6 7M737 189l5-9-4 2-5 1M787 197l5-3-4 1-5-2M1187 353l5-3-7-6-5 8M1167 350l5-8-6-4-6 5M1014 267l5-5-5-6-5 0M1163 318l5-11-6-1-5 7M1285 347l4 3-7-7-4-3M812 175l4-7-3-1-5 2M816 168l5 1-3-1-5-1M1331 350l4-1-7-7-4 3M999 212l5-3-5-7-4 7M1035 205l4-18-5 1-4 18M1061 199l4-1-5-4-4 1M1029 175l4 2-4-3-5-1M1429 295l4-5-7 0-3-1M1313 240l3-2-6 0-3 1M1119 180l3 3-4-4-4 2M1111 169l4-3-4-4-4 6M1351 223l5-7-7 1-3 2M1200 143l4-4-4-6-4 5M1543 231l3-3-5-8-4 5"/>
<path color="#e80" d="M585 272l6-2-4-5-5 9M653 310l6-11-4 1-5 11M711 334l6-3-5-7-6 8M684 301l7-4-5-4-6 5M999 438l7-9-7-5-6 11M602 214l7 5-4-5-6 0M1065 438l7-4-7-11-6 6M620 212l5-4-3-3-5 6M624 199l5-6-3 1-6 2M831 251l6 3-5-6-5 3M1110 360l6-26-7 3-6 23M782 204l5-7-4-4-5 9M1160 343l6-5-7-4-5 6M1268 385l6-11-8-3-5 11M1226 361l5-3-7 1-5 3M1185 344l5-1-6-5-6 7M1178 345l6-7-7-4-5 8M1172 342l5-8-6-2-5 6M1280 352l5-5-7-7-6 16M1025 182l4-7-5-2-4 11M1419 292l4-3-8 1-3 1M1412 291l3-1-6-6-4 4M1423 289l3 1-7-2-4 2M1078 169l4-5-4 0-4 6M1385 253l4-9-5-6-6 12M944 116l4-1-4 0-3 1M1467 271l5-10-8 4-4 5M1389 244l4-5-5-9-4 8M1275 194l4-5-5 2-4-1M967 105l3-4-3 3-4-1"/>
<path color="#c70" d="M612 299l6-11-6-10-5 7M508 226l8 7-4-6-7-2M755 348l6-13-5-4-7 3M610 253l6 0-5-12-5 10M755 320l7 2-5-13-7 2M612 201l6 0-4-5-5 4M628 203l4-7-3-3-5 6M669 212l5-6-3 4-6-2M647 195l5-1-3-4-6-1M652 194l6 2-3-1-6-5M1121 378l5-4-6-20-6 15M704 175l5-7-3 2-6-2M1192 350l4-1-6-6-5 1M1198 334l5-4-6-4-6 9M921 188l5 6-4-10-5 2M1425 299l4-4-6-6-4 3M1267 243l2 9-4-13-4 1M1115 166l4 3-5-6-3-1M1055 104l4 3-4-8-3-3M1116 116l3-6-4-3-3 5"/>
<path color="#a60" d="M1126 374l5 5-6-21-5-4M700 182l4-7-4-7-5 2"/>
<path color="#f90" d="M606 251l5-10-3 2-5 10M1110 512l7-11-8-4-7 12M1102 509l7-12-8 2-7 10M658 216l5-3-4-4-4 8M629 193l5-3-3 0-5 4M1114 369l6-15-7 8-5 6M1166 338l5-6-7-3-5 5M1159 334l5-5-6 3-5 0M1177 334l6-7-7 0-5 5M1171 332l5-5-7 0-5 2M1082 188l4-7-4 6-5 4M1384 238l4-8-9 14-3 2M1108 111l3-9-3 0-4 8M1104 110l4-8-4 2-4 6"/>
<path color="#d80" d="M502 231l6-5-3-1-5 5M611 241l8 7-4-6-7 1M1083 412l6 0-7-5-5 2M663 213l6-1-4-4-6 1M900 313l6-7-5-1-6 2M1184 338l5-3-6-8-6 7M1112 112l3-5-4-5-3 9"/>
<path color="#e90" d="M596 216l6-2-3 0-6 2M1116 334l5-1-6-3-6 7"/>
<path color="#d90" d="M1039 187l4 0-4-3-5 4"/>
</g>
<g stroke="#464646" stroke-width="2.8" fill="none" stroke-linecap="butt" filter="url(#bl)">
<path d="M440.7 132.0H461.2L512.6 349.9" stroke-linejoin="round"/>
<path d="M470.3 247.4H489.2"/>
<path d="M513.6 349.5L498.6 354.9"/>
<path d="M512.6 349.9L1035.8 720.7L1533.8 339.2"/>
<path d="M1527.8 343.8L1543.5 348.8"/>
<path d="M1035.8 720.7L1016.0 735.9"/><path d="M1035.8 720.7L1057.8 736.3"/>
<path d="M1544.5 228.5L1550.3 237" stroke-width="1.8" stroke="#6a6a6a"/><path d="M888.0 617.2L870.1 629.4"/><path d="M768.7 531.9L750.7 541.3"/><path d="M670.9 461.5L652.0 469.8"/><path d="M586.1 402.0L569.2 409.6"/><path d="M1176.9 613.4L1195.8 626.6"/><path d="M1289.7 528.2L1308.5 537.6"/><path d="M1383.8 454.7L1400.7 464.2"/><path d="M1461.0 394.5L1478.0 402.0"/>
</g>
<g class="ax" filter="url(#bl)">
<g clip-path="url(#cliptop)">
<text class="ax" x="358.2" y="141.4" font-size="27.8" textLength="69.0" lengthAdjust="spacingAndGlyphs">5 nm</text>
<text class="ax" x="413.9" y="256.5" font-size="24.0" textLength="19.4" lengthAdjust="spacingAndGlyphs">0</text>
<text class="ax" x="480.0" y="339.3" font-size="22.8" textLength="14.9" lengthAdjust="spacingAndGlyphs" transform="rotate(-8 487.4 331.0)">0</text>
<text class="ax" x="441.7" y="352.7" font-size="24.3" textLength="23.0" lengthAdjust="spacingAndGlyphs" transform="rotate(-12 452.8 344.0)">-5</text>
<text class="ax" x="408.6" y="382.3" font-size="26.4" textLength="96.7" lengthAdjust="spacingAndGlyphs">500 nm</text>
<text class="ax" x="499.5" y="436.1" font-size="24.0" textLength="51.4" lengthAdjust="spacingAndGlyphs">400</text>
<text class="ax" x="577.7" y="502.0" font-size="29.0" textLength="56.1" lengthAdjust="spacingAndGlyphs">300</text>
<text class="ax" x="671.6" y="581.0" font-size="31.5" textLength="62.2" lengthAdjust="spacingAndGlyphs">200</text>
<text class="ax" x="787.4" y="673.0" font-size="36.4" textLength="69.6" lengthAdjust="spacingAndGlyphs">100</text>
<text class="ax" x="951.0" y="791.6" font-size="44.9" textLength="30.1" lengthAdjust="spacingAndGlyphs">0</text>
<text class="ax" x="1098.5" y="789.9" font-size="44.9" textLength="28.9" lengthAdjust="spacingAndGlyphs">0</text>
<text class="ax" x="1218.6" y="667.4" font-size="33.9" textLength="67.5" lengthAdjust="spacingAndGlyphs">100</text>
<text class="ax" x="1330.0" y="573.4" font-size="31.4" textLength="62.1" lengthAdjust="spacingAndGlyphs">200</text>
<text class="ax" x="1424.4" y="494.5" font-size="29.0" textLength="54.1" lengthAdjust="spacingAndGlyphs">300</text>
<text class="ax" x="1502.4" y="428.6" font-size="26.5" textLength="49.3" lengthAdjust="spacingAndGlyphs">400</text>
<text class="ax" x="1544.1" y="374.1" font-size="25.3" textLength="95.5" lengthAdjust="spacingAndGlyphs">500 nm</text>
<text class="ax" x="1544.3" y="331.8" font-size="21.5" textLength="16.9" lengthAdjust="spacingAndGlyphs">0</text>
</g>
</g>
</g>
<g id="plot-bot">
<g stroke="#464646" stroke-width="2.8" fill="none" stroke-linecap="butt" filter="url(#bl)">
<path d="M543.4 1139.8L1059.8 972.6L1563.1 1147.5"/>
</g>
<g id="surf-bot" filter="url(#bs)" stroke-width="1.2" stroke-linejoin="round" fill="currentColor" stroke="currentColor">
<path color="#925" d="M1285 1124l5-5-6-6-5 10"/>
<path color="#b26" d="M1287 1124l5-4-7 4-4 4"/>
<path color="#a25" d="M1184 1293l6-7-7 2-6 8M929 1118l6-4-5-1-5 8M1292 1120l4 2-6-3-5 5"/>
<path color="#924" d="M1160 1312l6-4-7-4-6 13M1171 1292l6 4-7-8-6 1M1177 1296l6-8-7-6-6 6M1170 1288l6-6-7-5-6 7M1168 1274l6-15-7 7-5 0M930 1130l6 6-5-8-6 5M1195 1280l6-7-7 1-6 3M1167 1266l7-17-7 5-6 6M930 1113l6 1-4-1-6-3M936 1114l5-7-4 0-5 6M1016 1137l5-4-5 1-6-4M957 1107l6-5-5-3-5 11M953 1110l5-11-5-6-5 5M794 970l4-2-2 1-5 1M1248 1177l5-8-6 1-5 9M1342 1204l4 3-6-13-4 2M1233 1137l5-2-6-4-5 12M1144 1094l5-1-5-6-5 5M1289 1130l4-4-6-2-4 2M1265 1116l5 0-6-7-5 7M1279 1123l5-10-6-3-4 6M1274 1116l4-6-5-6-4 2M1296 1122l5-10-6 1-5 6M1329 1124l4-7-6-1-4 1"/>
<path color="#a35" d="M1165 1290l6 2-7-3-6-2M1209 1287l6-8-7-3-6 5M1215 1279l6-2-8-2-5 1M1021 1133l6-4-6-3-5 8M1220 1173l5-7-7 3-5 7M1212 1166l5-6-6 1-5-1M1298 1197l6-11-7 2-5 3M1232 1131l5-5-6 3-5-3"/>
<path color="#a24" d="M1135 1251l6-9-6 4-6 2M925 1133l6-5-4-1-6 5M1201 1273l6-9-7 0-6 10M799 1051l6 0-5-5-5 5M844 1059l6-6-4-3-6 3M1158 1129l5-3-5-1-5 1M1227 1160l5-14-6 1-5 11M1241 1123l5 1-6-4-5 2M1290 1119l5-6-6-6-5 6"/>
<path color="#722" d="M1126 1300l6 3-7-7-6-5M1151 1290l6-2-7-12-6 7M1015 1198l7-3-6-15-6 11M1162 1276l6-2-6-8-6 3M935 1144l6-4-5-4-6-6M1062 1198l6-4-6-1-6-9M939 1100l6-4-5-3-5 5M812 1019l5-5-5-16-4 13M1288 1236l5-1-6-9-5-6M995 1097l5-2-5-6-5 5M990 1094l5-5-5-6-5 4M1300 1240l5-5-6-15-6 15M870 1030l4-6-4-9-5 6M899 1032l5-1-4-7-5 3M1069 1101l6-3-5-1-5 6M1222 1161l5-1-6-2-5 7M1216 1165l5-7-5-16-5 3M1358 1208l5-4-6-13-6 11M1222 1138l5 5-5-14-5 0M1372 1198l5-11-6-11-6 13M1268 1144l4 1-5-8-5 3M1381 1192l5-13-7-2-4 0M1354 1153l4 5-6-6-4 2M1348 1154l4-2-6-6-5 7M1275 1123l4 0-5-7-4 0M1325 1124l4 0-6-7-4-1M1333 1111l4-3-5-10-4 7M1046 989l5-1-4 1-5-7M1294 1072l5-6-6 0-4-2M1485 1118l4-5-6-9-4 6"/>
<path color="#d36" d="M1293 1126l5-9-6 3-5 4"/>
<path color="#823" d="M1153 1317l6-13-7-9-6 7M1145 1285l6 5-7-7-6 0M1164 1289l6-1-7-4-6 4M1157 1288l6-4-7-11-6 3M1104 1247l6-7-6-9-6 8M915 1132l6 0-5-4-6-1M921 1132l6-5-6-9-5 10M793 1056l6-5-4 0-5 4M918 1116l7 5-5-9-6 7M925 1121l5-8-4-3-6 2M827 1056l6 4-4-3-6-3M839 1060l5-1-4-6-6-2M1157 1215l5-2-6-11-5 3M855 1055l6-3-4-3-7-8M1053 1136l5-1-5-9-6 9M873 1025l5 2-4-3-4 6M843 1014l6 1-4-6-5 2M979 1064l5 2-4-8-6 0M1271 1194l5 1-7-6-5-1M1207 1170l5-4-6-6-5-1M1206 1160l5 1-5-12-6 14M1300 1201l5-1-7-3-5 5M1242 1179l5-9-6-6-5 4M1328 1199l6-12-7-1-5 9M1295 1179l5-5-6-4-5 6M939 1016l5 0-5-7-4 7M1120 1097l5-6-6-3-4 3M877 988l4-2-4-9-4 3M1227 1143l5-12-6-5-4 3M1199 1120l4-5-5-4-5-3M1262 1140l5-3-6-7-5 6M1226 1126l5 3-6-8-4 1M1231 1129l4-7-5-9-5 8M1200 1096l5-7-6 1-5 3M1315 1145l5-9-6 0-5 1M1172 1083l5-5-5-4-5 9M1365 1161l5-10-6-8-6 15M1281 1128l4-4-6-1-4 0M1270 1116l4 0-5-10-5 3M1263 1106l4-2-6-7-4 9M1329 1109l4 2-5-6-4-4M1223 1065l4-2-5-4-4 0M1340 1109l4 0-7-1-4 3M1196 1048l4 1-5-3-4 1M1302 1092l5-9-6 4-4 2M1200 1049l4 1-5-2-4-2M1411 1130l3-3-5-7-5 9"/>
<path color="#b35" d="M1183 1288l6-11-7-2-6 7M1169 1277l6-11-7 8-6 2M1202 1281l6-5-7-3-6 7M1148 1243l6 6-7-10-6 3M1208 1276l5-1-6-11-6 9M1160 1247l6-9-7 2-5 9M805 1051l4-12-3 5-6 2M941 1107l6-3-5-6-5 9M949 1097l5-9-4-2-5 10M866 1048l5-11-4 5-4 10M1261 1181l5-6-7 3-4-2M1255 1176l4 2-6-9-5 8M1176 1139l5-2-6 2-5-1M1181 1137l5-5-6-3-5 10M1234 1139l5-8-6 6-5 0M1237 1126l4-3-6-1-4 7M1252 1122l4-2-5-4-5 8M1246 1124l5-8-6-3-5 7M1256 1120l5 0-6-5-4 1M1178 1080l4-4-5 2-5 5M1295 1128l5-7-7 5-4 4M1284 1113l5-6-6-4-5 7M1278 1110l5-7-6 2-4-1M1335 1129l5-14-7 2-4 7"/>
<path color="#923" d="M1126 1309l7-2-7-7-7 3M1163 1284l6-7-7-1-6-3M1129 1251l6 0-6-3-6-1M1123 1247l6 1-7-8-6-2M1161 1260l6-6-7-7-6-2M927 1127l6 0-6-9-6 0M933 1127l5-7-5-3-6 1M914 1119l6-7-5-10-6 6M795 1051l5-5-3-2-6 0M1068 1194l5-11-5-4-6 14M1024 1160l6-11-5-1-6 5M947 1104l6 6-5-12-6 0M1016 1134l5-8-5-4-5 6M945 1096l5-10-5-4-5 11M852 1043l6 2-4-6-6 1M863 1052l4-10-4-2-5 5M1058 1138l5-2-5-1-5 1M989 1095l6 2-5-3-6-2M841 1014l6 1-4-1-5 0M909 1042l5-6-3 4-6-6M1145 1155l5-10-6-1-5 9M884 1031l4-12-4 0-5 2M1122 1129l5 1-6-12-5 5M1127 1130l5-4-5-3-6-5M1237 1171l5 8-6-11-5-1M1287 1191l5 0-6-8-5 6M1170 1138l5 1-5-8-5 2M1292 1191l5-3-6-9-5 4M1259 1178l5 0-6-12-5 3M1153 1126l5-1-6-7-5 11M1147 1129l5-11-5-6-5 6M1297 1188l5-4-7-5-4 0M1222 1129l4-3-5-4-5 5M1149 1093l5-8-5 4-5-2M1283 1140l5 0-6-8-5 13M1201 1099l4 1-5-4-5-3M1311 1139l4 6-6-8-4 1M989 1006l5-5-4-4-5 8M1243 1112l5-1-6-6-4 3M1327 1116l4-1-6-4-4 2M1173 1053l4-3-5-1-4-3M1344 1109l4-7-6-6-5 12M1308 1095l4-2-5-10-5 9M1421 1127l4 3-6-9-5 6M1271 1071l5-8-6-1-4 9M1223 1048l4-8-5 4-4 2M1247 1057l5-6-5-4-5 7"/>
<path color="#d35" d="M1190 1286l6-10-7 1-6 11M1216 1280l6-3-7 2-6 8M940 1108l6-3-5 2-5 7"/>
<path color="#934" d="M1123 1251l6 0-6-4-6 4M941 1140l5-19-4 6-6 9M1154 1249l5-9-6-7-6 6M937 1107l5-9-4-3-6 5M850 1053l5 2-5-14-4 9M1178 1154l5-7-6-2-5 2M1200 1163l6-14-6 0-6 5M1138 1076l5 0-5-4-5 3M1173 998l4-4-5 0-4 7"/>
<path color="#c35" d="M1139 1300l6-13-6-1-7 17M1176 1282l6-7-7-9-6 11M1175 1266l6-4-7-3-6 15M1142 1251l6-8-7-1-6 9M933 1117l6-10-4 7-6 4M944 1106l7 6-5-7-6 3M884 1074l5-6-4 0-5 8M848 1056l5-1-3-2-6 6M948 1098l5-5-4 4-6-2M958 1099l5-4-4-3-6 1M953 1093l6-1-5-4-5 9M864 1052l6-6-4 2-5 4M1027 1129l5-5-5-6-6 8M1021 1126l6-8-5 2-6 2M850 1016l5-4-3-1-5 4M887 1021l5-4-4 2-4 12M1256 1178l5 3-6-5-5 0M1218 1169l6-12-7 3-5 6M1183 1147l5-3-6-6-5 7M1177 1145l5-7-6 1-5 2M1268 1176l4 5-6-6-5 6M1154 1127l4 2-5-3-5 0M1305 1200l6-16-7 2-6 11M1199 1144l5-7-6-2-5 9M1187 1136l5 1-6-5-5 5M1202 1129l5-4-6 0-5 5M1238 1135l5-5-6-4-5 5M1208 1109l5-2-6-4-5 9M1251 1116l4-1-5-8-5 6M1267 1117l4-2-6 1-4 4M1295 1113l4-10-6 1-4 3M1283 1103l4-2-6 2-4 2M1342 1125l4-10-6 0-5 14M1333 1117l5-6-7 4-4 1M1207 1057l4-3-5-3-4 4M1317 1086l4-8-6 8-4 1"/>
<path color="#a34" d="M1133 1307l6-7-7 3-6-3M1117 1264l7-17-7 5-6 15M1111 1267l6-15-6-3-7 10M1104 1259l7-10-7-2-6-3M917 1145l5-9-5-4-5 6M912 1138l5-6-4 0-6 1M1117 1251l6-4-7-9-6 2M1204 1291l6-6-7-5-5-2M1116 1238l6 2-6-3-6 3M1182 1275l6 2-7-15-6 4M974 1154l6-2-5 1-6-1M916 1128l5-10-4-2-6 5M911 1121l6-5-4 3-7-5M1141 1242l6-3-6-3-6 10M936 1136l6-9-5-7-6 8M804 1057l5-7-3-1-6 3M1068 1200l5-14-5 8-6 4M1221 1277l6-11-7-4-7 13M1159 1240l6-1-6-11-6 5M835 1064l6-1-5-8-5 4M1079 1187l6-1-6-10-6 7M1013 1149l6 4-5-11-6 9M844 1063l6-4-4 2-5 2M841 1063l5-2-4-3-6-3M795 1035l5-5-3 1-5 5M1190 1235l5-2-6-8-6 7M1183 1232l6-7-7-3-5 7M880 1076l5-8-3 1-6 2M876 1071l6-2-5-6-5 4M1216 1242l6-10-7 1-6 5M842 1047l5-3-4 0-5 1M1162 1213l6-7-6-7-6 3M1016 1122l6-2-5-3-6 3M977 1101l6-3-5 0-5-3M858 1045l5-5-4-5-5 4M1185 1201l6-8-7 2-5 6M1047 1135l6-9-5 1-6 0M903 1058l6-1-4 0-6 0M859 1035l5-3-3-1-5 9M953 1077l5-7-4 0-6 3M949 1068l5-8-4 1-5 2M879 1032l5-5-4 2-5 1M871 1029l5-3-3-1-6-1M845 1015l5 1-3-1-6-1M827 1003l5 1-3-1-6-2M861 1018l5-2-3 0-5 3M854 1016l5 1-4-5-5 4M832 1004l5-1-3-2-5 2M911 1040l5-8-5-4-5 4M1221 1175l5-3-6 1-5-4M1150 1145l5-8-6-2-5-2M984 1066l5-13-5-2-4 7M1245 1183l5-7-6-2-5 1M1184 1150l5-3-6 0-5 7M1149 1135l5-5-6 3-5-2M1283 1191l4 0-6-2-5 6M1194 1154l6-5-7 1-4-3M1189 1147l4 3-5-6-5 3M1171 1141l5-2-6-1-5 0M1132 1126l5-7-5-4-5 8M1127 1123l5-8-6-3-5 3M1193 1150l6-6-6 0-5 0M1188 1144l5 0-6-8-5 2M1137 1119l5-1-5-4-5 1M886 1004l4-11-3 6-5 0M875 996l4-1-3-3-5 8M871 1000l5-8-4-1-5 2M1164 1129l5-2-6-1-5 3M1121 1107l5-3-6 1-5-2M1110 1099l5 1-5-5-5 1M1338 1202l4 2-6-8-5 5M1331 1201l5-5-8 3-4-3M1271 1171l5-3-7 0-5 10M1152 1118l5-7-5-2-5 3M1051 1076l4-13-4-2-5 11M1046 1072l5-11-5 4-5-3M927 1009l5-4-4 3-5 0M923 1008l5 0-4-8-5 3M912 1007l4-9-3 3-5 1M1125 1091l4-9-5 5-5 1M874 978l5-2-4-5-5 6M1140 1093l4 1-5-2-4 2M1114 1082l5-3-5-1-5 2M1204 1123l5-15-6 7-4 5M1139 1092l5-5-5-4-5 5M1134 1088l5-5-5-3-5 7M1286 1155l5-10-6-6-4 5M1203 1115l5-6-6 3-4-1M1267 1137l4-7-5-4-5 4M1202 1112l5-9-5-2-5 4M1149 1089l5-9-6-3-4 1M1133 1081l5-5-5-1-5 3M1075 1051l5-3-5 0-5 2M1288 1140l5-11-6-2-5 5M1218 1105l4-1-6-3-4 1M1228 1106l4-1-5-7-5 6M1211 1094l4 4-5-6-5 8M1205 1100l5-8-5-3-5 7M1322 1141l5-5-7 0-5 9M1261 1120l4-4-6 0-4-1M1205 1089l4-6-6 7-4 0M1259 1116l5-7-5-9-5 8M1248 1111l5-8-6-1-5 3M1177 1078l5-2-6-5-4 3M1264 1109l5-3-6 0-4-6M1182 1076l4-5-5-1-5 1M1269 1106l4-2-6 0-4 2M1186 1071l5-4-6 4-4-1M1273 1104l4 1-6-3-4 2M1191 1067l4-4-5-1-5 9M1281 1103l5-7-6-4-4 2M1177 1050l5-4-5 0-5 3M1201 1054l4-5-5 0-4-1M1314 1093l4-3-6 3-4 2M1204 1050l5-8-5 1-5 5M1315 1086l4-10-5-6-5 10M1305 1063l3 4-5-8-4 7M1256 1045l4 1-5-3-4 2M1186 1021l4-1-5-8-4 11M1376 1085l4-4-6 0-4 5"/>
<path color="#822" d="M664 1154l4-19-4-8-6 14M823 1181l8 3-5-6-7 3M1028 1262l7-2-7-11-6 1M1162 1327l6-3-7-4-7 5M1119 1303l7-3-7-9-7 0M1147 1316l6 1-7-15-6 1M876 1149l6-2-5-14-6 8M1079 1248l6 1-6-12-6 1M1025 1211l7-5-6-12-6 6M910 1142l7 3-5-7-7 1M1098 1245l6 2-6-8-6-1M1009 1196l6 2-5-7-6-1M1156 1273l6 3-6-7-6-9M1156 1269l6-3-7-16-6-5M1110 1240l6-3-6-6-6 0M1027 1191l6-1-6-4-5 9M1022 1195l5-9-6-15-5 9M929 1144l6 0-5-14-6-1M910 1127l6 1-5-7-6-5M1162 1266l5 0-6-6-6-10M1129 1248l6-2-7-13-6 7M969 1152l6 1-5-7-6 2M783 1047l7 8-5-12-5 6M1188 1277l6-3-7-12-6 0M1135 1246l6-10-7-15-6 12M1056 1192l6 6-6-14-6-6M908 1118l6 1-5-11-6 0M835 1069l6 2-5-7-5 1M790 1055l5-4-4-7-6-1M746 1024l6-2-4-4-6-1M1194 1274l6-10-7-7-6 5M1019 1157l5 3-5-7-6-4M926 1110l6 3-6-16-6-1M833 1060l6 0-5-9-5 6M792 1036l5-5-4-4-6 2M1246 1274l6 0-7-12-6 4M1152 1222l5 2-6-11-6-1M1046 1163l6 3-6-8-6-5M932 1113l5-6-5-7-6-3M913 1092l6 2-5-8-6 1M1252 1274l6-8-7-12-6 8M919 1094l5-2-4-8-6 2M1010 1137l6 0-6-7-5-1M929 1090l6 8-6-18-5 12M1063 1157l5 2-5-8-6-4M1010 1130l6 4-5-6-6-8M935 1098l5-5-5-17-6 4M1068 1159l6-6-6-5-5 3M857 1049l6 3-5-7-6-2M850 1036l6 4-5-15-6 1M806 1013l6 6-4-8-5 1M803 1012l5-1-4-5-5 2M1179 1201l5-6-6-9-5 8M1107 1164l6-5-6-8-5-1M899 1057l6 0-5-4-5-2M856 1040l5-9-5-7-5 1M1012 1107l6 7-5-15-6 2M947 1076l6 1-5-4-6-6M888 1050l6-5-5-10-5 10M1074 1133l5 2-5-15-5 14M984 1092l6 2-5-7-5 1M948 1073l6-3-5-2-5 2M944 1070l5-2-4-5-6-2M1018 1103l6 3-5-8-5 4M1014 1102l5-4-5-6-5 8M863 1019l7 11-5-9-6-5M838 1014l5 0-3-3-6 3M834 1014l6-3-5-10-4 10M995 1089l5-9-5-7-5 10M878 1027l6 4-5-10-5 3M1139 1153l5-9-5-12-5 8M866 1011l5-1-4-3-5 0M989 1072l5-7-5-12-5 13M1213 1176l5-7-6-3-5 4M1095 1108l5-6-5-3-5-1M859 996l5-2-4-8-5 7M1293 1202l5-5-6-6-5 0M1211 1161l5 4-5-20-5 4M1142 1129l5 0-5-11-5 1M1040 1068l6 7-5-8-5-4M1013 1060l5 4-5-5-5-2M1018 1064l5-11-5-2-5 8M862 988l5 2-4-3-5-6M1264 1178l5-10-6-10-5 8M911 1013l5-4-4-2-5 4M907 1011l5-4-4-5-5-2M1346 1207l5-5-5-18-6 10M1125 1103l5-2-5-10-5 6M1070 1062l5 11-5-13-5-6M1156 1099l4-2-5-1-5 0M1282 1155l4 0-5-11-4-6M1193 1108l5 3-5-9-5 8M1198 1111l4 1-5-7-4-3M939 994l5 3-4-11-5 6M1377 1187l4 5-6-15-4-1M1272 1145l5 0-6-15-4 7M1128 1078l5-3-5-5-5-6M948 992l5 4-5-5-4 6M1315 1150l4 0-6-4-4 2M1133 1075l5-3-5-9-5 7M976 1003l5 3-5-9-4 4M1143 1076l4 0-5-11-4 7M981 1006l4-1-4-12-5 4M1194 1093l5-3-5-10-5 5M1147 1076l5-7-5-7-5 3M943 983l4-3-3 0-5 0M1395 1171l4 1-7-5-4 0M1199 1090l4 0-5-4-4-6M1167 1083l5-9-5-9-5 11M1399 1172l4-6-6-7-5 8M1093 1035l5 7-5-11-4 3M1267 1104l4-2-5-7-5 2M1416 1159l4-2-7-4-4 4M1400 1147l4-2-7-2-4 2M1215 1069l4 5-5-9-4 5M1107 1025l4 3-5-4-4-3M1321 1113l4-2-5-7-4-1M1172 1049l5-3-5-7-4 1M1412 1142l4-5-6-4-5 4M1293 1084l4 5-6-7-4 0M1042 982l5 7-5-10-4-1M1297 1089l4-2-5-13-5 8M1195 1046l4 2-4-9-5 2M1444 1139l4-2-6-6-4 1M1199 1048l5-5-5-9-4 5M1311 1087l4-1-6-6-4 5M1282 1077l5-4-6-2-4-2M1266 1071l4-9-5-7-4 4M1238 1054l4 0-5-7-4 0M1218 1046l4-2-5-9-4 3M1169 1026l4-4-5-2-4-2M1289 1064l4 2-5-13-4 0M1088 979l4 1-4-7-4 6M1366 1085l4 1-6-6-3-2M1216 1016l4 0-5-5-4 0M1164 1000l4 1-4-5-4-6M1391 1080l4-5-6-6-4 2M1168 1001l4-7-4-5-4 7M1107 949l4-1-4-2-4 2M1142 952l4-5-4 0-4 3M1138 950l4-3-4-7-4 4M1186 948l4-6-4-7-4 6"/>
<path color="#833" d="M1120 1312l6-3-7-6-6-2M874 1024l5-3-4-4-5-2"/>
<path color="#721" d="M876 1226l7-9-5 2-7 0M836 1148l7 4-6-20-6 9M1119 1291l6 5-6-16-7-1M1019 1212l6-1-5-11-7 8M874 1129l5-9-5-12-5 14M1273 1215l4 6-6-10-5-6M1245 1213l6-10-7-3-5 1M1305 1235l5-2-5-23-6 10M1224 1194l6-2-7-8-5 5M1140 1155l5 0-6-2-5-1M1134 1152l5 1-5-13-6-2M1310 1233l5-2-5-22-5 1M1315 1231l5-2-5-23-5 3M984 1071l5 1-5-6-5-2M1320 1229l6-12-7-10-4-1M1059 1099l6 4-6-8-5-1M1065 1103l5-6-6-13-5 11M1046 1075l5 1-5-4-5-5M1348 1219l5-1-7-11-4-3M1353 1218l5-10-7-6-5 5M985 1023l5 5-5-11-4 6M1363 1204l4 1-6-13-4-1M1367 1205l5-7-7-9-4 3M1013 1019l5 3-5-4-4 0M1019 1006l5-4-5-6-4 10M1262 1070l4 1-5-12-4 0M1249 1022l4 2-4-14-5 9M1096 959l4 1-4-5-4 1M1214 976l4 0-4-14-4 4M1504 1073l4-5-6-4-3 2M1183 945l3 3-4-7-3-6M1174 933l3-2-4-4-3 1"/>
<path color="#c45" d="M957 1077l5-7-4 0-5 7M1232 1172l5-1-6-4-5 5M798 968l4-11-2 2-4 10M1235 1164l5-12-7 2-4 3M1204 1146l5-1-5-8-5 7M870 989l4-10-3 5-4 6M1254 1108l5-8-6 3-5 8M1206 1051l4-1-5-1-4 5"/>
<path color="#c34" d="M1161 1320l6-10-7 2-6-1M1073 1186l6 1-6-4-5 11M808 1046l5 0-4-7-4 12M951 1112l5-8-5-4-5 5M882 1069l5-5-5-5-5 4M846 1050l4-9-3 3-5 3M956 1078l5-1-4 0-5 3M913 1060l5-5-4-6-5 8M1227 1174l5-2-6 0-5 3M1231 1167l5 1-6-9-5 7M1230 1159l5 5-6-7-5 0M1313 1196l4-4-6-8-6 16M1105 1089l4-5-5 1-5 8M916 1009l4-14-4 3-4 9M1212 1128l5 1-6-6-4 2M1207 1125l4-2-6 0-4 2M1155 1092l4-12-5 5-5 8M1213 1107l5-2-6-3-5 1M858 953l4-12-3 3-4 9M1287 1073l4-10-5-3-5 11"/>
<path color="#d45" d="M1167 1310l7-9-8 7-6 4M932 1144l6-5-5-1-6 5M1222 1277l6-10-7 10-6 2M1167 1254l6-14-7-2-6 9M1073 1193l6-2-6-5-5 14M1228 1267l6 0-7-1-6 11M846 1061l5-11-3 6-6 2M946 1105l5-5-4 4-6 3M885 1068l6-5-4 1-5 5M967 1098l6-3-5-2-5 9M963 1102l5-9-5 2-5 4M868 1051l5-7-3 2-6 6M870 1046l5-5-4-4-5 11M863 1040l5-7-4-1-5 3M909 1057l5-8-4 2-5 6M961 1077l6-4-5-3-5 7M852 1011l4-9-3 3-4 10M1151 1144l5-4-6 5-5 10M1226 1172l5-5-6-1-5 7M1225 1166l5-7-6-2-6 12M1315 1198l4 1-6-3-5 1M1200 1149l4-3-5-2-6 6M1182 1138l5-2-6 1-5 2M1272 1181l6-8-7-2-5 4M1278 1173l4-2-6-3-5 3M1233 1154l6-9-7 1-5 14M1198 1135l5-2-6-1-5 5M1232 1146l5-7-6 3-5 5M1208 1136l5-3-5-4-5 4M1203 1133l5-4-6 0-5 3M1208 1129l4-1-5-3-5 4M932 1005l4-4-3 1-5 6M1241 1135l4-3-6-1-5 8M1285 1139l5-3-7 4-4 3M1255 1128l4-4-6-2-4 7M1249 1129l4-7-5-4-5 12M1243 1130l5-12-7 5-4 3M1139 1077l4-2-5 1-5 5M1153 1075l5-2-6-2-4 6M1300 1121l4-5-6 1-5 9M1187 1074l5-10-6 7-4 5M1301 1112l5-11-7 2-4 10M1289 1107l4-3-6-3-4 2M1293 1104l5-8-6-3-5 8M1287 1101l5-8-6 3-5 7M1340 1115l4-1-6-3-5 6M1338 1111l5-8-7 2-5 10M1183 1048l4-3-5 1-5 4M1211 1054l5-1-6-3-4 1M1210 1050l5-1-5-2-5 2M1318 1090l5-6-6 2-5 7M1210 1047l4-6-5 1-5 8M1323 1084l4 0-6-6-4 8"/>
<path color="#b34" d="M1140 1303l6-1-7-2-6 7M1146 1302l6-7-7-8-6 13M1159 1304l7-13-7 0-7 4M1139 1286l6-1-7-2-6-2M1159 1291l6-1-7-3-6-6M946 1153l5-6-4 4-6 9M926 1146l6-2-5-1-6 1M999 1183l5-15-5 3-6 6M913 1132l6-3-4 3-7-6M1212 1297l6-13-8 1-6 6M776 1043l5-1-3-4-6 3M1181 1262l6 0-6-17-7 14M1067 1201l6-8-5 7-6-6M807 1055l6 0-4-5-5 7M781 1042l6-3-4-3-5 2M927 1118l6-1-4 1-7-8M1079 1191l6 1-6-5-6-1M967 1129l6 1-6-6-5 5M1234 1267l5-1-7-1-5 1M1172 1239l6-9-7 2-6 7M1178 1230l5 2-6-3-6 3M1019 1153l6-5-6-10-5 4M917 1095l6-5-4 4-6-2M1203 1238l6 0-7-5-5 0M1197 1233l5 0-7 0-5 2M1170 1219l6 1-6-6-6 1M1014 1143l6-5-5-2-6 2M942 1098l6 0-5-3-5 0M877 1063l5-4-3 0-6 6M847 1044l5-1-4-3-5 4M1168 1206l5-6-6-3-5 2M1037 1130l5-3-5-1-5 2M1032 1128l5-2-5-2-5 5M963 1095l6 0-5-6-5 3M959 1092l5-3-5-9-5 8M1063 1143l6-12-6 5-5 2M1012 1111l5-4-5 0-5 3M973 1089l6-1-5 0-5 7M907 1059l6 1-4-3-6 1M1085 1141l5-3-5 0-6 4M917 1058l5-3-4 0-5 5M905 1057l5-6-4-1-6 3M1085 1138l5-6-5 3-6 0M926 1059l6-2-5-6-5 4M910 1051l5 1-4-2-5 0M923 1055l6-3-4 3-6-4M1028 1099l6-5-5 0-5 12M929 1052l5-5-5-5-4 13M908 1043l5-7-4 6-5-3M859 1017l5-6-4-3-5 4M849 1015l4-10-4-2-4 6M845 1009l4-6-3-2-5 1M837 1003l5-5-3 4-5-1M914 1036l5-6-3 2-5 8M906 1032l5-4-3 3-6 0M854 1001l6 1-4-2-5-3M851 997l5 3-4-4-5 4M1293 1206l5-6-7-1-5 3M1234 1177l5-2-7-3-5 2M1155 1143l5-7-5 1-5 8M1291 1199l5-2-7-4-4 2M1258 1186l5-9-7 1-5 5M1251 1183l5-5-6-2-5 7M1239 1175l5-1-7-3-5 1M1160 1136l5 2-5-4-5 3M998 1060l5-3-5-2-4 10M826 980l5-2-3 0-6-2M1160 1134l5-1-6-8-5 5M1148 1133l6-6-6-1-5-3M985 1054l5-10-4 1-5 7M1281 1189l5-6-7-6-4 3M1132 1115l5-1-6-4-5 2M1121 1109l5 0-5-2-5 0M1110 1105l5-2-5-4-5 4M986 1045l5-3-4 1-5 4M908 1015l5-7-4-3-5 3M1327 1199l4 2-7-5-5 3M1319 1199l5-3-7-4-4 4M1286 1183l5-4-7-1-5-1M1279 1177l5 1-6-5-6 8M1247 1170l6-18-7-3-5 15M1211 1145l5-3-7 3-5 1M1193 1144l5-9-6 2-5-1M1175 1139l5-10-5-2-5 4M1170 1131l5-4-6 0-5 2M887 999l5-4-4 0-5 3M872 991l5 1-3-3-6-2M1304 1186l5-3-7 1-5 4M1284 1178l5-2-7-5-4 2M1192 1137l5-5-6-6-5 6M1169 1127l5-15-5 2-6 12M1120 1105l5-9-5 0-5 4M1110 1095l5-3-5-5-5 6M1336 1196l4-2-6-7-6 12M1226 1147l5-5-6-5-5 2M1197 1132l5-3-6 1-5-4M931 1012l4-5-3-2-5 4M1099 1081l5-1-5-2-5-1M947 1012l5-5-4 1-4 8M1201 1125l4-2-5-6-5 2M1119 1088l5-1-5-6-5 1M1109 1083l5-1-5-2-5 0M921 1000l4-10-3 2-4 7M881 986l5-7-4-5-5 3M1124 1087l5 0-5-8-5 2M1210 1123l5-12-6-3-5 15M1160 1097l5-12-5 9-5 2M1129 1087l5-7-5-4-5 3M1124 1079l5-3-5 1-5 2M883 974l5-4-4 1-5-2M1293 1150l5-2-7-3-5 10M1281 1144l4-5-6 4-5 0M1256 1136l5-6-6-2-5-1M983 1010l5-7-4 2-5 6M1202 1101l5-6-6 4-5 0M1075 1048l5-5-5-4-5 4M1301 1139l4-1-6-6-5 9M1294 1141l5-9-6-3-5 11M1212 1102l4-1-5-7-4 1M1148 1077l4-6-5 5-4 0M855 953l4-9-3 4-4 4M1245 1113l5-6-7 5-4-1M1222 1104l5-6-6 1-5 2M1158 1073l4 3-5-11-5 6M1152 1071l5-6-5 4-5 7M1329 1141l4 3-6-8-5 5M1273 1122l4-3-6-4-4 2M1255 1115l4 1-5-8-4-1M1232 1105l5-11-6 1-4 3M1227 1098l4-3-5-4-5 8M1372 1154l5-5-7 2-5 10M1339 1142l5-7-7 3-4 6M1327 1136l4-2-6-9-5 11M1320 1136l5-11-6 2-5 9M1407 1148l4-5-7 2-4 2M1159 1045l4-3-5 2-4 0M1286 1096l4-4-5-5-5 5M1178 1054l5-6-6 2-4 3M1111 1028l4-15-4 4-5 7M1331 1115l5-10-7 4-4 2M1302 1096l4-2-6-4-4 7M1306 1094l4-2-6-2-4 0M1228 1063l4-2-5 2-4 2M1202 1055l4-4-5 3-4-4M1182 1046l4-5-5-1-4 6M1232 1061l5-3-6-5-4 10M1227 1063l4-10-5-4-4 10M1413 1132l4-2-6 0-4-1M1350 1111l4-10-6 1-4 7M1216 1053l4-2-5-2-5 1M1417 1130l4-3-7 0-3 3M1312 1093l5-7-6 1-4-4M1115 1008l4-7-5 3-4 4M1245 1058l4-4-5-2-5 6M1214 1041l4 5-5-8-4 4M1209 1042l4-4-5-3-4 8M920 926l4 0-3-1-4 5M1419 1121l5-9-7 1-5 7M1281 1071l5-11-6 2-4 1M1228 1046l4-2-5-4-4 8M1343 1083l4-2-7 2-4 6M1253 1057l5-13-6 7-5 6M1252 1051l4-6-5 0-4 2M1344 1079l5-6-6-1-5 7M1308 1067l5-14-6 1-4 5M1194 1018l4-9-5 4-3-5M1455 1110l4-4-7 2-3-2M1193 1013l5-6-5 2-4 2M1138 988l4-3-4 0-4 4M1397 1077l4-5-6 3-4 5M1220 1016l4-10-5 2-4 3M1215 1011l4-3-5-4-4 3M1210 1007l4-3-5 1-4 2M1146 949l4-1-4-1-4 5"/>
<path color="#933" d="M666 1145l5-15-3 5-4 19M828 1188l7-6-4 2-8-3M1135 1340l7-3-7-7-7 2M1034 1261l7-5-6 4-7 2M1132 1303l7-17-7-5-7 15M1025 1212l6 2-6-3-6 1M1031 1214l6-15-5 7-7 5M1150 1276l6-3-6-13-6 1M992 1177l7 6-6-6-6 1M941 1160l6-9-5-5-6 5M921 1144l6-1-5-7-5 9M1010 1191l6-11-6-10-6 15M859 1100l6 1-4-5-7 1M773 1044l7 5-4-6-7-2M766 1043l6-2-4-2-6-3M1122 1240l6-7-6-14-6 18M1116 1237l6-18-6-3-6 15M1061 1201l6 0-5-7-6 0M959 1143l6-4-5-1-6 1M862 1088l6 1-5-7-5 4M780 1049l5-6-4-1-5 1M768 1039l6-2-3-1-6 2M903 1108l6 0-5-6-6 1M839 1073l5-5-3 3-6-2M1147 1239l6-6-6-6-6 9M904 1102l6 2-4-6-6 1M829 1065l6-1-4-5-6 2M825 1061l6-2-4-3-6 1M821 1057l6-1-4-2-6-2M791 1044l6 0-5-10-5 5M1213 1275l7-13-7-13-6 15M1012 1149l7 8-6-8-6 4M1007 1153l6-4-5 2-6 3M962 1129l5-5-4-4-6 1M920 1112l6-2-6-14-5 6M906 1098l6-1-5-6-6 6M823 1054l6 3-5-13-5 5M800 1046l6-2-4-3-5 3M797 1044l5-3-4-7-6 0M1241 1272l5 2-7-8-5 1M1103 1201l6-2-6-6-6 0M973 1130l5-1-5-7-6 2M865 1074l5-4-4-3-6-2M806 1044l5-4-4-8-5 9M1239 1266l6-4-7-4-6 7M1232 1265l6-7-7-11-6 9M1171 1232l6-3-7-10-5 4M1009 1147l5-4-5-5-6-2M978 1129l6-9-5-2-6 4M879 1076l5-2-4 2-6-5M874 1071l6 5-4-5-6-1M870 1070l6 1-4-4-6 0M834 1051l6 2-4-4-6-5M811 1040l5-7-3-4-6 3M1052 1166l5-6-5-8-6 6M1046 1158l6-6-6-4-6 2M1009 1138l6-2-5 1-6-9M932 1100l6-5-5-5-6 5M872 1067l5-4-4 2-6-2M840 1053l6-3-4-3-6 2M836 1049l6-2-4-2-6-3M724 987l6-2-3 1-5 1M1209 1238l6-5-7 0-6 0M1202 1233l6 0-7-9-6 9M1057 1160l6-3-6-10-5 5M999 1123l6-3-5-3-5 8M873 1065l6-6-5-7-5 3M834 1039l5-3-4-4-5 5M843 1044l5-4-3-4-6 0M1091 1165l5-6-6-7-5 11M1085 1163l5-11-5-1-6 6M1011 1128l5-6-5-2-5-5M848 1040l6-1-4-3-5 0M1173 1200l6 1-6-7-6 3M1058 1140l5 3-5-5-6-6M1011 1120l6-3-5-6-6 7M820 1020l5-3-3-2-6 1M1037 1126l6 2-6-10-5 6M1210 1203l5-2-6-1-5 1M1118 1164l6-8-6-8-5 11M1079 1142l6-4-6-3-5-6M1063 1136l6-2-6-12-5 13M984 1098l5-3-5-3-5-4M979 1088l5 4-4-4-6 0M974 1088l6 0-5-6-6-2M952 1080l5-3-4 0-6-1M900 1053l6-3-5-4-5-4M817 1014l5-6-4-6-6-4M1003 1103l6-3-5-10-6 6M939 1061l6 2-5-5-5 1M930 1058l6 1-4-2-6 2M897 1043l6 3-4-3-5 2M866 1027l5 2-4-5-5-3M818 1002l5-1-3 0-6-1M919 1051l6 4-5-6-5 3M915 1052l5-3-4-9-5 10M903 1046l5-3-4-4-5 4M875 1030l5-1-4-3-5 3M823 1001l6 2-4-4-5 2M1024 1106l5-12-5-2-5 6M1000 1095l5-17-5 2-5 9M904 1039l5 3-4-8-5 0M858 1019l5-3-4 1-5-1M840 1011l5-2-4-7-6-1M834 1001l5 1-4-6-5-2M1111 1127l6 3-6-8-5 7M965 1056l5 4-4-5-6 1M879 1021l5-2-4-7-5 5M1288 1207l5-1-7-4-4-6M1117 1130l5-1-6-6-5-1M974 1058l6 0-5-1-5 3M908 1031l5-4-4-5-5 9M783 967l6 2-4-1-5-5M1240 1176l5 7-6-8-5 2M975 1057l5 2-4-9-5-1M1264 1188l5 1-6-12-5 9M1172 1147l5-2-6-4-5 3M1143 1131l5 2-5-10-5 1M1121 1118l6 5-6-8-5 3M980 1059l5-5-4-2-5-2M879 1006l5 1-4-6-5-3M816 979l4-9-3 1-5 1M1276 1195l5-6-6-9-6 9M1165 1138l5 0-5-5-5 1M1111 1107l5 0-6-2-5-1M1100 1103l5 0-5-1-5 6M903 1010l5 5-4-7-5 0M1236 1168l5-4-6 0-5-5M1008 1057l5 2-4-7-5 2M1142 1118l5-6-5-2-5 4M1115 1103l5 2-5-5-5-1M1027 1062l5 0-5-6-5 5M1022 1061l5-5-4-3-5 11M902 1004l5 7-4-11-5 5M1291 1179l4 0-6-3-5 2M1221 1158l5-11-6-8-4 3M1158 1125l5-11-6-3-5 7M1115 1100l5-4-5-4-5 3M926 1010l5 2-4-3-5 0M867 990l4-6-3-2-5 5M1269 1168l6-14-6-3-6 7M1115 1092l5 5-5-6-5-4M1099 1093l5-8-5-4-5 7M1046 1065l5-3-5-7-5 7M1009 1041l5 1-4-2-5 6M935 1016l4-7-4-2-4 5M908 1002l5-1-4-7-5 7M904 1001l5-7-4-1-5 5M871 984l6 4-4-8-5 2M868 982l5-2-4-5-5 0M1196 1130l5-5-6-6-5 5M1094 1077l5 1-5-3-5 2M913 1001l5-2-5-11-4 6M1130 1101l5-7-6-12-4 9M1104 1080l5 0-5-8-5 6M929 1004l5-3-4-3-5-2M918 999l4-7-4 0-5-4M870 977l5-6-4-3-4 5M1217 1129l5 0-6-2-5-4M1150 1096l5 0-5-4-5-5M1135 1094l4-2-5-4-5-6M994 1028l5-6-5-2-4 8M1216 1127l5-5-6-11-5 12M1155 1096l5-2-5-2-5 0M1119 1079l5-2-5-13-5 14M1221 1122l4-1-5-8-5-2M1144 1087l5 2-5-11-5 5M1225 1121l5-8-6-3-4 3M1309 1148l4-2-5-13-5 8M1277 1145l5-13-6-11-5 9M1235 1122l5-2-5-10-5 3M1240 1120l5-7-6-2-4-1M1239 1111l4 1-5-4-5-2M1233 1106l5 2-6-3-4 1M1388 1167l4 0-6-12-4 5M1309 1137l5-1-6-10-5 5M1279 1120l4 6-6-7-4 3M1238 1108l4-3-5-11-5 11M970 990l4-10-4 0-4 11M1358 1158l6-15-7 2-5 7M1352 1152l5-7-6-8-5 9M1333 1144l4-6-6-4-4 2M1203 1090l5-15-5 5-5 6M1253 1103l4 3-5-11-5 7M1176 1071l5-1-5-7-5-4M1160 1050l4 2-5-4-4 1M1409 1157l4-4-6-5-5 4M1402 1152l5-4-7-1-3-7M1277 1105l4-2-5-9-5 8M1271 1102l5-8-6-4-4 5M1420 1157l4-4-6-9-5 9M1323 1117l4-1-6-3-3-6M1276 1094l4-2-5-3-5 1M1169 1049l4 4-5-7-4 0M1037 998l4-5-4-1-4-2M1424 1153l5-6-7-6-4 3M1214 1065l5-2-6-4-4-3M1106 1024l5-7-5 0-4 3M1097 1016l5-6-5 5-4-4M1025 988l4-3-3 3-5-5M1325 1111l4-2-5-8-4 3M1219 1063l4 2-5-6-5 0M1198 1057l4-2-5-5-4 1M1300 1090l4 0-5-3-4-4M1197 1050l4 4-5-6-4-5M1022 983l4-9-4-2-4 9M1410 1133l3-1-6-3-4 0M1191 1047l4-1-5-5-4 0M1124 1015l4-5-4 2-5 6M1337 1108l5-12-5-8-5 10M1106 1006l4 2-4-4-5 1M1051 988l4-13-4 2-4 12M1385 1115l5-5-7 2-4-2M1235 1055l4 3-5-7-4-3M1011 967l4-5-3 1-4 5M1414 1127l5-6-7-1-3 0M1288 1079l5-15-6 9-5 4M1277 1069l4 2-5-8-5 8M1239 1058l5-6-6 2-4-3M1234 1051l4 3-5-7-4 0M1412 1120l5-7-7-2-4 4M1233 1047l4 0-5-3-4 2M1336 1089l4-6-5-5-4 0M1242 1054l5-7-5-5-5 5M1340 1083l4-4-6 0-3-1M1299 1066l4-7-5-2-5 9M1181 1023l4-11-4 2-5 6M1265 1047l4-4-5-6-4 9M1122 989l4-3-4 2-4-3M1472 1117l3 1-6-6-4-1M1451 1115l4-5-6-4-4-1M1370 1086l4-5-6-5-4 4M1185 1011l4 0-5-4-4-1M1157 1001l4-6-4-1-4 4M1475 1118l3-1-6-4-3-1M1130 987l4 2-4-4-4 5M1402 1085l4-1-7-1-3 2M1134 989l4-4-4-4-4 4M1393 1082l4-5-6 3-3-4M1211 1011l4 0-5-4-4 0M1197 1004l4 0-5-4-4 2M1489 1113l4-7-6-5-4 3M1156 968l4-3-4-3-4 2M1222 976l4-11-4 1-4 10M1231 963l4-2-4-4-4 1M1191 943l3-2-4 1-4 6"/>
<path color="#b44" d="M936 1151l6-5-5-3-6 2M846 1092l6-3-5-4-5 5M865 1101l5-9-4-2-5 6M755 1020l6-1-4-1-5 4M1159 1228l6-5-7-4-6 9M1073 1183l6-7-5-1-6 4M927 1095l6-5-4 0-6 0M727 986l5-7-3 4-6-4M866 1053l6-5-4 3-6-5M896 1060l6-2-4 1-6 2M1211 1208l5 3-6-8-5 5M1032 1124l5-6-5-4-5 4M873 1029l6 3-4-2-6-5M937 1053l5 3-4-9-5 3M1161 1139l5 5-6-8-5 7M1241 1164l5-15-6 3-5 12M1095 1089l5-1-5 0-5 4M1216 1142l4-3-5-5-6 11M1276 1168l5-10-6-4-6 14M1113 1065l5-5-5 1-5 6M1080 1048l4-7-4 2-5 5M1386 1179l5-11-7-3-5 12M1379 1177l5-12-7 0-4-1M1089 1050l5-10-5 6-5-5M947 980l4-9-3 5-4 4M1348 1121l4 3-6-9-4 10M1225 1070l4-11-5 4-5 11M1163 1042l5-2-5-5-5 9M1390 1122l5-5-7 2-4 2M1230 1048l4 3-5-4-4 4M1225 1051l4-4-5-9-4 13M1232 1044l4-4-4-6-5 6M1228 1007l4-6-5 4-4 4"/>
<path color="#c44" d="M835 1182l6-12-4 4-6 10M1168 1324l7-14-8 0-6 10M1024 1218l6-9-5 3-7 2M852 1119l6-4-4 1-7-1M766 1068l5-9-3 1-5 12M1092 1246l6-2-6 0-7 7M918 1151l6-5-4-1-7 3M858 1115l6-7-5-2-5 10M1194 1300l6-5-7-4-7 11M1186 1302l7-11-8-2-6 2M1037 1213l6-8-6-6-6 15M986 1179l6-2-5 1-6 2M981 1180l6-2-5-7-6 8M920 1145l6 1-5-2-6-3M745 1044l6-1-4-2-6 0M1117 1252l6-1-6 0-6-2M1111 1249l6 2-7-11-6 7M987 1178l6-1-5-7-6 1M917 1132l7-3-5 0-6 3M850 1096l6-6-4-1-6 3M1198 1278l5 2-7-4-6 10M861 1096l5-6-4-2-6 2M772 1041l6-3-4-1-6 2M1174 1259l7-14-7 4-7 17M1079 1202l6-3-6-8-6 7M965 1139l5-10-4 9-6 0M945 1127l6-4-5-2-5 19M921 1118l6 0-5-8-5 6M843 1073l5-7-4 2-5 5M800 1052l6-3-4-3-6 2M778 1038l5-2-4-7-5 8M774 1037l5-8-3 2-5 5M752 1021l6 1-3-2-6 1M966 1138l5-7-4-2-6 3M946 1121l6 0-5-4-5 10M813 1055l6-6-4-2-6 3M1236 1270l5 2-7-5-6 0M1103 1202l6-5-6 4-6-5M1091 1195l6-2-6 0-6-3M915 1102l5-6-4-2-6 10M910 1104l6-10-4 3-6 1M1091 1193l6-10-6-2-6 11M920 1096l6 1-4-1-6-2M848 1066l5-10-3 3-6 4M1029 1151l6-9-5 7-6 11M983 1125l6-2-5-3-6 9M922 1096l5-1-4-5-6 5M1164 1215l6-1-7-5-6 15M1030 1149l5-10-5 3-5 6M1025 1148l5-6-5-6-6 2M1223 1233l6 1-7-2-6 10M1189 1225l6-12-7-2-6 11M1176 1220l6-11-7 2-5 3M1132 1189l6-4-6 2-6 4M1263 1257l7-13-8 2-6 5M891 1063l5-3-4 1-5 3M887 1064l5-3-5-10-5 8M1200 1216l6-5-7-2-5 5M1194 1214l5-5-6-2-6 0M1079 1157l6-6-6-2-5 4M972 1101l5 0-4-6-6 3M1074 1153l5-14-5 0-6 9M1068 1148l6-9-5 1-6 1M973 1095l5 3-5-9-5 4M950 1086l5-5-5-3-5 4M743 980l4-10-3 3-4 11M1074 1139l5 3-5-13-5 11M1022 1120l5-8-5-5-5 10M1017 1117l5-10-5 0-5 4M1053 1126l5-9-5 3-5 7M864 1032l5-7-3 2-5 4M1023 1108l5-10-5 1-5 15M998 1096l6-6-5 2-5 1M918 1055l5 0-4-4-5-2M954 1070l5-6-5-4-5 8M940 1058l5-1-4-6-5 8M936 1059l5-8-4 2-5 4M911 1050l5-10-4-1-5 3M1004 1087l5-9-4 0-5 17M976 1071l6-4-5 2-5 2M950 1061l5-6-5-6-5 8M933 1050l5-3-4 0-5 5M955 1055l5 1-4-3-6-4M855 1012l5-4-4-6-4 9M841 1002l5-1-4-3-5 5M856 1002l6 5-4-5-5 3M849 1003l5-2-3-4-5 4M1064 1102l5-7-5-1-5 6M911 1028l6-1-4 0-5 4M888 1019l5-6-4 1-5 5M847 1000l5-4-4-4-4 6M1280 1197l5-2-7-6-5 5M867 1007l4-12-3 1-5 4M860 1002l4-8-3 2-5 4M852 996l5-4-4-3-5 3M1285 1195l4-2-6-2-5-2M1155 1137l5-3-6-4-5 5M1138 1124l5-1-5-4-6 4M898 1009l5 1-4-2-5 4M894 1012l5-4-4-4-5 1M886 1005l6 4-4-4-5 2M861 996l5 1-4-5-5 0M829 979l5-2-3 1-5 2M1310 1200l5-2-7-1-5-1M1154 1130l5-5-5 2-6 6M1003 1057l5 0-4-3-6 1M998 1055l6-1-5 0-5-3M888 1005l5-2-4 1-5 3M831 978l5-3-4 1-4 2M1206 1149l5-4-7 1-4 3M1126 1112l5-2-5-1-5 0M1105 1103l5-4-5-3-5 6M1100 1102l5-6-5-2-5 5M1095 1099l5-5-5-5-5 8M1004 1054l5-2-5-6-5 8M999 1054l5-8-4 0-5 9M990 1044l5 3-4-5-5 3M960 1029l5 1-4-2-5 7M1126 1109l5-9-5 4-5 3M1105 1096l5-1-5-2-5 1M917 1006l5 3-4-8-5 7M879 995l5-6-4-4-4 7M1209 1145l6-11-7 2-4 1M1186 1132l5-6-6-5-5 8M1175 1127l5-4-6-11-5 15M1055 1070l5-9-5 2-4 13M874 989l4-6-4-4-4 10M1309 1183l6-18-8 3-5 16M1282 1171l6-10-7-3-5 10M1220 1139l5-2-6-7-4 4M1110 1087l5 4-6-7-4 5M919 1003l5-3-4-5-4 14M882 989l4-11-3 0-5 5M1104 1085l5-2-5-3-5 1M939 1009l5-6-4-3-5 7M933 1002l4-4-3 3-5 3M1247 1137l4 1-6-6-4 3M1119 1081l5-2-5 0-5 3M886 979l4-2-3-3-5 0M875 971l4-2-3-2-5 1M887 974l4-3-3-1-5 4M876 967l5 0-4-4-4 6M1306 1154l5-10-6-1-6 12M1139 1083l5-5-5-1-5 3M888 970l4-3-3-2-5 6M1305 1143l4 5-6-7-5 7M1220 1113l4-3-5-3-5-3M1154 1085l5-12-5 7-5 9M1271 1130l5-9-6 3-4 2M1207 1103l5-1-5-7-5 6M1113 1061l5-5-5 1-5-1M1158 1075l5 1-5-3-5 2M1080 1043l4 1-4-12-5 7M1384 1165l4 2-6-7-5 5M1299 1132l4-1-6-3-4 1M1293 1129l4-1-6 0-4-1M859 944l4-5-3-3-4 12M1297 1128l5-6-7 6-4 0M1210 1092l5-8-6-1-4 6M1346 1146l5-9-7-2-5 7M1108 1042l4-2-5-3-4 1M1402 1153l4-2-7-1-4 2M1112 1035l4-2-4-2-5 3M1102 1031l5-6-5 1-4 3M1344 1125l4-4-6 4-5 2M1413 1153l5-9-7-1-4 5M1164 1046l4 0-5-4-4 3M1041 996l4-8-4 5-4 5M1352 1124l5-14-6 3-5 2M1316 1103l4 1-6-7-4 3M1304 1100l4 0-6-4-4 0M1292 1093l4 4-6-5-4 4M1351 1113l4-1-6-8-5 10M1029 985l5-8-4 2-4 9M1426 1141l5-7-7-3-5 6M1419 1137l5-6-8 6-4 5M1318 1095l4 2-6-5-4 0M1187 1045l4 2-5-6-4 5M1416 1137l5-10-8 5-3 1M1398 1118l3 4-6-5-5 5M1322 1097l5-6-6-6-5 7M1222 1059l4-10-5 4-4 0M1217 1053l4 0-5 0-5 1M1395 1117l4-2-7-2-4 6M1357 1105l4-4-7 0-4 10M1221 1053l4-2-5 0-4 2M1138 1014l4-2-5 1-4 6M1220 1051l4-13-5 1-4 10M1114 1004l5-7-5-2-4 6M1433 1118l4-4-8 5-4 11M924 926l4-4-3-1-4 4M1178 1020l4-1-5 1-4 2M1316 1063l4-2-6 3-4 4M1458 1112l4-6-7 4-4 5M1374 1081l4-9-6 1-4 3M1139 992l4-7-5 3-4-1M1465 1110l4-5-6-3-4 4M1459 1106l4-4-7-2-4 8M1450 1096l4-6-7 3-4 1M1412 1084l4-3-6-2-4 5M1406 1084l4-5-6-5-5 9M1399 1083l5-9-7 3-4 5M1225 1006l4 3-5-3-4 10M1177 994l4-8-5-2-4 10"/>
<path color="#a33" d="M831 1184l6-10-5-3-6 7M836 1160l7-4-5-3-7 0M940 1211l7-7-6-1-6 6M1140 1306l7 10-7-13-7-2M869 1141l7 8-5-8-7 1M1024 1229l6-13-6 2-6 9M850 1128l6-9-4 0-6 3M763 1072l5-12-4 1-5 3M1085 1251l7-7-7 5-6-1M913 1148l7-3-5-4-6 2M909 1143l6-2-5 1-7-7M862 1117l7 5-5-14-6 7M1092 1244l6 1-6-7-7 11M976 1179l6-8-5 3-7-5M741 1041l6 0-4-7-5 10M1061 1220l6-9-6 2-6 2M907 1133l6-1-5-6-6-3M884 1119l5-8-4-1-6 10M852 1097l7 3-5-3-6-2M844 1096l6 0-4-4-6 7M772 1053l6-2-3 1-7-3M1150 1260l6 9-7-24-6 10M993 1177l6-6-5 2-6-3M957 1155l6 0-5-11-7 3M922 1136l7 8-5-15-7 3M854 1097l7-1-5-6-6 6M842 1090l5-5-3 0-7-4M968 1158l6-4-5-2-6 3M958 1144l6 4-5-5-7-5M844 1085l5-6-4 0-6-2M795 1055l6-3-3 0-6 4M1155 1250l6 10-7-15-5-4M897 1105l6 3-5-5-6 2M845 1079l6-1-4-4-6-1M841 1073l6 1-4-1-6 0M794 1048l6 4-4-4-6-3M980 1152l6-9-6-8-5 18M975 1153l5-18-5-2-5 13M960 1138l6 0-5-6-6 0M955 1132l6 0-5-1-6-3M785 1043l6 1-4-5-6 3M771 1036l5-5-4-5-5 4M1097 1208l6-6-6-6-6 7M961 1132l6-3-5 0-6 2M909 1108l6-6-5 2-6-2M787 1039l5-5-3-1-6 3M1193 1257l6-13-7-9-6 8M1153 1233l6-5-7 0-5-1M1227 1266l5-1-7-9-5 6M1165 1239l6-7-6-9-6 5M1152 1228l6-9-6 3-6-4M1097 1193l6 0-6-10-6 10M1085 1192l6-11-6 5-6 1M1068 1179l6-4-6-3-6-2M1008 1151l6-9-5 5-6-3M912 1097l5-2-4-3-6-1M872 1073l7 3-5-5-6 2M868 1073l6-2-4-1-5 4M1225 1256l6-9-7-2-5-1M1205 1244l5-1-7-5-5 2M1198 1240l5-2-6-5-6 5M1145 1212l6 1-6-13-6 4M1133 1207l6-6-6-3-6 7M1109 1199l5-13-6 1-5 6M1040 1153l6 5-6-8-5-2M926 1097l6 3-5-5-5 1M861 1060l6 3-4-7-6 1M815 1038l6 3-5-8-5 7M797 1031l4-8-3-2-5 6M1245 1262l6-8-7-9-6 13M1210 1243l6-1-7-4-6 0M1177 1229l5-7-6-2-6-1M1157 1224l6-15-6 6-6-2M728 990l5-2-3-3-6 2M1195 1233l6-9-6-11-6 12M1005 1129l5 1-5-10-6 3M1256 1251l6-5-7-4-6 3M1126 1184l5-5-6-8-5 6M1057 1147l6 4-6-10-5-1M1046 1142l6 1-5-7-6 3M879 1059l5-1-5-10-5 4M791 1008l6 5-4-7-5 1M1096 1160l6 4-6-5-5 6M1057 1141l6 0-5-1-6 3M1052 1143l6-3-6-8-5 4M1047 1136l5-4-5 1-6-2M1193 1207l5 2-6-10-6 10M1186 1209l6-10-7 2-5-5M945 1082l5-4-4-1-6-2M898 1059l5-1-4-1-6-4M1205 1208l5-5-6-2-6 8M1136 1174l6-8-6 1-6 2M1130 1169l6-2-6-6-5-1M1007 1110l5-3-5-6-5 3M997 1103l5-9-4 7-6-4M978 1098l6 0-5-10-6 1M969 1095l5-7-5-8-5 9M879 1043l5 2-4-9-5 5M1216 1211l6-4-7-6-5 2M1204 1201l5-1-6-12-6 4M1184 1195l6-11-6 3-6-1M1124 1161l6-4-6-1-6 8M1048 1127l5-7-5-1-5 9M884 1045l5-10-4-4-5 5M861 1031l5-4-4-6-6 3M753 976l4-5-3-2-5 4M1184 1187l5-13-6 3-6 4M1018 1114l5-15-5 4-5-4M906 1050l5 0-4-8-6 4M825 1006l6 5-4-8-5 5M1085 1135l5-12-5 2-6 10M1009 1100l5-8-5-6-5 4M945 1063l5-2-5-4-5 1M831 1011l4-10-3 3-5-1M1252 1205l6-2-7 0-6 10M1019 1098l5-6-5-7-5 7M925 1055l4-13-4-1-5 8M865 1021l5-6-4 1-5 2M825 999l5-5-4-3-5 2M1285 1217l6-12-8 7-6 9M826 991l6 6-4-8-6 0M813 988l5-2-4-5-5 4M1283 1212l5-5-6-11-5 4M1230 1192l5-16-6-5-6 13M960 1056l6-1-5-7-5 5M875 1017l5-5-4-1-5-1M860 1008l6 3-4-4-6-5M839 1002l5-4-4-6-5 4M835 996l5-4-4-5-4 10M832 997l4-10-4-2-4 4M810 980l6 4-4-5-5-1M1275 1199l5-2-7-3-5 1M1059 1100l5-6-5 5-5-3M966 1055l5-6-5-5-5 4M953 1051l5-7-5-3-5 1M936 1041l4-10-4-2-4 14M884 1019l5-5-4-5-5 3M862 1007l5 0-4-7-5 2M844 998l4-6-3 3-5-3M816 984l5-3-4-6-5 4M812 979l5-4-3 0-5 3M1286 1202l5-3-6-4-5 2M971 1049l5 1-5-7-5 1M874 1007l5-1-4-8-4 12M871 1010l4-12-4-3-4 12M856 1000l5-4-4-4-5 4M1166 1144l5-3-6-3-5-2M994 1065l4-10-4-4-5 2M971 1043l5 2-4-3-5-2M822 976l6 2-4-3-5 1M819 976l5-1-4-5-4 9M1269 1189l6-9-7-4-5 1M1121 1115l5-3-5-3-5 1M1116 1110l5-1-5-2-5 0M1105 1104l5 1-5-2-5 0M1090 1098l5 1-5-2-5-5M1079 1094l6 0-6-9-4 13M990 1052l5 3-5-11-5 10M981 1052l5-7-4 2-6-2M884 1007l5-3-3 0-6-3M866 997l5 3-4-7-5-1M828 978l4-2-3-4-5 3M811 967l4-2-3-1-5-1M1165 1133l5-2-6-2-5-4M1116 1107l5 0-6-4-5 2M1090 1097l5-8-5 3-5 2M995 1055l5-9-5 1-5-3M956 1035l5-7-4-1-5 2M889 1004l5 0-4-11-4 11M882 999l5 0-4-1-5 0M878 998l5 0-4-3-4 1M867 993l5-2-4-4-4 7M864 994l4-7-3-3-5 2M812 964l5-2-4-4-4 3M1253 1169l5-3-5-14-6 18M1137 1114l5-4-6-8-5 8M1036 1062l5 0-5-3-5 3M991 1042l5-2-5-4-4 7M957 1027l5-1-4-2-5 0M898 1005l5-5-4-6-5 10M883 998l5-3-4-6-5 6M1317 1192l5 3-6-15-5 4M1163 1126l6-12-6 0-5 11M1147 1112l5-3-5-4-5 5M1142 1110l5-5-6-6-5 3M1036 1059l5 3-4-7-5 7M1032 1062l5-7-5-4-5 5M962 1026l5-4-4 1-5 1M922 1009l5 0-4-1-5-7M892 995l4-2-3-2-5 4M877 992l5-3-4-6-4 6M1302 1184l5-16-7 6-5 5M1289 1176l5-6-6-9-6 10M1191 1126l5 4-6-6-5-3M1185 1121l5 3-5-7-5 6M1094 1088l5-7-5-4-5 1M1089 1078l5-1-5 0-5-5M900 998l5-5-4-7-5 7M896 993l5-7-4 2-4 3M860 972l5 4-3-6-5 1M1334 1187l5-11-7-3-5 13M1115 1091l4-3-5-6-5 2M1051 1062l5-9-5-5-5 7M1014 1042l5-2-4-8-5 8M944 1016l4-8-4-5-5 6M928 1008l5-6-4 2-5-4M924 1000l5 4-4-8-5-1M873 980l4-3-3 1-5-3M822 954l5 0-4-2-5-1M1060 1056l5 0-4-5-5 2M1024 1041l5-4-5-3-5 6M925 996l5 2-5-8-4 10M1075 1073l5-18-5-4-5 9M1070 1060l5-9-5 1-5 4M934 1001l4-4-4-5-4 6M930 998l4-6-4-4-5 2M907 985l5-2-4-3-5 0M879 976l4-2-4-5-4 2M1295 1154l4 1-6-5-4 0M1251 1138l5-2-6-9-5 5M873 969l4-6-3-1-5 6M1108 1067l5-6-5-5-4-2M979 1011l5-6-4-2-5-1M1108 1056l5 1-5-2-5 6M1084 1051l5-1-5-9-4 7M1070 1043l5-4-5 0-4-3M953 996l4-13-4-3-5 11M887 964l4-5-3 1-5 1M1327 1144l4 3-7-6-5 9M1319 1150l5-9-6-7-5 12M1235 1110l4 1-6-5-4-3M1331 1147l4-4-6-2-5 0M1305 1138l4-1-6-6-4 1M1287 1127l4 1-6-11-4 4M1216 1101l5-2-6-1-4-4M1089 1046l5-8-5-7-5 13M1075 1040l5-9-5 2-5-4M1341 1153l5-7-7-4-4 1M1221 1099l5-8-6-7-5 14M1215 1098l5-14-5 0-5 8M1162 1076l5-11-5-11-5 11M994 1001l4-2-4-2-4 0M1314 1136l5-9-7-5-4 4M1080 1029l4 1-4-4-5-2M994 997l5-7-4-5-5 6M948 976l5 0-4-3-5-3M1203 1080l4-8-5 4-4-1M1117 1037l4 10-4-12-5 5M1103 1040l4-6-5-5-4 13M1395 1152l4-2-7-6-4 6M1176 1063l4-4-5-3-4 11M1028 1004l4-6-4 2-4 2M957 970l4 0-3-1-5 0M1399 1150l3 2-5-12-5 4M1340 1128l4-3-7 2-3-4M1135 1040l5 3-5-5-4-1M1131 1037l4 1-5-8-4 12M1098 1029l4-3-4-1-5-5M1206 1065l4 5-5-11-5 6M1164 1052l5-3-5-3-5 2M1159 1048l5-2-5-1-4-4M1102 1026l5-1-5-4-4 4M912 945l4-5-3 0-4 7M1154 1044l4 0-5-5-4-2M1149 1037l4 2-4-3-5 3M1135 1031l4 3-5-6-4 1M1404 1145l5-13-6-3-6 14M1365 1128l5-9-7-3-5 11M1358 1127l5-11-6-6-5 14M1280 1092l5-5-6-3-4 5M1219 1074l5-11-5 0-5 2M1168 1046l4 3-4-9-5 2M1149 1036l4 1-5-7-4 0M1102 1020l4-3-4-7-5 6M1029 990l4-2-4-3-4 3M1296 1097l4-7-5-7-5 9M1213 1059l5 0-5-6-5 2M950 958l4-8-4 0-4 6M946 956l4-6-3-1-5-2M1400 1125l3 4-5-11-5 5M1380 1118l4 3-6-6-4 0M1218 1059l4 0-5-6-4 0M1042 985l4 4-4-7-4 1M947 949l4-4-4-4-3 8M1186 1041l4 0-5-4-4 3M1129 1019l4 0-5-9-4 5M1401 1122l3 7-5-14-4 2M1133 1019l4-6-4-6-5 3M1373 1107l4-5-6-4-4 7M1348 1102l5-8-7 0-4 2M1342 1096l4-2-5-9-4 3M1124 1008l4-1-5-2-4 7M1119 1012l4-7-4-4-4 7M1110 1008l4-4-4-3-4 3M1390 1110l4-2-7 0-4 4M1204 1043l4-8-5-6-4 5M1425 1130l4-11-5-7-5 9M1400 1109l4-2-6-6-4 7M1276 1063l4-1-5-9-5 9M1213 1038l4-3-5-4-4 4M1237 1047l5-5-6-2-4 4M1227 1040l5-6-5-6-5 16M1173 1022l4-2-4-5-5 5M1164 1012l4 1-5-6-4 6M1247 1047l4-2-5-7-4 4M1310 1068l4-4-6 3-3-4M1246 1038l4-1-5-3-4 0M1303 1059l4-5-5-1-4 4M1260 1046l4-9-5-2-4 8M1250 1037l4-4-5 2-4-1M1190 1020l4-2-4-10-5 4M1181 1014l4-3-5-5-4 0M1249 1035l4-6-5-2-4 3M1135 990l4 2-5-5-4-1M1109 980l4-1-4-1-4-4M1392 1083l4 2-6-9-4 2M1368 1076l4-3-5-9-5 11M1213 1014l4 2-5-5-4 2M1121 982l4-4-4 2-4 1M1478 1117l4-5-6-4-4 5M1452 1108l4-8-6-4-4 5M1446 1101l4-5-7-2-4 6M1408 1085l4-1-6 0-4 1M1309 1050l4 0-5-8-4 2M1193 1009l4-5-5-2-4 0M1156 991l4-1-4-1-4-4M1130 985l4-4-5-2-4-1M1125 978l4 1-4-3-4 4M1113 977l4-5-4 1-4-2M1476 1108l3 2-6-8-4 3M1370 1067l4-1-6 0-4-1M1306 1040l4-3-5 0-4 1M1201 1004l4-8-5 1-4 3M1483 1104l4-3-7 0-3-2M1258 1023l5-14-6 5-4 10M1219 1008l4 1-5-11-4 6M1172 994l4-10-4-2-4 7M1487 1101l4-5-6-8-5 13M1227 1005l3-1-4-6-4 1M1222 999l4-1-5 0-4-3M1244 1008l4-14-5 0-4 10M1200 982l4-4-4-3-4 4M1111 950l4-3-4 1-4 1M1327 989l4-5-5-1-3 3M1277 965l3 2-4-3-3 0M1194 941l4-3-4-4-4 8"/>
<path color="#b33" d="M740 1055l5-11-4-3-6 2M929 1150l7 1-5-6-7 1M1033 1190l6-15-6-3-6 14M817 1052l6 2-4-5-6 6M1200 1264l6-21-7 1-6 13M1097 1196l6 5-6-8-6 2M1191 1238l6-5-7 2-6-4M800 1030l6 2-5-9-4 8M861 1057l5-4-4-7-6 0M1215 1233l6-17-7 2-6 15M1058 1135l5-13-5-5-5 9M822 1008l5-5-4-2-5 1M972 1071l5-2-4-5-6 3M870 1015l5 2-4-7-5 6M904 1008l5-3-3 2-6-6M1340 1194l6-10-7-8-5 11M1231 1142l5-5-6-6-5 6M879 969l5 2-3-4-5 0M1230 1113l5-3-6-7-5 7M964 996l4-4-3 0-5 4M1377 1165l5-5-7-2-5 8M953 976l4-6-4-1-4 4M1145 1043l4-6-5 2-4 4M1153 1039l5-7-5 5-4-1M1320 1104l4-3-6-6-4 2M1388 1119l4-6-7 2-3-6M1237 1058l4-1-6-2-4-2M1286 1060l3 4-5-11-4 9M1312 1071l4-8-6 5-3-6M1255 1043l4-8-5-2-4 4M1185 1012l5-4-5 3-4 3M1472 1113l4-5-7-3-4 5M1401 1072l4 0-6-5-4 8"/>
<path color="#d44" d="M1174 1301l6-1-7-7-7 15M1166 1308l7-15-7-2-7 13M1145 1287l7-6-7 4-6 1M979 1189l6-3-5-3-6 8M856 1119l6-2-4-2-6 4M1173 1293l6-2-7-2-6 2M1166 1291l6-2-7 1-6 1M1179 1291l6-2-7 1-6-1M748 1044l6-1-3 0-6 1M931 1145l6-2-5 1-6 2M947 1151l5-13-4 1-6 7M937 1143l6-6-5 2-6 5M948 1139l6 0-5-7-6 5M938 1139l6-9-5 7-6 1M869 1097l5-7-4 2-5 9M979 1153l6-6-5 5-6 2M866 1090l6-6-4 5-6-1M1073 1198l6-7-6 2-6 8M756 1023l5-2-3 1-6-1M1174 1249l6-14-7 5-6 14M942 1127l5-10-5-7-5 10M844 1068l5-10-3 3-5 10M809 1050l6-3-4-1-5 3M806 1049l5-3-3 0-6 0M758 1022l6-3-3 0-6 1M1173 1240l6-6-7 5-6-1M971 1131l6-5-4 4-6-1M938 1120l5-19-4 6-6 10M819 1049l5-5-4 1-5 2M1179 1234l5-3-6-1-6 9M813 1046l5-11-3 3-6 1M1165 1223l5-4-6-4-6 4M1085 1186l6-16-6 3-6 3M850 1059l5-8-4-1-5 11M888 1070l5-4-4 2-5 6M855 1051l6 6-5-11-5 4M1182 1222l6-11-6-2-6 11M1170 1214l5-3-6-7-6 5M1035 1139l6 0-5-5-6 8M1030 1142l6-8-5 0-6 2M1025 1136l6-2-6-4-5 8M1020 1138l5-8-5-3-5 9M889 1068l6-3-4-2-6 5M730 985l4-8-2 2-5 7M1188 1211l6 3-7-7-5 2M1182 1209l5-2-6-1-6 5M966 1100l6 1-5-3-5 2M870 1050l5-4-3 2-6 5M1174 1201l6-5-7 4-5 6M1031 1128l6 2-5-2-6-1M954 1088l5-8-4 1-5 5M873 1044l6-1-4-2-5 5M1192 1199l5-7-6 1-6 8M1069 1140l5-11-5 2-6 12M1027 1118l5-4-5-2-5 8M867 1042l5-13-4 4-5 7M818 1012l5-7-3 2-5 9M1191 1193l5-12-6 3-6 11M1130 1161l5-5-5 1-6 4M1090 1138l6-7-6 1-5 6M1004 1090l5-4-5 1-5 5M971 1072l5-1-4 0-5 2M967 1073l5-2-5-4-5 3M958 1070l5-6-4 0-5 6M932 1057l5-4-4-3-6 1M1009 1086l5-2-5-6-5 9M963 1064l5-4-4-4-5 8M880 1029l5-14-3 9-6 2M934 1047l5-5-5-5-5 5M866 1016l5-6-4-7-4 13M863 1016l4-13-3 8-5 6M956 1053l5-5-4-2-5 6M853 1005l5-3-4-1-5 2M846 1001l5-4-4 3-5-2M957 1046l5-5-4 3-5 7M919 1030l5-4-4-2-4 8M916 1032l4-8-3 3-6 1M876 1011l5-6-3 0-5 2M1133 1124l5 0-6-1-5-1M1298 1200l5-4-7 1-5 2M989 1053l5-2-4 1-6-1M892 1009l5-4-4-2-5 2M912 1010l5-4-4 2-5 7M897 1005l5-1-4 1-5-2M836 975l4-3-3 0-5 4M1131 1110l5-8-5-2-5 9M1100 1094l5-1-5-5-5 1M1000 1046l5-3-5 1-5 3M961 1028l5-2-4 0-5 1M1311 1184l5-4-7 3-5 3M1204 1137l4-1-5-3-5 2M1180 1129l5-8-5 2-5 4M1126 1104l5-10-6 2-5 9M1105 1093l5-6-5 2-5-1M1219 1130l5-5-6 3-5 5M1213 1133l5-5-6 0-4 1M1109 1084l5-2-5 1-5 2M1056 1058l4-2-4-3-5 9M1242 1136l5 1-6-2-5 2M952 1007l5-3-4 0-5 4M937 998l5-3-4 2-4 4M1245 1132l5-5-6-1-5 5M999 1022l4-6-4 4-5 0M942 995l5 2-4-6-5 6M890 977l4-9-3 3-4 3M1299 1155l6-12-7 5-5 2M1160 1094l5-14-6 0-4 12M891 971l5-2-4-2-4 3M1298 1148l5-7-7-2-5 6M1291 1145l5-6-6-3-5 3M1261 1130l5-4-7-2-4 4M1144 1078l4-1-5-2-4 2M987 1006l5-2-4-1-5 7M1303 1141l5-8-7 6-5 0M1266 1126l4-2-6-4-5 4M1224 1110l5-7-6-1-4 5M1219 1107l4-5-5 3-5 2M1154 1080l4-5-5 0-5 2M984 1005l4-2-4-1-4 1M1270 1124l5-6-6-4-5 6M861 949l4-7-3-1-4 12M1375 1158l5-11-8 7-4 2M1303 1131l5-5-6-4-5 6M1308 1126l4-4-5-6-5 6M1302 1122l5-6-7 5-5 7M1112 1040l5-5-5 0-5 2M1107 1037l5-2-5-1-4 6M1196 1069l4-4-5-2-4 4M1175 1054l4-7-5 5-4-3M1299 1103l5-3-6-4-5 8M1121 1028l4-5-5 2-4 0M1411 1143l5-11-7 0-5 13M1372 1123l4-6-6 2-5 9M1310 1100l4-3-6 3-4 0M1041 993l5-8-4 3-5 4M1314 1097l4-2-6-3-4 8M1308 1100l4-8-6 2-4 2M1042 988l4-3-4 0-4 5M1026 978l4-5-4 1-4 9M1316 1092l5-7-7 8-4-1M1238 1058l4-1-5 1-5 3M1363 1104l4 1-6-4-4 4M1242 1057l4-2-5 2-4 1M911 930l4-5-3 3-4 4M1392 1113l5-7-7 4-5 5M1354 1101l5-11-6 4-5 8M1325 1089l4-7-6 2-5 6M1215 1049l4-10-5 2-4 6M1250 1055l4-2-5 1-4 4M1327 1084l4-6-5-9-5 9M1321 1078l5-9-7 7-4 10M1319 1076l4-4-5-9-4 7M1347 1081l4-6-7 4-4 4M1465 1111l4 1-7-6-4 6M1386 1078l4-2-6-2-4 7M1380 1081l4-7-6-2-4 9M1198 1007l4-3-5 0-4 5M1143 985l4-4-5 4-4 3M1376 1069l4-6-6 3-4 1M1229 1009l3-1-4-1-4-1"/>
<path color="#e44" d="M1218 1284l6-8-8 4-6 5M815 1047l5-2-3-1-6 2M1175 1211l6-5-7-5-5 3M1206 1211l5-3-6 0-6 1M955 1081l5-4-4 1-6 0M966 1074l5-2-4 1-6 4M962 1070l5-3-4-3-5 6M912 1039l5-3-4 0-5 7M892 1017l5-3-4-1-5 6M893 1013l5-4-4 3-5 2M863 1000l5-4-4-2-4 8M913 1008l5-7-4 5-5-1M1215 1134l4-4-6 3-5 3M1237 1139l5-3-6 1-5 5M935 1007l5-7-4 1-4 4M1259 1124l5-4-6-2-5 4M1306 1101l4-1-6 0-5 3M1346 1115l5-2-7 1-4 1M1312 1092l4 0-6 0-4 2M1293 1064l4-4-6 3-4 10M1258 1044l4-5-6 6-4 6"/>
<path color="#821" d="M753 1085l6-1-4-9-7 2M732 1042l6 2-4-6-6 2M768 980l5 0-4-9-5 2M1393 1145l4-2-6-11-4 1M1013 977l5 4-4-8-5 3"/>
<path color="#832" d="M883 1298l6-14-5 2-7 11M647 1131l5-15-3 4-7 3M826 1178l6-7-4-1-7 1M785 1131l6-1-4-2-7 0M1129 1343l6-3-7-8-7 4M1121 1326l7 5-8-14-6-5M1021 1256l7 6-6-12-7-5M979 1231l7 0-6-9-7 1M935 1209l6-6-5 1-7-1M1113 1313l7-1-7-11-7-4M1022 1250l6-1-6-6-7-1M936 1204l7-5-6-7-7-1M1113 1301l6 2-7-12-6-3M860 1139l6 1-5-6-6-2M1011 1222l7 5-6-11-7-2M830 1114l7 2-5-7-7-4M735 1059l7 5-5-11-6-1M1125 1296l7-15-7-8-6 7M951 1181l7 2-6-12-6 4M906 1152l6 4-5-12-7-3M756 1066l7 6-4-8-7 2M752 1066l7-2-5-10-6 7M742 1064l5-9-4-7-6 5M1073 1243l6 5-6-10-7-3M843 1116l6-3-5-12-6-2M733 1049l7 6-5-12-6-1M1138 1283l6 0-7-18-6 5M1073 1238l6-1-6-8-6-1M1085 1249l7-11-7-11-6 10M1003 1193l6 3-5-6-7-1M970 1169l7 5-6-10-6 4M934 1151l7 9-5-9-7-1M905 1139l7-1-5-5-7-2M891 1129l7 0-5-7-7 0M1004 1190l6 1-6-6-6-3M977 1174l6 0-6-15-6 5M898 1129l6 1-5-11-6 3M840 1099l6-7-4-2-6 4M836 1094l6-4-5-9-6 7M1206 1295l6 2-8-6-5-5M983 1174l6-8-6-6-6-1M962 1160l6-2-5-3-6 0M904 1130l6-3-5-11-6 3M1104 1231l6 0-6-17-6 1M758 1033l7 5-4-8-7-5M1056 1194l6 0-6-2-6-5M828 1065l7 4-4-4-7-9M765 1038l6-2-4-6-6 0M740 1020l6 4-4-7-6-4M868 1089l6-2-6-15-5 10M1056 1184l6 9-6-25-6-6M996 1153l6 1-5-11-6 8M1062 1193l6-14-6-9-6-2M901 1097l6-6-5-6-5 5M785 1029l7 7-5-7-6-3M757 1018l6-1-4-7-6 3M1040 1161l6 2-6-10-6 5M1003 1144l6 3-6-11-6-5M967 1124l6-2-5-6-5 4M973 1122l6-4-5-7-6 5M1151 1213l6 2-6-10-6-5M1079 1177l6-4-6-11-5 7M914 1086l6-2-6-14-5 6M867 1063l6 2-4-10-6 1M821 1041l5-4-5-12-5 8M722 987l5-1-4-7-5 5M924 1092l5-12-5-11-4 15M838 1045l5-1-4-8-5 3M1079 1158l6 5-6-6-5-4M1162 1199l5-2-6-11-6 11M797 1013l6-1-4-4-6-2M1167 1197l6-3-6-20-6 12M1102 1164l5 0-5-14-6 9M893 1053l6 4-4-6-5 6M946 1077l6 3-5-4-6-9M774 994l4-7-3-3-4 8M1279 1228l4 7-6-14-6 5M1178 1186l6 1-7-6-5-15M1113 1159l5-11-6 0-5 3M942 1067l6 6-4-3-7-15M798 995l7 7-5-11-5 5M1290 1238l6-2-8 0-5-1M1283 1235l5 1-6-16-5 1M980 1088l5-1-5-11-5 6M805 1002l4-7-4-8-5 4M1147 1162l5-4-6-3-5-2M1079 1135l6-10-6-12-5 7M985 1087l5-4-5-9-5 2M1239 1201l5-1-6-14-5 3M1129 1141l5 11-6-14-5-3M784 978l6 3-5-10-5 3M1277 1221l6-9-6-12-6 11M1218 1189l5-5-6-9-5-4M1101 1124l5 5-5-9-6 6M1095 1126l6-6-6-8-5 4M942 1056l6-1-5-11-5 3M905 1034l6 6-5-8-5-6M893 1027l6 5-4-5-6-10M1106 1129l5-7-5-17-5 15M927 1042l5 1-5-17-5 6M1144 1144l6 1-6-12-5-1M1111 1122l5 1-5-3-5-15M1054 1096l5 3-5-5-5-5M970 1060l5-3-4-8-5 6M1116 1123l5-5-5 0-5 2M1111 1120l5-2-5-7-5-5M1054 1094l5 1-5-15-5-2M1035 1081l5-4-5-9-5 5M1059 1095l5-11-5-3-5-1M850 994l5-1-4-8-5 2M1075 1098l4-13-5-8-4 20M976 1045l6 2-5-8-5 3M951 1030l5 5-4-6-5-2M918 1015l6 3-5-6-5-7M982 1047l5-4-5-11-5 7M1041 1067l5 5-5-10-5 0M1013 1059l5-8-5-6-4 7M953 1024l5 0-5-7-4 5M858 981l5 6-4-10-5-3M1089 1086l5 2-5-10-5-1M958 1024l5-1-5-9-5 3M930 1012l5 4-4-4-5-2M863 987l5-5-4-7-5 2M1322 1195l5-9-6-13-5 7M1005 1046l5-6-5-7-4 0M1190 1124l5-5-6-2-4 0M865 976l5 1-3-4-5-3M1189 1117l5 0-5-18-5-3M859 964l6 6-4-7-5-4M1278 1143l4 12-5-17-5-4M1194 1117l5 3-6-12-4-9M1080 1067l4-7-4-5-5 18M990 1028l4-8-4-5-5 2M865 970l4-2-4-10-4 5M1361 1192l4-3-5-22-5 6M1020 1032l5-1-5-12-4 6M1193 1102l4 3-5-5-5-5M1104 1070l4-3-4-13-5-1M1056 1044l5-1-5-8-4 1M974 1004l5 7-4-9-5-6M1192 1100l4-1-5-10-4-5M1070 1050l5-2-5-5-4 3M1066 1046l4-3-4-7-5 7M1004 1018l5 0-5-16-5 7M944 997l4-6-4-9-4 4M1196 1099l5 0-6-6-4-4M1103 1061l5-6-5-1-4-3M1337 1148l4 5-6-10-4 4M939 980l5 0-5-10-4 5M966 991l4-11-4-6-4 7M1198 1086l5-6-5-5-5 4M940 970l5 3-4-7-5-1M911 954l5 3-4-4-4-1M1247 1102l5-7-6-13-4 7M1015 1006l4-10-4-9-4 0M1257 1106l4-9-5-14-4 12M1181 1070l4 1-5-12-4 4M1171 1067l4-11-5-1-4 3M1121 1047l5-5-5-11-4 4M1024 1002l4-2-4-10-5 6M984 978l5-1-5-8-4 9M936 962l4-3-3 1-5-1M904 943l5 4-4-4-5-5M1266 1095l4-5-5-4-4-7M1033 999l4-1-4-8-5 3M1270 1090l5-1-6-7-4 4M1397 1143l6-14-7-8-5 11M1193 1057l5 0-5-6-5 3M1093 1011l4 4-4-9-5 1M1021 983l5 5-5-6-4-7M1429 1147l3 0-6-6-4 0M1405 1137l5-4-7-4-3-4M1143 1027l4-1-4-4-5 3M1018 981l4-9-4-3-4 4M1328 1105l4-7-5-7-5 6M1287 1082l4 0-5-8-4 0M1119 1018l5-6-5-10-4 6M1003 968l4-1-4-3-4-2M999 962l4 2-4-7-4 2M1441 1137l3 2-6-7-4 0M1258 1064l4 6-5-11-4-2M1101 1005l5-1-5-2-4 0M1097 1002l4 0-4-4-4 0M1075 991l5 2-4-2-5-3M1047 989l4-12-5-6-4 8M1404 1129l5-9-6-10-4 5M1379 1110l4 2-6-10-4 5M1301 1087l4-2-5-18-4 7M1101 1002l5-2-5-12-4 10M1383 1112l4-4-5-12-5 6M1305 1085l4-5-5-12-4-1M1406 1115l4-4-6-4-4 2M1193 1028l4 2-5-7-4 3M982 945l5 3-4-7-5-3M1092 983l5 6-5-8-4 2M1020 958l4-5-4-2-4 4M1335 1078l3 1-5-10-3 0M1173 1015l3 5-4-8-4 1M1149 1006l4-2-4-7-4 4M1438 1109l3 3-5-14-3-1M1293 1066l5-9-6-7-4 3M1176 1020l5-6-5-8-4 6M1447 1115l4 0-6-10-4 7M1153 999l4 2-4-3-4-7M1364 1080l4-4-6-1-4 0M1180 1006l4 1-4-9-5 6M1122 988l4 2-5-8-4-3M1436 1100l3 0-6-4-4 5M1295 1047l4-1-6-1-4-1M1189 1011l4-2-5-7-4 5M1161 998l3 2-4-10-4 1M1388 1076l3 4-6-9-3-3M1364 1065l4 1-6-7-3 2M1245 1022l4 0-5-3-3-6M1151 989l4 2-4-8-4-2M1113 973l3-2-4-8-4 4M1164 996l4-7-4-8-4 9M1457 1095l3-2-6-5-4 6M1450 1094l4-6-5-8-4 2M1129 969l3 0-4-7-4 3M1262 1007l4 2-5-7-3-5M1148 965l4-1-4-2-4-6M1212 980l4 0-4-7-4-3M1139 951l3 1-4-4-3-5M1528 1075l3 3-6-9-3 0M1134 944l4-4-4-2-4 4M1531 1078l3-4-6-3-3-2M1218 976l4-10-5-3-3-1M1508 1068l3-2-5-8-4 6M1511 1066l4-2-5-10-4 4M1161 947l4-1-4-1-4-3M1521 1066l4-4-6-6-4 8M1515 1064l4-8-6-7-3 5M1084 913l3 4-3-5-4-4M1121 925l3-1-3-6-4 3M1084 912l3-2-3-2-4 2M1320 981l3 5-5-7-4 6M1182 941l4-6-4-2-3 2M1273 964l3 0-5-3-3 2M1215 948l4-6-5 3-3-2M1211 943l3 2-4-8-3 1"/>
<path color="#d54" d="M985 1186l7-3-6-4-6 4M847 1074l5-5-4-3-5 7M817 1044l4-10-3 1-5 11M1036 1134l5-3-5-1-5 4M1031 1134l5-4-5-2-6 2M1142 1167l6 0-6-1-6 8M871 1037l4-12-3 4-5 13M1027 1112l5-7-5-6-5 8M1135 1156l6-3-6-2-5 6M959 1064l5-8-5-4-5 8M945 1057l5-8-4 2-5 0M982 1067l5-8-5 6-5 4M895 1015l5 0-3-1-5 3M964 1032l5-3-4 1-5-1M916 1012l4-4-3-2-5 4M969 1029l5 0-4-2-5 3M965 1030l5-3-4-1-5 2M840 972l5-5-3 3-5 2M947 997l4-8-3 3-5-1M864 948l4-4-3-2-4 7M862 941l4 2-3-4-4 5M1325 1125l5-3-7-1-4 6M1121 1029l4-1-4 0-5-1M1370 1119l4-4-7 0-4 1M1361 1101l4-6-6-5-5 11M1295 1065l4-3-6 2-5 15"/>
<path color="#e54" d="M1175 1310l7-12-8 3-7 9M980 1183l6-4-5 1-7-1M1193 1291l6-5-7-8-7 11M942 1146l6-7-5-2-6 6M943 1137l6-5-5-2-6 9M944 1130l6-2-5-1-6 10M874 1090l6-1-4 0-6 3M870 1092l6-3-4-5-6 6M1224 1276l6-4-8 5-6 3M876 1089l6-5-4 0-6 0M1230 1272l6-2-8-3-6 10M1109 1205l6-5-6 3-6 6M1109 1203l6-8-6 2-6 5M976 1128l6-2-5 0-6 5M764 1019l5-6-3 0-5 6M1115 1195l6-1-6-1-6 4M982 1126l6-3-5 2-6 1M1115 1193l5-8-6 1-5 13M853 1056l5-8-3 3-5 8M1035 1142l6 1-6-4-5 10M1138 1185l5-2-6-3-5 7M1025 1130l6-2-5-1-6 0M895 1065l5-9-4 4-5 3M1207 1214l6-7-7 4-6 5M872 1048l4-12-3 8-5 7M1079 1149l6-13-6 3-5 14M959 1080l5-8-4 5-5 4M868 1033l5-4-4-4-5 7M805 999l5-5-3 2-5 0M1096 1137l5-5-5-1-6 7M1027 1099l6 1-5-2-5 10M970 1077l5-7-4 2-5 2M1090 1132l5-13-5 4-5 12M981 1071l5-5-4 1-6 4M954 1060l5-8-4 3-5 6M916 1040l5-3-4-1-5 3M1157 1141l5 4-6-5-5 4M1074 1093l5 1-5-2-5 3M920 1024l5-2-4-1-4 6M897 1014l4-6-3 1-5 4M868 996l5-2-4-3-5 3M834 977l5-2-3 0-5 3M839 975l4-5-3 2-4 3M1004 1046l5-6-4 3-5 3M1240 1152l5-12-6 5-6 9M1131 1100l5-4-5-2-5 10M1060 1063l5 0-5-2-5 9M966 1026l5-6-4 2-5 4M1239 1145l5-6-7 0-5 7M1131 1094l5-9-6 7-5 4M1055 1063l5-6-4 1-5 3M885 983l5-5-4 0-4 11M1244 1139l5-4-7 1-5 3M1060 1057l5-3-5 2-4 2M951 1008l5-1-4 0-5 5M905 993l4-8-3 0-5 1M936 1001l5-3-4 0-4 4M941 998l4-8-3 5-5 3M1109 1067l5-6-5 5-5 2M1003 1020l4-3-4-1-4 6M1080 1052l4-6-4 2-5 0M1118 1060l5-6-5 2-5 5M1264 1120l5-6-6 4-5 0M1094 1044l4-4-4 0-5 10M1094 1040l4-7-4 5-5 8M1307 1116l4-6-7 6-4 5M1192 1069l5-4-5-1-5 10M1409 1156l4-5-7 0-4 2M1304 1116l5-6-6-3-5 10M1308 1100l4 1-6 0-5 11M1125 1028l5-5-5 0-4 5M1344 1114l5-10-6-1-5 8M1188 1046l4-3-5 2-4 3M1030 979l4-3-4-3-4 5M1424 1131l5-10-8 6-5 10M1327 1091l4-3-6 1-4-4M914 927l4-5-3 3-4 5M1331 1088l4-5-6-1-4 7M1256 1053l4-5-6 5-4 2M1119 1001l4-5-4 1-5 7M1345 1082l4-6-6 7-5 5M1437 1114l4-3-7-1-5 9M1259 1046l4-7-5 5-5 13M1188 1019l4-2-5 0-4 2M1183 1019l4-2-5 2-4 1M1353 1075l4 3-6-3-4 6M1351 1075l4-9-6 7-5 6M1198 1009l4-5-4 3-5 6M1143 986l4-4-4 3-4 7M1456 1100l5-9-7-1-4 6M1419 1083l3-3-6 1-4 3M1404 1074l4-5-7 3-4 5M1182 986l4 0-5 0-4 8"/>
<path color="#a43" d="M1142 1337l7-9-7-9-7 11M834 1116l7-1-4 1-7-2M745 1061l7 5-4-5-6 0M771 1060l5-7-4 0-6 1M791 1065l6-4-4-1-6-1M750 1024l6-1-4-2-6 0M781 1026l6 3-4-9-5 4M1238 1258l6-13-7-3-6 5M1244 1245l5 0-7-1-5-2M1262 1246l6-10-7 0-6 6M808 1011l4-13-4-3-4 11M814 1000l6 1-4-7-6 0M812 995l6-1-5-10-4 11M1090 1123l5 3-5-10-5 9M1217 1175l6-6-7 2-5 1M832 985l6 3-4-4-5 0M958 1044l5-3-5-6-5 6M967 1040l5 2-4-5-5 4M894 1004l5-10-4-6-5 5M827 966l5-2-4-3-5 1M1084 1077l5 1-5-6-5 0M1027 1056l5-5-5-6-4 8M859 977l5-2-4-3-4 4M852 975l5-4-4-4-4 9M913 988l5 4-4-5-5-2M867 973l4-5-3-2-5-3M930 988l5 4-4-8-5 2M869 968l5-6-4-5-5 1M862 962l5-7-4 0-4 4M877 963l5 1-4-5-4 3M1123 1064l5 6-5-10-5 0M1108 1055l5-8-5-1-5 8M1391 1152l4 0-7-2-4-2M1315 1113l4 3-5-12-5 6M1080 1019l4-4-4 0-5-2M888 940l4-5-4-6-4 9M930 953l4-4-4 1-4-1M1153 1037l4-7-4-2-5 2M1134 1022l4 3-4-4-5-1M1188 1026l4-3-4-4-4 2M1236 1040l5-6-5-4-4 4M1269 1043l5-8-5-5-5 7M948 917l4-4-3-1-4 6M1480 1101l5-13-6-7-5 14M1411 1071l4-2-6-5-4 8M1209 978l3 2-4-10-4 8M1274 966l3-1-4-1-4-3M1280 967l4-5-4-6-4 8M1198 938l3-2-4-7-3 5"/>
<path color="#b43" d="M650 1131l6-10-4-5-5 15M808 1196l8 0-5-3-8-5M818 1188l7-1-4-4-8 2M833 1185l6-5-4 2-7 6M834 1164l7-4-5 0-7-2M838 1153l7-5-5-7-6 10M1135 1330l7-11-8-6-6 18M1128 1331l6-18-7-7-7 11M849 1151l7 1-5-5-6 1M941 1203l7-6-5 2-7 5M856 1152l6-6-5-7-6 8M847 1144l6-7-4 2-6 13M734 1073l7-1-4 0-6-2M720 1067l6-5-4-1-5 4M1041 1256l6-6-6-3-6 13M993 1227l6-5-6-6-6 5M853 1137l7 2-5-7-6 7M734 1073l5-11-3 0-6 9M730 1071l6-9-4-4-6 4M1047 1250l7-3-7-3-6 3M1005 1221l6 1-6-8-6 8M954 1195l7-4-6-6-6 3M728 1057l7 2-4-7-6 3M1054 1247l6-9-6-2-7 8M839 1116l7 6-5-7-7 1M768 1076l6-3-3-2-6 5M724 1050l6-1-4-3-6 0M854 1122l7 0-5-3-6 9M846 1122l6-3-5-4-6 0M730 1049l6-1-3 1-7-3M1152 1295l7-4-7-10-7 6M1001 1198l7 1-6-3-6 1M968 1184l6-5-4 5-7-7M897 1140l6-5-4-2-7 1M1180 1300l6 2-7-11-6 2M1131 1270l6-5-6-5-6 0M1125 1260l6 0-7-2-6-5M1008 1199l6-6-6-3-6 6M1002 1196l6-6-5 3-7-5M854 1116l5-10-4-3-6 10M768 1060l6 2-3-2-7 1M1124 1258l6-2-6-9-7 17M1043 1214l6-5-6-4-6 8M1020 1200l6-6-6-8-6 7M900 1131l7 2-5-10-7 1M850 1100l7-1-5-2-6-1M1200 1295l6 0-7-9-6 5M1130 1256l6 1-6-18-6 8M893 1122l6-3-5-8-6 4M764 1044l7 1-4-2-6 5M761 1048l6-5-4-5-5 8M751 1043l5-9-4 0-5 7M1199 1286l5 5-6-13-6 0M1061 1213l6-6-6-8-6 7M1004 1185l6-15-6-2-5 15M885 1110l6-5-5-2-6-3M797 1061l6 0-3 0-7-1M771 1045l5-3-3 2-6-1M767 1043l6 1-4-3-6-3M759 1036l7 7-4-7-6-2M756 1034l6 2-4-3-6 1M999 1171l6-9-5 1-6 10M891 1105l6 0-5 0-6-2M856 1090l6-2-4-2-6 3M800 1061l5-7-4-2-6 3M1027 1186l6-14-5-1-7 0M813 1059l6 0-5-7-5 4M746 1021l6 0-3 0-6-1M1028 1171l5-6-5-2-6 13M985 1147l6 4-5-8-6 9M950 1128l6 3-5-8-6 4M855 1074l6 5-5-8-5 7M814 1052l7 5-4-5-7-3M1103 1209l6-6-6-1-6 6M1091 1203l6-7-6-1-6 4M878 1084l5-4-4 0-5 7M861 1079l5-7-4-3-6 2M856 1071l6-2-4-2-6 2M841 1071l5-10-4 0-6 3M783 1036l6-3-4-4-6 0M1207 1264l6-15-7-6-6 21M854 1064l6 1-5-9-6 2M761 1019l5-6-3 4-6 1M1199 1244l6 0-7-4-6-5M1056 1171l6-8-6-6-5 6M902 1085l6 2-5-8-6-1M893 1078l6 5-5-11-5 6M824 1044l6 0-4-5-6 6M802 1041l5-9-5-14-4 16M826 1039l6 3-4-6-7-2M1231 1247l6-5-7-8-6 11M1145 1200l6 5-7-9-5 5M1040 1150l6-2-5-5-6-1M999 1124l6 5-6-6-5-1M984 1120l5-11-5-4-5 13M828 1036l6 3-4-2-6-4M798 1021l5-4-4-3-5 2M1251 1254l5-3-7-6-5 0M1237 1242l5 2-6-10-6 0M1120 1181l6 3-6-7-6 0M1091 1178l5-14-5-4-6 13M1085 1173l6-13-6 0-6 2M1052 1152l5-5-5-7-6 8M796 1013l6 3-4-6-6 2M786 1011l5-3-3-1-6 0M736 990l5-8-4-4-4 10M1208 1233l6-15-7-4-6 10M1132 1187l5-7-6-1-5 5M1114 1176l5-9-6 2-5 7M1041 1139l6-3-6-5-5 3M802 1016l5-6-4-1-5 1M788 1007l5-1-4-6-5 4M784 1004l5-4-4-5-4 13M1181 1206l5 3-6-13-6 5M1137 1180l6 0-6-4-6 3M892 1061l6-2-5-6-6-2M1137 1176l5-9-6 7-5-5M816 1016l6-1-4-3-6-1M787 993l6 6-3-5-6 0M784 994l6 0-4-5-5 7M778 996l4-9-3 0-4 8M1198 1209l6-8-7-9-5 7M992 1097l6 4-5-9-6 0M964 1089l5-9-5-8-5 8M822 1015l5 1-4-11-5 7M796 996l6 0-4-1-5 4M1148 1167l5 2-6-8-5 5M1037 1118l6-5-5-4-6 5M969 1080l6 2-5-5-6-5M827 1016l5-6-4-4-5-1M771 981l6-3-4-1-5 3M1159 1170l6-6-6-3-6 8M1153 1169l6-8-6 2-6-2M1043 1113l5-3-5-7-5 6M975 1082l5-6-5-6-5 7M1214 1190l6-4-7-5-5 3M1153 1163l5-12-6 7-5 4M1135 1151l5-4-5-3-6 1M1101 1132l5 6-5-14-5 7M776 977l4-3-3-4-4 10M1112 1134l5-8-5 6-6 6M1014 1092l5-7-5-1-5 2M920 1049l5-8-4-4-5 3M821 993l5-2-4-2-4 5M800 982l5-3-3 0-5 2M780 974l5-3-3-1-5 0M777 970l5 0-3-3-5 2M1271 1211l6-11-7-3-6 8M1258 1203l5-6-6-11-6 17M1251 1203l6-17-7-2-6 16M1244 1200l6-16-7 2-5 0M1019 1085l5-6-5-2-5 7M977 1069l5-4-4-5-5 4M973 1064l5-4-5-4-5 4M938 1047l5-3-4-2-5 5M921 1037l6 5-5-10-5 4M889 1017l6 10-5-10-5-2M822 989l6 0-4-3-5 3M802 979l5-1-3-1-5 0M792 978l5-8-3 3-4 8M1270 1197l5 2-7-4-5 2M1223 1184l6-13-6-2-6 6M943 1044l5-2-4-4-5 4M1262 1186l4 3-6-4-5 2M1255 1187l5-2-7-5-5 5M1248 1185l5-5-6 1-5-3M1242 1178l5 3-7-5-5 0M1168 1145l5-1-6-1-5 2M932 1043l4-14-4-4-5 1M900 1024l4-8-4-1-5 0M880 1012l5-3-4-4-5 6M917 1027l4-6-4-6-4 12M889 1014l5-2-4-7-5 4M821 981l5-1-4-4-5-1M875 998l5 3-4-7-5 1M968 1037l5-2-5-3-5-2M824 975l5-3-4-2-5 0M820 970l5 0-3-4-5 5M924 1018l4-7-4-4-5 5M919 1012l5-5-4 1-4 4M832 976l5-4-3-3-5 3M825 970l5-4-3 0-5 0M822 966l5 0-4-4-5-1M809 961l4-3-3-2-5-1M995 1047l5-3-4-4-5 2M837 972l5-2-3-1-5 0M834 969l5 0-4-4-5 1M807 958l5 0-3-6-5 6M1079 1072l5 0-5-1-4 5M856 976l4-4-3-1-5 4M835 965l5-3-4-1-4 3M832 964l4-3-3-4-5 4M815 955l5 1-4-7-4 9M1316 1180l5-7-6-8-6 18M1147 1105l5-10-6 3-5 1M1037 1055l4-8-4-1-5 5M1001 1033l4 0-4-1-5-1M996 1031l5 1-4-4-5 3M844 972l4-10-4-2-4 2M820 956l5-3-3 1-6-5M1294 1170l5-15-6 1-5 5M1225 1137l5-6-6-6-5 5M1010 1040l5-8-5 1-5 0M984 1023l5 2-4-2-5-2M909 994l4-6-4-3-4 8M1019 1040l5-6-5-6-4 4M1010 1033l5-6-4-4-5 7M948 1008l5-4-4-1-5 0M1104 1072l5-5-5 1-5 0M918 992l4-13-3 7-5 1M1114 1078l5-14-5-3-5 6M1070 1052l5-4-5-1-5-4M1061 1044l4 2-4-6-5 2M938 997l5-6-4 3-5-2M912 983l4-6-3 3-5 0M1034 1033l4-4-4-8-5 6M928 989l4-12-4 0-4 11M884 971l5-6-4-1-4 3M881 967l4-3-3 0-5-1M1047 1036l5-9-4 1-5 6M1012 1022l5-9-4 6-5-3M892 967l5-2-4-10-4 10M855 950l4-2-3 0-5-3M968 996l4 0-4-4-4 4M960 996l5-4-5-7-4 6M956 991l4-6-3-2-4 13M948 991l5-11-4-1-5 3M1313 1146l5-12-7 5-3-6M1282 1132l5-5-6-6-5 0M976 997l5-4-4-3-5 6M968 992l5-2-4-6-4 8M965 992l4-8-4 0-5 1M960 985l5-1-4 1-4-2M905 962l4-2-3 1-4 3M891 959l4-6-3 0-4 7M874 948l4 1-3-1-5-1M1281 1121l4-4-6 3-4-2M1108 1046l4-2-4-4-5 0M1084 1044l5-13-5-5-4 6M981 993l5-1-4-3-5 1M924 969l4-3-3 1-5-2M920 965l5 2-4-3-4 0M917 964l4 0-3-3-5 3M913 964l5-3-4-1-5 0M1152 1069l5-13-5-3-5 9M1094 1038l4 1-5-4-4-4M939 970l5 0-4 0-4-3M936 967l4 3-4-5-4 5M866 943l5-2-4-4-4 2M1237 1094l5-5-6-3-5 9M1403 1166l6-10-7-3-5 6M1384 1148l4 2-6-12-5 11M1357 1145l5-11-6-11-5 14M1319 1127l4-6-6-2-5 3M1198 1075l4 1-5-11-5 4M1093 1031l5-1-5-9-4 2M1084 1030l5-5-5-5-4 6M1007 993l4-3-4 2-4 11M945 973l4-10-3 0-5 3M878 937l5 4-3-4-5 0M1080 1021l4-5-4 3-5-4M1007 992l5-6-4 1-5-3M1212 1075l4-8-5 0-5 5M1206 1072l5-5-5-2-5-2M1170 1055l5-1-5-5-5-3M1126 1042l4-12-4-2-5 3M1089 1019l4 3-4-6-5 0M897 941l5-1-4-4-4 7M891 943l4-8-3 0-4 5M884 938l4-9-3 1-4 5M881 935l4-5-3 0-5-1M1190 1062l4-8-5-5-4 4M1080 1015l4-6-4-5-5 8M1024 989l5-6-4 2-5 2M1020 987l5-2-4 0-5 0M1016 985l5 0-5-4-4 4M902 940l4-4-3 2-5-2M1205 1059l4-3-5-6-4 5M1144 1039l5-3-5-6-4 1M1089 1008l4 3-5-4-4 2M1001 975l4 3-4-4-4-2M1188 1054l5-3-5-5-5 1M1144 1030l4 0-5-4-4 8M1139 1034l4-8-4-5-5 7M1037 992l5-4-4 2-5-3M938 949l4-2-3-3-4 3M1422 1141l4 0-7-4-3-5M1290 1092l5-9-6-3-4 7M1279 1084l5-6-6 0-5 1M1193 1051l4-1-5-7-4 3M1038 990l4-5-4-2-5 5M1026 988l4-9-4-1-5 4M1393 1123l5-5-8 4-4 3M1284 1078l3 4-5-8-4 4M1134 1021l4-3-5-1-4 2M1038 983l4-1-4-4-4-1M976 960l4-9-4-1-4 6M950 950l5 0-4-5-4 4M933 941l4-3-4-4-4 3M1378 1115l4-6-6-6-4 7M1162 1026l4 3-5-11-4 6M955 950l4-7-4 0-4 2M940 938l5 3-4-4-4 1M1291 1082l5-8-6-5-4 5M945 941l4-6-4-1-4 3M935 936l4-3-4-2-4 6M1257 1059l4 0-5-6-4-4M1175 1027l4-2-4-6-5 4M1170 1023l5-4-5-1-5 0M1137 1013l4-5-4-4-4 3M1080 993l4-11-4 4-4 5M939 933l4-3-3 2-5-1M1377 1102l5-6-6-5-5 7M1199 1034l4-5-5-2-4 6M1194 1033l4-6-5 1-4-3M1151 1014l4-6-5 5-4-1M1128 1007l4-3-5-5-4 6M1208 1035l4-4-5-2-4 0M1146 1007l4 1-5-6-4 2M927 923l4 3-3-4-4 4M1417 1113l5-13-6-5-6 16M1410 1111l6-16-7-3-5 15M1331 1078l4 0-5-9-4 0M1314 1070l4-7-6 8-4-2M1154 1013l5-8-5 2-4 1M1035 964l4-4-3-4-5 4M931 926l4-6-3 0-4 2M1242 1042l4-4-5-4-5 6M1206 1027l5-8-5 4-5 2M1154 1007l4-6-5 3-4 2M1153 1004l5-9-5 4-4-2M1468 1114l4 3-7-6-3 2M1314 1064l5-11-6 0-5 14M1096 978l4-2-4-3-4 7M1302 1053l4-6-6 3-3-5M1286 1039l3 5-5-6-4 5M1275 1044l4-7-5-2-5 8M1139 993l4-7-4 6-4-2M1105 974l4 4-5-5-4 3M1300 1050l4-6-5 2-4 1M1238 1023l3 0-4-7-4 2M1117 981l4-1-4-6-4 5M1113 979l4-5-4 3-4 1M1414 1089l5-6-7 1-4 1M1372 1073l4-4-6-2-3-3M1361 1063l3 2-5-4-4 4M1355 1065l4-4-6-6-4 7M1299 1046l4-7-5-5-5 11M1217 1016l4-9-5 9-4-5M1207 1008l4 3-5-4-4-3M1121 980l4-4-4-8-4 6M1469 1105l4-3-6-8-4 8M1292 1034l4 0-5-2-4 3M1147 981l4 2-5-4-4 6M1134 981l4-5-5-1-4 4M1117 972l4-8-5 7-3 2M1441 1092l4-10-6-5-4 5M1209 1005l4-9-4 1-4-1M1205 996l4 1-5-3-4 3M1493 1106l4-8-6-2-4 5M1468 1089l3-1-6-3-5 8M1430 1075l3-1-6 0-3-1M1424 1073l3 1-6-3-3-1M1257 1014l4-1-5-4-4-1M1242 1009l4 1-5-9-4 6M1120 966l4-7-4 0-4 7M1116 966l4-7-4-1-4 7M1108 961l4-4-4-2-4 4M1104 959l4-4-4-1-4 6M1427 1074l4-8-6-2-4 7M1421 1071l4-7-6-1-4 6M1318 1029l4 1-5-3-4 2M1250 1007l4-6-5 1-4-1M1104 952l3-3-4-2-3 3M1205 983l4-5-5 0-4 4M1275 1002l3 0-4-2-4 2M1148 958l3-6-4 0-4 3M1284 1002l3-1-5-1-4 2M1221 978l3-5-4-6-4 13M1236 972l4-2-5-3-3 4M1154 946l3 1-4-2-3 3M1150 948l3-3-4-8-3 10M1146 947l3-10-4-3-3 13M1138 940l3-4-4 1-3 1M1165 949l4-8-4 5-4 1M1284 982l4-3-5-3-4 9M1288 979l3 2-4-8-4 3M1239 963l4-12-4-1-4 11M1331 984l3 1-4-6-4 4M1219 948l4-10-4 4-4 6M1190 942l4-8-4-4-4 5M1186 935l4-5-5 5-3-2M1276 964l4-8-5 1-4 4M1271 961l4-4-4-3-4 3M1289 960l3 1-4-3-4 4M1213 933l4 0-5-3-3 5"/>
<path color="#932" d="M710 1173l7 0-4-7-7 5M689 1158l7-3-5-11-8 2M717 1173l6-13-5-8-5 14M696 1155l7-6-5-10-7 5M768 1195l7-5-4-1-8 1M785 1200l7-3-5-7-7 7M799 1194l8-2-6-11-6 8M807 1192l6-7-5-13-7 9M886 1220l7 1-5-1-8-3M821 1183l7 5-5-7-7-4M883 1217l7-5-6-4-6 11M1065 1319l7-10-7-12-7 12M828 1170l6-6-5-6-7 2M829 1158l7 2-5-7-7-7M670 1058l6-5-3-1-7-1M1121 1336l7-4-7-6-7-5M831 1153l7 0-4-2-8-6M796 1131l6-2-4-2-7 3M791 1130l7-3-5-10-6 11M1128 1332l7-2-7 1-7-5M1033 1272l7-1-7-11-6 7M1020 1261l7 0-6-5-7 1M1106 1308l7 5-7-16-7 2M713 1066l7 1-3-2-8-5M699 1059l7 2-4-5-7-5M695 1051l7 5-3-3-8-4M1015 1242l7 1-6-9-7 3M986 1231l7-4-6-6-7 1M843 1152l6-13-6-10-6 3M832 1128l7 2-5-5-6 3M706 1061l6-3-3-2-7 0M702 1056l7 0-4-4-6 1M699 1053l6-1-4-3-6 3M1148 1314l6 11-6-18-7-2M1035 1260l6-13-6-13-7 15M1028 1249l7-15-6 2-7 7M987 1221l6-5-6-6-6 4M937 1192l6-9-5-8-7 8M1154 1325l7-5-7-9-6-4M1112 1291l7 0-7-12-6-4M864 1142l7-1-5-1-6-1M855 1132l6 2-4-6-7-1M850 1127l7 1-5-6-7-1M828 1119l6-3-4-2-6 4M759 1084l6-8-5-10-5 9M944 1175l7 6-5-6-7-3M843 1120l7 8-4-6-7-6M720 1046l6 0-4-7-5 5M1119 1280l6-7-7-14-6-2M1018 1227l6-9-6-4-6 2M1012 1216l6-2-6-11-6-2M967 1189l7 2-6-7-6 3M882 1147l6-12-5-5-6 3M726 1046l7 3-4-7-7-3M1132 1281l6 2-7-13-6 3M1018 1214l7-2-6 0-7-9M996 1197l6-1-6-8-6 5M963 1177l7 7-6-7-6 6M958 1183l6-6-6-12-6 6M912 1156l6-5-5-3-6-4M907 1144l6 4-4-5-7 4M902 1147l7-4-6-8-6 5M847 1115l7 1-5-3-6 3M759 1064l5-3-4-7-6 0M729 1042l6 1-3-1-7-6M718 1034l6 1-3-4-6 3M715 1034l6-3-4-1-5 5M1098 1248l6 11-6-15-6 2M1013 1208l7-8-6-7-6 6M970 1184l6-5-6-10-6 8M964 1177l6-8-5-1-7-3M899 1133l6 6-5-8-6 0M884 1124l7 5-5-7-6-4M791 1072l6-2-5-7-6 2M764 1061l7-1-5-6-6 0M760 1054l6 0-4-3-6-5M714 1028l6-2-4-7-6 5M669 1007l6-6-4-6-6 1M1144 1283l6-7-6-15-7 4M1079 1237l6-10-6-17-6 19M1055 1219l6 1-6-5-6 1M1049 1216l6-1-6-6-6 5M997 1189l7 1-6-8-6 1M965 1168l6-4-5-7-7 3M785 1065l6 0-4-6-6-1M766 1054l6-1-4-4-6 2M738 1044l5-10-4-7-5 11M1092 1238l6 1-7-17-6 5M1055 1215l6-2-6-7-6 3M879 1120l6-10-5-10-6 8M831 1088l6-7-5-6-5 4M787 1059l6 1-4-11-6 2M747 1041l5-7-4-12-5 12M1098 1239l6-8-6-16-7 7M988 1170l6 3-5-7-6 8M837 1081l7 4-5-8-7-2M793 1060l7 1-5-6-6-6M1055 1198l6 3-5-7-7-6M994 1173l6-10-5-5-6 8M989 1166l6-8-6-1-6 3M983 1160l6-3-5-10-7-6M963 1155l6-3-5-4-6-4M905 1116l6 5-5-7-7-11M886 1103l6 2-5-8-6-3M839 1077l6 2-4-6-7-2M792 1056l6-4-4-4-7-5M707 1001l6 1-3-1-6-3M1050 1187l6 5-6-14-6 6M1016 1168l6 8-6-15-6-3M964 1148l6-2-5-7-6 4M954 1139l6-1-5-6-6 0M901 1107l7 11-5-10-6-3M892 1105l6-2-4-1-7-5M887 1097l7 5-5-8-6 2M837 1073l6 0-4 0-7-8M798 1052l6 5-4-5-6-4M761 1030l6 0-4-6-7-1M736 1013l6 4-4-8-5 4M713 1002l6 1-3-1-6-1M688 991l6 1-3 0-6-5M1022 1176l6-13-6-5-6 3M898 1103l6-1-4-3-6 3M894 1102l6-3-5-12-6 7M819 1059l6 2-4-4-7-5M767 1030l5-4-4-6-5 4M742 1017l6 1-5-12-5 3M719 1003l5-3-3-5-5 7M1187 1262l6-5-7-14-5 2M1141 1236l6-9-7-7-6 1M991 1151l6-8-6-12-5 12M956 1131l6-2-5-8-6 2M900 1099l6-1-5-1-6-10M874 1087l5-7-5-9-6 1M752 1022l5-4-4-5-5 5M748 1018l5-5-4-6-6-1M1147 1227l5 1-6-10-6 2M1028 1159l6-1-5-8-6 2M1002 1154l6-3-5-7-6-1M957 1121l6-1-6-6-5 7M858 1067l7 7-5-9-6-1M753 1013l6-3-4-7-6 4M743 1005l5-4-4-7-5 8M1220 1262l5-6-6-12-6 5M1146 1218l6 4-7-10-5-6M1062 1170l6 2-6-9-6 8M963 1120l5-4-5-14-6 12M907 1091l6 1-5-5-6-2M860 1065l6 2-5-7-6-4M829 1057l5-6-4-7-6 0M787 1029l6-2-5-9-5 2M713 985l6 2-4-11-6 3M1127 1205l6-7-7-9-5 5M1103 1193l5-6-6-13-5 9M1074 1175l5 2-5-8-6 3M1068 1172l6-3-6-15-6 9M1003 1136l6 2-5-10-6-2M866 1067l6 0-5-4-6-3M830 1044l6 5-4-7-6-3M793 1027l5-6-4-5-6 2M735 995l4-8-3-3-5 3M719 987l5 0-2 0-7-11M1074 1169l5-7-6-12-5 4M1004 1128l6 9-5-8-6-5M832 1042l6 3-4-6-6-3M806 1032l5-6-4-4-6 1M773 1006l6 0-4-3-7-9M1258 1266l5-9-7-6-5 3M1151 1205l5-3-6-9-6 3M1126 1191l6-4-6-3-6-3M995 1125l5-8-5-13-6 5M830 1037l5-5-5-9-4 14M826 1037l4-14-4-7-5 9M762 1000l5-4-4-7-5 2M1249 1245l6-3-7-10-6 12M1156 1202l6-3-7-2-5-4M1150 1193l5 4-5-13-6 2M1108 1176l5-7-5-7-6-2M1005 1120l6 8-5-13-6 2M839 1036l6 0-5-8-5 4M835 1032l5-4-4-5-6 0M1155 1197l6-11-6-11-5 9M1063 1151l5-3-5-7-6 0M940 1093l5-11-5-7-5 1M884 1058l6-1-6-16-5 7M845 1036l5 0-5-10-5 2M840 1028l5-2-4-5-5 2M815 1018l5 2-4-4-5 1M793 1006l6 2-5-9-5 1M768 987l7 8-4-9-6-2M1125 1165l5 4-5-9-6-2M1006 1118l6-7-5-1-6 2M1001 1112l6-2-5-6-6 2M996 1106l6-2-5-1-6-2M940 1075l6 2-5-10-5 0M890 1057l5-6-5-12-6 2M845 1026l6-1-5-10-5 6M799 1008l5-2-4-7-6 0M1173 1194l5-8-6-20-5 8M941 1067l6 9-5-9-6-8M895 1051l5 2-4-11-6-3M851 1025l5-1-4-11-6 2M793 999l5-4-3 1-5-2M790 994l5 2-4-7-5 0M771 992l4-8-4-3-5-2M1043 1128l5-9-5-6-6 5M998 1101l5 2-5-7-5-4M795 996l5-5-4-8-5 6M1171 1171l6 3-6-13-6 2M1069 1134l5-14-5-14-6 16M894 1045l5-2-5-8-5 0M1183 1177l5-1-6-10-5 8M1177 1174l5-8-6-15-5 10M899 1043l5-4-4-5-6 1M859 1016l6 5-4-3-6-8M820 1001l5-2-4-6-5 1M798 983l6 4-4-5-5-3M773 980l4-10-3-1-5 2M1293 1235l6-15-6-11-6 17M1287 1226l6-17-8 8-5 3M1213 1181l5 8-6-18-5-4M1188 1176l5-7-5-12-6 9M1106 1138l6-6-6-4-5-4M1085 1125l5-9-5-12-6 9M990 1083l5-10-5-8-5 9M900 1034l5 0-4-8-6-2M829 1003l5-2-4-7-5 5M807 987l6 1-4-3-5 2M804 987l5-2-4-6-5 3M1128 1138l6 2-6-15-5 3M1048 1098l6 4-5-9-6-2M790 981l4-8-4-7-5 5M1134 1140l5-8-6-10-5 3M1054 1102l5-2-5-4-5-3M1049 1093l5 3-5-7-5 0M948 1055l5-4-5-9-5 2M895 1027l5-3-5-9-5 2M807 978l5 1-3-1-5-1M804 977l5 1-4-6-5-1M778 963l5 4-3-4-6-2M1216 1171l5 4-6-6-5-4M1049 1089l5 5-5-16-5-5M1029 1079l6 2-5-8-6-2M904 1031l5-9-5-6-4 8M1144 1133l5 2-6-4-4-11M845 995l5-1-4-7-5-3M838 988l4-7-3-6-5 9M810 971l6 8-4-7-5-4M807 968l5 4-4-9-5 3M1326 1217l6-13-7-8-6 11M1116 1118l5-3-5-5-5 1M1111 1111l5-1-5-3-6-7M1054 1080l5 1-5-6-5-1M976 1050l5 2-5-7-5-2M846 987l5-2-4-9-5 5M1054 1075l6 3-5-13-5 2M1035 1063l5 5-4-5-6-8M972 1042l5-3-4-4-5 2M947 1027l5 2-5-9-4 7M880 1001l6 3-4-5-6-5M855 993l5-7-4-3-5 2M807 963l5 1-3-3-5-1M1336 1208l5-5-7-6-5 0M1085 1094l5-2-6-13-5 6M1036 1063l5 4-5-5-5-9M856 983l6 5-4-7-6-5M1090 1092l5-4-6-2-5-7M1084 1079l5 7-5-9-5-10M1070 1079l5-3-5-5-5 5M1065 1076l5-5-5-6-5-1M987 1043l4-7-4-5-5 1M1258 1166l5-8-5-14-5 8M1000 1044l5 2-4-13-5 7M839 969l5 3-4-10-5 3M1263 1158l6-7-6-10-5 3M1041 1062l5-7-5-8-4 8M963 1023l4-8-4-1-5 0M893 991l4-3-4-8-5 0M830 958l5 1-4-4-5 0M1327 1186l5-13-6-11-5 11M1019 1041l5 0-5-1-5 2M1001 1032l5-2-5-7-4 5M897 988l5 1-4-6-5-3M862 970l5 3-4-10-5-2M1351 1202l6-11-6-21-5 14M1195 1119l5-2-6 0-5 0M1099 1078l5-6-5-4-5 7M1094 1075l5-7-5-9-5 2M902 989l5-4-4-5-5 3M1357 1191l4 1-6-19-4-3M1109 1080l5-2-5-11-5 5M1094 1059l5 11-5-13-5-5M1065 1056l5-4-5-9-4 8M1015 1027l5 5-4-7-5-2M903 980l5 0-4-7-5 0M857 959l5 3-3-3-5-5M1051 1038l5 6-4-8-5-3M994 1020l5 0-4-3-5-2M990 1015l5 2-4-9-5-2M934 992l5 2-4-2-5-4M919 986l5 2-4-7-5 1M908 980l5 0-4-4-5-3M859 959l4-4-3-4-5-1M1365 1189l6-13-6-16-5 7M1187 1095l5 5-5-16-5 0M1124 1077l4 1-5-14-4 0M1065 1046l5 4-4-4-5-6M1043 1035l4 1-4-2-5-4M1038 1030l5 4-5-5-4 4M999 1020l5-2-5-9-4 8M995 1017l4-8-4-4-4 3M1371 1176l4 1-6-12-4-5M1197 1105l5-4-6-2-4 1M1099 1052l4 9-4-10-5-3M1061 1043l5-7-5-6-5 5M1043 1034l5-6-5-9-5 10M882 964l5 0-4-3-5-2M878 959l5 2-4-6-5-3M1375 1177l4 0-6-13-4 1M1369 1165l4-1-7-4-4 2M1191 1089l4 4-5-8-4-9M1128 1070l5-7-5-9-5 6M1099 1051l4 3-5-9-4 4M1066 1036l4 3-4-8-5-1M1048 1028l4 3-4-14-5 2M972 1001l4-4-4-1-4 0M897 965l5-1-5-13-4 4M883 961l5-1-4-4-5-1M879 955l5 1-3-2-5-2M1185 1086l4-1-5-13-4 2M1138 1072l4-7-5-11-4 9M1070 1039l5 1-5-11-4 2M1018 1022l4-13-4-3-5 12M1013 1018l5-12-5-7-4 4M934 975l5 5-4-5-5-4M930 971l5 4-4-5-5-2M902 964l4-3-4-6-5-4M1370 1166l5-8-7-2-4-1M1189 1085l5-5-5-3-5-5M1142 1065l5-3-5-11-5 3M1070 1029l5 4-5-8-4-3M985 1005l5-8-4-5-5 1M957 981l5 0-4-3-5-2M1075 1033l5-4-5-5-5 1M1022 1009l5-5-4-1-5 4M1018 1007l5-4-5-7-4 2M990 997l4 0-4-6-4 1M986 992l4-1-4-7-4 5M944 980l4-4-4-6-5 0M914 960l5 1-4-7-5 2M1392 1167l5-8-6-7-5 3M1242 1105l5-3-5-13-5 5M1172 1074l4-3-5-12-4 6M1075 1024l5 2-5-6-5-3M998 999l5 4-4-13-5 7M919 961l4 2-4-8-4-1M1098 1042l4-13-4 1-5 1M1003 1003l4-11-4-8-4 6M949 973l4-4-4-6-4 10M923 963l5-1-4-6-5-1M919 955l5 1-4-4-4 5M916 957l4-5-4-8-4 9M1388 1150l4-6-6-3-4-3M1207 1072l5 3-6-3-4 4M1202 1076l4-4-5-9-4 2M1166 1058l4-3-5-9-4 3M1098 1030l4 1-4-2-5-8M1075 1015l5 4-5-6-4-1M953 969l5 0-5-12-4 6M928 962l4-3-4-7-4 4M924 956l4-4-3-1-5 1M886 940l5 3-3-3-5 1M883 941l5-1-4-2-4-1M880 937l4 1-3-3-5-4M1261 1097l5-2-5-16-5 4M1185 1071l5-9-5-9-5 6M1155 1049l4-1-4-7-5-3M1140 1051l5-8-5 0-5-3M1028 1000l5-1-5-6-4-3M1008 987l4-2-4-4-4 2M932 959l5 1-4-5-5-3M925 951l5 2-4-4-5-1M1370 1127l4 2-6-6-3-6M1319 1116l4 1-5-10-4-3M1140 1043l4-4-4-8-5 7M1098 1025l4-4-4-3-5 4M1093 1022l5-4-5-4-4 2M989 977l4-4-4-8-5 4M926 949l4 1-3-4-5-2M909 947l4-7-4-3-4 6M1318 1107l3 6-5-10-4-2M1210 1070l4-5-5-9-4 3M1102 1021l4 3-4-4-4-2M1098 1018l4 2-5-4-4-2M1021 985l4 3-4-5-5-2M930 950l5-3-4-6-4 5M1275 1089l4-5-6-5-4 3M1269 1082l4-3-5-4-4-3M1001 974l4-3-3-3-5 9M1273 1079l5-1-6-4-4 1M1097 1015l5-6-5-7-4 4M1009 976l5-3-4-8-5 6M968 956l4 0-4-7-4 3M935 945l5 1-4-7-4 4M929 942l4-1-4-4-4-3M1432 1147l5-6-6-7-5 7M1386 1125l4-3-6-1-4-3M1324 1101l4 4-6-8-4-2M1177 1046l4-6-5-6-4 5M1172 1039l4-5-4-11-5 7M1138 1025l5-3-5-4-4 3M1115 1012l4 6-4-10-4 0M926 935l4 1-3-1-5-8M1437 1141l4-4-7-5-3 2M1403 1129l4 0-6-7-3-4M1384 1121l4-2-6-10-4 6M1181 1040l4-3-4-8-5 5M1097 1003l4 2-4-3-4-1M1093 1001l4 1-4-4-5 4M1190 1041l5-2-5-5-5 3M1171 1031l4-4-5-4-4 6M1166 1029l4-6-5-5-4 0M1080 994l4-3-4 2-5-2M1071 988l5 3-5-9-4 1M955 943l5 0-4-2-4-3M931 937l4-6-3-3-4 4M928 932l4-4-4-3-4 2M1438 1132l4-1-6-8-4-2M1195 1039l4-5-5-1-4 1M1106 1004l4-3-4-1-5 2M1076 991l4-5-5-8-4 4M1448 1137l5-10-7 0-4 4M1442 1131l4-4-6-11-4 7M1409 1120l3 0-6-5-3-5M1106 1000l4-10-5-11-4 9M1394 1108l4-7-6-6-5 13M1333 1085l3 4-5-11-4 6M1309 1080l5-10-6-1-4-1M1270 1062l5-9-5-5-5 7M1164 1018l4 2-4-8-4-2M1150 1013l4 0-4-5-4-1M1136 1008l5-5-5-7-4 8M1084 983l4 0-4-6-4-1M940 929l4-5-3-1-4-1M1308 1069l4 2-5-9-4-5M1222 1044l5-16-5-6-5 13M1202 1031l4-4-5-2-4 5M1197 1030l4-5-4-9-5 7M1168 1020l5-5-5-2-4-1M1145 1002l4 4-4-5-4 2M1141 1003l4-2-5-11-4 6M1118 992l4 3-4-7-4 3M987 948l4-7-4 1-4-1M1097 989l4-7-5 0-4-1M1338 1079l5-7-5-8-5 5M1251 1045l4-2-5-6-4 1M1172 1012l4-6-5-3-4-1M1149 997l4 2-4-8-4-4M1441 1112l4-7-5-12-4 5M1298 1057l4-4-5-8-5 5M1245 1034l4 1-5-5-4-1M1240 1029l4 1-5-3-4-2M1176 1006l4 0-5-2-4-1M1118 985l4 3-5-9-4 0M1445 1105l4 1-6-9-3-4M1358 1075l4 0-5-12-4 5M1335 1065l4-5-5-2-5 7M1153 998l4-4-5-3-4-3M1449 1106l3 2-6-7-3-4M1289 1044l4 1-5-8-4 1M1184 1007l4-5-4-14-4 10M1157 994l4 4-5-7-4 0M1126 990l4-5-5-7-4 4M1109 978l4-1-4-6-5 2M1092 971l4-7-4-4-4 4M1052 952l4-1-4-3-4 0M951 915l5 5-4-7-4 4M1439 1100l4-6-5-7-5 9M1396 1085l3-2-6-1-3-6M1343 1060l4-5-5-8-3-1M1188 1002l4 0-4-11-4-3M1109 971l4 2-5-6-4 2M1000 931l4-6-4-3-3 6M1443 1094l4-1-6-1-3-5M1192 1002l4-2-4-6-4-3M1129 979l4-4-4-6-4 7M1479 1110l4-6-6-5-4 3M1447 1093l3 1-5-12-4 10M1291 1032l3-2-4-8-4 5M1205 1007l4-2-4-9-4 8M1196 1000l4-3-5-4-3 1M1160 990l4-9-5-2-4 12M1155 991l4-12-4-4-4 8M1477 1099l3 2-6-6-3-3M1395 1075l4-8-5-9-5 11M1366 1056l4 0-6-5-3-4M1253 1024l4-10-5-6-3 2M1460 1093l5-8-6-5-5 8M1454 1088l5-8-6-10-4 10M1405 1072l4-8-6-6-4 9M1223 1009l4-4-5-6-4-1M1209 997l3 1-4-7-4 3M1133 969l4-1-5 1-3 0M1100 960l4-6-4-6-4 7M1340 1039l3 1-4-11-4 5M1246 1010l4-3-5-6-4 0M1217 995l4 3-5-5-4 5M1212 998l4-5-4-9-4 7M1132 969l4-8-4-6-4 7M1084 948l4-4-4-2-4-3M1235 1003l4 1-5-5-4 5M1230 1004l4-5-4-5-4 4M1226 998l4-4-5-5-4 9M1221 998l4-9-4-5-5 9M1180 981l4-1-5-2-4-6M1393 1052l3-3-5-8-4 9M1364 1048l4-10-5-6-5 8M1347 1036l4 1-5-6-4-2M1239 1004l4-10-5-2-4 7M1234 999l4-7-4-7-4 9M1179 978l4-4-4-1-4 1M1469 1077l4-6-6-4-4 8M1196 981l4 1-4-3-4-5M1153 966l3 2-4-4-4 1M1132 961l3-9-4-6-3 5M1266 1009l4-7-5-7-4 7M1191 975l4-3-4 0-4 0M1152 964l4-2-4-1-4 1M1148 962l4-1-4-3-4-1M1326 1022l4-8-5-9-4 10M1270 1002l4-2-5-7-4 2M1111 948l4-1-4-4-4 3M1493 1070l3-2-7 1-3-1M1115 947l3-2-3-8-4 6M1521 1084l4-10-6-2-4 7M1126 939l4 3-4-8-4 2M1130 942l4-4-4-5-4 1M1308 1001l4-5-5-4-4 7M1134 938l3-1-4-6-3 2M1317 997l3 2-5-6-3 3M1312 996l3-3-5-3-3 2M1273 978l3 6-4-7-4 3M1157 947l4 0-4-5-4 3M1137 937l4-1-4-4-4-1M1320 999l4-5-5-4-4 3M1315 993l4-3-5-5-4 5M1291 987l3-3-4-4-4 2M1157 942l4 3-4-13-4 5M1084 920l3-7-3 0-4-1M1279 985l4-9-4-4-4 3M1224 963l4 2-4-6-4 1M1220 960l4-1-5-1-3-3M1186 945l3 2-4-7-4 6M1165 946l3-4-4-6-3 9M1228 965l3-2-4-5-3 1M1224 959l3-1-4-2-4 2M1219 958l4-2-5-1-3-2M1087 917l4-7-4 0-3 2M1291 981l4-2-4-8-4 2M1282 974l4-2-5-3-3 0M1223 956l3 1-4-5-4 3M1168 937l3-1-4 0-3-6M1102 912l3-2-3-2-4 0M1062 900l4-7-4-1-3 11M1323 986l3-3-5-2-3-2M1094 904l4 4-4-6-3 5M1302 972l3 2-4-5-4 2M1056 895l3-5-3-3-4 2M1340 983l3 0-5 0-4 2M1334 985l4-2-5-8-3 4M1268 963l3-2-4-4-3-3M1267 957l4-3-5-1-3 3M1185 935l4-3-4-9-4 9M1135 912l3 0-4-4-3 7M1201 936l4-1-4-6-4 0M1138 912l4 2-4-5-4-1M1566 1045l3-3-6-7-3 2"/>
<path color="#d43" d="M951 1147l7-3-6-6-5 13M807 1060l6-1-4-3-6 5M733 988l4-10-3-1-4 8M874 1052l5-4-4-2-5 4M1124 1156l5-11-5-4-6 7M884 1027l5-10-4-2-5 14M1243 1186l5-1-6-7-5 4M1136 1102l5-3-5-3-5 4M974 1029l5-3-4-2-5 3M946 1012l5-4-4 4-5-5M1075 1051l5 1-5-4-5 4M1007 1017l5 5-4-6-5 0M950 992l5 0-4-3-4 8M1113 1057l5-10-5 0-5 8M1364 1143l5-10-7 1-5 11M1107 1034l5-3-5-8-5 6M1175 1056l5-4-5 2-5 1M1116 1033l5-4-5-2-4 4M1036 1003l5-12-4 6-5 1M1312 1101l4 2-6-3-4 1M1184 1049l4 5-5-7-4 0M1367 1115l5-5-7-3-4 5M1355 1112l4-9-6 1-4 0M1399 1115l4-5-6-4-5 7M1028 959l4-6-4 4-4 5M1203 1012l4-4-5-4-4 5M1463 1102l4-8-6-3-5 9M1238 1010l4-1-5-2-4 2M1276 1005l4-1-5-2-4 0"/>
<path color="#a32" d="M888 1220l7 1-5-9-7 5M1027 1267l6-7-6 1-7 0M834 1151l6-10-4 7-8-9M724 1068l6 3-4-9-6 5M961 1191l6-2-5-2-7-2M871 1141l6-8-6-11-5 18M1073 1244l6 3-6-4-7 3M996 1188l7 5-6-4-7-10M849 1113l6-10-5-3-6 1M869 1122l5-14-5-6-5 6M768 1049l7 3-4-7-7-1M1110 1231l6-15-6-2-6 0M831 1065l5-1-4-7-6 0M1140 1220l6-2-6-12-6 2M997 1143l6 1-6-13-6 0M879 1080l6-2-4-5-7-2M908 1087l6-1-5-10-6 3M989 1123l6 2-6-16-5 11M776 1008l6-1-3-1-6 0M805 1015l6 2-4-7-5 6M1131 1179l6-3-6-7-6 2M811 1017l5-1-4-5-5-1M991 1101l6 2-5-6-6-5M1209 1200l5-10-6-6-5 4M862 1021l5 3-4-5-6-8M1141 1153l5 2-6-8-5 4M1211 1172l5-1-6-6-5 1M1268 1195l5-1-7-5-4-3M1210 1165l5 4-6-7-5-5M840 992l5 3-4-11-5 3M809 978l5-3-4-4-5 1M913 1027l4-12-4-5-4 12M841 984l5 3-4-6-4 7M812 972l5-1-3-5-6-3M1059 1081l5-6-4 3-6-3M952 1029l5-2-4-3-6-4M888 995l5-4-5-11-4 9M1032 1051l5-5-5-2-5 1M1005 1033l5 0-4-3-5 2M861 963l4-5-3 4-5-3M913 980l4-5-3-2-5 3M863 955l5 1-3-1-5-4M868 956l5-3-4-4-4 6M1103 1054l5-8-5-6-5 5M1161 1056l5 2-5-9-5 4M1080 1026l4-6-4 1-5-1M1093 1021l5 8-5-9-4 5M1075 1013l5 2-5-3-4-4M1093 1014l4 2-4-5-4-3M1033 990l4 2-4-5-4-4M1005 978l4-2-4-5-4 3M1168 1040l4-1-5-9-4 5M1129 1020l5 1-5-2-4-3M932 943l4-4-3 2-4 1M1063 990l4 1-4-3-5-2M944 949l3-8-3-6-4 11M1088 1002l5-4-5-4-4 2M951 945l4-2-3-5-5 3M1185 1037l5-3-5-10-4 5M1093 998l4 0-4-8-5 4M1190 1034l4-1-5-8-4-1M935 931l5 1-4-3-4-1M1160 1012l4 6-4-8-5 5M1146 1012l4 1-4-6-5 1M1110 1001l4-6-4-5-4 10M1012 963l4-8-4-1-4-2M940 932l3-7-3 4-4 0M1387 1108l5-13-6-8-4 9M1031 963l4 1-4-4-4 0M1280 1062l4-9-5-8-4 8M1150 1008l4-1-5-1-4-4M1024 962l4-5-4-4-4 5M1330 1069l3 0-5-5-5 8M1201 1025l5-2-5-9-4 2M1168 1013l4-1-5-10-4 5M1241 1034l4 0-5-5-4 1M1092 980l4-7-4-3-4 3M1244 1030l4-3-5-5-4 5M1339 1060l4 0-4-14-5 12M1208 1013l4-2-5-3-4 4M1152 991l4 0-4-6-4 4M1104 973l5-2-5-2-4 1M1241 1023l4-1-4-9-4 3M1287 1035l4-3-5-5-4 1M1473 1102l4-3-6-7-4 2M1385 1071l4-2-5-6-4 0M1368 1066l4-8-6-2-4 3M1301 1038l4-1-5-5-4 2M1296 1034l4-2-6-2-3 2M1168 989l4-7-4-7-4 6M1304 1028l3 1-5-4-4 2M1112 965l4-7-4-1-4 4M1491 1096l3-3-6-6-3 1M1255 1010l4-2-5-7-4 6M1259 1008l3-1-4-10-4 4M1136 960l4-7-5-1-3 9M1328 1023l3-2-5 1-4 1M1196 979l4-4-5-3-4 3M1278 1002l4-2-4-5-4 5M1153 945l4-3-4-5-4 0M1296 988l3-5-5 1-3 3M1221 962l3 1-4-3-3-4M1338 994l3 2-5-5-3 2M1125 925l3-3-4 2-3 1M1227 958l4-1-5 0-3-1M1180 939l3 6-4-10-3-1M1326 983l4-4-5-2-4 4"/>
<path color="#c43" d="M832 1171l7-7-5 0-6 6M843 1156l6-5-4-3-7 5M709 1061l6-4-3 1-6 3M948 1197l6-2-5-7-6 11M862 1146l7-5-5 1-7-3M857 1139l7 3-4-3-7-2M712 1058l6-6-4-4-5 8M1010 1222l7 4-6-4-6-1M999 1222l6-8-5-6-7 8M832 1120l7-4-5 0-6 3M1060 1246l6 0-6-8-6 9M971 1193l7 2-5-5-7 2M966 1192l7-2-6-1-6 2M753 1066l6-3-3 3-7-5M995 1203l6-5-5-1-7 0M891 1141l6-1-5-6-6 6M886 1140l6-6-4 1-6 12M974 1191l6-8-6-4-6 5M917 1152l6-6-5 5-6 5M861 1122l6-2-5-3-6 2M894 1131l6 0-5-7-6-1M1137 1265l7-4-7-7-6 6M1131 1260l6-6-7 2-6 2M992 1183l6-1-6-5-6 2M752 1047l6-1-4-3-6 1M1144 1261l6-1-7-5-6-1M1032 1206l5-20-5-4-6 12M950 1148l7 7-6-8-5 6M758 1046l5-8-4-2-5 7M1143 1255l6-10-6 0-7 12M1136 1257l7-12-7 2-6-8M1067 1207l6-3-6-10-6 5M852 1089l6-3-5-9-6 8M847 1085l6-8-4 2-5 6M803 1061l6-5-4-2-5 7M1085 1205l6-2-6-3-6 8M1079 1208l6-8-6 2-6 2M1073 1204l6-2-6-4-6-4M949 1132l6 0-5-4-6 2M753 1025l6-5-3 3-6 1M1085 1200l6 3-6-4-6 3M970 1146l5-13-5-4-5 10M851 1078l5-7-4-2-5 5M1085 1199l6-4-6-5-6 1M1028 1163l6-7-6 3-6-1M951 1123l6-2-5 0-6 0M886 1090l6-5-5-8-5 7M836 1064l6-3-4-2-6-2M779 1029l6 0-4-3-5 5M776 1031l5-5-3-2-6 2M1139 1204l6-4-6 1-6 6M778 1012l5 0-3-3-6 1M1139 1201l5-5-6-7-5 9M1133 1198l5-9-6 0-6 0M1120 1185l6 6-6-10-6 5M1114 1186l6-5-6-4-6 10M863 1056l6-1-5-4-6-3M783 1012l6-1-3 0-6-2M1144 1196l6-3-6-7-6 3M1114 1177l6 0-6-1-6-3M1096 1167l6-7-6 4-5 14M1046 1148l6-8-6 2-5 1M1041 1143l5-1-5-3-6 0M869 1055l5-3-4-2-6 1M807 1022l5-4-3-2-6 1M803 1017l6-1-4-1-6-1M782 1007l6 0-4-3-5 2M1222 1232l6-15-7-1-6 17M1201 1224l6-10-7 2-5-3M1120 1177l5-6-6-4-5 9M971 1102l5-5-4 4-6-1M812 1018l6-1-3 1-6-2M1125 1171l6-2-6-4-6 2M1041 1131l6 2-5-6-6 3M781 996l5-7-4-2-4 9M775 995l4-8-3-4-5 3M1002 1104l5-3-5-7-5 9M875 1041l5-5-5-11-4 12M804 1006l4-11-3 4-5 0M800 999l5 0-3-3-6 0M1142 1166l5-5-6-6-5 12M1032 1114l6-5-6-4-5 7M1007 1101l6-2-5-9-6 4M880 1036l5-5-4 0-6-6M758 971l6 2-4-2-5 1M1229 1204l6-15-7 0-6 18M1215 1201l6-12-7 1-5 10M1141 1155l6 7-6-9-6 3M1130 1157l5-6-6-6-5 11M1118 1148l6-7-6 1-6 6M1048 1119l5-14-5 5-5 3M889 1035l5 0-4-7-5 3M1129 1145l6-1-6-3-5 0M1124 1141l5 0-6-6-5 7M980 1076l5-2-4-3-6-1M778 975l6 3-4-4-4 3M1146 1155l5-9-5 1-6 0M1053 1108l5-12-4 6-6 0M967 1067l6-3-5-4-5 4M887 1021l6 6-4-10-5 10M1264 1205l6-8-7 0-5 6M1112 1132l5-9-6 4-5 1M1043 1091l6 2-5-4-6 0M1029 1094l5-14-5 5-5 7M1024 1092l5-7-5-6-5 6M1014 1084l5-7-5-9-5 10M1005 1078l5-11-5 0-5 13M968 1060l5-4-4 1-5-1M819 989l5-3-3-1-6 0M805 979l5 1-3-2-5 1M785 971l5-5-3 0-5 4M779 967l5-3-3-1-5 3M1277 1200l5-4-7 3-5-2M1237 1182l5-4-7-2-5 16M1029 1085l5-6-5 0-5 0M871 1010l5 1-3-4-6-4M828 989l4-4-3-1-5 2M797 970l5 1-4-4-4 6M1162 1145l5-2-6-4-5 1M923 1026l6 6-5-6-5 4M932 1025l5 1-4-3-4 9M929 1032l4-9-4-3-5 6M885 1009l5-4-4 0-5 0M959 1031l5 1-4-3-5 2M899 1008l5 0-4-7-5 3M817 971l5-5-4-5-4 5M814 966l4-5-3 4-4 2M829 972l5-3-4-3-5 4M815 965l5-5-3 2-5 2M1009 1052l4-7-4-5-5 6M928 1011l5 1-3 0-6-5M843 970l6 6-4-9-5 5M830 966l5-1-3-1-5 2M817 962l5-4-3 0-6 0M996 1040l5-7-5-2-5 5M991 1036l5-5-4 0-5 0M945 1016l5-6-4 2-5-2M849 976l4-9-4-4-4 4M828 961l5-4-3 1-5-2M975 1024l5-3-4-1-5 0M967 1022l4-12-4 5-4 8M847 969l4-9-3 2-4 10M840 962l4-2-3 0-5 1M1300 1174l6-21-7 2-5 15M1288 1161l5-5-6-9-6 11M1065 1055l5 7-5-8-5 3M988 1025l5 1-4-1-5-2M838 957l4-2-3-5-4 9M944 1003l5 0-4-9-5 6M1029 1037l4-4-4-4-5 5M953 1004l4-8-4 3-4 4M925 990l5-2-4-2-4 6M922 992l4-6-4-7-4 13M914 987l5-1-4-4-5-3M1033 1033l5-3-4 3-5-4M915 982l5-1-4-4-4 6M865 958l5-1-3-2-5 7M1215 1111l5 2-6-9-5 4M1029 1027l5-6-5 1-4 9M954 995l5 0-4-3-5 0M1017 1019l4-3-4-3-5 9M955 992l5 4-4-5-5-2M896 969l4-7-3 3-5 2M858 950l4-3-3 1-4 2M873 953l4-5-3 0-5 1M1276 1121l5 0-6-3-5 6M1057 1030l4-12-4 0-5 13M972 996l5-6-4 0-5 2M957 983l4 2-4-4-4-1M916 967l4-2-3-1-5 1M908 960l5 4-4-4-4 2M870 947l5 1-4-5-4 6M977 990l5-1-5-5-4 6M878 949l5-6-4-2-4 7M1189 1077l4 2-5-7-5 1M1157 1065l5-11-5 2-5 13M1080 1031l4-4-4 2-5 4M1053 1021l4-6-4 1-5 0M925 967l4-6-3 1-5 2M1209 1083l5-17-6 9-5 15M1193 1079l5-4-6-6-4 3M1089 1034l4-3-4-8-5 4M1053 1016l4-6-4-2-5 3M974 980l5 0-4-5-5 5M867 937l5-1-3-1-5-1M1397 1159l5-6-7-1-4 0M1377 1149l5-11-6-8-6 21M1337 1138l6-16-7 4-5 8M1331 1134l5-8-6-4-5 3M1312 1122l5-3-6-9-4 6M875 937l5 0-4-6-4 5M1336 1126l4 2-6-5-4-1M1330 1122l4 1-6-10-5 8M1323 1121l5-8-7 2-4 4M1317 1119l4-4-6-2-4-3M1117 1035l4-4-5 2-4 2M1089 1025l4-5-4-1-5 1M1084 1016l5 0-5-1-4 4M1012 986l4-1-4 0-4 2M894 943l4-7-3-1-4 8M1384 1132l3 1-6-5-4 6M1314 1104l4 3-6-6-4-1M1200 1065l5-6-5-4-5 8M1195 1063l5-8-6-1-4 8M1150 1038l4 6-5-7-4 6M1130 1030l5 1-5-2-4-1M1116 1027l5 1-5-3-5-1M1089 1016l4-2-4-6-5 7M1084 1015l5-7-5 1-4 6M940 959l4-11-3 3-4 9M937 960l4-9-4-4-4 8M933 955l4-8-3 2-4 4M898 936l5 2-4-5-4 2M1130 1029l4-1-4-5-5 5M941 951l5 5-4-9-5 0M934 949l4 0-3-2-5 3M1418 1144l4-3-6-9-5 11M1158 1044l5-9-5-3-5 7M1134 1028l5-7-5 1-4 1M1120 1025l5-9-5-5-4 16M1116 1027l4-16-5 2-4 15M1285 1087l4-7-5-2-5 6M1148 1030l5-2-5-5-5 3M1111 1017l4-5-4-4-5 9M1102 1010l4-5-4 4-5 6M1033 988l5-5-4-6-5 8M1374 1115l4 0-6-5-5 5M1361 1112l4-5-6-4-4 9M1050 990l4-4-4-4-4 3M940 946l4-11-4 3-4 1M936 939l4-1-3 0-4 3M1026 974l4 0-4-6-4 4M1332 1098l5-10-6 0-4 3M1231 1053l4 2-5-7-4 1M1176 1027l4 0-5 0-4 4M1128 1010l5-3-5-3-4 8M1124 1012l4-8-4 4-5-6M1084 994l4-8-4 5-4 3M970 946l4-4-4 0-4 7M1367 1105l4-7-6-3-4 6M1142 1012l4 0-5-4-4 5M1353 1094l4-6-6-7-5 13M1346 1094l5-13-6 1-4 3M1261 1059l4-4-5-7-4 5M1184 1024l4 2-4-5-5 4M1155 1015l5-5-5-2-4 6M1015 962l5-4-4-3-4 8M1453 1127l4-7-6-5-5 12M1141 1004l4-2-4 1-5 5M1027 960l4 0-3-1-5-1M1429 1119l5-9-6-2-4 4M1424 1112l4-4-6-8-5 13M1192 1023l5-7-5 1-4 2M1159 1013l4-6-4-2-5 8M983 941l4 1-4-5-4 0M928 922l4-2-3-2-4 3M1441 1111l3 3-6-5-4 1M1028 957l4-5-4 0-4 1M983 937l4-3-3-1-4 10M1357 1078l4 0-6-12-4 9M1096 982l5-7-5 3-4-3M1349 1073l4-5-6-2-4 6M1343 1072l4-6-6-3-3 1M1320 1061l4-4-5-4-5 11M1126 987l4-1-4 0-4 3M943 919l4-5-3 1-4 0M1353 1068l4-5-6 0-4 3M1280 1043l4-5-5-1-4 7M1214 1015l4-3-5 2-4-2M1144 988l4 1-5-3-4 7M1100 976l4-3-4-3-4 3M1306 1047l3 3-5-6-4 6M1284 1038l4-1-5-3-4 3M1233 1018l4-2-5 1-5 5M1060 954l4 0-4-1-4 2M1384 1074l4 2-6-8-4 4M1378 1072l4-4-6 1-4 4M1304 1044l4-2-5-3-4 7M1293 1045l5-11-6 0-4 3M1288 1037l4-3-5 1-4-1M1283 1034l4 1-5-7-4 3M1147 982l4 7-4-8-4 4M1060 953l4-5-4-2-4 5M1382 1068l3 3-5-8-4 6M1319 1043l4-2-5 0-5 9M1313 1050l5-9-6-3-4 4M1308 1042l4-4-6 2-3-1M1142 985l4-6-4-3-4 9M1138 985l4-9-4 0-4 5M1435 1082l4-5-7 5-3 0M1429 1082l3 0-6-7-4 5M1380 1063l4 0-6-6-4 9M1374 1066l4-9-6 1-4 8M1235 1010l3 0-5-1-3-1M1471 1092l3 3-6-6-4 0M1372 1058l4-2-6 0-4 0M1233 1009l4-2-5 1-3 1M1214 1004l4-6-5-2-4 9M1418 1070l3 1-6-2-4 2M1218 998l4 1-5-4-4 1M1176 984l4-4-4-2-4 4M1137 969l4-3-4 2-4 1M1497 1098l4-4-7-1-3 3M1433 1074l4-4-6-4-4 8M1261 1013l4-4-5-5-4 5M1137 968l4-7-5 0-4 8M1184 981l4-3-4 2-4 1M1193 980l3 1-4-7-4 4M1184 980l4-8-5 2-4 4M1153 967l4-7-4 6-4-1M1140 958l4-1-4-4-4 7M1115 949l4-2-4 0-4 1M1511 1088l4-7-6-2-4 6M1271 1002l4 0-5 0-4 7M1280 1004l4-2-6 0-3 0M1160 965l4-9-4-3-4 9M1152 961l4-6-5-3-3 6M1151 952l4 4-4-6-4 2M1287 1001l4-6-5 1-4 4M1155 956l4-6-4-2-4 2M1122 939l4 0-4-3-4 9M1155 948l3 1-4-3-3 4M1513 1062l4-6-9 12-4 5M1162 948l4 0-4-1-4-2M1142 947l3-13-4 2-3 4M1534 1074l5-10-8 3-3 4M1222 966l4-7-5 3-4 1M1525 1067l4-9-8 8-2-3M1286 982l4-2-6 2-3-1M1172 940l4-6-5 2-3 1M1300 981l4-11-5-1-4 10M1231 957l4-8-5 0-4 8M1333 987l3-4-5 1-4 5M1261 962l4-1-5-6-3 7M1059 893l3-3-3 0-3 5M1224 943l3 0-4-5-4 10M1285 963l4-3-5 2-4 5M1214 945l4-10-4 2-4 0M1202 939l4-6-5 3-3 2"/>
<path color="#d53" d="M789 1199l7-6-4 4-7 3M895 1221l6-21-5 1-6 11M890 1212l6-11-5-1-7 8M841 1160l6-8-4 4-7 4M1120 1317l7-11-7 3-7 3M1046 1264l7-8-7 4-6 11M1040 1271l6-11-6-7-7 7M950 1206l7 2-5-9-7 7M845 1148l6-1-4-3-7-3M851 1147l6-8-4-2-6 7M1004 1226l6-4-5-1-7 0M737 1072l6-9-4-1-5 11M726 1062l6-4-4-1-6 4M722 1061l6-4-3-2-6 5M719 1060l6-5-4-4-6 6M959 1192l7 0-5-1-7 4M736 1062l6-1-4-2-6-1M718 1052l6-2-4-4-6 2M994 1208l6-7-5 2-7-1M756 1064l7 1-4-2-6 3M742 1061l6 0-4-6-6 4M1029 1220l7-5-6 1-6 13M978 1195l6-14-5 8-6 1M748 1061l6-7-4-6-6 7M921 1149l7 0-5-3-6 6M859 1106l6-2-4-6-6 5M855 1103l6-5-4 1-7 1M888 1115l6-4-5 0-5 8M754 1043l5-7-3-2-5 9M1067 1211l6-10-6 6-6 6M778 1051l5-14-4 2-4 13M1149 1245l6 5-6-9-6 4M1010 1170l6-2-6-10-6 10M872 1092l7 2-5-4-5 7M1044 1184l6-6-6-6-6 8M809 1056l5-4-4-3-5 5M1110 1214l6-9-7 0-6 4M880 1089l6 1-4-6-6 5M1181 1245l5-2-6-8-6 14M1039 1168l6-3-6-8-6 8M852 1069l6-2-4-3-6 2M883 1080l6-2-4 0-6 2M713 987l6-4-3 1-6 1M1213 1249l6-5-7-12-6 11M1051 1163l5-6-5 4-6-1M889 1078l5-6-4-2-5 8M885 1078l5-8-4 0-5 3M881 1073l5-3-4 1-6-2M820 1045l6-6-5-5-4 10M772 1015l6-3-4-2-5 3M769 1013l5-3-4-8-4 11M766 1013l4-11-3 2-4 13M1121 1194l5-5-6-4-5 8M1097 1183l5-9-5-10-6 17M1035 1148l5 2-5-8-6 9M993 1126l6-2-5-2-6 1M857 1057l6-1-5-8-5 8M807 1032l6-3-4-4-7-7M1224 1245l6-11-7-1-6 6M787 1013l5-1-3-1-6 1M792 1012l6-2-4-3-5 4M789 1011l5-4-3 1-5 3M1144 1186l6-2-7-1-5 2M1102 1160l6 2-6-5-6 7M747 984l5-2-3-5-6 2M743 979l6-2-3 0-5 5M1143 1183l6-6-6 3-6 0M1143 1180l5-10-6-3-5 9M986 1092l6 5-5-5-5 4M1197 1192l6-4-7-7-5 12M1136 1167l5-12-6 1-5 5M808 995l6 5-4-6-5 5M778 987l5-7-3-2-5 6M775 984l5-6-3 0-6 3M1222 1207l6-18-7 0-6 12M1190 1184l6-10-7 0-5 13M1101 1135l6-2-6-1-5 5M1053 1120l5-20-5 5-5 14M885 1031l5-3-4 0-5 3M757 971l4-11-2 3-5 6M1112 1135l6-4-6 3-5-1M985 1074l5-9-4 1-5 5M1038 1089l6 0-5-7-5 12M1034 1094l5-12-5-2-5 14M964 1056l5 1-4-1-6-4M782 970l5-4-3-2-5 3M1291 1205l5-13-8 15-5 5M922 1032l5-6-4 0-5 1M824 986l5-2-4-3-4 4M821 985l4-4-3-3-4 8M818 986l4-8-4-2-4 5M1069 1098l5-5-5 2-5 7M966 1044l5-1-4-3-5 1M933 1023l5-4-4-3-5 4M871 995l5-1-3 0-5 2M799 967l5-7-4-5-4 9M1064 1084l5-19-5 10-5 6M930 1018l5-1-4-6-5 1M973 1035l4-6-4-4-5 7M927 1016l5-10-4 5-4 7M842 973l5 0-4-3-4 5M818 961l5 1-3-2-5 5M813 958l6 0-4-3-5 1M1065 1065l5-2-5 0-5 0M970 1027l5-3-4-4-5 6M822 958l4-3-3-3-4 6M819 958l4-6-3 4-5-1M1169 1114l5-16-6-4-5 20M1163 1114l5-20-5 2-6 15M1157 1111l6-15-6-2-5 15M1152 1109l5-15-5 1-5 10M987 1026l5-3-4 2-5 1M983 1026l5-1-4-2-5 3M979 1026l5-3-4-2-5 3M971 1020l5 0-5-10-4 12M836 961l5-1-3-3-5 0M1307 1168l6-17-7 2-6 21M1281 1158l6-11-7-3-5 10M1152 1095l4-2-5-1-5 6M959 1008l5 1-4-6-5 6M844 960l5-2-4-7-4 9M841 960l4-9-3 4-4 2M1015 1032l4-4-4-1-5 6M953 999l5-5-4 1-5-1M949 994l5 1-4-3-5-2M1119 1064l4 0-5-4-4 1M931 984l4-8-3 1-4 12M1034 1021l5-2-5 1-5 2M1029 1022l5-2-4-4-5 3M921 971l4 2-3-3-5 5M889 965l4-10-3 6-5 3M1123 1060l5-6-5 0-5 6M1094 1049l4-4-4-1-5 1M1123 1054l4-2-5-3-4 7M1118 1056l4-7-4-2-5 10M1061 1030l5-8-5-4-4 12M867 949l4-6-3 1-4 4M1113 1047l4-5-5 2-4 2M1080 1032l4-6-4 5-5 9M1026 1008l5 1-4-3-5 3M973 990l4-6-4-2-4 2M1382 1160l4-5-6-8-5 11M1112 1044l5-5-5-1-4 2M951 981l4-13-4 3-4 9M928 966l5-4-4-1-4 6M921 964l5-2-4-3-4 2M1057 1015l5-4-5-1-4 6M1023 1003l4-8-4 4-5-3M871 941l4-4-3-1-5 1M1370 1151l6-21-7 3-5 10M888 940l5-2-4 1-4 0M872 936l4-5-3-1-4 5M1311 1110l4 3-6-3-5 6M1084 1020l5-1-5-3-4 5M938 960l4-9-3 4-4 3M1180 1059l5-6-5-1-5 4M1112 1031l4-4-5-3-4-1M965 967l4-5-4-1-4 9M1185 1053l4-4-5 0-4 3M1084 1009l4-2-4-8-4 5M1130 1023l4-1-5-2-4 3M1125 1023l4-3-4-4-5 9M952 953l5-3-4 0-4-3M1363 1116l4-1-6-3-4-2M1106 1017l5-9-5-3-4 5M1157 1030l5-4-5-2-4 4M1153 1028l4-4-5-1-4 0M1102 1009l4-12-4 3-5 2M1034 977l4 1-4-2-4 3M909 929l4-3-3-2-4 3M1431 1134l3-2-5-11-5 10M1372 1110l4-7-6 1-5 3M1143 1022l4-10-5 1-4 5M958 946l4-6-3 3-4 7M1088 994l5-4-5-4-4 8M1337 1088l4-3-6-2-4 5M1296 1074l4-7-5-2-5 4M1185 1024l4 1-5-1-4 3M1180 1027l4-3-5 1-4 2M1133 1007l4-3-5 0-4 0M1084 991l4-7-4-2-4 11M1051 977l4-6-4-2-5 2M1371 1098l5-7-6-5-5 9M1300 1067l4 1-5-6-4 3M1123 1005l4-6-4-3-4 5M1092 988l5-4-5-1-4 1M1184 1021l4-2-5 0-4-1M1119 997l4-4-5-1-4 3M1207 1029l5-10-6 8-4 4M1031 960l5-4-4-3-4 6M1323 1072l5-8-5-10-5 9M1163 1007l4-5-4-4-4 7M1127 990l4-2-4-1-5 8M991 941l3-7-3 2-4 6M987 942l4-6-4-2-4 3M935 920l4-5-3-4-4 9M932 920l4-9-4-1-3 8M1458 1113l4 0-7-3-4 1M1211 1019l4-1-5-4-4 9M1101 982l4-4-4-3-5 7M1032 952l4-3-4 1-4 2M1462 1113l3-2-7 1-3-2M1215 1018l4-5-5 2-4-1M1105 978l4 2-4-6-4 1M1341 1063l4-3-6 0-4 5M1307 1054l5-8-6 1-4 6M1254 1033l4-10-5 6-4 6M1171 997l4-4-5 2-4 1M1096 973l4-3-4-3-4 3M1060 957l4-4-4 1-4 1M1279 1037l4-3-5-3-4 4M1223 1016l4-5-5-1-4 2M1148 989l4-4-5-3-4 4M1232 1017l4-8-5 0-4 2M1117 974l4-6-4 4-4 5M1353 1055l5-8-7 5-4 3M1467 1094l4-2-7-3-3 2M1422 1080l4-5-5-6-5 12M1416 1081l5-12-7 1-4 9M1351 1052l4-5-6 1-4 3M1323 1041l4-2-5-5-4 7M1312 1038l4-3-6 2-4 3M1138 976l4-8-5 1-4 6M1432 1082l5-9-7 2-4 0M1384 1063l4-11-6 3-4 2M1305 1037l4-10-5 1-4 4M1364 1051l5-6-6-3-4 6M1359 1048l4-6-6 2-4 6M1237 1007l4-6-4-7-5 14M1471 1088l5-11-7 1-4 7M1254 1001l4-4-5-3-4 8M1249 1002l4-8-5 0-4 14M1188 978l4-4-4-2-4 8M1476 1074l4-4-7 1-4 6M1335 1025l4-2-6 0-3-1M1161 964l4 3-4-7-4 0M1200 975l3-7-4 2-4 2M1156 962l4-9-4 2-4 6M1147 950l4 0-4-8-4 2M1224 973l4-1-4-4-4-1M1228 972l4-1-5-2-3-1M1227 969l4-5-5 1-4 11M1260 969l4-6-5 2-4 0M1129 925l3-6-4 3-3 3M1262 963l4 0-5-1-3-1M1176 934l3 1-4-4-4 5M1310 971l4-5-5 3-4 5M1219 942l4-7-5 0-4 10M1206 937l4-1-4-3-4 6M1275 957l4-5-5 1-3 1M1214 937l3 0-4-4-3 3"/>
<path color="#e53" d="M816 1196l6-10-4 2-7 5M837 1183l6-10-4 7-6 5M839 1180l6-16-4 6-6 12M837 1174l6-12-4 2-7 7M839 1164l6-5-4 1-7 4M1134 1313l7-8-7-1-7 2M947 1204l6-11-5 4-7 6M1134 1304l6 2-7-5-6 6M741 1072l5-7-3-2-6 9M715 1057l6-6-3 1-6 6M766 1082l5-12-3 6-6 0M739 1062l6-1-3 0-6 1M725 1055l6-3-4-5-6 4M1000 1208l6-7-6 0-6 7M1000 1201l7-3-6 0-6 5M1030 1216l6-9-6 2-6 9M1014 1193l6-7-6 3-6 1M777 1057l6-6-5-5-4 16M889 1111l6-11-4 5-6 5M1004 1168l6-10-5 4-6 9M1038 1180l6-8-5 3-6 15M879 1094l5-7-4 2-6 1M853 1077l6-4-4 1-6 5M1039 1175l5-7-5 0-6 4M1033 1172l6-4-6-3-5 6M697 990l4-11-2 5-5 8M1044 1168l6-1-5-2-6 3M1033 1165l6-8-5-1-6 7M882 1084l5-7-4 3-5 4M848 1066l6-2-5-6-5 10M1180 1235l6-7-7 6-6 6M1115 1200l6-6-6 1-6 8M942 1110l5-20-4 11-5 19M767 1016l5-1-3-2-5 6M704 985l5-6-3 0-4 7M987 1125l6 1-5-3-6 3M1091 1181l6-17-6 6-6 16M1056 1157l6-11-5 9-6 6M894 1072l6-4-4 2-6 0M890 1070l6 0-5-6-5 6M821 1034l7 2-4-3-6 2M813 1029l4-11-3 0-5 7M1138 1189l6-3-6-1-6 4M901 1065l6-4-4 1-6 3M897 1065l6-3-5-4-5 8M742 985l5-1-4-5-5 3M1096 1164l6-7-6 3-5 0M741 982l5-5-4-6-5 7M1270 1244l5-2-7-6-6 10M1085 1151l5-18-5 3-6 13M1148 1170l6-3-6 0-6 0M828 1011l5-7-3 3-5 10M779 987l5-2-3 0-5-2M781 985l5-8-3 3-5 7M1032 1105l6-9-5 4-6-1M881 1031l5-3-4-3-5 4M777 978l4-5-3 2-5 2M1228 1189l5 0-7-2-5 2M1221 1189l5-2-6-1-6 4M1165 1164l5-11-6-5-5 13M1159 1161l5-13-6 3-5 12M1096 1131l5-7-6-5-5 13M1033 1100l5-3-5-2-5 3M886 1028l5-3-4-4-5 4M1118 1131l5-3-6-2-5 8M1038 1097l5-6-5-2-5 6M1238 1186l5 0-6-4-6 6M1151 1146l6-5-6 3-5 3M1009 1078l5-10-4-1-5 11M986 1066l5-7-4 0-5 8M917 1036l5-4-4-5-5 9M795 973l5-2-3-1-5 8M939 1042l5-4-4-1-6 0M787 966l5-4-3 3-5-1M961 1048l5-4-4-3-5 5M944 1038l4-9-4-2-4 10M940 1037l4-10-4 4-4 10M936 1029l5-4-4 1-5-1M924 1026l5-6-4 2-5 2M904 1016l5-9-4 1-5 7M900 1015l5-7-4 0-4 6M929 1020l5-4-4 2-5 4M925 1022l5-4-4-6-5 9M968 1032l5-7-4 4-5 3M820 960l5-4-3 2-5 4M949 1012l5-6-4 4-5 6M884 989l4-9-3 3-5 2M1245 1140l5-6-6 5-5 6M1065 1063l5-6-5-2-5 6M1060 1061l5-6-5 2-5 6M950 1010l5-1-4-1-5 4M888 980l5 0-3-2-5 5M849 963l5-1-3-2-4 9M955 1009l5-6-4 4-5 1M851 960l5-1-4-1-4 4M848 962l4-4-3 0-5 2M1299 1155l6-9-8 7-4 3M956 1007l5-3-4 0-5 3M940 1000l5-6-4 4-5 3M909 985l5 2-4-8-4 6M957 1004l4-7-4-1-4 8M945 994l4 0-4-4-4 8M892 974l5-4-4 1-4 4M1166 1088l5-5-6 2-5 12M1089 1056l5-7-5-2-5 13M1084 1060l5-13-5 1-4 7M1080 1055l4-7-4 4-5-1M893 971l5-7-4 4-4 9M1165 1085l5-9-5 4-5 14M1084 1048l5 0-5-2-4 6M920 981l4-9-3-1-5 6M916 977l5-6-4 4-4 5M1159 1080l5-7-5 0-5 12M1089 1048l5 1-5-4-5 1M1052 1028l4-1-4 0-5 9M992 1004l4-5-4 1-4 3M1128 1054l4-2-5 0-4 2M1098 1045l5-5-5 0-4 4M1098 1040l5-4-5-3-4 7M997 1002l4-11-4 2-4 8M1027 1006l4-8-4 6-5 5M973 982l5-5-4 3-4 10M954 975l5-6-4-1-4 13M1117 1039l5 0-5-2-5 1M1062 1015l4 0-4-4-5 4M1027 1004l4-8-4-1-4 8M933 962l4-3-4-2-4 4M926 962l4-6-3 1-5 2M1344 1135l6-17-7 4-6 16M1208 1075l5-13-6 10-4 8M1011 990l4-7-3 3-5 6M949 963l4-6-3 0-4 6M1309 1110l5-6-6-4-5 7M1121 1031l5-3-5 1-5 4M1180 1052l4-3-5-2-4 7M915 943l4-8-3 5-4 5M885 930l4-5-3 3-4 2M1200 1055l4-5-5 2-5 2M1231 1057l4-1-6 3-4 11M1045 988l5 2-4-5-5 8M1376 1117l4 1-6-3-4 4M1163 1035l4-5-5-6-4 8M1158 1032l4-8-5 6-4 7M1115 1013l5-1-5 0-4 5M1106 1005l4-5-4-3-4 12M979 953l4-5-3 3-4 9M1365 1107l5-3-7 0-4-1M1138 1018l4-5-4 1-5 3M1054 986l4-12-4 5-4 3M1034 976l4-6-4-1-4 4M1248 1056l4-7-6 6-4 2M1142 1013l5-2-5 1-4 2M1054 979l5-14-4 10-4 13M1093 990l4-4-5 2-4-2M1088 986l4 2-4-4-4 7M1055 975l4-3-4-1-4 6M942 933l4-7-3 4-4 3M1436 1123l4-7-7 2-4 4M1359 1090l5-4-7 2-4 6M1019 960l4-2-3 0-5 4M1440 1116l4-1-7-1-4 4M1260 1048l5-11-6 9-5 7M1123 996l4-7-4 4-4 4M1444 1115l4-3-7-1-4 3M1212 1031l5-12-5 0-5 10M1318 1063l5-9-7 9-4 8M1192 1017l4-11-5 11-4 0M1159 1005l4-7-5 3-4 6M1158 1001l4-5-4-1-5 9M1131 988l4-3-4 1-4 1M1044 954l4-1-4-3-4 6M1347 1066l4-3-6-3-4 3M1313 1053l4-7-5 0-5 8M1259 1035l5-13-6 1-4 10M1166 996l4-1-4-1-4 0M1253 1029l4-8-5 1-4 5M1248 1027l4-5-5-2-4 2M1166 994l4-6-5 2-4 5M1428 1088l4-7-7 0-3 1M1422 1082l3-1-6 2-5 6M1252 1022l4 1-5-4-4 1M1222 1010l4-4-5 1-4 9M1425 1081l4 1-7-2-3 3M1261 1022l4-6-5 4-4 3M1178 993l5-10-5 6-4 6M1410 1079l4-9-6-1-4 5M1318 1041l4-7-6 1-4 3M1142 976l4-6-4-2-4 8M1439 1077l4-1-6-3-5 9M1378 1057l4-2-6 1-4 2M1310 1037l5-11-6 1-4 10M1264 1013l4-3-5-1-5 14M1437 1073l3-4-7 5-3 1M1382 1055l4-4-6 0-4 5M1232 1008l5-14-5 7-4 6M1190 987l4-5-4-1-4 5M1186 986l4-5-5 0-4 5M1181 986l4-5-5-1-4 4M1088 949l4-3-4 0-4 2M1501 1094l4-9-7 4-4 4M1189 981l4-1-5-2-4 3M1505 1085l4 0-8 1-3 3M1333 1023l4-4-6 2-3 2M1285 1004l4-9-5 7-4 2M1165 958l3-4-4 2-4 9M1293 995l3 1-5-1-4 6M1232 971l3-4-4-3-4 5M1531 1067l5-10-7 1-4 9M1169 946l4-6-4 1-4 8M1145 935l4-6-4 1-4 6M1169 941l4-5-5 6-3 4M1259 965l3-2-4-2-4 3M1194 934l3-5-4 0-3 1M1210 936l3-3-4 2-3-2M1573 1041l3-5-7 6-3 3"/>
<path color="#c53" d="M669 1141l5-12-3 1-5 15M653 1128l6-8-3 1-6 10M816 1210l7-6-5-1-8-1M813 1201l7-10-4 5-8 0M1093 1309l7-5-7 1-7 11M1093 1305l6-6-7-4-6 7M760 1086l6-4-4-6-6 2M993 1216l7-8-6 0-7 2M983 1195l7-2-6-12-6 14M892 1134l7-1-5-2-6 4M717 1030l6-6-3 2-6 2M864 1108l5-6-4 2-6 2M774 1062l4-16-2 7-5 7M775 1052l4-13-3 3-5 3M989 1157l6-13-5 3-6 0M1186 1243l6-8-6-7-6 7M707 982l6 3-4-6-5 6M1219 1244l5 1-7-6-5-7M811 1026l4-14-3 6-5 4M1229 1234l6-14-7-3-6 15M770 993l5 0-3-1-5 4M1150 1184l5-9-6 2-6 6M1119 1167l6-2-6-7-6 11M1090 1152l6-15-6-4-5 18M1038 1109l5-6-5-7-6 9M1118 1142l5-7-5-4-6 4M890 1028l5-4-4 1-5 3M1233 1189l5-3-7 2-5-1M1152 1158l5-19-6 7-5 9M813 984l6 5-4-4-5-2M793 979l6-2-4-4-5 0M800 971l5 1-3-1-5-1M909 1022l4-12-4-3-5 9M921 1021l5-9-4 5-5-2M804 960l5 1-4-6-5 0M823 962l5-1-3-5-5 4M941 1010l5 2-4-5-5-3M825 956l5 2-4-3-4 3M992 1031l5-3-5-5-5 3M1275 1154l5-10-6-1-5 8M1024 1034l5-5-5-4-5 3M1029 1029l5 4-5-6-5-2M1052 1036l4-1-4-7-5 3M1103 1040l5 0-5-4-5 4M1001 998l5 0-5-7-4 11M932 970l4-5-3-3-5 4M1386 1155l5-3-7-4-4-1M1157 1056l4 0-5-3-4 0M999 990l4-6-4-3-4 4M1369 1133l4 0-7-5-4 6M946 963l4-6-4 0-4 8M906 945l5-2-4-2-4 5M895 935l4-2-3-3-4 5M1374 1129l6-13-8 7-4 0M1054 989l4-3-4-2-4 6M1147 1026l5-17-5 3-4 10M962 944l4 5-4-9-4 6M937 938l4-1-3-5-5 2M1253 1057l4 2-5-10-4 7M1181 1029l4-5-5 3-4 0M941 937l4-3-3-1-4-1M1179 1025l5-4-5-3-4 1M1141 1008l5-1-5-3-4 0M1446 1127l5-12-7 0-4 1M1039 960l5-6-4 2-4 0M1264 1037l5-7-5-8-5 13M1219 1013l4 3-5-4-4 3M1100 970l4-1-4-7-4 5M1096 967l4-5-4 2-4 7M1231 1009l4 1-5-2-4-2M1240 1011l4-7-6 6-3 0M1146 979l4-4-4-5-4 6M1474 1095l5-14-8 7-3 1M1376 1056l4-5-6-3-4 8M1357 1044l4-3-6-1-4 0M1350 1036l4-5-7 5-4 4M1479 1077l3 0-6-3-4 5M1204 978l4-8-5-2-3 7M1159 956l4-9-4 3-4 6M1151 950l3-4-4-3-3-1M1158 949l4-1-4-3-4 1M1205 961l4-4-5-1-4 4M1087 914l4-3-4 2-3 7M1525 1062l4-13-6 0-4 7M1255 965l4 0-5-1-3 5M1091 912l3-3-3 1-4 7M1254 964l4-3-5-1-3 2M1176 938l4 1-4-5-4 6M1128 922l4-3-4 1-4 4M1267 964l3 2-4-3-4 0M1244 955l4-1-5-3-4 12M1235 961l4-11-4-1-4 8M1120 918l4-3-4-2-3 3M1117 916l3-3-4 2-3-1M1343 983l4-8-5-3-4 11M1236 946l4-3-5 0-3 0M1210 937l4 0-4-1-4 1M1193 929l4-3-4 0-4 6M1570 1044l3-3-7 4-4 3"/>
<path color="#c42" d="M810 1202l8 1-5-2-7-1M1099 1299l7-2-7-7-7 5M1142 1319l6-5-7-9-7 8M686 997l6 3-3-4-6 3M710 985l6-1-3 1-6-3M1123 1135l5 3-5-10-5 3M1043 1094l5 4-5-7-5 6M852 958l5 1-3-5-5 4M1133 1063l4-9-5-2-4 2M1044 1015l4-4-4-6-5 7M995 985l4-4-4 2-4 1M972 956l4-6-3 0-5-1M1058 986l5-4-5-8-4 12M1217 1035l5-13-5-3-5 12M1064 947l4-2-4-1-4 1M1426 1075l4 0-6-2-3-4M1334 996l4-2-5-1-4 0"/>
<path color="#a42" d="M900 1306l7-16-6-5-7 19M894 1304l7-19-6-2-6 20M889 1303l6-20-6 1-6 14M730 1181l7-8-4 0-7 7M701 1166l6-11-5-8-6 9M658 1141l6-14-5-7-6 8M760 1194l8 1-5-5-7 5M703 1149l6-12-4 1-7 1M809 1214l7-4-6-8-6 8M804 1210l6-8-4-2-8-1M780 1197l7-7-5-8-7 8M775 1190l7-8-5-2-6 9M806 1200l7 1-5-5-7-1M792 1197l7-3-4-5-8 1M787 1190l8-1-6-8-7 1M782 1182l7-1-5-10-7 9M634 1077l6-5-3 1-7 1M811 1193l7-5-5-3-6 7M813 1185l8-2-5-6-8-5M672 1090l6-7-3 2-7 2M919 1244l7-7-6-5-7 10M689 1087l7-2-4-4-7 0M1058 1313l7 6-7-10-7 3M1044 1312l7-15-7-1-7 4M879 1199l7-2-6-8-7 5M696 1085l6-4-4-2-6 2M1031 1287l7-4-6 1-7-2M963 1249l7-11-6-3-7 5M1079 1309l7 7-7-9-7 2M1072 1309l7-2-7-10-7 0M1052 1302l6-14-6-10-7 10M903 1199l7 6-5-11-7 0M673 1056l6-2-3-1-6 5M1086 1316l7-11-7-3-7 5M1079 1307l7-5-7-11-7 6M1032 1272l7-1-6 1-7-10M910 1205l7-11-6-10-6 10M642 1029l6-2-3-1-5 7M612 1015l6-4-4-4-6-1M1072 1290l7-5-7-6-7 5M996 1247l6-8-6-8-7 3M696 1060l7 0-4-1-6-1M614 1007l7 2-3-5-6 4M612 1008l6-4-3-1-6 4M1015 1245l7 5-7-8-7-3M973 1223l7-1-6-15-7 5M717 1068l7 0-4-1-7-1M709 1060l8 5-5-8-7-6M688 1047l7 5-4-8-7-4M621 1009l6-2-3-2-6-1M1149 1328l6-7-7-7-6 5M1106 1297l7 4-7-13-7 2M1099 1290l7-2-7-9-7 8M1009 1237l7-3-6 0-7-4M1003 1230l7 4-6-8-7 5M753 1079l7 7-4-8-7 2M1106 1288l6 3-6-16-7 4M1022 1243l7-7-7-13-6 11M981 1214l6-4-5-3-7 2M975 1209l7-2-6-7-7 2M969 1202l7-2-6-2-6-1M943 1199l6-11-6-5-6 9M825 1117l7 3-4-1-8-10M748 1077l7-2-5-10-7 0M705 1052l5-8-4-8-5 13M642 1009l6 0-4-7-6 4M1041 1247l6-3-6-7-6-3M1035 1234l6 3-6-6-6 5M1029 1236l6-5-6-7-7-1M714 1048l6-2-3-2-7 0M683 1031l5-8-2 3-6 2M1047 1244l7-8-7-10-6 11M955 1185l7 2-6-12-6 3M939 1172l7 3-6-10-6 3M866 1140l5-18-4-1-6 13M1066 1246l7-3-7-8-6 3M989 1197l7 0-6-4-7 2M962 1187l6-3-5-7-7-2M946 1175l6-4-5-9-7 3M935 1167l6-8-5-3-6 10M895 1141l7 6-5-7-6 1M877 1133l6-3-6-14-6 6M656 1001l6 0-3-2-5 4M1125 1273l6-3-6-10-7-1M1066 1235l7 3-6-10-7-3M883 1130l6-7-5 1-7-8M838 1099l6 2-5-7-6-2M784 1067l7 5-5-7-6-1M958 1165l7 3-6-8-6-7M880 1118l6 4-5-7-7-6M844 1101l6-1-4-4-7-2M839 1094l7 2-4-3-7 1M835 1094l7-1-5-4-6-2M1073 1229l6-19-6 0-6 11M949 1155l6-2-5-5-6-4M886 1122l7 0-5-7-7 0M762 1051l6-2-4-5-6-2M734 1038l5-11-4-2-6 2M716 1019l6 2-4-5-5 2M675 1001l5-1-3-6-6 1M1085 1227l6-5-6-12-6 0M1049 1209l6-3-6-9-6 8M971 1164l6-5-6-10-5 8M1091 1222l7-7-7-8-6 3M1055 1206l6-7-6-1-6-1M1049 1197l6 1-6-10-6-8M977 1159l6 1-6-19-6 8M899 1119l6-3-6-13-5 8M880 1100l6 3-5-9-6 0M832 1075l7 2-5-6-6-1M752 1034l6-1-4-8-6-3M1098 1215l6-1-7-9-6 2M1049 1188l7 6-6-7-7-11M1016 1180l5-9-5-3-6 2M754 1025l7 5-5-7-6-5M1104 1214l6 0-7-5-6-4M824 1056l7 9-5-8-6-3M733 1013l5-4-3-2-7-4M723 1009l5-6-3-2-6 3M1128 1233l6-12-6-14-6 12M1016 1161l6-3-5-9-6 0M703 994l5-5-3-3-5 7M1134 1221l6-1-6-12-6-1M1022 1158l6 1-5-7-6-3M772 1026l6-2-4-3-6-1M724 1000l5-8-4-7-4 10M1134 1208l6-2-7 1-5-6M1050 1167l6 4-5-8-6 2M952 1121l5-7-5-14-5 17M897 1090l5-5-5-7-5 7M1140 1206l5 6-6-8-6 3M1034 1158l6-5-5-5-6 2M997 1131l6 5-5-10-6-1M783 1020l5-2-4-5-6-2M763 1017l4-13-4-6-4 12M738 993l6 2-4-5-5 4M735 994l5-4-3 0-6-2M1108 1187l6-10-6-4-6 1M979 1118l5-13-5-4-5 10M801 1023l6-1-4-5-5 4M780 1009l6 2-4-4-6 1M1079 1162l6-2-6-2-6-8M771 994l6 10-4-10-6-2M1242 1244l6-12-6-8-6 10M1000 1117l6-2-6-11-5 0M990 1107l5-4-4-2-6 8M929 1080l6-4-5-13-6 6M781 1008l4-13-3-2-5 11M767 996l5-4-4-5-5 2M935 1076l5-1-4-8-6-4M1096 1159l6-9-6-13-6 15M1102 1150l5 1-6-20-5 6M763 977l5 3-4-11-5 3M856 1024l6-3-5-10-5 2M761 971l7 9-4-7-6-2M1112 1148l6-6-6-7-5-2M800 991l5-4-4-3-5-1M764 973l5-2-4-6-5 6M1048 1110l5-2-5-6-5 1M894 1035l6-1-5-10-5 4M769 971l5-2-4-9-5 5M1048 1102l6 0-6-4-5-4M818 994l4-5-3 0-6-5M797 981l5-2-3-2-6 2M774 969l5-2-3-1-6-6M1206 1168l5 4-6-6-5 0M1193 1169l6-6-6-5-5-1M1000 1080l5-13-5-9-5 15M809 985l5-4-4-1-5-1M776 966l5-3-3 0-6-6M1263 1197l5-2-6-9-5 0M1205 1166l5-1-6-8-5 6M1199 1163l5-6-6-3-5 4M1101 1120l5-15-6 0-5 7M1044 1089l5 0-5-16-5 9M1024 1079l5 0-5-8-5 6M1204 1157l5 5-6-6-5-2M1198 1154l5 2-6-6-5-9M1139 1132l5 1-5-13-6 2M948 1042l5-1-5-12-4 9M829 984l5 0-4-12-5 9M805 972l5-1-3-3-5 3M802 971l5-3-4-2-5 1M1106 1106l5 5-6-11-5-5M803 966l5-3-3 0-6-5M1035 1068l5 0-5-5-5 0M917 1015l5 2-4-2-5-5M805 963l6 4-4-4-6-6M1332 1204l4 4-7-11-4-1M1070 1097l4-20-5-12-5 19M943 1027l4-7-4 0-5-1M851 985l5-2-4-7-5 0M1079 1085l5-6-5-12-5 10M943 1020l6 2-5-10-5 8M939 1020l5-8-4 0-5 5M852 976l6 5-4-7-6-5M940 1012l5 4-4-6-5-3M1075 1076l4-5-5-11-4 11M1023 1053l4-8-4-8-5 14M1180 1123l5-6-6-19-5 14M1146 1098l5-6-5-4-5-2M1046 1055l5-7-5-5-5 4M835 959l4-9-4-6-4 11M1339 1176l5-8-5-13-7 18M1056 1053l5-2-5-7-5 4M1051 1048l5-4-5-2-5 1M1351 1170l4 3-5-13-6 8M1051 1042l5 0-5-4-5-8M985 1017l5-2-4-9-5-4M1016 1025l4-6-4-7-5 5M1025 1031l4-9-4-3-5 0M970 996l5 6-4-8-5 5M935 992l5-6-5-10-4 8M924 988l4-11-4-5-4 9M909 976l5-3-4-6-5 1M860 951l5 4-4-10-5 1M940 986l4-4-4-6-5 0M906 969l5-1-4-6-5 0M865 955l4-6-4-5-4 1M1043 1018l5 3-4-4-5 6M1039 1023l5-6-5-5-5 1M912 965l5-1-4 0-5-4M888 960l4-7-4-2-4 5M884 956l4-5-3-3-4 6M1048 1021l5 0-5-5-4 1M1044 1017l4-1-4-1-5-3M1035 1013l4-1-4-1-5-2M927 969l5 1-4-4-4 3M909 960l5 0-4-4-4 5M906 961l4-5-3-4-5 3M1147 1062l5-9-5-7-5 5M1070 1025l5-1-5-7-4 3M1048 1016l5 0-5-5-4 4M1035 1011l5-4-5-11-4 13M1006 998l4 3-4-14-5 4M910 956l5-2-4 0-4-2M1231 1095l5-9-5-8-5 13M1226 1091l5-13-6-7-5 13M1167 1065l4-6-5-7-4 2M1152 1053l4 0-5-8-4 1M990 991l5-6-4-1-5 0M986 984l5 0-5-5-4 2M970 980l5-5-5-12-4 11M1242 1089l4-7-5-9-5 13M1156 1053l5-4-5 0-5-4M1146 1042l5 8-5-13-5 4M1053 1008l4-1-4-5-4 3M941 966l5-3-4 2-5-6M1362 1134l4-6-5-13-5 8M1071 1012l4 1-4-5-5 0M1019 996l5-6-4-5-5 2M995 983l4-7-4-2-4 0M942 965l4-8-4-6-4 9M920 952l5-1-4-3-5-4M903 946l4-5-3 2-5-5M1392 1144l5-4-7-4-4 5M1373 1133l4 1-7-7-4 1M1024 990l4 3-4-4-4-4M1004 983l4-2-4-9-5 4M961 970l4-9-4-5-3 13M1135 1038l5-7-5 0-5-1M1075 1012l5-8-5-3-4 8M1028 993l5-3-4-7-5 6M1012 985l4-4-4-6-4 6M905 943l4-6-3-1-4 4M1387 1133l4-1-5-15-5 11M1016 981l5 2-4-8-5 0M927 946l4-5-4-2-4-1M903 938l4-3-4-7-4 5M1080 1005l4-5-4-2-5-1M935 947l4-3-4 1-4-4M907 935l5 1-4-10-5 2M1093 1006l4-4-4-5-5 0M905 929l4 0-3-2-5-2M1278 1078l4-4-5-6-5 6M1272 1074l5-6-6-6-4 2M1014 973l4-4-4-9-4 5M965 950l4-1-4-6-4 1M919 930l5 4-4-10-4 5M1282 1074l4 0-5-9-4 3M1277 1068l4-3-6-3-4 0M1115 1008l4-6-4 2-5-4M1067 991l4-3-4-5-4 5M1038 978l4 1-4-9-4 6M1022 972l4-4-4-5-4 6M995 959l4-2-4-8-4 5M1161 1018l4 0-4-3-4-1M1067 983l4-1-4-8-4 8M1042 979l4-8-4-5-4 4M1022 963l5 1-4-1-5-5M988 950l4 5-4-6-4-1M966 949l4-7-4-7-4 5M1161 1015l4 3-5-6-4-7M992 955l4-11-4-1-4 6M1080 986l4-3-4-7-5 2M1075 978l5-2-5 1-4 0M1114 995l4-3-4-1-4-1M1075 977l5-5-5-2-4 4M1063 974l4-6-4-5-4 6M964 935l4-5-3-3-4 3M1398 1101l5-8-6-9-5 11M1088 983l4-2-4-6-4 2M1084 977l4-2-4 1-4-4M1080 972l4 4-4-5-5-1M1284 1053l4 0-4-13-5 5M1232 1034l4-4-5-9-4 7M1092 981l4 1-4-7-4 0M1071 966l5 3-5-6-4 1M1024 953l4-1-4-4-4 3M980 943l4-10-4-3-4 3M972 928l5 3-4-6-4 4M1333 1069l5-5-6-5-4 5M1236 1030l4-1-5-4-4-4M1080 967l4-3-4 1-4 4M1076 969l4-4-4-5-5 3M1028 952l4-2-4-7-4 5M1292 1050l5-5-5-9-4 1M1235 1025l4 2-5-9-4 2M1205 1013l4-1-5-4-4-6M1171 1003l4 1-4-7-4 1M1088 973l4-3-4-3-4-3M984 933l4-3-3-5-4 8M981 933l4-8-4-4-4 7M1239 1027l4-5-5 1-4-5M1224 1020l3 2-4-6-4-3M1052 953l4 2-4-3-4 0M1048 952l4 0-4-4-4 2M1036 945l4 2-3-2-5-2M1003 935l4-4-4-1-4 2M957 915l4 3-3-4-4-1M1362 1075l5-11-6-1-4 0M1269 1030l3 0-4-13-4 5M1227 1022l5-5-5-6-4 5M1056 955l4-2-4-2-4 1M1037 945l4-6-4-1-4 2M1433 1096l5-9-6-6-4 7M1349 1062l4-7-6 0-4 5M1278 1031l4-3-6 0-4 2M1104 969l4-2-4-7-4 2M1064 954l4 3-4-9-4 5M1004 929l4 0-4-4-4 6M959 917l3-10-3-2-3 15M956 920l3-15-4-5-3 13M1438 1087l3 5-6-10-3-1M1347 1055l4-3-6-1-3-4M1282 1028l4-1-5-7-5 8M1241 1013l3 6-4-8-4-2M1108 967l4-4-4-4-4 1M1068 957l4-5-4-7-4 3M1362 1059l4-3-5-9-3 0M1244 1019l5-9-5-6-4 7M1151 983l4-8-5 0-4 4M1104 956l4 9-4-11-4-2M1060 945l4-1-4-3-4 2M1389 1069l5-11-6-6-4 11M1300 1032l4-4-6-1-4 3M1200 997l4-3-5-5-4 4M1080 950l4-2-4-2-4 4M1076 950l4-4-4-8-4 5M974 911l4-3-4-1-4-2M1399 1067l4-9-5-9-4 9M1353 1050l4-6-6-4-4 8M1347 1048l4-8-5-7-4 3M1204 994l4-3-4-8-5 6M1172 982l4-4-4-9-4 6M1124 965l4-3-4-3-4 7M1068 941l4 2-4-3-4 2M995 911l4 3-4-4-4 4M1465 1085l4-7-6-8-4 10M1415 1069l4-6-6-6-4 7M1335 1034l4-5-5-5-5 5M1313 1029l4-2-6-4-4 6M1042 929l4-2-4-1-4-2M1494 1093l4-4-6-5-4 3M1343 1040l4-4-5-7-3 0M1088 944l3-2-3-9-4 9M986 906l3-2-3-1-4 1M1342 1029l4 2-5-7-4 6M1315 1019l4 0-5-6-4 2M1202 983l4-2-5 0-4-6M1145 960l3 5-4-9-4 1M1501 1086l4-1-7-4-2-3M1496 1078l2 3-5-6-4 1M1457 1071l4-13-5-6-6 16M1351 1037l5-15-5-6-5 15M1183 974l4-2-4-7-4 8M1473 1071l4-8-6-3-4 7M1400 1044l4 0-6-5-3-1M1317 1016l4-1-5-4-4 0M1144 957l4 1-5-3-3-2M1140 953l3 2-4-10-4 7M1409 1047l4-5-5-2-4 4M1331 1021l4-1-5-6-4 8M1265 995l4-2-5-5-3 1M1195 972l4-2-4-6-4 8M1143 955l4-3-4-1-4-6M1025 911l4-4-4-3-3 6M1274 1000l4-5-5-3-4 1M1269 993l4-1-5-3-4-1M1143 951l4-1-4-6-4 3M1111 943l4-6-4-8-4 5M1344 1019l4-11-5-3-5 15M1282 1000l4-4-5-4-3 3M1278 995l3-3-5-4-3 4M1207 970l4-4-4-5-4 9M1189 966l4-10-4 4-4 6M1118 945l4-9-4-4-3 5M1438 1041l4 0-6-2-4 4M1281 992l4-2-5-6-4 4M1189 960l3 1-4-7-3-1M1522 1069l3 0-5-9-4 4M1037 908l3-5-3-1-4 5M1525 1069l3 2-6-8-2-3M1264 981l4-1-5-7-3 5M1200 960l4-4-4-5-4 9M1179 951l4-1-5-1-3-6M1528 1071l3-4-6 0-3-4M1386 1016l3-1-5-5-4 8M1217 963l4-1-4-6-4-3M1020 896l4-6-4 0-3 3M1347 998l3 1-5-3-4 4M1325 999l4-6-5 1-4 5M1310 990l4-5-5-3-3 2M1243 970l4-3-4-3-4 3M1256 969l4 0-5-4-3-5M1247 967l4 2-5-7-3 2M1216 955l3 3-4-5-4 3M1211 956l4-3-4-5-4 5M1181 946l4-6-4-4-4 3M1141 931l3-2-4-1-3-1M1251 969l3-5-4-2-4 0M1168 942l4-2-4-3-4-1M1456 1025l3 3-5-5-3 0M1250 962l3-2-4-1-4-4M1106 912l3 1-4-4-3 4M1102 913l3-4-3 3-4-5M1365 997l4-3-5-1-4 4M1253 960l4 2-5-3-3 0M1226 957l4-8-4-5-4 8M1222 952l4-8-4-3-4 7M1209 945l4 0-5-4-3 0M1171 936l4-5-4-1-4 6M1113 914l3 1-3-4-4 2M1294 970l3 1-4-6-4 2M1257 962l3-7-4 1-4 3M1175 931l4 4-4-9-4 4M1116 915l4-3-4-6-3 5M1393 1000l4-1-5-9-4 9M1265 961l3 2-4-9-4 1M1179 935l3-2-4-7-3 0M1360 987l3-3-5-2-3-3M1325 977l3-3-5-2-3-1M1305 974l4-5-5-5-3 5M1301 969l3-5-4-3-4 4M1363 984l3 2-4-8-4 4M1304 964l4-1-5-2-3 0M1232 943l3 0-4-3-4 3M1131 915l3-7-3-2-4 0M1366 986l4-7-5 2-3-3M1303 961l3 2-4-4-4 0M1189 932l4-6-4-5-4 2M1292 961l4-7-5 1-3 3M1217 937l4 0-4-4-4 0M1205 935l3-9-4 0-3 3M1201 929l3-3-4-1-3 1M1142 914l3-8-4-2-3 5M1130 908l4-5-4 2-3 1M1251 943l3-7-4 1-4 7M1569 1042l3-6-5-7-4 6"/>
<path color="#831" d="M877 1297l7-11-6-11-8 4M749 1200l7-5-6-12-7 6M706 1171l7-5-6-11-6 11M756 1195l7-5-7-23-6 16M580 1066l6-7-4-6-7 4M1048 1382l8-1-8-18-7 11M763 1190l8-1-7-21-8-1M1056 1381l8-5-8-12-8-1M881 1256l8-1-6-9-8-1M771 1189l6-9-5-7-8-5M638 1096l7 1-5-11-7 0M1064 1376l7-1-7-8-8-3M883 1246l7-6-5-5-8 1M624 1079l6-5-5-13-6 9M855 1211l8 3-6-10-7 9M905 1236l8 6-6-9-7 2M900 1235l7-2-6-8-7 4M863 1214l8 5-7-21-7 6M789 1160l8 3-6-10-7 3M771 1148l8 7-5-7-9-12M657 1077l8 3-4-6-8-3M610 1045l6-4-4-9-7 0M1030 1314l7 3-7-5-7-13M1023 1299l7 13-7-16-7 6M913 1242l7-10-6-9-7 10M871 1219l7 0-7-19-7-2M811 1177l8 4-6-15-8-2M1101 1351l7 1-8-17-7-2M1037 1317l7-5-7-12-7 12M878 1219l6-11-5-9-8 1M819 1181l7-3-5-7-8-5M1108 1352l7-2-8-14-7-1M956 1247l7 2-6-9-7 6M950 1246l7-6-6-8-7 9M821 1171l7-1-6-10-8-14M783 1138l7 0-5-15-7 5M761 1118l8 6-5-7-8-5M692 1081l6-2-5-10-5 9M1115 1350l7-1-8-14-7 1M1025 1282l7 2-7-6-7-8M772 1121l8 7-4-7-7 3M769 1124l7-3-6-10-6 6M662 1052l8 6-4-7-8-6M1122 1349l7-6-8-7-7-1M780 1128l7 0-4-7-7 0M776 1121l7 0-6-12-7 2M640 1033l5-7-3-4-6 5M972 1226l7 5-6-8-7 0M828 1139l8 9-5-7-8-7M672 1046l6-4-5-13-5 9M929 1203l7 1-6-13-7 1M930 1191l7 1-6-9-6 2M745 1075l8 10-5-8-6-1M695 1052l6-3-3-2-7-3M670 1028l7 3-4-7-7-3M817 1111l7 7-5-6-7-3M677 1031l6 0-3-3-7-4M824 1118l6-4-5-9-6 7M680 1028l6-2-4-8-7 1M923 1157l7 9-5-13-8-7M837 1116l6 0-5-17-6 10M790 1083l7-1-5-7-5 8M705 1029l7 6-5-10-7-7M712 1035l5-5-3-2-7-3M662 1001l7 6-4-11-6 3M728 1040l6-2-5-11-5 8M829 1089l7 5-5-6-7-10M710 1001l6 1-4-7-6-3M747 997l6 0-5-17-4 15M756 999l6 1-4-9-5 6M775 1003l6 5-4-4-6-10M1255 1242l6-6-7-17-6 13M764 984l7 8-5-13-6-1M1177 1181l6-4-6-3-6-3M1060 1078l5-2-5-12-5 1M1089 1077l5-2-5-14-5 12M1188 1110l5-8-6-7-5 3M1099 1070l5 0-5-17-5 4M1009 1018l4 0-4-15-5-1M1366 1160l4 6-6-11-4-3M961 985l5 6-4-10-5 0M1010 1001l5 5-4-19-5 0M1066 1011l5-2-5-4-4 2M1062 1007l4-2-4-17-5 10M980 978l4-9-4-7-4 12M993 973l4 4-4-13-4 1M997 977l5-9-5-6-4 2M1268 1075l4-1-5-10-5 6M1080 998l4 6-4-7-5-9M1084 1004l4-2-4-6-4 1M998 964l5 4-4-6-5-5M990 959l5 0-4-5-4 3M927 935l4 2-3-5-4 2M924 934l4-2-4-5-4-3M1003 964l5 4-5-12-4 1M1008 968l4-5-4-11-5 4M1012 954l4 1-4-8-4 0M1016 955l4-4-4-8-4 4M976 939l4 4-4-10-4 0M1084 979l4-6-4-9-4 3M977 931l4 2-4-5-4-3M1420 1093l3 1-5-10-4 6M1329 1065l5-7-5-10-5 9M1088 967l4 4-4-7-4 1M1429 1101l4-5-5-8-5 6M1088 964l4-4-4-7-4 4M996 930l4 1-3-3-4 2M993 930l4-2-4-7-5-6M1026 935l4 4-4-6-4 2M1022 935l4-2-3-3-5-4M1056 943l4-2-4-2-4 2M1343 1050l4-2-5-12-4 5M1108 965l4 0-4-4-4-7M1092 956l4-1-4-5-4-2M1064 942l4-2-4-4-4 0M974 907l5 3-4-6-4-1M1049 935l4-1-4-6-4 3M979 910l3-6-3-9-4 9M1128 956l4 5-4-10-4-3M1095 945l4 5-4-10-4 2M1099 950l4-2-4-10-4 2M1322 1023l4-1-5-7-4 1M1103 948l4-2-4-10-4 2M1021 911l4 0-3-1-4-7M1107 946l4-3-4-9-4 2M1518 1083l3 1-6-5-3 1M1486 1068l3 1-4-14-3-3M1335 1020l3 0-4-9-4 3M1135 945l4 6-4-8-4-7M1001 902l4-3-3-2-4-9M1029 909l4 0-4-6-4-4M1005 899l4-2-4-6-3 6M1033 909l4-1-4-1-4-4M1029 903l4 4-3-7-4-6M1496 1065l3 1-5-15-3 2M1300 997l3 2-5-8-3 1M1192 961l4-1-4-11-4 5M1033 907l4-5-4-1-3-1M1013 898l3 2-3-7-4-5M1499 1066l3-2-4-17-4 4M1016 900l4-4-3-3-4 0M1013 893l4 0-4-12-4 3M1017 893l3-3-3-11-4 2M1276 984l3 1-4-10-3 2M1027 888l4 5-4-10-3 2M1544 1065l4-4-6-7-3 4M1031 893l4-5-4-8-4 3M1311 978l3 7-4-9-3 0M1156 931l3-2-4-2-3 0M1084 908l3 3-4-6-3-5M1447 1026l5-10-7 4-3 1M1442 1021l3-1-5-9-3-1M1087 911l4-4-4-9-4 7M1423 1011l3-4-4-8-4 7M1052 895l4 0-4-6-4-4M1212 946l3 2-4-5-3-11M1159 927l3-7-4-4-3 10M1155 926l3-10-3-13-4 12M1102 907l3 3-4-10-3 8M1259 958l4-2-4-11-4 3M1170 928l3-1-3-10-4 5M1059 890l4 6-4-11-3 2M1173 927l4 0-4-1-3-9M1063 896l3-4-3-7-4 0M1560 1046l2 2-5-10-2-1M1056 881l3-3-3-6-4 2M1345 978l4-9-5-7-4 9M1243 944l3 0-4-7-3-1M1127 906l3-1-4-6-3 2M1083 890l4-1-4 0-3-1M1246 944l4-7-4-7-4 7"/>
<path color="#b42" d="M801 1231l7-4-6-10-6 10M726 1180l7-7-5-4-7 5M782 1201l7-2-4 1-9-8M772 1190l8 7-5-7-7 5M1044 1315l7-3-7 0-7 5M1051 1312l7-3-7-12-7 15M884 1208l7-8-5-3-7 2M702 1081l6-5-4-5-6 8M898 1194l7 0-6-5-7 4M1114 1321l7 5-7-14-7 2M668 1046l7-2-3 2-7-5M1107 1312l6 0-7-4-6-4M1086 1302l6-7-6-6-7 2M1002 1245l6-6-6 0-6 8M802 1129l6-14-5-1-5 13M798 1127l5-13-5-11-5 14M717 1071l7-1-4-2-7-6M675 1044l6-2-3 0-6 4M618 1011l6 1-3-3-7-2M1092 1295l7-5-7-3-6 2M681 1042l6-2-3-2-6 4M632 1011l7 3-3-4-7 1M618 1004l6 1-4-5-5 3M837 1132l6-3-4 1-7-2M742 1076l6 1-5-12-5 6M717 1065l5-4-3-1-7-3M642 1017l6-3-4-5-5 5M639 1014l5-5-2 0-6 1M931 1183l7-8-6-4-6 5M849 1139l6-7-5-5-7 2M843 1129l7-2-5-6-6 9M709 1056l5-8-4-4-5 8M987 1210l7-2-6-6-6 5M982 1207l6-5-6-7-6 5M949 1188l6-3-5-7-7 5M943 1183l7-5-6-3-6 0M770 1082l6-4-5-8-5 12M755 1075l5-9-4-2-6 1M1005 1214l7 2-6-15-6 7M988 1202l7 1-6-6-7-2M934 1168l6-3-5 2-6-4M894 1144l6-3-5 0-6 1M889 1142l6-1-4 0-7-3M861 1134l6-13-5-4-5 11M765 1076l6-5-5-6-6 1M1060 1238l6-3-6-10-6 11M1060 1225l7 3-7-12-6 7M952 1171l6-6-5-12-6 9M888 1135l6-4-5-8-6 7M797 1082l5-9-4-5-6 7M672 1007l6-1-4-4-6 1M659 999l6-3-4-5-6 0M948 1158l6-1-5-2-7-4M779 1061l6 4-4-7-6 1M724 1035l5-8-4-6-4 10M681 1011l5-8-3 0-5 3M665 996l6-1-4-5-6 1M846 1096l6 1-4-2-6-2M720 1026l5-4-3-1-6-2M735 1025l7 3-4-5-6-1M683 999l6-3-4-4-5 8M680 1000l5-8-3-3-5 5M677 994l5-5-3 0-6 1M785 1049l7 7-5-13-6 1M883 1096l6-2-5-7-5 7M858 1086l5-4-4-9-6 4M1050 1178l6 6-6-22-6 10M738 1009l5-3-3-4-5 5M700 993l5-7-4-7-4 11M986 1143l5-12-5-6-6 10M743 1006l6 1-3-5-6 0M714 991l6-1-3 0-7-5M1045 1165l6-2-6-3-6-3M1023 1152l6-2-6-2-6-4M778 1024l5-4-5-9-4 10M746 1002l6 1-4-2-5 4M739 1002l5-8-3-2-5 3M717 990l6 1-4-8-6 4M748 1001l6-2-4-5-6 0M723 991l5-5-4-7-5 4M998 1126l6 2-5-4-6 2M903 1079l6-3-5-5-5 12M899 1083l5-12-4-3-6 4M788 1018l6-2-4-6-6 3M774 1010l6-1-4-1-6-6M974 1111l5-10-5-4-5 5M816 1033l5-8-4-7-4 11M1102 1167l6 9-6-16-6 7M777 1004l5-11-4-1-5 2M789 1000l5-1-4-7-5 3M794 999l6 0-4-3-6-4M760 978l6 1-3-2-6-4M1274 1228l5 0-8-2-4-4M768 980l5-3-3-2-6-6M1236 1202l5-2-6-11-6 15M1208 1184l5-3-6-14-5 6M809 995l4-11-3-1-5 4M1200 1166l5 0-6-3-6 6M799 977l5 0-4-6-5 2M1019 1077l5-6-5-8-5 5M798 967l5-1-4-8-5-1M1049 1078l5 2-5-6-5-2M1319 1207l6-11-7-1-5-4M1040 1077l5-11-5 2-5 0M963 1041l5-4-5-7-5 5M958 1035l5-5-4 1-5-5M937 1026l6 1-5-8-5 4M977 1039l5-7-5-3-4 6M982 1032l5-1-5-7-5 5M949 1022l4-5-4-5-5 0M1018 1051l5-14-5-8-5 16M987 1031l5 0-5-5-5-2M812 958l4-9-3-1-4 4M1141 1099l5-1-5-12-5 10M958 1014l5 0-4-6-5-2M857 971l5-1-4-9-5 6M1037 1046l5-8-5-4-5 10M963 1014l5-6-4 1-5-1M893 980l5 3-4-10-4 5M1346 1184l5-14-7-2-5 8M1293 1156l4-3-6-8-4 2M1280 1144l4 3-6-4-4 0M1046 1043l5-1-5-12-4 8M1006 1030l5-7-5-4-5 4M856 959l5 4-4-4-5-1M1061 1051l4-8-4 1-5 0M1056 1044l5 0-5-2-5 0M1011 1023l5 2-5-8-5 2M949 1003l4-4-4-5-4 0M977 1005l5-1-4 1-5-5M969 1000l5 4-4-8-5 1M904 973l5 3-4-8-5 3M855 950l5 1-4-5-5 0M1099 1053l5 1-5-2-5-3M874 962l4-3-4-7-4 5M849 944l6 6-4-5-5-3M917 975l5-5-4-6-4 9M1034 1020l5 3-5-10-4 3M933 975l5 2-4-2-5-3M929 972l5 3-4-4-5 2M925 973l5-2-4-3-4 2M922 970l4-2-4-6-4 2M911 968l5-1-4-2-5-3M876 952l5 2-4-6-4 5M1066 1031l4-2-4-7-5 8M1034 1013l5-1-4 1-5-8M1066 1022l4 3-4-5-5-2M1030 1009l5 2-4-2-5-1M935 975l4-5-3-3-5 3M1066 1020l4-3-4 1-5-4M1039 1012l5-7-4 2-5 4M982 989l4-5-4-3-5 3M962 981l4-7-4-6-4 10M863 939l4-2-3-3-4 2M1070 1017l5 3-4-7-5 5M1044 1005l5 0-5-7-4 9M936 965l5 1-4-7-4 3M884 941l4-1-3-1-5-2M1075 1020l5 1-5-6-4-2M1382 1138l4 3-6-8-4-3M1003 984l5 3-4-4-5-2M999 981l5 2-5-7-4 7M876 931l5 4-4-6-4 1M1386 1141l4-5-6-4-4 1M958 969l3-13-3 0-5 1M1377 1134l4-6-7 1-4-2M922 944l5 2-4-8-5 2M963 953l5 3-4-4-5 2M959 954l5-2-4-1-4 0M956 951l4 0-3-1-5 3M1125 1016l4 3-5-9-4 1M964 952l4-3-3 1-5 1M901 925l5 2-4-2-4-3M929 937l4-3-3 2-4-1M1176 1034l5-5-5-2-4-4M1084 996l4-2-4 0-4-7M1063 988l4-5-4-1-5 4M1434 1132l4 0-6-11-3 0M1030 974l4-5-4-3-4 2M1026 968l4-2-3-2-5-1M984 948l4 1-4-6-4 6M952 938l4 3-4-6-4-1M1097 998l4-10-4-2-4 4M960 943l4-5-4-5-4 8M956 941l4-8-3 0-5 2M978 940l4 5-4-7-4 3M1304 1068l4 1-5-12-4 5M1132 1004l4-8-4-7-5 10M1080 976l4 1-4-5-5 5M978 938l5 3-4-4-4-2M971 935l5 4-4-6-4 4M968 937l4-4-4-3-4 5M1404 1107l5-15-6 1-5 8M1367 1086l4-2-5-6-4 2M1275 1053l4-8-5-4-4 7M972 933l4 0-4-5-4 2M1434 1110l4-1-5-12-5 11M1428 1108l5-11-6-8-5 11M1122 995l5-8-5-3-4 4M1118 988l4-4-4 0-4-5M976 933l4-3-3 1-5-3M1206 1023l4-9-5-1-4 1M939 915l4 4-3-4-4-4M1220 1021l4-1-5-7-4 5M1210 1014l4 1-5-3-4 1M1056 957l4 0-4-2-4-2M1032 950l4-5-4-2-4 0M1175 1004l5-6-5-5-4 4M1044 950l4-2-4-1-4-2M1423 1094l5-6-6-6-4 2M1274 1035l4-4-6-1-3 0M1096 964l4-4-4-4-4 4M1056 951l4-5-4 0-4 2M1007 930l4 1-3-2-4 0M1359 1061l3-2-4-12-5 8M1188 991l4 3-5-6-4 2M1011 931l4-5-3-1-4 4M1329 1042l4 0-6-3-4 2M1133 975l4-6-4-2-4 2M1116 971l5-13-5-2-4 7M1072 952l4-2-4-7-4 2M1030 939l4-11-4-5-4 10M1327 1039l4-2-5-8-4 5M1195 993l4-4-4-3-4 0M1064 944l4-3-4 1-4-1M977 913l4-6-3 1-4 3M1370 1056l4-8-5-3-5 6M1337 1036l3 3-5-5-4 3M1096 955l4-7-4-4-4 6M1034 928l4-4-4 1-4-2M991 914l4-4-3-4-4 10M1409 1064l4-7-5-4-5 5M1403 1058l5-5-7-1-3-3M1128 962l4-7-4-3-4 7M1072 943l4-9-4 4-4 2M982 907l4-1-4-2-3 6M1328 1025l3 4-5-4-4 5M1322 1030l4-5-5-4-4 6M1317 1027l4-6-6-2-4 4M1100 950l3-3-4-3-3 0M1053 934l4-7-4-3-4 4M1498 1089l3-3-5-8-4 6M1492 1084l4-6-7-2-3-3M1331 1029l4-4-5-3-4 3M1170 969l4-4-4 0-4 1M1391 1041l4-3-6-1-3 2M1258 997l3 5-4-11-4 3M1243 994l4-5-5-3-4 6M1505 1085l4-6-7-1-4 3M1509 1079l3 1-6-9-4 7M1404 1044l4-4-6-4-4 3M1396 1035l4-5-6-1-4 5M1147 952l4-2-4 0-4 1M1496 1068l5-9-8 3-4 7M1273 992l3-4-4-4-4 5M1216 980l4-13-5 2-3 4M1212 973l3-4-4-3-4 4M1040 910l3 0-3-3-4-1M1525 1074l3 1-6-6-3 3M1172 953l3-2-4-4-4 4M1266 982l3-3-5 2-3 0M1210 966l4-4-5-1-3 0M1058 907l4-3-4 2-4 2M1268 980l4-3-5-9-4 5M1240 970l3 0-4-3-4 0M1204 956l4-3-4-3-4 1M1178 949l4-3-4-3-4 3M1106 921l4 1-4-4-4 2M1341 1000l4-4-5-3-4 4M1217 956l3 4-4-5-4 0M1141 936l4-6-4 1-4 1M1106 918l4 1-4-3-4 0M1034 898l4-5-4-1-4 4M1542 1062l2 3-5-7-3-1M1329 993l4 0-5-6-4 7M1207 953l4-5-5-3-3 6M1519 1056l4-7-7 1-3-1M1283 976l4-3-5 1-3-2M1246 962l4 0-5-7-3 1M1189 947l4-8-4-2-4 3M1341 996l4-9-5-6-4 10M1287 973l4-2-5 1-4 2M1206 946l3-1-4-4-4 3M1124 924l4-4-4-5-3 3M1113 917l4-1-4-2-4 3M1286 972l3-5-4-6-4 8M1249 959l3 0-4-5-4 1M1059 903l3-11-3-2-4 3M1364 993l3-3-5-6-3 4M1270 966l4 0-5-5-3 2M1266 963l3-2-4 0-4 1M1102 908l3-2-3 1-4-4M1293 965l3 0-4-2-4-2M1330 979l3-4-5-1-3 3M1207 938l3-1-4 0-3-1M1109 907l3-9-3 5-4 7M1374 988l3 1-5-3-3-2M1338 983l4-11-5 1-4 2M1309 969l3-2-4-4-4 1M1181 932l4-9-4-4-4 12M1177 931l4-12-4 8-4 0M1284 962l4-4-5-9-3 7M1271 954l3-1-5-2-3 2M1240 943l3 1-4-8-4 7M1070 890l3-4-3-4-4 10M1063 885l3-3-3 0-4-1M1274 953l4-5-5-5-4 8M1209 935l3-5-4-4-3 9M1197 926l3-1-4-5-3 6M1221 937l3-12-4-3-3 11"/>
<path color="#942" d="M1044 1296l8 6-7-14-7 1M1114 1335l7 1-7-15-7 0M1032 1284l7-6-7-6-7 6M733 1013l7 7-4-7-7-4M716 1002l5-7-4-7-5 7M953 1041l5-6-4-9-6 3M976 1020l5 3-5-16-5 3M898 983l5-3-4-7-5 0M854 954l5 5-4-9-5 1M1180 1076l5 10-5-12-5 2M894 946l5 1-4-7-5 1M991 984l4-1-4-9-5 5M899 947l4-1-4-8-4 2M1252 1095l4-12-5-7-5 6M921 948l5 1-4-5-5-3M932 928l4 1-4-8-4 4M1288 1053l4-3-4-13-4 3M1192 994l3-1-4-7-4 2M1176 978l4 3-5-9-3-3M1045 931l4-3-3-1-4 2M1498 1081l4-3-6-8-3 5M1261 1002l4-7-4-6-4 2M1199 970l4 0-5-10-3 4M1072 925l4-3-4-3-3 5M1215 953l3 2-4-8-3 1M1109 917l4-3-4-1-3-1M1297 971l4-2-5-4-3 0M1232 950l4-4-4-3-4-2M1266 953l3-2-4-4-3 0"/>
<path color="#e63" d="M841 1170l7-5-5-3-6 12M843 1162l6-4-4 1-6 5M845 1159l6-9-4 2-6 8M743 1063l6-2-4 0-6 1M1035 1221l7-6-6 0-7 5M1036 1215l6-6-6-2-6 9M775 1059l6-1-4-1-6 2M721 1031l4-10-2 3-6 6M723 1024l6-2-4 0-5 4M1026 1194l6-12-6 2-6 2M1116 1216l6-13-6 2-6 9M725 1001l5-1-3-2-6-2M1116 1205l5-8-6 3-6 5M975 1133l6-11-5 6-6 1M770 1017l5-8-3 6-5 1M757 1000l5-4-3-1-5 4M900 1068l6-4-5 1-5 5M896 1070l5-5-4 0-6-1M736 984l6 1-4-3-5 0M1214 1218l6-17-7 6-6 7M1108 1162l5-9-6 5-5-1M875 1046l5-13-4 3-4 12M1275 1242l6-14-7 0-6 8M1149 1177l6-18-7 11-5 10M782 987l5-4-3 2-5 2M784 985l6-3-4-5-5 8M1196 1181l6-8-6 1-6 10M783 980l5-2-4-5-4 5M780 978l4-5-3 0-4 5M1158 1151l5-8-6-4-5 19M1293 1209l6-14-8 10-6 12M1117 1126l6-12-6 9-5 9M1034 1080l5-8-5 7-5 6M987 1059l5-8-5 7-5 7M822 978l5-4-3 3-6-1M940 1031l5-11-4 5-5 4M931 1011l5-4-4-1-5 10M1246 1149l6-13-7 4-5 12M1136 1096l5-10-5-1-5 9M1070 1063l4-10-4 4-5 6M1157 1094l5-4-6 3-4 2M886 978l4-7-3 2-4 5M961 1004l4-7-4 0-4 7M896 974l4-3-3-1-5 4M961 997l5 2-4-6-5 3M957 996l5-3-4 1-5 5M897 970l4-2-3-4-5 7M1314 1141l4-4-7 7-5 10M1165 1080l5-11-6 4-5 7M1021 1016l5-10-5 3-4 4M996 1002l4-4-4 1-4 5M949 979l4-3-4-4-4 6M1118 1047l4-8-5 3-4 5M881 945l5-3-3 1-5 6M871 943l5-6-4 0-4 7M868 944l4-7-3 1-4 4M1117 1042l5-11-5 8-5 5M977 984l5-3-4-4-5 5M929 961l4-4-3-1-4 6M892 940l4-3-3 1-5 2M964 968l4-4-3 3-5 2M1380 1116l4-2-8 3-4 6M1235 1056l5-4-6 4-5 3M957 950l4-6-4 0-4 6M980 951l4-3-4 1-4 1M1147 1012l4-5-4 4-5 2M1365 1095l5-9-6 0-5 4M1097 986l4-4-4 2-5 4M1088 984l4-1-4-1-4 0M1351 1081l5-4-7-1-4 6M1299 1062l4-5-6 3-4 4M1451 1115l4-5-7 2-4 3M1263 1039l4-4-5 4-4 5M1212 1019l4-3-5 3-5 8M1105 978l4 3-4-4-4 4M1043 956l4-1-3-1-5 6M1032 953l4-4-4 3-4 5M1163 998l4 0-5-2-4 5M1162 996l4 0-4-2-4 1M1258 1023l4-4-5 2-4 8M1170 995l4-6-4-1-4 6M1227 1011l4-2-5-3-4 4M1121 968l4-6-4 2-4 8M1195 986l4-3-5-1-4 5M1440 1069l4-4-7 5-4 4M1190 981l4-5-5 5-4 0M1141 966l4-7-4 2-4 7M1116 958l4-8-4 0-4 7M1112 957l4-7-4-1-4 6M1108 955l4-6-4-1-4 6M1265 1009l4-8-5 3-4 0M1248 994l4-6-5 1-4 5M1339 1023l4-5-6 1-4 4M1165 967l4-12-4 3-4 2M1343 1018l3 0-5-2-4 3M1159 950l4-6-5 5-3-1M1226 965l4-9-4 3-4 7M1539 1064l3-2-6-5-5 10M1174 940l3-1-4 1-4 6M1290 980l3-7-5 6-4 3M1265 970l3-6-4-1-4 6M1237 961l4-4-5 2-3-1M1264 963l3 1-5-1-3 2M1223 938l4-2-4-1-4 7"/>
<path color="#731" d="M837 1258l6-19-6-8-6 13M642 1123l7-3-5-11-6 8M1071 1375l8-6-8-16-7 14M1151 926l4 0-4-11-4 2M1177 927l3-3-4 0-3 2M1173 926l3-2-3-11-4-1"/>
<path color="#e52" d="M757 1202l7-7-4-1-8 0M867 1146l5-18-3 13-7 5M746 1065l7 1-4-5-6 2M894 1111l5-8-4-3-6 11M728 1003l5-6-3 3-5 1M739 987l5-8-2 6-6-1M825 981l5-9-3 2-5 4M958 978l4-10-3 1-5 6M1109 981l4-2-4-6-4 4M1358 1047l3 0-6 0-4 5M1386 1051l4-6-7 5-3 1M985 911l4-6-3 1-4 1M1413 1042l4-7-6 3-3 2M1164 951l3 0-4-4-4 9M1040 907l4 0-4-4-4 4M1270 985l4-7-5 1-3 3M1019 898l4-1-3 0-4-1M1134 907l4-5-4 1-4 5"/>
<path color="#931" d="M621 1108l6-8-4-5-7 5M573 1067l7-1-5-9-6 5M1040 1385l8-3-7-8-8 3M609 1084l7 1-4-8-7 2M816 1229l7-11-5-1-8-4M801 1213l8 1-5-4-9-4M615 1070l9 9-5-9-7-1M645 1097l6-7-5-10-6 6M627 1078l7-1-4-3-6 5M1014 1327l8-2-7-11-8 0M795 1189l6-8-5-8-7 8M630 1074l7-1-5-10-7-2M1079 1369l7-13-8-13-7 10M664 1087l8 3-4-3-7-3M561 1019l7 0-4-6-5 5M1023 1324l7-10-7-15-8 3M668 1087l7-2-5-9-6 4M573 1020l8 3-4-7-6 6M1093 1353l8-2-8-18-7 5M1030 1312l7-12-7-14-7 10M682 1082l6-4-5-11-6 5M1079 1330l7-7-7-5-7-1M822 1160l7-2-5-12-7 5M627 1035l6-6-5-8-6 4M666 1051l7 1-5-6-6-1M656 1046l6-4-5-9-5 6M633 1029l7 4-4-6-8-6M931 1208l7 2-5-6-7-2M826 1145l8 6-6-12-7-7M787 1128l6-11-5-9-5 13M665 1041l7 5-4-8-6 4M1014 1257l7-1-6-11-7 5M710 1067l7 1-4-2-7-4M706 1062l7 4-4-6-7-2M923 1192l7-1-5-6-7-3M980 1222l7-1-6-7-7-7M925 1185l6-2-5-7-7-5M691 1044l7 3-5-13-6 6M812 1109l7 3-5-10-7-2M701 1049l5-13-4-1-4 12M673 1024l7 4-5-9-6-2M927 1172l7-4-5-5-7 1M819 1112l6-7-5-7-6 4M1112 1279l7 1-7-23-7 8M899 1147l7 5-6-11-6 3M825 1105l7 4-5-11-7 0M780 1081l7 2-5-10-6 5M787 1083l5-8-5-8-5 6M707 1025l7 3-4-4-6-4M1067 1228l6 1-6-8-7-5M824 1078l7 10-4-9-7-4M830 1069l7 4-5-8-6-1M716 1004l7 5-4-5-6-5M681 983l7 8-3-4-8-9M968 1116l6-5-5-9-6 0M920 1084l4-15-5-10-5 11M985 1109l6-8-6-12-5 1M836 1023l5-2-4-12-5 7M761 981l7 8-4-5-7-11M1107 1151l5-3-5-15-6-2M1030 1073l5-5-5-5-5 1M1079 1071l5 2-5-22-5 9M1185 1117l4 0-5-21-5 2M981 1023l4-6-4-15-5 5M1362 1162l4-2-6-8-3-9M908 952l4 1-3-8-5-2M1151 1050l4-1-5-11-4-1M1057 1007l5 0-5-9-4 4M1071 1009l4-8-4-4-5 8M1265 1086l4-4-5-10-4-1M1259 1066l3 4-5-10-4-2M925 934l4 3-3-2-5-7M1080 997l4-1-4-9-5-4M936 929l4 0-3-7-5-1M1080 971l4 8-4-12-5-6M1020 951l4-3-4-4-4-1M962 921l4 5-4-7-4-4M1149 991l4 7-5-10-4-7M1084 965l4-1-4-7-4 0M1032 943l5 2-4-5-4-3M1052 941l4-2-4-14-3 11M1294 1030l4-3-4-11-4 6M1060 941l4 1-4-6-4 3M970 905l4 2-3-4-4 0M1298 1027l4-2-4-15-4 6M1080 946l4 2-4-9-4-1M1060 936l4 0-4-4-4-3M998 916l4 1-3-3-4-3M1307 1029l4-6-4-7-5 9M1068 940l4-2-4-7-4 5M1016 921l4-5-3-4-4 2M1383 1050l4 0-5-11-4 2M1175 974l4-1-5-8-4 4M996 909l4-1-3-7-4 2M1463 1075l4-8-6-9-4 13M1319 1019l3 4-5-7-3-3M1302 1006l3 3-4-8-4 2M1187 972l4 0-5-8-3 1M1387 1031l3 3-5-8-3 2M1311 1011l4-6-5-6-5 10M1069 926l3-1-3-1-4-3M1022 910l3-6-3-6-4 3M1512 1080l3-1-5-14-4 6M1390 1034l4-5-5-9-4 6M1264 988l4 1-5-4-3 1M1181 960l4 6-4-10-4 2M1095 929l4 2-4-6-4 3M1005 901l4-1-4-1-4 3M1489 1069l4-7-5-12-3 5M1185 966l4-6-4-7-4 3M1058 918l3-2-3-9-4 5M1493 1062l3 3-5-12-3-3M1009 897l4 1-4-10-4 3M1261 981l3 0-4-3-4-4M1410 1026l3 2-5-8-3-1M1303 999l4-7-5-8-4 7M1260 978l3-5-4 1-4 1M1054 908l4-2-3-3-4 0M1502 1064l4-6-5-11-3 0M1110 922l3 5-3-8-4-1M1080 912l4 1-4-5-4 1M1161 945l3-9-4-10-3 6M1113 927l4-6-4-10-3 8M1333 993l3-2-5-4-3 0M1080 910l4-2-4-8-4 3M1034 892l4-1-3-3-4 5M1218 955l4-3-4-4-4-1M1501 1042l3-2-6-3-3 0M1314 985l4-6-4-6-4 3M1167 936l4-6-4-7-4 7M1066 896l3 0-3-3-4 7M1321 981l4-4-5-6-3-1M1256 956l3 2-4-10-3 1M1229 945l3 5-4-9-3-4M1052 889l4-2-4-3-3-3M1105 910l4-7-4-4-4 1M1263 956l3-3-4-6-3-2M1127 908l3 0-3-2-4-2M1123 904l4 2-4-5-4-4M1059 881l4 1-4-4-3 3M1562 1048l4-3-6-8-3 1M1350 978l4-8-5-1-4 9M1080 888l3 1-3-6-4 4M1164 910l3-4-4-2-3 4"/>
<path color="#c52" d="M721 1174l7-5-4-4-7 8M884 1286l7-19-6-2-7 10M778 1202l8-3-4 2-8 0M774 1201l8 0-6-9-7 2M821 1227l6-15-4 6-7 11M823 1218l7-8-5-3-7 10M798 1199l8 1-5-5-8 0M633 1079l7-1-3 1-8-5M640 1078l7 0-3-3-7 4M637 1079l7-4-4-3-6 5M650 1077l7 0-4-6-6 7M798 1165l7-1-4-2-7 1M646 1067l8 2-4-4-6 4M661 1074l5-11-3 0-6 6M1072 1317l7 1-7-5-8-3M1072 1313l7-4-7 0-7 10M1058 1309l7-12-7-3-7 3M1038 1289l7-1-7-5-7 4M891 1200l7-6-6-1-6 4M1058 1294l7-4-7-2-6 14M964 1235l7-1-6-10-7 3M1107 1314l7-2-7 0-7 2M1100 1314l7-2-7-8-7 5M1072 1297l7-6-7-1-7 0M1065 1290l7 0-7-6-7 4M1058 1288l7-4-6-6-7 0M1039 1278l7-4-7-3-7 1M971 1234l7-5-6-3-7-2M673 1052l5-5-3-3-7 2M1100 1304l6 4-7-9-6 6M989 1234l7-3-6-1-7-3M960 1217l7-5-5 3-7-3M955 1212l7 3-6-4-7 2M949 1213l7-2-6-5-6 9M944 1215l6-9-5 0-7 4M1002 1239l7-2-6-7-7 1M956 1211l7-4-6 1-7-2M724 1070l7 0-4-3-7 1M629 1011l7-1-4-5-6 4M624 1012l5-11-2 6-6 2M810 1112l7-1-5-2-7-3M627 1007l5-8-3-2-5 8M1016 1234l6-11-6-7-6 18M976 1200l6-5-5-2-7 5M938 1175l6 0-5-3-7-1M845 1121l7 1-5-8-7-2M651 1007l6 3-4-6-5 5M1035 1231l6-7-6-3-6 3M857 1128l5-11-4 2-6 3M852 1122l6-3-4 3-7-8M731 1052l6 1-4-8-6 2M1054 1236l6-11-6-2-7 3M1006 1201l6 2-5-5-7 3M940 1165l7-3-6-3-6 8M774 1073l6-9-5-5-4 12M737 1053l6-5-5-10-5 7M665 1004l7 3-4-4-6-3M990 1193l6-5-6-9-6 2M941 1159l7-1-6-7-6 5M926 1149l7 2-5-2-7 0M792 1075l6-7-4 4-7-5M754 1054l6 0-4-8-6 2M942 1151l7 4-5-11-7-1M786 1065l6-2-4-1-6-3M661 991l6-1-3-4-5 8M659 994l5-8-3 0-5 3M959 1160l7-3-6-9-6 9M954 1157l6-9-5 5-6 2M797 1070l5-8-4-4-6 5M781 1058l6 1-4-8-6 6M1043 1205l6-8-6-17-6 19M1037 1199l6-19-6 6-5 20M874 1108l6-8-5-6-6 8M783 1051l6-2-4 0-7-3M725 1022l6-4-4-2-5 5M742 1028l5-7-4-6-5 8M738 1023l5-8-3 0-6 5M731 1018l6-1-4-4-6 3M718 1011l5-6-3 1-6 4M694 997l7 1-4-7-5 9M692 1000l5-9-4-4-4 9M1091 1207l6-2-6-2-6-1M787 1043l7 5-4-3-7-8M1010 1158l6 3-5-12-6 13M1005 1162l6-13-6-12-5 26M756 1023l7 1-4-4-6 5M726 1009l5-5-3-1-5 6M719 1004l6-3-4-5-5 7M889 1094l6-7-5-2-6 2M863 1082l5-10-4-2-5 3M735 1007l5-5-4-4-5 6M708 986l6 5-4-6-5 0M1128 1207l6 1-6-7-6 2M768 1020l6 1-4-4-6-1M733 997l6 5-3-7-6 5M708 989l5-2-3-2-5 1M705 986l5-1-3-3-6-3M1128 1201l5 6-6-9-6-1M892 1085l5-7-4 0-6-1M874 1071l7 2-5-4-6-1M749 1007l6-4-3 0-6-1M759 1010l4-12-4-4-4 9M752 1003l5-3-3-1-6 2M754 999l5-4-3 4-6-5M731 987l5-3-3-2-5 4M1102 1174l6-1-6-6-5-3M909 1076l5-6-4-9-6 10M794 1016l5-2-3-1-6-3M989 1109l6-5-5 3-6-2M1236 1234l6-10-7-4-6 14M995 1104l5 0-5-1-5 4M1113 1169l6-11-6-5-5 9M879 1048l5-7-4-8-5 13M1268 1236l6-8-7-6-6 14M1119 1158l6 2-6-8-6 1M884 1041l6-2-5-8-5 2M751 976l5-2-3-3-6 1M791 989l5-6-3-1-6 1M1203 1188l5-4-6-11-6 8M1063 1122l6-16-6-7-5 18M793 982l5 1-3-4-5 3M760 971l5-6-4-5-4 11M1171 1161l5-10-6 2-5 11M1043 1103l5-1-5-8-5 2M788 978l5 1-3-6-6 0M770 960l6 6-4-9-6-3M1128 1125l5-3-5-2-5-6M794 973l4-6-4-10-4 9M1049 1074l5 1-4-8-6 5M913 1010l5 5-4-10-5 2M935 1017l5-5-4-5-5 4M1070 1071l4-11-4 3-5 2M1174 1112l5-14-5 0-5 16M826 955l5 0-4-8-4 5M1321 1173l5-11-6-13-5 16M1041 1047l5-4-4-5-5 8M854 962l5 2-3-5-5 1M849 958l5-4-4-3-5 0M842 955l5-7-4-5-4 7M1094 1057l5-4-5-4-5 7M1047 1033l5 3-5-5-5-2M851 946l5 0-3 0-5-2M848 944l5 2-4-2-4 0M991 1008l4-3-4-5-5 3M901 968l5 1-4-7-4 2M1056 1035l5-5-5-3-4 1M1038 1029l5-10-4 0-5 2M999 1009l5-7-4-3-5 6M874 952l5 3-3-3-5-3M1175 1076l5-2-6-4-4-1M907 962l5 3-4-5-5-2M869 949l5-1-4-1-5-3M1052 1031l5-13-5-1-4 0M953 980l4 1-4-5-4 3M881 954l4-6-4-3-4 3M1137 1054l5-3-5-4-5 5M902 955l5-3-4-4-5 3M875 948l4-7-3-4-5 6M1014 998l4-2-4-1-4 0M889 945l5 1-4-5-4 1M879 941l5 0-4-4-4 0M1220 1084l5-13-5-6-5 19M1066 1018l5-5-5 2-4 0M1048 1011l5-3-4-3-5 0M880 937l5 2-4-5-4-1M1141 1041l5-4-5-1-5 3M1071 1013l4 2-4-3-5 3M1066 1015l5-3-5-4-4 3M979 980l4-9-4 2-4 2M991 974l4 0-4-5-4 4M899 938l5 5-4-5-4-1M999 976l5-4-4-1-5 3M950 957l4-3-4-6-4 9M969 962l5-1-4-4-5 4M958 956l4-1-3-1-5 0M892 935l4-5-3-1-5 0M923 938l4 1-4-7-4 3M913 940l4-11-4-4-4 12M899 933l4-5-3-3-4 5M900 925l5 4-4-4-4 0M1005 971l5-6-4-3-4 6M1002 968l4-6-4 2-5-2M960 951l5-1-4-6-4 6M912 936l4-7-4-2-4-1M1111 1008l4 0-5-8-4 5M1157 1024l4-6-4-4-5 9M1152 1023l5-9-5-5-5 17M969 949l4-6-3 3-5-3M980 949l4-6-3-4-4 4M1046 971l5-2-4 1-5-4M1042 966l5 4-4-6-5 2M970 942l4-1-3-3-5-3M952 935l5-2-4-2-4 4M1051 969l4-5-4-1-4 7M1047 970l4-7-4-4-4 5M974 941l4-3-3-3-4 3M964 938l4-1-4-2-4-2M960 933l4 2-3-5-4 3M953 931l4-5-3 0-5 0M1364 1086l3 0-5-6-5 8M1071 974l4-4-4-5-4 5M1373 1088l5-7-7 3-4 2M1110 981l4-2-5 0-4 4M1067 968l4-2-4-2-4-1M968 930l4-2-3 1-4-2M944 924l4-7-3-2-4 8M1279 1045l5-5-6-2-4 3M1227 1028l4-7-5-1-4 2M1114 979l4 5-4-6-5 1M1036 956l4 0-4-7-4 4M969 929l4-4-3-1-5 1M1328 1064l4-5-5-4-4-1M1231 1021l4 4-5-5-4 0M1201 1014l4-1-5-11-4 4M1167 1002l4 1-4-5-4 0M1051 957l5 0-4-4-5 2M1040 956l4-6-4 0-4-1M970 924l3-6-3 1-4 7M936 911l4 4-4-5-4 0M1167 998l4-1-5-1-4 0M1113 979l4 0-4-4-4-2M1048 953l4 0-4-1-4-2M1040 950l4 0-4-5-4 4M957 920l3-7-3 2-4 3M1324 1057l5-9-5-10-5 15M974 918l4 3-3-3-4 0M954 913l4 1-4-3-4 0M1040 947l4-7-3-1-4 6M1007 931l4-1-4 0-4 0M1003 930l4 0-3-1-5-3M1237 1016l4-3-5-4-4 8M1100 962l4-2-4 0-4 4M1037 938l4-2-4 1-4-3M986 922l4-5-4 0-4 4M952 913l3-13-3 4-3 8M1125 976l4-7-4-7-4 6M1100 960l4-4-4-4-4 4M1060 946l4 1-4-2-4 1M1018 926l5 4-4-6-4 3M986 917l4-1-3-1-4 1M1121 964l4 0-4-6-5 13M1026 933l4-10-4 2-3 5M990 916l4-2-3-4-4 5M1445 1082l4-2-6-4-4 1M1338 1041l4-5-5 0-4 6M1333 1042l4-6-6 1-4 2M1023 924l4 0-4-1-4 1M1449 1080l4-10-6-3-4 9M1252 1008l4 1-5-7-3-4M1030 923l4 2-3-5-4 4M988 916l4-10-4 2-3 4M985 912l3-4-3 3-4-4M1485 1088l3-1-5-9-4 3M1380 1051l3-1-5-9-4 7M1374 1048l4-7-5-6-4 10M1208 991l4-7-5-1-3 0M1104 954l4-6-4 4-4-4M1002 917l4-10-3 5-4 2M1444 1065l4-1-7-2-4 8M1437 1070l4-8-5-11-5 15M1413 1057l4-2-6-7-3 5M1355 1040l3 0-4-9-4 5M1136 961l4-4-4-3-4 1M1049 928l4-4-4-2-3 5M1371 1034l3-1-6 5-4 10M1337 1030l4-6-6 1-4 4M1326 1025l4-3-6-2-3 1M1321 1021l3-1-5-1-4 0M1206 983l4-7-4 5-4 2M1107 949l4-1-4-5-4 4M993 903l4-2-4-2-4 5M1357 1031l4-6-5-3-5 15M1128 951l3-5-4-1-4 5M1065 925l3-1-3-1-4 1M1480 1070l3 2-6-9-4 8M1257 991l4-2-5-2-4 1M1502 1078l4-7-6-2-4 1M1416 1041l3 2-6-1-4 5M1398 1039l4-3-6-1-4 3M1321 1015l4-10-5-1-4 7M1316 1011l4-7-5 1-4 6M1178 960l3 0-4-2-4 1M1408 1040l3-2-5-5-4 3M1039 911l4-4-3 3-4-1M1411 1038l4-5-6-1-3 1M1009 900l3-3-3 0-4 2M1427 1036l3-2-6-1-3 1M1415 1033l3-1-5-2-4 2M1312 999l3 1-5-7-4 4M1296 996l4 1-5-5-4 3M1286 996l4-10-5 4-4 2M1202 959l4 2-5-4-3 0M1043 910l4-4-3 1-4 0M1516 1064l4-4-7 2-3-3M1295 992l3-1-4-8-4 3M1285 990l4-6-5-4-4 4M1072 915l4-3-4-1-3 4M1289 984l3 0-5-3-3-1M1214 962l3 1-4-10-4 8M1183 954l4-6-4 2-4 1M1044 904l3-6-3-2-4 7M1020 897l3-6-3 5-4 4M1413 1028l5-12-6 4-4 0M1149 937l4 0-4-1-4-2M1027 893l3 3-3-7-4 2M1336 997l4-4-6 3-3-5M1178 943l3 3-4-7-3 1M1153 937l4-5-4-2-4 6M1102 916l4 0-4-1-4-1M1393 1009l3 2-5-4-3-2M1203 951l3-6-4-1-4 7M1110 919l3-8-4 3-3 2M1102 915l4-4-4-1-4 5M1038 893l3 3-3-10-4 6M1396 1011l4-6-5-4-4 6M1211 948l3-1-4 0-4-2M1132 923l4 0-4-4-3 6M1045 892l3-2-3-1-4 7M1516 1050l4-8-6-4-4 8M1480 1030l4-1-6-1-4 6M1336 991l4-10-5 3-4 3M1214 947l4 1-4-4-4 3M1210 947l4-3-5 1-3 1M1201 944l4-3-4-5-4 4M1454 1023l4-9-6 2-5 10M1355 989l4-1-5-2-4 1M1350 987l4-1-5-4-4 5M1295 979l4-10-5 1-3 1M1291 971l3-1-5-3-3 5M1281 969l4-8-5 1-3 1M1109 913l4-2-4-8-4 6M1517 1040l3-2-6-5-4 10M1510 1043l4-10-6-3-4 10M1504 1040l4-10-6-3-4 10M1379 996l4-1-6-1-3 2M1374 996l3-2-5-2-3 2M1359 988l3-4-5 0-3 2M1230 949l4-2-5-2-3-1M1136 917l3-2-4 0-3-2M1388 999l4-9-6 5-3 0M1383 995l3 0-5-7-4 6M1367 990l3-2-5 0-3-4M1139 915l4-6-4 5-4 1M1397 999l3-6-5 1-3-4M1386 995l4-4-6-1-3-2M1365 988l4-4-6 0-3 3M1296 965l4-4-5-5-3 7M1237 947l4-6-5 5-4 4M1139 914l3-1-4-2-3-1M1395 994l3-4-5-6-3 7M1300 961l3 0-5-2-3-3M1227 943l4-3-4-4-4 2M1109 903l3-8-4 3-3 1M1372 986l3-6-5-1-4 7M1235 943l4-7-5 1-3 3M1134 908l4 1-4-2-3-1M1533 1029l3-3-7 0-3 3M1365 981l4-9-5-3-4 8M1360 977l4-8-6 4-3 0M1355 973l3 0-4-3-4 8M1239 936l3 1-4-3-4 3M1138 909l3-5-3-2-4 5M1134 903l3-4-3-1-4 7"/>
<path color="#b52" d="M629 1089l9 7-5-10-7 1M1029 1320l7-6-6 0-7 10M873 1194l7-5-5-5-6 10M794 1136l7-5-4-1-7 8M1079 1291l7-2-7-4-7 5M1008 1250l7-5-7-6-6 6M917 1194l6-2-5-10-7 2M1008 1239l7 3-6-5-7 2M963 1207l6-5-5-5-7 11M839 1130l6-9-5-9-6 13M970 1198l7-5-6 0-6-4M932 1171l7 1-5-4-7 4M648 1009l5-5-3-4-6 2M1041 1237l6-11-6-2-6 7M756 1046l6 5-4-9-7-2M678 1006l5-3-4-7-5 6M683 1003l6-1-3-5-7-1M726 1007l7 6-5-10-5 2M991 1131l6 0-5-6-6 0M767 1004l6 2-5-12-5 4M796 983l5 1-3-1-5-1M850 951l5-1-4-4-4 2M986 1006l5 2-5-5-5 0M1020 1019l5 0-4-4-5-3M966 999l5-5-5-6-4 5M974 961l4-4-4-3-4 3M1088 1007l5-1-5-9-4 2M1018 969l4-6-4-5-4 2M1034 969l5-7-4-6-5 10M1059 972l4 2-4-5-4 2M1048 948l4 0-4-7-4 6M1276 1028l5-8-5-6-4 5M1104 960l4-1-4-3-4 4M1129 969l4-2-4-5-4 0M1015 926l4-2-4-4-3 5M980 908l5 4-4-5-4 6M1038 928l4 1-4-5-4 4M1198 980l4 3-5-8-3 1M1396 1049l4-5-5-6-4 3M1036 909l4 1-4-4-4 0M1355 1023l4-14-5-1-5 15M1349 1023l5-15-6 0-4 11M1235 967l4 0-4-8-4 5M1102 920l4-2-4-2-4 4M1243 964l3-2-4-6-4 0M1193 947l4-7-4-1-4 8M1459 1028l4-7-5-7-4 9M1369 994l3-2-5-2-3 3M1289 967l4-2-5-4-3 0M1135 915l4-1-4-4-4 1M1358 982l4-4-5-4-4 6M1333 975l4-2-5-4-4 5M1076 888l4 0-4-1-3-1M1066 892l4-10-4 0-3 3M1193 926l3-6-4-3-3 4M1217 933l3-11-4-1-4 9"/>
<path color="#d52" d="M766 1202l8-1-5-7-7 13M762 1207l7-13-5 1-7 7M818 1229l7-2-4 0-8 0M802 1217l8-4-5-2-7 6M668 1135l6-15-5-7-5 14M656 1121l6-7-4-6-6 8M627 1100l5-11-3 0-6 6M616 1090l7-4-4-2-7 3M706 1147l6-11-3 1-6 12M801 1195l7 1-5-8-7 5M654 1091l7-1-4-6-6 11M823 1204l7-4-5-6-7 9M818 1203l7-9-5-3-7 10M651 1090l6-9-4-4-7 3M1029 1328l7-7-7-1-7 5M647 1078l6-7-4-5-5 9M640 1072l6-5-2 2-7 4M681 1080l8 7-4-6-7 2M846 1183l7-2-5-1-6 4M842 1184l6-4-5-7-6 10M705 1080l7-2-4-2-6 5M1065 1297l7 0-7-7-7 4M676 1053l5-8-3 2-5 5M624 1014l5-3-3-2-6-2M990 1230l7 1-6-10-6 10M734 1069l8 7-4-5-7-1M684 1040l7 4-4-4-6 2M997 1231l7-5-6-5-7 0M968 1202l7 7-6-7-6 5M1010 1234l6-18-6 6-6 4M876 1143l6-1-5-5-6 6M834 1125l6-13-4 4-7 0M1029 1224l6-3-6-1-6-8M982 1195l7 2-6-2-6-2M776 1078l6-5-4-4-7 1M760 1066l6-1-3 0-7-1M657 1010l5-10-3 0-6 4M782 1073l5-6-3 0-6 2M947 1162l6-9-5 5-7 1M750 1048l6-2-5-6-4 15M747 1055l4-15-3 2-5 6M1060 1216l7 5-7-9-6 1M800 1066l6-6-4 2-5 8M729 1027l6-2-3-3-7-1M686 1003l6-1-3 0-6 1M966 1157l5-8-5 0-6-1M869 1102l6-8-5-9-5 19M743 1034l5-12-4 0-5 5M732 1022l6 1-4-3-5 2M689 1002l5-5-2 3-6-3M701 999l6 2-3-3-7-3M689 996l4-9-3 1-5 4M690 988l6 1-3-3-6-3M1000 1163l5-26-5 3-5 18M995 1158l5-18-5 4-6 13M1122 1219l6-12-6-4-6 13M763 1024l5-4-4-4-5 4M868 1072l6-1-4-3-6 2M727 998l5-5-3-1-5 8M947 1117l5-17-5-10-5 20M774 1021l4-10-3-2-5 8M778 1011l6 2-3-3-6-1M709 979l6-3-3 1-6 2M1062 1163l6-9-6-8-6 11M728 986l5-4-3 4-6-7M969 1102l5-5-5-2-5 2M773 994l5-2-3 1-5 0M785 995l5-3-3 1-5 0M755 977l5 1-3-5-5 9M746 977l5-1-4-4-5-1M786 989l5 0-4-6-5 4M756 974l5-3-3 0-5 0M753 971l5 0-3 1-6-7M790 982l5-3-4-4-5 2M1299 1220l6-10-6-15-6 14M995 1073l5-15-5-2-5 9M799 958l6 5-4-6-4 2M1044 1072l6-5-5-1-5 11M1055 1065l5-1-5-2-5-7M1060 1064l5 1-5-2-5-1M936 1007l5 3-4-6-5 2M1253 1152l5-8-6-8-6 13M953 1017l5-3-4-8-5 6M1258 1144l5-3-6-8-5 3M853 967l5-6-4 1-5 1M997 1028l4-5-4-3-5 3M967 1015l4-14-3 7-5 6M845 951l5 0-3-3-5 7M972 1004l5 1-4-5-5 2M899 973l5 0-4-2-4 3M900 971l5-3-4 0-4 2M1094 1049l5 3-5-4-5-1M870 957l4-5-3-3-4 6M935 976l5 0-4-2-4 3M928 977l5-2-4-3-5 0M914 973l4-9-4-3-4 6M1030 1016l4-3-4-8-4 15M1026 1020l4-15-4 1-5 10M1004 1002l5 1-5-8-4 4M944 982l5-3-4-1-5-2M1132 1052l5-5-5-11-5 16M1061 1018l5 2-5-6-4 4M953 976l5 2-4-3-5-3M904 943l5 2-4-3-4 5M890 941l5-1-3 0-5-1M1351 1137l5-14-6-5-6 17M1062 1011l4-3-4-3-5 5M1057 1010l5-5-5 2-4 1M895 940l4-2-3-1-4 3M1015 987l5-2-5-2-4 7M968 967l4 0-4-3-4 4M953 957l5-1-4-2-4 3M917 941l5 3-4-4-4 3M965 961l5-4-4-5-5 4M1381 1128l5-11-6-1-6 13M947 946l5 7-3-6-5 1M916 940l4-9-3-2-4 11M896 930l4-5-3 0-4 4M1386 1117l4-2-6-1-4 2M897 925l4 0-3-3-5 0M1088 997l5 0-5-2-4 5M1167 1030l5-7-5-2-5 3M976 950l4-1-3-6-4 7M973 950l4-7-4 0-4 6M947 941l5-3-4-4-4 1M1038 966l5-2-4-2-5 7M1030 966l5-10-4-2-4 10M996 946l4 0-4-2-4 11M974 942l4-2-4 1-4 1M949 935l4-4-4-5-4 8M1055 971l4-2-4-5-4 5M971 938l4-3-4 0-4 1M957 933l4-3-4-4-4 5M943 930l3-11-3 6-3 7M1382 1096l4-9-6-1-4 5M1376 1091l4-5-7 2-3-2M1357 1088l5-8-6-3-5 4M1265 1055l5-7-5-11-5 11M1067 970l4-5-4 3-4 6M1039 962l4-2-4-1-4 1M1362 1080l4-2-7-2-3 1M1371 1084l5-10-7 3-3 1M1366 1078l3-1-6-3-4 2M1197 1016l4-2-5-8-4 11M1230 1020l4-2-5-1-4 2M1036 949l4-4-4 0-4 5M964 915l4 2-3-2-5-2M1180 998l4-10-5-2-4 7M1044 947l4-6-4-1-4 7M961 918l4-8-3-2-4 6M1064 948l4-3-4 2-4-1M1037 937l4-5-4-3-4 7M1033 936l4-7-3 3-4 3M1187 988l4-2-4-5-4 2M1034 932l3-6-3 2-4 11M1023 930l3-5-3-1-4 0M1249 1010l3-2-4-10-4 6M1150 975l5-10-5 5-4 0M1146 970l4 0-4-1-4-1M1199 989l5-6-5 0-4 3M1150 970l4-9-4 6-4 2M1146 969l4-2-5-1-4-3M1092 950l4-6-4 2-4 3M1027 924l4-4-4-3-4 6M981 907l4 4-3-4-4 1M1351 1040l4 0-5-4-4-3M1329 1029l5-5-6 1-4-2M1088 946l4-6-4 4-4 4M1419 1063l4-9-6 1-4 2M1408 1053l3-5-6-1-4 5M1401 1052l4-5-6 0-3-4M1141 961l4-1-5-3-4 4M1124 949l4 7-4-8-4 2M992 906l4 3-3-6-4 2M1423 1054l3 1-5-5-4 5M1399 1047l4-6-7 8-3 3M1358 1040l5-8-6-1-3 0M1103 947l4-4-4-1-4 2M1061 927l4-2-4-1-4 3M1489 1076l4-1-6-7-5 9M1368 1038l5-12-7 4-3 2M1363 1032l3-2-5-5-4 6M1493 1075l3-5-6-3-3 1M1252 988l4-1-5-6-4 8M1169 963l4-4-4-4-4 12M1182 962l4-4-5 2-3 0M1012 902l4-5-4 0-3 3M1306 997l4-4-5 3-4 0M1291 995l4-3-5-6-4 10M1272 984l4-9-6 10-3-1M1320 998l4-3-5-3-4 8M1051 905l3 3-3-5-4 3M1209 961l4-8-4 4-4 4M1209 957l3-2-4-2-4 3M1183 950l3-5-4 1-4 3M1389 1015l4-6-5-4-4 5M1198 951l4-7-4 1-4 1M1106 916l3-2-3-3-4 4M1539 1058l3-4-6-6-4 10M1198 945l3-1-4-4-4 7M1185 940l4-3-4-3-4 2M1144 929l4-6-4-2-4 7M1140 928l4-7-4 3-4-1M1346 992l4-5-5 0-4 9M1140 924l4-6-4-1-4 6M1094 909l4-1-4-10-3 12M1132 919l4-2-4-4-4 7M1120 913l4-4-4 3-4 3M1105 910l4-9-4 5-3 2M1124 909l3-1-3-6-4 10M1402 1000l4-9-6 2-3 6M1370 988l4 0-5-4-4 4M1091 896l3-2-4-2-3 5M1400 993l4-7-6 4-3 4M1142 913l4-5-4 4-4-1M1388 987l3-4-5-4-4 13M1382 992l4-13-5 1-4 9M1377 989l4-9-6 0-3 6M1312 967l4-10-5 5-3 1M1280 956l3-7-4 3-4 5M1231 940l3-3-4-2-3 1M1197 929l4 0-4-3-4 3M1381 980l3 2-5-10-4 8M1306 963l4-6-5-3-3 5M1297 959l4-7-5 2-4 7M1230 935l4-2-5-2-3 6M1185 920l3-4-4-6-4 14M1145 908l4-9-4 7-3 8M1310 957l3-3-4-1-4 1"/>
<path color="#e62" d="M810 1231l8-2-5-2-8 1M696 1156l6-9-3 1-7 7M672 1138l6-8-4-1-5 12M889 1284l7-18-5 1-7 19M783 1204l7-4-4-1-8 3M769 1194l7-2-4-2-8 5M671 1130l6-11-3 1-6 15M664 1127l5-14-3 2-7 5M659 1120l7-5-4-1-6 7M825 1227l7-9-5-6-6 15M790 1200l8-1-5-4-7 4M818 1217l7-10-5-3-8 1M651 1095l6-11-4-1-5 11M830 1200l7-10-5-2-7 6M657 1081l7-1-4-5-7 2M780 1151l7 0-5-3-6 5M844 1186l7 1-5-4-7 1M839 1184l7-1-4 1-8-4M782 1148l7-6-4 0-6 13M900 1214l6-15-5 1-6 21M848 1180l6-11-5-5-6 9M1079 1318l7-16-7 7-7 4M901 1200l7 2-5-3-7 2M896 1201l7-2-5-5-7 6M1038 1283l7-9-6 4-7 6M970 1238l6-11-5 7-7 1M913 1202l7-2-5-7-7 9M1052 1278l7 0-7-3-7-1M804 1131l6-5-4-1-7 0M722 1075l6 0-4-3-6 2M718 1074l6-2-4-4-6 3M1046 1274l6-10-6 0-7 7M806 1125l6-8-4-2-6 14M728 1075l6-6-3 1-7 2M724 1072l7-2-4-5-7 3M681 1045l7 2-4-7-6 7M967 1212l7-5-6-5-6 13M962 1215l6-13-5 5-7 4M808 1115l6-6-4 3-7 2M1053 1256l6-11-6 5-7 10M871 1143l6-6-5-9-5 18M648 1014l5-9-2 2-7 2M688 1023l6-5-3-1-5 9M662 1004l6 1-3-1-6 0M653 1004l6-4-3 1-6-1M1047 1226l7-3-6-7-7 8M694 1018l6 0-3 0-6-1M1054 1223l6-7-6-3-6 3M936 1156l6-5-5-8-6 5M743 1048l5-6-3-1-7-3M674 1002l5-6-2 1-5 7M1067 1221l6-11-6-4-7 6M792 1063l6-5-4 1-6 3M689 1004l6-1-3-1-6 1M865 1104l5-19-4 1-5 12M729 1022l5-2-3-2-6 4M1079 1204l6-2-6-2-6 2M781 1044l6-1-4-6-5 14M734 1020l6-5-3 2-6 1M685 992l5-4-3-5-5 6M682 989l5-6-3 0-5 6M731 1004l5-6-3-1-5 6M980 1135l6-10-5-3-6 11M730 1000l6-5-4-2-5 5M1121 1197l6 1-6-4-6 6M986 1125l6 0-5 0-6-3M755 1003l4-9-2 6-5 3M752 982l5-9-4-1-4 5M757 973l6 4-4-5-6 0M747 972l6-1-4-6-4 8M1058 1117l5-18-5 1-5 20M1058 1102l6-10-6 4-5 12M1039 1082l5-9-5-1-5 8M790 966l4-9-2 5-5 4M944 1027l5-7-4 0-5 11M909 1007l5-2-4 0-5 3M1045 1066l5-11-5 7-5 6M977 1029l5-5-4 0-5 1M1013 1045l5-16-5 1-4 10M1074 1060l5-9-5 2-4 10M890 978l4-5-4-2-4 7M968 1008l4-4-4-2-4 7M964 1009l4-7-4-2-4 3M968 1002l5-2-4 0-5 0M964 1000l5 0-4-3-4 7M1011 1017l5-5-4 2-5 1M845 944l4 0-3-2-4 4M962 993l4-5-3 0-5 6M932 977l4-3-3 1-5 2M902 962l5 0-4-4-4 5M1170 1069l4 1-5-4-5 7M1043 1019l5-2-5 1-4 1M918 964l4-2-3 0-5-1M893 955l4-4-3-1-4 11M1127 1052l5-16-5 3-5 10M898 951l5-3-4-5-4 10M895 953l4-10-3 1-4 9M892 953l4-9-3 0-5 7M888 951l5-7-4 1-4 3M1031 1009l4-13-4 2-4 8M1001 991l5-4-4 3-5 3M886 942l4-1-3-2-4 4M883 943l4-4-3 2-5 0M876 937l4 0-3-4-5 4M1215 1084l5-19-6 1-5 17M982 981l4-2-4-5-4 3M909 945l4-6-4 2-4 1M972 967l4-8-3 1-5 4M918 940l5-2-4-3-4 8M888 929l5 0-4-4-4 5M962 955l5-4-4 2-4 1M919 935l4-3-3-1-4 9M909 937l4-12-3 1-4 10M893 929l4-4-4-3-4 3M1010 965l4-5-4 3-4-1M983 952l4-5-4 1-4 5M916 929l4-5-4-5-4 8M1038 970l4-4-4 0-4 3M962 940l4-5-3 3-4 5M1023 963l4-4-4-3-4 3M945 934l4-8-3 0-4 7M1101 988l4-9-4 3-4 4M1043 964l4-5-4 1-4 2M946 926l4-7-4 0-3 11M1127 999l5-10-5 0-4 7M1457 1120l5-6-7-4-4 5M1356 1077l3-1-6-1-4 1M1270 1048l4-7-5-4-4 0M1409 1092l5-6-7 0-4 7M1274 1041l4-3-5-3-4 2M1222 1022l4-2-5-2-4 1M1047 957l4 0-4-2-4 1M1278 1038l4-3-5 2-4-2M1136 987l4-2-5 0-4 3M1047 955l5-2-4 0-4 1M994 934l5-3-4-2-4 7M991 936l4-7-4-1-4 6M1402 1075l4 0-6 0-4 2M968 917l4-9-4 0-3 7M965 915l3-7-3 2-4 8M1041 939l4-1-4-2-4 2M989 921l4-7-3 3-4 5M1272 1019l4-5-6 4-4 0M1266 1018l4 0-5-2-4 6M1183 990l4-2-4-5-5 10M980 909l4-1-4 0-3 2M1322 1034l4-5-5-6-5 12M1142 968l4 1-5-6-4 6M1068 945l4-12-4 8-4 3M1026 925l4-2-3 1-4 0M1394 1058l4-9-5-6-5 9M1479 1081l4-3-7-1-5 11M1204 983l3 0-4-1-4 1M1199 983l4-1-5-2-4 2M1150 967l4-8-5 2-4 5M1145 966l4-5-4-2-4 7M1092 946l4-2-4-4-4 6M1483 1078l3-5-7 4-3 0M1431 1066l5-15-6 1-5 12M1425 1064l5-12-7 2-4 9M1207 983l4-4-5 4-3-1M1024 917l4-4-4-1-4 4M989 905l4-2-4 1-3 2M1120 948l3 2-4-3-4 1M1482 1077l5-9-7 2-4 4M1374 1033l4-7-5 0-5 12M1253 994l4-3-5-3-4 6M1174 965l4-7-4 1-4 6M1170 965l4-6-5 4-3 3M1123 950l4-5-4-1-4 3M1174 959l4 1-5-1-4 4M1127 945l4-3-4-5-4 7M1123 944l4-7-4-1-4 11M1119 947l4-11-4 1-4 10M1295 1003l4-6-5 3-4 1M1290 1001l4-1-5-5-4 9M1506 1071l4-6-6-4-4 8M1500 1069l4-8-8 7-3 2M1419 1043l4-7-6-1-4 7M1043 912l4-5-4 0-4 4M1423 1036l4 0-6-2-4 1M1194 957l4 0-5-1-4 10M1421 1034l3-1-6-1-3 1M1047 910l4-5-4 1-4 4M1016 897l3 1-3-2-4 1M1418 1032l5-8-7 3-3 3M1290 986l4-3-5 1-4 6M1044 907l3-5-3 2-4-1M1520 1060l2 3-5-7-4 6M1171 945l3 1-4-2-4-1M1047 902l4-5-4 1-3 6M1026 895l4 0-3-2-4 4M1023 897l4-4-4-2-3 6M1231 964l4-5-5-3-4 9M1191 946l4 1-4-3-4 4M1174 946l4-3-4-3-4 4M1357 1000l4-3-5-2-4 2M1306 984l3-2-4-2-4 3M1301 983l4-3-6 3-3 5M1191 944l3 2-4-4-4 3M1149 936l4-6-4-1-4 6M1350 999l4-13-5 3-4 7M1299 983l4-6-5-5-4 12M1294 984l4-12-5 1-3 7M1177 939l4-3-4-1-4 5M1145 930l3-6-4 5-3 2M1095 911l3-3-4-4-3 7M1532 1058l4-10-7 1-4 13M1303 977l4-1-5-5-4 1M1523 1049l4-7-7 0-4 8M1373 995l3-1-5-2-3 4M1352 988l3 1-5-2-4 5M1197 940l4-4-4-1-4 4M1189 937l3 2-4-4-3-1M1144 921l4 2-4-5-4 6M1136 923l4-6-4-3-4 5M1091 910l3-12-3 5-4 7M1533 1047l3-2-6-4-3 1M1520 1042l3 0-6-2-3-2M1305 971l4-3-5 2-4 11M1277 963l3-1-5 1-3 1M1192 939l4-2-4-2-4 0M1128 920l4-7-4 0-4 2M1536 1045l3-5-6-2-3 3M1523 1042l4-5-7 1-3 2M1128 913l3-2-3-1-4 5M1520 1038l4-5-7-2-3 2M1372 992l4-7-6 3-3 2M1288 961l4 2-5-3-3 1M1128 910l3 1-4-3-3 1M1316 967l3-2-5 1-4 5M1112 905l4-9-4 2-3 9M1390 991l3-7-5 3-4 3M1353 980l4-6-5-2-4 6M1348 978l4-6-5 3-4 8M1185 923l4-2-4-1-4-1M1311 962l4-7-5 2-4 6M1302 959l3-5-4-2-4 7M1256 942l4-3-5 0-3 0M1234 937l4-3-4-1-4 2M1226 937l3-6-4-1-3 5M1070 882l3-3-3 1-4 2M1225 930l4-8-5 3-3 12M1576 1036l3-1-7 1-3 6"/>
<path color="#f62" d="M717 1173l7-8-4-2-7 5M724 1165l6-8-3 3-7 3M793 1195l8 0-5-2-7 6M834 1197l7-5-4-2-7 10M825 1194l7-6-6-7-6 10M820 1191l6-10-4 5-6 10M644 1075l5-9-3 1-6 5M1036 1321l7-9-7 2-7 6M843 1173l6-9-4 0-6 16M848 1165l6-8-5 1-6 4M854 1157l6-7-4 4-7 4M849 1158l7-4-5-4-6 9M679 1054l5-12-3 3-5 8M1052 1275l7-13-7 2-6 10M856 1154l6-5-5-6-6 7M851 1150l6-7-4-1-6 10M810 1126l7-4-5-5-6 8M678 1047l6-7-3 2-6 2M1052 1264l7-12-6 4-7 8M1046 1260l7-10-6-2-7 5M952 1199l5-24-4 18-6 11M1041 1224l7-8-6-1-7 6M1048 1216l6-3-6-1-6 3M1042 1215l6-3-6-3-6 6M1073 1210l6-6-6-2-6 4M802 1062l5-12-3 8-6 0M778 1046l7 3-4-5-5 9M695 1003l6-4-4-4-5 7M692 1002l5-7-3 2-5 5M1073 1202l6-2-6 1-6 10M1037 1186l6-10-5 4-6 2M1032 1182l6-2-6-2-6 6M1044 1172l6-10-6 6-5 7M1122 1203l6-2-7-4-5 8M904 1071l6-10-4 3-6 4M762 996l5-4-3 2-5 1M974 1097l6-7-5 4-6 1M906 1064l5-10-4 7-6 4M814 1018l4-12-3 6-4 14M907 1061l5-8-4-1-5 10M903 1062l5-10-4 1-6 5M1221 1216l6-18-7 3-6 17M904 1053l4-15-3 11-5 7M1196 1174l5-15-6 1-6 14M1164 1148l5-6-6 1-5 8M1163 1143l6 0-6-1-6-3M990 1065l5-9-4 3-5 7M991 1059l5-9-4 1-5 8M1252 1136l5-3-7 1-5 6M1315 1165l5-16-7 2-6 17M1163 1096l5-9-6 3-5 4M1001 1023l5-4-4 1-5 0M1006 1019l5-2-4-2-5 5M1171 1083l5-10-6 3-5 9M898 964l4-2-3 1-5 5M1170 1076l5 0-5-7-5 11M995 1005l5-6-4 3-5-2M1164 1073l5-7-5 2-5 5M1000 999l4-4-4 3-4 4M1122 1049l5-10-5 0-4 8M1057 1018l4-4-4 0-5 3M885 948l4-3-3-3-5 3M896 944l5 3-4-3-4 0M1031 998l4-5-4 3-4 8M959 969l4-4-4 3-4 0M901 947l4-5-3 0-5 2M982 974l5-1-4-2-4 9M987 973l4-4-3 2-5 0M968 964l5-4-4 2-4 5M942 951l4-8-3 5-4 7M961 956l5-4-4 3-4 1M889 925l4-3-3 1-4 5M1152 1009l4-4-5 2-4 5M977 943l4-4-4 1-4 3M973 943l4-3-3 2-4 4M1101 982l4 1-4-6-4 7M1097 984l4-7-4 5-5 1M1380 1086l5-9-7 4-5 7M1105 983l4-4-4-1-4-1M1043 960l4-3-4-1-4 3M937 918l4-7-3 3-4 6M1378 1081l5-12-7 5-5 10M1269 1037l4-2-6 0-4 4M1217 1019l4-1-5-2-4 3M994 936l4-5-4 3-3 7M987 934l4-6-3-4-4 9M1063 955l4-6-3 5-5-1M1319 1053l5-15-7 8-4 7M1064 954l4-5-4 4-4 4M1317 1046l5-12-6 8-4 4M1264 1022l4-5-6 2-4 4M1175 993l4-7-5 3-4 6M1044 940l4-5-3 3-4 1M962 908l4-4-4 3-3 10M1015 927l4-3-4 2-4 5M990 917l4-6-4 5-4 1M1270 1018l4-6-5-2-4 6M1265 1016l4-6-5 3-4 7M1316 1035l5-12-6 3-5 11M1269 1010l4-6-5 6-4 3M1155 975l4-13-4 3-5 10M1443 1076l4-9-7 2-3 4M1388 1052l5-9-7 8-4 4M1268 1010l4-5-6 3-3 1M1369 1045l4-10-6-2-4 9M1363 1042l4-9-6 8-4 3M1194 982l4-2-4-4-4 5M1120 959l4-10-4 1-4 8M988 908l4-2-3-1-4 6M1270 1006l4-7-5 2-4 8M1212 984l4-10-5 5-4 4M1120 950l4-2-4 0-4 2M1116 950l4-2-5 0-3 1M1112 949l3-1-4 0-3 0M1274 999l4-1-5 1-4 2M1211 979l4-5-5 2-4 7M1341 1024l4-7-6 6-4 2M1210 976l4-3-4 1-4 7M1345 1017l3-1-5 2-4 5M1301 1001l4-8-6 4-4 6M1169 955l4-2-5 1-3 4M1299 997l4 0-5-5-4 8M1294 1000l4-8-5 3-4 0M1168 954l4-8-4 4-4 6M1164 956l4-6-4 1-4 2M1417 1035l4-1-6-1-4 5M1163 947l4-2-4-1-4 6M1050 908l4-3-3 0-4 5M1167 945l4 0-5-2-3 1M1274 978l4-2-5 2-4 1M1249 967l4-1-5-2-3 2M1187 948l4-4-5 1-3 5M1345 996l4-7-6 4-3 0M1305 980l3-8-5 5-4 6M1173 940l4-5-4 1-4 5M1149 929l3-4-4-1-3 6M1402 1005l4-2-6 2-4 6M1270 965l3-6-5 5-3 6M1529 1049l4-2-6-5-4 7M1527 1042l3-1-7 1-3 0M1530 1041l3-3-6-1-4 5M1285 961l3 0-4 0-4 1M1239 950l4-7-5 1-3 5M1235 949l3-5-4 3-4 2M1196 937l3-4-4 4-3-2M1124 915l4-5-4-1-4 4M1062 892l4-3-4 0-3 1M1292 963l3-7-5 3-3 1M1242 944l3-4-4 1-4 6M1146 908l3-4-4 4-3 4M1315 955l3 0-5-1-3 3M1255 939l4-7-5 4-3 7M1145 906l4-6-4-1-4 5M1138 902l3-5-4 2-3 4"/>
<path color="#b41" d="M691 1144l7-5-5-6-7 2M652 1116l6-8-5-10-4 22M769 1156l7-3-5-5-7 2M653 1071l8 3-4-5-8-3M665 1080l4-16-3-1-5 11M871 1200l8-1-6-5-7-2M660 1068l6-7-4-6-6 6M965 1224l7 2-6-3-7-5M926 1202l7 2-6-9-7 5M644 1002l6-2-3 0-6-1M808 1078l6 1-4-2-6 0M706 1018l7 0-4-3-6-1M727 1016l6-3-4-4-6 0M701 998l5-6-4-4-5 3M712 995l5-7-3 3-6-5M1248 1232l6-13-6-10-6 15M923 1049l6 8-4-6-6-5M1095 1112l5-7-5-7-5 1M1089 1061l5-2-5-7-5-8M1147 1046l4-1-5-3-4 3M912 953l4-9-3-5-4 6M1012 975l5 0-5-11-4 4M924 927l4-2-3-4-5-2M1071 963l5-3-5-6-4 4M953 918l4-3-3-2-5-3M1164 981l4-6-4-16-5 20M1046 927l3-5-3-3-4 7M1440 1050l3-1-6-1-3-1M1091 925l4-8-4 5-4-2M1413 1030l3-3-6-1-3-2M1163 930l4-7-4-8-4 14M1320 971l3 1-4-7-3 2M1328 974l4-5-4-10-5 13M1262 947l3 0-4-2-3-3M1258 942l3 3-5-3-3 4M1108 898l4 1-4-7-3 2M1291 955l4-10-5 1-3 1"/>
<path color="#d62" d="M810 1213l8 4-6-12-7 6M894 1253l8-6-6 0-7 8M637 1082l5-10-2 6-7 1M851 1187l7-7-5 1-7 2M853 1181l7-8-6-4-6 11M1093 1319l7-3-7-6-7 13M1086 1323l7-13-7-8-7 16M1093 1310l7 4-7-5-7-7M1045 1288l7-10-7-4-7 9M715 1081l7-6-4-1-6 4M712 1078l6-4-4-3-6 5M1059 1278l6-8-6-8-7 13M626 1009l6-4-3-4-5 11M659 1004l6 0-3-4-5 10M778 1069l6-2-4-3-6 9M771 1071l4-12-4-5-5 11M671 1007l6-1-3-2-6 1M736 995l5-3-3 1-6 0M1068 1154l5-4-5-9-6 5M1202 1173l5-6-6-8-5 15M765 965l5-5-4-6-5 6M1123 1128l5-3-5-11-6 12M1050 1067l5-2-5-10-5 11M1074 1077l5-10-5 4-5-6M971 1010l5-3-5-6-4 14M831 955l4-11-3-2-5 5M897 951l5 4-4-4-4-1M986 979l5-5-4-1-5 1M995 974l5-3-4 0-5-2M1027 964l4-10-4 5-4 4M941 923l4-8-4-4-4 7M1226 1020l4 0-5-1-4-1M1045 938l4-2-4-5-4 5M1041 936l4-5-4 1-4 5M1072 943l4-5-4-5-4 12M1124 959l4-7-4-3-4 10M1076 936l4-1-4-1-4 9M1346 1031l5-15-6 1-4 7M1084 930l3-1-3 0-4 3M1173 959l4-1-4-5-4 2M1402 1036l4-3-6-3-4 5M1276 988l4-4-4-9-4 9M1167 951l4-4-4-2-4 2M1019 899l4-2-4 1-3-1M1315 1000l4-8-5 1-4 0M1171 947l4-4-4 2-4 0M1047 906l4-3-4-1-3 5M1388 1018l4-10-6 8-3-1M1246 970l3-3-4-1-4 2M1062 910l3-7-3 1-4 3M1419 1027l5-11-6 0-5 12M1302 984l4 0-5-1-3-3M1253 966l3 3-4-9-4 4M1148 924l4 3-4-4-4 6M1307 976l3 0-5-5-3 0M1193 939l4-4-5 4-3-2M1310 976l4-3-5-5-4 3M1218 948l4-7-5-3-3 6M1132 913l3 2-4-4-3 2M1377 994l4-6-5-3-4 7M1517 1031l4-4-7 3-3 3M1317 966l4-8-5-1-4 10M1370 979l4-8-5 1-4 9M1279 952l4-10-5 6-4 5M1066 882l4-2-4-4-3 6M1296 954l4-10-5 1-4 10"/>
<path color="#a41" d="M1018 1388l7-20-7-9-7 32M924 1317l7-16-6-3-7 18M912 1312l7-17-6-2-7 14M906 1307l7-14-6-3-7 16M796 1227l6-10-4 0-9-4M789 1213l9 4-6-11-8 0M743 1189l7-6-6-14-6 10M734 1182l6-11-3 2-7 8M683 1146l8-2-5-9-8 2M616 1100l7-5-5-9-6 5M605 1085l7 2-3-3-9-8M600 1076l9 8-4-5-8-5M792 1206l9 7-6-7-8-4M713 1166l5-14-5-9-6 12M612 1087l7-3-3 1-7-1M795 1206l9 4-6-11-8 1M698 1139l7-1-5-7-7 2M904 1269l8-3-6-4-8 2M742 1160l8 1-5-11-8 2M633 1086l7 0-3-4-8 0M629 1082l8 0-4-3-8-3M612 1069l7 1-5-13-6 6M574 1045l6-6-4-6-6 6M906 1262l7-4-5-3-8-1M889 1255l7-8-6-7-7 6M745 1150l7 1-5-14-8 3M994 1314l7-11-7-11-7 15M789 1181l7-8-6-9-6 7M757 1156l7-6-5-6-7 7M587 1039l7 2-5-11-6 1M898 1240l7-4-5-1-8-6M801 1181l7-9-5-2-7 3M786 1163l8 0-5-3-9-8M764 1150l7-2-6-12-6 8M661 1084l7 3-4-7-7 1M637 1073l7-4-5-8-7 2M632 1063l7-2-3 0-8-3M894 1229l7-4-5-6-8 0M803 1170l8 7-6-13-7 1M794 1163l7-1-4 1-8-3M761 1136l8 1-5-10-8 2M644 1069l6-4-4-6-7 2M636 1061l6-6-4-5-6 6M571 1022l6-6-4-5-5 8M779 1155l6-13-5-3-6 9M650 1065l6-4-5-10-5 8M1023 1296l7-10-6-1-8-3M926 1237l7-2-6-10-7 7M920 1232l7-7-6-12-7 10M856 1188l8 6-6-14-7 7M1100 1335l7 1-7-16-7 3M1037 1300l7-4-6-7-8-3M962 1250l6-10-5 9-7-2M1107 1336l7-1-7-14-7-1M886 1197l6-4-5-8-7 4M630 1033l5-6-2 2-6 6M619 1023l6-3-3-1-6 1M595 1007l6-1-4-6-5 8M592 1008l5-8-3-3-6 0M1012 1254l7 6-6-7-7-1M1006 1252l7 1-6-4-8-4M887 1185l7-3-6-14-7 2M824 1146l7 7-5-8-7-5M652 1039l5-6-4-7-5 9M905 1194l6-10-6-7-6 12M899 1189l6-12-5-3-6 8M710 1066l7 5-4-9-7-2M662 1042l6-4-5-9-6 4M608 1006l6 1-2 1-8-8M1065 1284l7-5-7-9-6 8M966 1223l7 0-6-11-7 5M1086 1289l6-2-7-20-6 18M918 1182l7 3-6-14-7 4M742 1074l7 6-4-5-7-7M635 1012l7 5-3-3-7-3M1092 1287l7-8-7-15-7 3M823 1117l6-1-4 1-7-2M805 1106l7 3-5-9-5 9M802 1109l5-9-5-7-6 4M636 1010l6-1-4-3-6-1M624 1005l5-8-4-8-5 11M1099 1279l7-4-7-12-7 1M926 1176l6-5-5 1-7-8M698 1047l4-12-5-12-4 11M638 1006l6-4-3-3-7-1M1106 1275l6 4-7-14-6-2M814 1102l6-4-5-13-6 4M710 1044l7 0-6-13-5 5M641 999l6 1-4-6-5 3M1105 1265l7-8-7-9-6 4M820 1098l7 0-5-9-7-4M717 1044l5-5-4-10-7 2M701 1025l7 3-3 1-9-15M930 1166l6-10-5-8-6 5M827 1098l6-6-4-1-7-2M722 1039l7 3-4-6-7-7M649 992l6-1-2 1-7-4M1118 1259l7 1-7-7-6-6M877 1116l7 8-4-6-7-2M704 1020l6 4-4-6-6 0M697 1018l6-4-4-2-6-1M693 1011l6 1-4-6-5 4M822 1081l7 8-5-11-6-2M814 1079l6-4-4-5-6 7M710 1024l6-5-3-1-7 0M703 1014l6 1-4-6-6 3M699 1012l6-3-4-4-6 1M820 1075l7 4-6-13-5 4M713 1018l5-2-4-10-5 9M698 1003l7 3-4-2-6-5M821 1066l7 4-4-5-7-8M722 1021l5-5-4-7-5 7M708 1008l6 2-4-9-5 5M673 990l6-1-4-6-6-4M714 1010l6-4-4-2-6-3M881 1094l6 3-4-1-7-14M706 992l6 3-4-9-6 2M1017 1149l6 3-6-8-6-8M729 992l6 2-4-6-6-3M957 1114l6-12-6-14-5 12M963 1102l6 0-5-5-7-9M979 1101l6 8-5-19-6 7M758 991l5-2-4-10-7-6M830 1023l6 0-4-7-6 0M763 989l5-2-3-3-6-5M1261 1236l6-14-7-13-6 10M936 1067l5 0-5-8-6-4M841 1021l5-6-5-17-4 11M936 1059l6 8-5-12-5-4M1277 1221l5-1-6-16-5-1M1074 1120l5-7-5-7-5 0M1182 1166l6-9-6-8-6 2M1079 1113l6-9-6-8-5 10M1188 1157l5 1-6-14-5 5M1193 1158l5-4-6-13-5 3M1310 1209l5-3-6-19-5-3M1095 1095l5 3-5-5-5-4M1025 1064l5-1-5-12-5 2M834 984l5-9-5-8-4 5M1030 1063l5 0-5-8-5-4M842 981l5-5-4-6-4 5M1030 1055l6 8-5-10-6-6M847 976l5 0-4-7-5 1M1269 1151l5-8-6-13-5 11M1332 1173l7-18-7-10-6 17M1274 1143l4 0-6-9-4-4M1355 1173l5-6-6-11-4 4M1354 1156l4 4-5-21-4 1M1187 1084l4 5-5-13-5-6M1142 1051l5-5-5-1-5 2M907 952l4 2-3-2-5-4M1132 1040l4-1-5-8-4 2M1236 1086l5-13-5-7-5 12M1049 1005l4-3-4-5-5 1M975 975l4-2-4-2-5-8M1246 1082l5-6-5-11-5 8M1366 1128l4-1-5-10-4-2M1256 1083l5-4-5-12-5 9M976 974l4-12-4-3-4 8M1008 981l4-6-4-7-4 4M954 954l5 0-4-5-5-1M1260 1071l4 1-5-6-4-7M1071 997l4 0-4-11-5 2M1391 1132l5-11-6-6-4 2M1075 997l5 1-5-10-4-2M923 932l6 10-4-8-5-3M1267 1064l4-2-5-4-4-1M987 957l4-3-4-7-4 5M999 957l4-1-4-12-4 5M1071 982l4-4-4-1-4-3M1067 974l4 3-4-13-4 2M1003 956l5-4-4-8-5 0M988 949l4-6-3-2-5 2M1071 977l4 0-4-3-4-10M1008 952l4 2-4-7-4-3M932 921l5 1-4-7-5-2M1110 990l4 1-4-10-5-2M1008 947l4 0-4-10-4 5M937 922l4 1-4-5-4-3M1012 947l4-4-4-8-4 2M961 924l4 1-3-4-4 3M1433 1097l3 1-5-16-4 7M966 926l4-7-3-1-5 1M962 919l5-1-4-9-4 0M1436 1098l4-5-6-3-3-8M1080 965l4 0-4-8-4 3M1028 943l4 0-3-6-5 2M1029 937l4 3-4-5-4-1M999 932l4-2-4-4-4-1M988 930l5 0-5-15-3 10M1334 1058l5-12-6-3-4 5M1033 940l4-2-4-4-4 1M978 921l4 0-3-7-4 4M1052 948l4-2-4-8-4 3M1018 928l4 7-4-9-4 1M982 921l4-4-3-1-4-2M1342 1047l3 4-5-11-3-4M983 916l4-1-4-3-4 1M1012 925l3-5-3-8-4 3M966 903l4 2-3-2-4-4M1290 1022l4-6-5-6-4 7M1019 924l4-1-4-3-4 0M1015 920l4 0-3-4-4-4M1331 1037l4-3-6-5-3 0M1459 1080l4-10-5-9-5 9M1064 936l4-5-4-7-4 8M1038 924l4 2-4-5-4 4M1034 925l4-4-4-6-3 5M1020 920l4-3-4-1-4 5M999 914l4-2-4-6-4 4M1488 1087l4-3-6-11-3 5M1469 1078l3 1-5-13-4 4M1311 1023l4-4-5-4-3 1M1307 1016l3-1-5-7-3-3M1216 993l5-9-5-10-4 10M1072 938l4-3-4-9-4 5M1042 926l4-7-4-5-4 7M1310 1015l4-2-5-4-4-1M1230 994l4-9-5-7-4 11M1076 935l4-3-4-4-4-2M989 904l4-5-3-2-4 6M1450 1068l6-16-7 4-5 10M1444 1066l5-10-6-6-3-3M1426 1055l4-3-4-15-5 13M1386 1039l3-2-5-4-4 0M1179 973l4-8-5-7-4 7M1095 940l4-2-4-12-4 0M1080 932l4-3-4-3-4 2M1076 928l4-2-4-5-4 2M1061 924l4-1-4-5-4-1M993 899l4 1-4-8-3 5M1467 1067l4-7-5-11-5 9M1436 1053l4-3-6-3-4 5M1389 1037l3 1-5-7-3 2M1384 1033l3-2-5-3-4-2M1099 938l4-2-4-9-4-1M1483 1072l3-4-4-16-5 11M1392 1038l4-3-6-1-3-3M1261 989l3-1-4-2-4 1M1256 987l4-1-5-8-4 3M1191 972l4-8-5-6-4 6M1103 936l4-2-4-3-4-4M1330 1014l4-3-5-10-4 4M1260 986l3-1-4-9-4 2M1069 924l3-5-3-3-4 1M1065 917l4-1-4 0-4 4M1465 1057l4-11-6 1-4 4M1429 1041l3 2-5-7-4 0M1338 1020l5-15-5-9-4 15M1268 989l4-5-5 0-4 1M1203 970l4-9-5-2-4 1M1181 956l4-3-5-6-3 3M1025 899l4 4-3-9-4 1M1519 1072l3-3-6-5-3 0M1432 1043l4-4-6-5-3 2M1409 1032l4-2-6-6-3 2M1267 984l3 1-4-3-4-6M1122 936l4-2-4-4-4 2M1087 920l4 2-4-7-3 1M1061 916l4-4-4-9-3 4M1407 1024l3 2-5-7-3 0M1379 1012l4 3-6-6-3-2M1175 951l4 0-4-8-4 4M1122 930l4-3-4-8-4 3M1091 922l4-5-4 0-4-2M1069 915l3-4-3-3-4 4M1009 888l4 5-4-9-4-3M1366 1008l4-2-5-3-4 0M1350 1002l4 0-5-6-4 0M1255 975l4-1-5-11-3 4M1196 960l4-9-4-6-4 4M1130 933l3-2-4-9-3 5M1479 1046l3-2-5-8-4 6M1408 1020l4 0-6-1-3 1M1307 992l3-2-4-6-4 0M1133 931l4 1-4-8-4-2M1098 920l4-4-4-2-3 4M1095 918l3-4-3-4-4-3M1412 1020l3 0-5-11-4 10M1272 977l3-2-4-10-4 3M1239 967l4-3-5-8-3 3M1133 924l4 3-4-6-4-2M1076 909l4-1-4-6-4-2M1030 896l4-4-3-2-4-1M1024 890l3-2-3-3-4 5M1510 1054l3-5-6-4-2-5M1480 1038l3-2-5-9-4 6M1450 1029l4-6-6-6-3 3M1324 994l4-7-4-11-5 14M1275 975l4-3-5-4-3-3M1507 1045l3 1-5-12-3 4M1471 1030l3 4-6-7-3 3M1328 987l3 0-4-9-3-2M1164 936l4 1-4-7-4-4M1117 921l4-3-4-5-4-2M1076 903l4-3-4-2-3 0M1548 1061l4-9-6-5-4 7M1474 1034l4-6-6-6-4 5M1422 1012l3-1-5-4-3 0M1278 969l3 0-4-6-4-4M1152 927l3 0-3-9-4 5M1038 891l4-5-4-3-3 5M1148 923l3 3-4-9-3 1M1098 908l4 0-4-5-4-5M1083 905l4-7-4-3-3 6M1076 896l4 0-4-1-3-5M1048 886l4 9-4-10-3 5M1171 930l4-4-4-2-4-1M1048 885l4 4-3-8-4-4M1357 984l3 3-5-8-3 4M1352 983l3-4-5-3-3 1M1511 1033l3-3-5-7-4 4M1166 922l4-5-4-4-4 7M1162 920l4-7-4-9-4 12M1127 908l4 7-4-9-3-4M1087 897l3-5-3 1-4-2M1052 884l4-6-4-2-3-1M1249 946l4 0-4-7-4 1M1105 899l3-1-3-4-4-1M1087 893l3-2-3-3-4-2M1059 885l4 0-4-4-3-3M1555 1037l2 1-5-7-3 0M1557 1038l3-1-5-8-3 2M1526 1029l3-3-5-4-3 2M1288 958l3-3-4-8-4 2M1180 924l4-14-4 2-4 12M1112 899l3-3-3-7-4 3M1105 893l3-3-3-8-4 8M1560 1037l3-2-4-13-4 7M1529 1026l4-4-5-9-4 9M1087 889l3-14-3 5-4 9M1563 1035l4-6-6-6-2-1M1313 954l4-1-5-6-3 6"/>
<path color="#d51" d="M626 1087l7-1-4-4-6 4M1035 1328l8-1-7-6-7 7M1284 1040l4-3-6-2-4 3M1326 1029l3 0-5-6-3 0M1006 909l4-5-3 3-4-3M1369 1000l4-5-5 1-4-3M1120 912l4-10-4 1-4 3M1189 921l3-4-4-1-3 4M1536 1026l3-4-6 0-4 4"/>
<path color="#941" d="M1011 1391l7-32-7-6-7 26M1004 1379l7-26-7-6-7 33M997 1380l7-33-8-10-7 24M918 1316l7-18-6-3-7 17M870 1279l8-4-7-14-8 2M638 1117l6-8-5-11-5 12M548 1047l7-1-4-7-7 1M808 1227l8 2-6-16-8 4M595 1073l7-4-4-4-8-4M951 1303l8-2-7-8-7 8M873 1247l8 9-6-11-8-5M602 1069l6-6-4-6-6 8M875 1245l8 1-6-10-8-5M1056 1364l8 3-8-19-7 1M986 1314l8 0-7-7-8-3M777 1180l7-9-6-11-6 13M750 1161l7-5-5-5-7-1M1064 1367l7-14-7-7-8 2M1021 1325l8 3-7-3-8 2M890 1240l8 0-6-11-7 6M842 1212l8 1-6-17-8 2M752 1151l7-7-5-8-7 1M580 1033l7 1-3-3-6 2M578 1033l6-2-4-8-6 4M1022 1325l7-5-6 4-8-10M1015 1314l8 10-8-22-7 0M892 1229l8 6-6-6-8-10M886 1219l8 10-6-10-8-7M850 1213l7-9-6-12-7 4M628 1058l8 3-4-5-7-3M594 1041l7-3-4-4-8-4M1086 1356l7-3-7-15-8 5M1009 1300l7 2-7-16-7 7M911 1242l8 2-6-2-8-6M765 1136l9 12-5-11-8-1M626 1054l6-8-5-6-7-3M1016 1302l7-6-7-14-7 4M907 1233l7-10-6-13-7 15M774 1148l6-9-4-6-7 4M675 1085l7-3-5-10-7 4M654 1069l6-1-4-7-6 4M1071 1318l8 12-7-13-8-17M954 1248l8 2-6-3-8-11M813 1166l8 5-7-25-7 6M776 1133l7 5-5-10-8-5M685 1081l7 0-4-3-6 4M1024 1285l7 2-6-5-8-10M1017 1272l8 10-7-12-8-6M869 1194l6-10-5-4-6 14M800 1141l8 8-4-5-8-5M756 1112l8 5-5-11-7 2M688 1078l5-9-4-9-6 7M618 1025l9 10-5-10-7-6M1018 1270l7 8-7-20-7-3M790 1138l7-8-6-10-6 3M764 1117l6-6-4-8-7 3M698 1079l6-8-5-7-6 5M648 1039l8 7-4-7-8-4M1025 1278l7-6-6-10-8-4M892 1193l7-4-5-7-7 3M679 1056l7 4-3-1-8-9M604 1007l8 8-4-9-7 0M1007 1249l7 8-6-7-8-8M988 1237l8 10-7-13-7-4M783 1121l5-13-5-5-6 6M686 1060l7-2-6-14-4 15M636 1027l6-5-5-9-6 1M823 1134l8 7-6-18-6 5M693 1058l6 1-4-8-8-7M831 1141l6-9-5-4-7-5M795 1110l7-1-6-12-6 1M678 1042l6-4-4-7-7-2M664 1028l6 0-4-7-7-1M828 1128l6-3-5-9-6 1M920 1164l7 8-5-8-7-7M922 1164l7-1-6-6-7-5M675 1019l7-1-5-13-7 0M647 1000l7 3-5-11-6 2M832 1109l6-10-5-7-6 6M654 1003l5-4-4-8-6 1M829 1091l6 3-4-7-7-4M653 992l6 2-3-5-8-6M671 995l6-1-4-4-6 0M827 1079l5-4-4-5-7-4M828 1070l6 1-4-2-6-4M824 1065l6 4-4-5-7-9M822 1062l6 3-4-9-7-4M704 998l6 3-4-9-5 6M753 997l5-6-6-18-4 7M1267 1222l4 4-6-16-5-1M1271 1226l6-5-6-18-6 7M1090 1116l5-4-5-13-5 5M1024 1071l6 2-5-9-6-1M1315 1206l4 1-6-16-4-4M1027 1045l5-1-5-13-4 6M1084 1073l5-12-5-17-5 7M1178 1093l4 5-5-20-4 2M1182 1098l5-3-5-11-5-6M1360 1167l5-7-7 0-4-4M1358 1160l4 2-5-19-4-4M1360 1152l4 3-6-10-4-4M1013 999l5 8-4-9-5-8M1053 1002l4-4-4-6-4 5M1261 1079l4 7-5-15-4-4M1066 1005l5-8-5-9-4 0M1075 1001l5 4-5-8-4 0M1262 1070l5-6-5-7-5 3M1075 988l5 9-5-14-4-3M1114 991l4-3-4-9-4 2M1145 1001l4-4-4-10-5 3M1067 964l4-1-4-5-4-5M1016 943l4 1-4-10-4 1M1024 948l4-5-4-4-4 5M1020 944l4-5-3-6-5 1M1411 1084l3 6-5-13-4 1M1414 1090l4-6-6-4-3-3M1272 1030l4-2-4-9-4-2M1092 960l4-4-4-8-4 5M997 928l3-6-3-4-4 3M1056 946l4-1-4-2-4-5M1008 929l4-4-4-10-4 10M1286 1027l4-5-5-5-4 3M1056 939l4-3-4-7-4-4M967 903l4 0-4-8-4 1M971 903l4 1-4-12-4 3M1302 1025l5-9-5-11-4 5M975 904l4-9-4-1-4-2M982 904l4-1-4-10-3 2M979 895l3-2-3-3-4 4M1441 1062l3 4-4-19-4 4M1387 1050l4-9-5-2-4 0M1091 942l4-2-4-14-3 7M986 903l4-6-4-12-4 8M1314 1013l3 3-5-5-3-2M1238 992l4-6-4-10-4 9M1430 1052l4-5-5-11-3 1M1065 923l4 3-4-5-4-3M1018 903l4 7-4-9-4-3M1434 1047l3 1-5-9-3-3M1065 921l4 3-4-7-4-1M1057 914l4 6-4-9-4-3M1091 928l4-3-4-4-4-5M1025 904l4 5-4-10-3-1M998 888l4 9-4-12-4-2M1515 1079l4-7-6-8-3 1M1263 985l4-1-5-8-3 0M1135 943l3 5-4-9-3-7M1002 897l3-6-3-9-4 3M1385 1018l3 0-5-3-4-3M1252 971l3 4-4-8-4 0M1126 934l4-1-4-6-4 3M1030 900l3 1-3-6-4-3M1475 1047l4-1-6-4-4 4M1469 1046l4-4-5-12-5 13M1091 917l4 1-4-11-4-2M1403 1020l3-1-5-6-3 0M1380 1018l4-8-5-2-4 1M1506 1058l4-4-5-14-4 7M1447 1026l3 3-5-9-4 6M1137 932l4-1-4-4-4-3M1020 890l4-5-4-12-3 6M1137 927l3 1-4-5-3-2M1073 905l3-2-3-5-4 3M1069 901l4-3-4-7-4-1M1513 1049l3 1-6-4-3-1M1279 972l3 2-4-5-4-1M1076 898l4 3-4-5-3-10M1035 888l3-5-3-3-4 0M1495 1037l3 0-5-6-3-1M1360 997l4-4-5-5-4 1M1469 1024l3-5-5-8-4 10M1318 979l3 2-4-11-3 3M1252 959l4-3-4-7-4 5M1208 941l4 5-4-14-3-1M1091 907l3-5-3-9-4 5M1098 908l3-8-3-4-4 6M1083 893l4 4-4-6-3-2M1083 891l4 2-4-7-3-4M1056 887l3-2-3-7-4 6M1558 1042l2 4-5-9-3-1M1514 1030l3 0-4-15-4 8M1170 917l3 9-4-14-3 1M1123 905l4 3-4-4-3-1M1052 876l4 5-4-7-3-2M1524 1025l2 4-5-5-4 6M1517 1030l4-6-6-5-2-4M1337 973l3-2-4-7-4 5M1169 912l4 1-4-4-4 0M1521 1024l3-2-6-4-3 1M1340 971l4-9-4-6-4 8M1176 924l4-12-4-4-3 5M1123 901l3-2-3-7-4-1M1059 878l4 0-4-2-3-4M1130 905l4-7-4-6-4 7M1083 889l4-9-4-8-3 11M1160 908l3-4-3-6-4 0"/>
<path color="#c51" d="M1032 1390l8-5-7-8-8 7M1025 1384l8-7-8-9-7 20M816 1239l7-7-5-3-8 2M738 1179l6-10-4 2-6 11M612 1091l6-5-2 4-8-4M591 1076l7-2-3-1-8-2M686 1135l7-2-3 0-8-2M682 1131l8 2-5-7-7 4M727 1160l7-6-6-11-5 17M693 1133l7-2-4-7-6 9M690 1133l6-9-3 4-8-2M616 1085l5-13-2 1-7 4M609 1075l6-5-3-1-7 3M693 1128l5-14-3 3-7 6M754 1160l7-8-4 4-7 5M640 1086l6-6-4-8-5 10M908 1255l7-5-6-8-7 5M896 1247l7-7-5 0-8 0M661 1090l7-1-4-2-7-3M1042 1337l8-13-7 3-8 1M903 1240l8 2-6-6-7 4M568 1019l5-8-3-2-6 4M805 1164l8 2-6-14-6 10M780 1139l7-4-4 3-7-5M938 1234l7-7-6-4-6 12M796 1139l8 5-6-13-7 2M957 1240l7-5-6-8-7 5M804 1144l6-9-5-6-7 2M1107 1321l7 0-7-7-7 2M1100 1316l7-2-7 0-7-4M952 1229l7-11-6-3-6 7M819 1140l7 5-5-13-7 5M797 1130l7 1-5-6-8-5M662 1045l6 1-3-5-7 3M953 1215l7 2-5-5-8-1M816 1132l7 2-4-6-7 4M714 1071l6-3-3 3-7-5M683 1059l4-15-3-2-5 12M616 1009l8 5-4-7-6 3M642 1022l5-4-3-4-7-1M1079 1285l6-18-6-6-7 18M818 1115l7 2-5-8-6 0M684 1038l5-8-4-3-5 4M650 1015l7 1-4-9-6 4M632 1005l6 1-4-8-5 3M964 1197l6 1-5-9-8-14M634 998l7 1-3-2-6 2M632 999l6-2-4-7-5 7M925 1153l6-5-5 1-7-3M871 1122l6-6-4 0-6 5M691 1017l6 1-4-7-6 2M873 1116l7 2-6-9-6-3M804 1077l6 0-5-7-5 6M780 1064l6 1-4-6-7 0M818 1076l6 2-4-3-6 4M705 1009l6-4-3 3-7-3M718 1016l5-7-4-6-5 3M1085 1210l6-3-6-5-6 2M875 1094l6 0-5-12-6 3M768 994l7 9-4-9-7-5M1305 1210l5-1-6-25-5 11M948 1029l6-3-5-6-5 7M839 975l4-5-3-4-6 1M847 948l4-2-3-2-5-1M1009 1003l4-4-4-9-5 5M1044 998l5-1-5-3-4 1M978 957l4-4-4-2-4 3M920 931l5 3-4-6-4 1M982 953l5 4-4-5-5-1M991 954l4-5-4 0-4-2M920 924l4 3-4-8-4 0M1157 1014l4 1-5-10-4 4M961 930l4-3-4-3-4 2M1392 1095l5-11-6-6-5 9M1075 970l5 1-5-10-4 4M1059 956l4 3-4-4-4 2M1145 987l4 4-5-10-4-1M1063 959l4-3-4-1-4 0M1405 1078l4-1-7-2-3 0M995 929l4 3-4-7-4 3M1409 1077l3 3-6-5-4 0M975 918l4-4-4-5-4 9M993 921l4-3-4-4-4 7M979 913l4-1-3-3-4 1M987 915l4-5-4-2-4 4M1378 1041l4-2-5-9-4 5M1020 916l4-4-3 3-4-3M1225 989l4-11-4-5-4 11M1057 927l4-3-4-7-4 7M1021 915l3-5-3-1-4 3M1000 908l4-8-4-3-3 4M997 901l3-4-3 3-4-1M1135 952l4-7-4-5-4 6M1305 1009l5-10-5-6-4 8M1186 964l4-6-4 0-4 4M1046 910l4 3-4-5-3 5M1043 913l3-5-3 4-4-4M1426 1036l3 5-6-5-4 7M1107 934l4-5-4 1-4 1M1459 1051l4-4-6-6-3 4M1406 1033l3-1-5-6-4 4M1115 937l3-5-4-7-3 4M1103 932l4-10-4 2-4 7M1099 931l4-7-4-2-4 3M1080 919l4-3-4 0-4 6M1069 916l3-2-3-3-4 5M1054 912l4-5-4 0-4 1M1099 922l4 2-4-5-4 6M1095 925l4-6-4-2-4 8M1390 1021l4-7-6 4-3 0M1298 991l4-7-4-4-4 3M1076 912l4 0-4-7-4 6M1051 903l4 0-4-6-4 5M1040 903l4-7-4-7-3 13M1370 1006l3-3-5-2-3 2M1354 1002l3-2-5-3-3-1M1259 974l4-9-5-3-4 1M1482 1044l4-8-6 2-3-2M1406 1019l4-10-5-1-4 5M1027 889l4 1-4-2-3 2M1456 1025l3 2-5-4-4 6M1382 1003l3 3-5-5-3 1M1366 1000l3 0-5-7-3 4M1319 990l5-14-5-2-5 11M1489 1039l3-5-6-1-3 3M1274 968l4 1-5-10-3 6M1098 908l4 5-4-6-4-3M1041 896l4-7-4-4-3 1M1510 1046l4-8-6 0-3-4M1492 1034l3 3-5-7-4 3M1484 1029l3-1-6-4-3 4M1159 929l4-14-4 4-4 8M1155 927l4-8-4 5-3-6M1144 918l3-1-4 0-3 0M1498 1037l4-10-6-1-3 5M1248 954l4-5-5-7-4 9M1508 1030l3 3-6-6-3 0M1317 970l3 1-4-4-3-5M1116 905l4-2-4-7-4 9M1090 892l4 0-4-1-3 2M1530 1032l3-3-7 0-2-4M1253 946l3-4-4-3-3 0M1265 947l4-8-5 0-3 6M1261 945l3-6-4 0-4 3M1076 887l4-4-4-4-3 7M1242 937l4-7-4-4-4 8M1212 930l4-9-4-5-4 10M1204 926l4-11-4-1-4 11M1539 1022l3-2-5-5-4 7M1318 955l3-1-4-1-4 1"/>
<path color="#f72" d="M728 1169l6-13-4 1-6 8M837 1190l7-4-5-2-7 4M832 1188l7-4-5-4-8 1M860 1150l7 0-5-1-6 5M1053 1250l6-18-6 10-6 6M656 1008l6-4-3 0-6 1M862 1117l6-11-4 4-6 9M830 972l4-5-3 2-4 5M1306 1153l6-15-7 8-6 9M1122 1039l5-6-5-2-5 11M1350 1118l5-9-8 8-4 5M1040 995l4-10-4 6-4 3M966 952l4-4-3 3-5 4M1241 1052l4-3-5 3-5 4M1386 1087l5-9-6-1-5 9M1447 1067l4-7-7 5-4 4M1393 1043l3 0-6 2-4 6M1272 1005l4-10-6 11-4 2M1405 1047l5-7-7 1-4 6M1024 910l4-3-3 2-4 0M1214 973l4-6-5 4-3 3M1424 1033l4-7-5-2-5 8M1396 1009l3-2-6 2-4 6M1536 1048l4-3-7 2-4 2M1066 893l3-6-3 2-4 3M1527 1037l3-5-6 1-4 5M1524 1033l2 0-5-6-4 4M1408 996l4-8-6 3-4 9M1094 894l4-3-4 1-4 0M1141 904l4-5-4-2-3 5"/>
<path color="#e61" d="M733 1173l5-17-4 0-6 13M707 1155l6-12-4-3-7 7M678 1130l7-4-5-8-6 11M896 1266l8 3-6-5-7 3M885 1265l7-9-5-3-8 5M709 1137l5-12-4-2-5 15M646 1080l7-3-3 0-8-5M664 1080l6-4-4-5-6 4M858 1180l6-8-4 1-7 8M814 1137l7-5-5 0-6 3M812 1132l7-4-5-5-7 2M812 1117l6-2-4-6-6 6M803 1114l7-2-5-6-7-3M659 1007l6 0-3-3-6 4M665 1007l6 0-3-2-6-1M867 1121l6-5-5-10-6 11M697 991l5-3-3-3-6 2M702 988l6-2-3-1-6 0M912 1053l6 1-5-7-5 5M1155 1175l6-19-6 3-6 18M1037 1034l5-5-5-1-5 1M1127 1039l5 1-5-7-5 6M966 974l4-11-4-4-4 9M1356 1123l5-8-6-6-5 9M946 957l4-9-4-5-4 8M1004 972l4-4-4-2-4 5M995 949l4-5-3 2-5 3M1055 964l4-10-4 1-4 8M1055 957l4-2-4-7-4 9M1059 955l4 0-4-2-4-5M991 928l4-3-3 0-4-1M1076 938l4 1-4-3-4-3M1453 1070l5-9-7-1-4 7M1411 1048l4-2-5-6-5 7M1443 1050l4-5-7 5-4 3M1373 1026l3-4-5-3-5 11M1366 1030l5-11-6-3-4 9M1320 1004l4-7-5-4-4 12M1046 908l4 0-3-1-4 5M1361 1012l4-5-6 2-4 14M1065 916l4-5-4-3-4 4M1469 1046l4-1-6-2-4 4M1333 1002l3-6-5 2-4 4M1106 922l4-4-4 3-3 3M1335 995l3-1-5-2-4 3M1329 995l4-3-5-7-4 10M1279 976l4 0-5 0-4 2M1192 949l4-4-5 1-3-1M1365 1003l3-2-5-1-4-1M1373 1003l4-1-6 0-3-1M1377 1002l3-1-5-4-4 5M1552 1052l4-5-7-1-3 1M1431 1010l4-2-6 0-4 3M1140 917l3 0-4-2-3-1M1109 903l4-5-4 3-4 9M1083 895l4-1-4-1-3 3M1069 896l4-10-4 1-3 6M1347 977l3-1-5-1-3 0M1245 940l4-1-5 0-3 2M1375 980l4-8-5-1-4 8M1283 949l4-2-4-5-4 10M1073 886l3-7-3 0-3 3M1545 1024l3-2-6-2-3 2M1137 899l4-7-4 0-3 6"/>
<path color="#b51" d="M962 1333l7-7-6-2-8 6M634 1110l5-12-3-1-6 11M608 1086l8 4-4-3-7-2M597 1074l8 5-3-3-9-4M587 1071l8 2-5-12-7 3M969 1326l9 3-7-7-8 2M878 1275l7-10-6-7-8 3M798 1217l7-6-4 2-9-7M605 1079l7-2-3-2-7 1M598 1074l7-2-3-3-7 4M555 1046l3-17-1 5-6 5M964 1316l8-5-7-7-7 9M879 1258l8-5-6 3-8-9M658 1108l6-8-4-4-7 2M605 1072l7-3-4-6-6 6M898 1264l8-2-6-8-8 2M688 1123l7-6-5-9-6 11M664 1100l8 0-5-7-7 3M675 1103l8-2-5-6-6 5M672 1100l6-5-3-1-8-1M1056 1348l8-2-8-8-7 3M913 1258l8-8-6 0-7 5M1071 1353l7-10-7-8-7 11M1001 1303l8-3-7-7-8-1M796 1173l7-3-5-5-8-1M790 1164l8 1-4-2-8 0M589 1030l8 4-4-5-6 5M584 1031l6-5-4-7-6 4M784 1156l7-3-4-2-7 0M639 1061l7-2-4-4-6 6M601 1038l6-4-4-3-6 3M597 1034l6-3-3-4-7 2M864 1198l7 2-5-8-8-5M801 1162l6-10-5-3-5 14M797 1163l5-14-5-8-6 12M616 1041l6-7-4-4-6 2M600 1027l6-5-4-4-5 9M1093 1333l7 2-7-12-7-1M866 1192l7 2-4 0-9-9M677 1072l6-5-5-9-6 5M641 1046l7-1-4-5-6 2M944 1241l7-9-6-5-7 7M864 1194l6-14-6-8-6 8M769 1121l8 2-5-2-7-6M658 1052l7-4-3 4-8-5M612 1018l7 5-3-3-7-3M945 1227l7 2-5-7-8 1M939 1223l8-1-7-10-7 1M880 1189l7-4-6-15-6 14M817 1151l7-5-5-6-8-1M808 1149l6-12-4-2-6 9M658 1045l8 6-4-6-7-2M622 1025l6-4-3-1-6 3M947 1222l6-7-6-4-7 1M924 1203l7 5-5-6-8-5M708 1076l6-5-4-5-6 5M628 1021l8 6-5-13-6 6M597 1000l7 0-3-3-7 0M959 1218l7 5-6-6-7-2M911 1184l7-2-6-7-7 2M793 1117l5-14-3 7-7-2M631 1011l7 1-3 0-7-4M912 1175l7-4-6-14-6 10M821 1121l7 7-5-11-6 5M687 1040l6-6-4-4-5 8M1092 1264l7-1-7-11-7 5M629 997l5-7-4-8-5 7M882 1142l7 0-5-4-7-1M686 1026l5-9-4-4-5 5M640 989l6-1-4-4-6-1M1112 1257l6 2-6-12-7 1M1105 1248l7-1-7-7-7 2M700 1018l7 7-3-5-7-3M687 1013l6-2-3-1-6 0M684 1010l6 0-4-5-6 2M700 1018l6 0-3-4-6 4M810 1077l6-7-6-14-5 14M695 1006l6-1-3-2-7-4M709 1015l5-9-3-1-6 4M701 1005l7 3-3-2-7-3M667 990l6 0-4-11-5 7M705 1006l5-5-4-5-5 8M710 1001l6 3-3-5-7-3M679 989l5-6-3 0-6 0M1011 1149l6 0-6-13-6 1M744 995l4-15-5-8-3 18M821 1025l5-9-4-7-5 9M924 1069l6-6-5-11-6 7M826 1016l6 0-5-7-5 0M832 1016l5-7-5-11-5 11M1254 1219l6-10-6-12-6 12M1161 1186l6-12-6-18-6 19M930 1055l6 4-4-8-6 2M918 1054l5-5-4-3-6 1M1167 1174l5-8-5-17-6 7M852 1013l5-2-4-3-6-10M1069 1106l5 0-5-9-6 2M1074 1106l5-10-5-7-5 8M1085 1104l5-5-6-14-5 11M1090 1099l5-1-5-9-6-4M1100 1105l6 1-6-11-5 3M1025 1051l5 4-5-8-5-4M1032 1044l5-10-5-5-5 2M1184 1096l5 3-6-5-4-7M1137 1047l5-2-5-9-5 0M903 948l5 4-4-9-5 0M1142 1045l4-3-5-1-4-5M1040 1007l4-9-4-3-5 1M1231 1078l5-12-5-11-6 16M1136 1039l5-3-5 1-5-6M916 944l5 4-4-7-4-2M984 969l5-4-5-12-4 9M1257 1060l5-3-6-4-4 0M921 928l5 7-4-8-5-6M1262 1057l4 1-6-4-4-1M1271 1062l4 0-5-7-4 3M1063 982l4-8-4-8-5 8M928 925l4-4-4-8-3 8M1004 944l4 3-4-5-4 4M1059 969l4-6-4-9-4 10M957 926l4-2-3 0-4 2M1136 996l4-6-4-10-4 9M1063 963l4 1-4-11-4 1M965 927l4 2-4-4-4-1M1403 1093l4-7-6-9-4 7M1407 1086l4-2-6-6-4-1M973 925l4 3-4-10-3 6M949 913l4 5-4-8-4 2M977 928l4-7-3-2-5-1M1080 957l4 0-4-13-4 6M1021 931l4-1-4-1-4-3M1021 929l4 1-3-2-4 2M1339 1046l3 1-5-11-4 7M1333 1043l4-7-5-2-4-2M1096 956l4-4-4 1-4-5M1004 925l4-10-4-4-4 11M973 911l4-1-4-4-4-3M994 914l4 2-3-5-4-1M1168 975l4-6-5-5-3-5M1009 911l4 3-4-5-4 1M1080 939l4 3-4-7-4 1M1162 962l4 4-4-5-4-2M1084 942l4-9-4-3-4 5M1003 912l3-3-3-5-4 2M1417 1055l4-5-6-4-4 2M1382 1039l4 0-6-6-3-3M1072 926l4 2-4-5-4-1M1234 985l4-9-4-8-5 10M1017 905l4 6-3-8-4-3M1004 907l3-13-3 6-4 8M1183 965l3-1-4-2-4-4M1084 929l3-5-3-7-4 9M1061 918l4 3-4-5-4 0M1057 916l4 0-4-2-4 1M1053 915l4-1-4-6-3 4M997 900l4-5-4 0-4-3M1251 981l4-3-5-6-3 3M1131 942l4 3-4-9-4 1M1443 1049l4-4-5-10-5 13M1177 958l4-2-4-6-4 3M1131 936l4 7-4-11-4-6M1061 920l4-4-4-4-4-1M1050 913l4-1-4-4-4 0M1400 1030l4-4-6-4-4 7M1394 1029l4-7-5-7-4 5M1076 922l4-6-4-8-4 11M1513 1064l3 0-6-5-2-4M1404 1026l3-2-5-5-4 3M1185 953l3 1-4-8-4 1M1118 932l4-2-4-8-4 3M1084 916l3-1-4-12-3 13M1491 1053l3-2-5-7-3-3M1103 924l3-3-4-1-3-1M1463 1043l5-13-5-8-5 16M1399 1019l4 1-5-7-4 1M1284 980l3 1-4-5-4 0M1072 911l4-6-4 2-3 1M1498 1047l3 0-6-6-2-4M1437 1028l4-2-5-9-4 7M1375 1009l4-1-6-5-3 3M1263 973l4-5-4-3-4 9M1200 951l4-1-5-5-3 0M1129 922l4 2-4-5-3-2M1072 907l4 2-4-9-3 1M1058 906l4-14-4 0-3 11M1452 1031l4-6-6 4-3-3M1441 1026l4-6-5-9-4 6M1129 919l4 2-4-3-4-1M1069 902l4 3-4-4-4-2M1474 1033l4-6-7 3-2-4M1098 915l4-5-4-2-3 3M1465 1030l3-3-5-6-4 6M1391 1007l4-6-6-2-4 7M1385 1006l4-7-5-6-4 8M1364 993l4 3-5-5-4-2M1417 1007l3 0-5-4-3-1M1395 1001l3 0-5-9-4 7M1052 891l3 2-3-3-4 0M1490 1030l3 1-6-3-3 1M1415 1003l3 3-5-12-4 5M1205 941l3 0-3-10-4 5M1080 901l3-6-3 1-4 0M1475 1021l3 1-6-3-3 5M1445 1020l5-18-5-2-5 11M1429 1008l3-1-6 0-3 4M1354 986l3-2-5-1-3-1M1349 982l3 1-5-6-3-2M1226 944l3 1-4-8-3 4M1147 917l4-2-4-8-4 10M1113 911l3-5-3-8-4 5M1478 1022l4-8-6-1-4 6M1252 949l3-1-4-7-4 1M1561 1048l4-7-7 1-3-1M1505 1027l4-4-5-10-5 13M1499 1026l5-13-7 2-3 5M1425 997l3 2-6-4-3 4M1101 900l4-1-4-6-3 3M1120 903l3 1-4-7-3-1M1332 969l4-5-5-10-3 5M1119 897l4 4-4-10-3 4M1552 1031l3-2-6-5-3 4M1413 985l3-2-5 0-3-2M1269 951l4-8-4-4-4 8M1173 913l3-5-4-6-3 7M1063 882l3-6-3 2-4 0M1524 1022l4-9-6-4-4 9M1384 982l4-9-5-8-4 7M1349 969l4-9-5-1-4 3M1168 907l4 1-4-3-4-1M1309 953l3-6-4-7-4 6"/>
<path color="#d61" d="M982 1352l8-18-7 4-8 11M784 1206l8 0-5-4-8 0M775 1204l8 0-5-2-8-4M630 1108l6-11-4-4-6 9M554 1051l6-7-3 1-7-1M976 1335l8-7-6 1-9-3M823 1232l7-12-5 7-7 2M787 1202l8 4-5-6-7 4M623 1095l6-6-3-2-8-1M602 1076l7-1-4-3-7 2M978 1329l7-10-7-6-7 9M891 1267l7-3-6-8-7 9M718 1152l6-15-4 3-7 3M680 1118l8 5-4-4-7 0M662 1114l6-10-4-4-6 8M646 1095l8 0-4 0-7-1M623 1086l6-4-4-6-6 8M619 1084l6-8-4-4-5 13M668 1104l7-1-3-3-8 0M912 1266l7-14-6 6-7 4M900 1254l8 1-6-8-8 6M1007 1314l8 0-7-12-8 7M761 1152l8 4-5-6-7 6M657 1084l7 3-3-3-8-1M776 1152l8 4-4-5-8 0M896 1219l6-13-4 10-7 5M670 1076l7-4-5-9-6 8M646 1059l5-8-3-4-6 8M607 1034l5-6-2 0-7 3M582 1016l5-10-3 1-3 16M651 1051l7 1-4-5-6 0M809 1145l8 6-6-12-7 2M666 1061l5-9-4-9-5 12M1100 1320l7 1-7-5-7 3M951 1232l7-5-6 2-7-2M933 1213l7-1-5-3-7 1M785 1123l6-3-3 3-8-6M641 1031l7 4-4-4-6 0M601 1012l6-5-3 0-7-2M958 1227l7-3-6-6-7 11M810 1135l6-3-4 0-7-3M982 1230l7 4-6-7-7 0M920 1200l7-5-6-6-6 4M628 1011l7 4-4-4-6 0M625 1011l6 0-3-3-6 2M819 1128l6-5-4-2-7 2M702 1058l7 2-4-9-7 2M645 1026l5-11-3 3-5 4M867 1150l7-5-6-8-6 12M817 1122l6-5-5-2-6 2M647 1018l6-3-3 0-6-1M644 1014l6 1-3-4-6 3M957 1208l7-11-7-22-5 24M680 1031l5-4-3-1-6-2M657 1016l5-7-3-2-6 0M1022 1223l7 1-6-12-7 4M877 1137l7 1-5-5-7-5M695 1027l6-2-5-11-5 9M1079 1210l6 0-6-6-6 6M701 1004l5-8-3-1-5 6M1043 1180l6 8-6-12-6 10M748 1022l6 3-4-7-6 4M721 995l4-10-3-2-5 5M914 1070l5-11-4-8-5 10M926 1053l6-2-5-3-5 6M922 1054l5-6-4 1-5 5M1096 1137l5-6-5-1-6 3M1176 1151l6-2-6-9-6 13M1005 1067l5-18-5-6-5 15M1044 1073l5 5-5-6-5 0M1023 1037l4-6-4-1-5-1M1263 1141l5-11-6-8-5 11M1042 1038l4-8-4-1-5 5M976 1007l5-5-5-5-5 4M839 950l4-7-3-2-5 3M1361 1115l4 2-6-6-4-2M970 957l4-3-4-6-4 4M1242 1055l4 1-5-4-4 3M974 954l4-3-3-2-5-1M917 929l4-1-4-7-4 4M984 943l5-2-4-5-4 3M1000 946l4-4-4-6-4 8M996 944l4-8-4-2-4 9M949 926l5 0-4-7-4 7M1422 1100l5-11-6-7-5 13M948 917l4 0-3-4-4 2M1414 1086l3 2-6-4-4 2M1067 958l4-4-4 2-4 3M970 919l4-1-3 0-4 0M985 925l3-10-3 2-4 4M971 918l4-9-3-1-4 9M1048 941l4-3-4-3-4 5M968 908l5 3-4-8-4 7M962 907l4-4-3-4-4 6M1281 1020l4-3-5-8-4 5M983 912l4-4-3 0-4 1M1159 979l5-20-5 3-4 13M1023 923l4-6-4-1-4 4M1031 920l3-5-3-3-4 5M995 910l4-4-3-3-4 3M999 906l4-2-3 1-4-2M1221 984l4-11-5 3-4-2M1053 924l4-7-4-2-4 7M1046 919l4-3-4-3-4 1M1380 1033l4 0-6-7-4 7M1057 917l4 1-4-2-4-1M1050 916l3-1-3-3-4 1M1010 904l4-6-4-1-3 10M1007 907l3-10-3-3-3 13M1378 1026l4 2-6-6-3 4M1361 1025l4-9-6 7-3-1M1356 1022l3 1-5-7-3 0M1131 946l4-6-4 2-4 3M1032 908l4 1-4-3-4-1M1456 1049l3 2-5-6-4 2M1450 1047l4-2-7 0-4 4M1325 1005l4-4-5-4-4 7M1195 964l3-4-4-3-4 1M1510 1065l3-1-5-9-4 6M1454 1045l3-4-6 0-4 4M1447 1045l4-4-6-4-3-2M1198 960l4-1-4-2-4 0M1111 929l3-4-4 2-3 3M1107 930l3-3-3-5-4 10M1072 919l4-11-4 6-3 2M1463 1047l4-4-6-4-4 2M1370 1012l4-5-5-4-4 4M1348 1008l4-7-5 1-4 3M1058 907l3-4-3 3-4 1M1026 894l4 6-4-8-4 2M1448 1040l4-9-6-3-4 13M1442 1041l4-13-6 0-4 11M1436 1039l4-11-6-2-4 8M1397 1015l2 4-5-5-4 7M1280 984l4-4-5-4-3-1M1188 954l4-5-4-4-4 1M1099 919l3 1-3-4-4 1M1482 1045l4-6-7 7-4 1M1361 1003l4 0-6-4-3 3M1356 1002l3-3-5 3-4 0M1345 996l4 0-5-4-4 3M1251 967l3-4-5 4-3 3M1069 908l3-1-3-6-4 5M1033 901l4-10-3 3-4 1M1055 903l3-11-4-2-3 7M1379 1008l3-5-5-1-4 1M1368 1001l3 1-5-2-3 0M1363 1000l3 0-5-3-4 3M1267 968l4-3-5-3-3 3M1235 959l3-3-4 2-4-2M1048 895l3-3-3 2-4-1M1422 1012l3 1-6-4-4 11M1371 1002l4-5-6 3-3 0M1361 997l3-4-5-4-3 6M1157 932l3-6-4-3-3 7M1048 894l3-5-3-1-4 7M1044 895l4-7-3 4-4-2M1502 1038l3-4-6 3-4 1M1495 1038l4-1-7-3-3 5M1542 1054l4-7-6-2-4 3M1486 1033l4-3-6-1-4 1M1468 1027l4-5-5-5-4 4M1428 1011l3-1-6 1-3 1M1400 1005l4-7-6 3-3 0M1048 890l4 0-4-4-3 3M1478 1028l3-4-6-3-3 1M1345 987l4-5-5-7-4 6M1542 1047l4-5-7-2-3 5M1493 1031l3-5-5-4-4 6M1487 1028l4-6-7 2-3 0M1481 1024l3 0-6-2-3-1M1314 973l3-3-4-8-4 6M1205 931l3 1-4-2-4-2M1087 898l4-5-4 1-4 1M1076 895l4-6-4-5-3 7M1491 1022l3-2-6-4-4 8M1484 1024l4-8-6-2-4 8M1432 1007l4-9-5-1-5 10M1416 994l3 5-5-7-4 5M1246 942l3 4-4-6-3 4M1526 1033l4-1-6-7-3 2M1323 972l5-13-5 3-4 3M1415 989l3 0-5-4-4 6M1409 991l4-6-5-4-4 5M1098 891l3-1-4-1-3 3M1094 892l3-3-3-3-4 5M1090 891l4-5-4 1-3 1M1418 989l4-5-6-1-3 2M1090 887l4-1-4 0-3 2M1555 1029l4-7-7 2-3 0M1390 975l3-4-5 2-4 9M1305 954l4-1-5-7-3 6M1283 942l3-4-5 1-3 9M1273 943l4-7-4-4-4 7M1238 934l4-8-5 2-3 5M1208 926l4-10-4-1-4 11M1115 896l4-10-4 1-3 2M1216 921l4-2-4-5-4 2M1149 900l3 2-4-3-3 0M1145 899l3 0-3-6-4 4M1134 898l3-6-4-4-3 4"/>
<path color="#f71" d="M626 1102l6-9-3 2-6 6M581 1067l6-8-3 2-6 4M983 1338l8-10-7 0-8 7M907 1290l6-21-5 2-7 14M901 1285l7-14-6-5-7 17M895 1283l7-17-6 0-7 18M674 1129l6-11-3 1-6 11M632 1093l7-3-4-2-6 7M629 1095l6-7-3 1-5 11M984 1328l8-9-7 0-7 10M734 1156l8 4-5-8-7 5M713 1143l7-3-4-6-7 6M709 1140l7-6-4 2-6 11M669 1113l7-6-4-1-6 9M666 1115l6-9-4-2-6 10M832 1218l7-9-5-2-7 5M712 1136l7-8-5-3-5 12M672 1106l7-3-4 0-7 1M825 1207l6-12-4 3-7 6M758 1156l6-9-3 5-7 8M902 1247l7-5-6-2-7 7M1043 1327l7-12-7-3-7 9M841 1192l7-7-4 1-7 4M1050 1315l7-11-7 6-7 2M787 1151l6-13-4 4-7 6M573 1011l6-5-2 2-7 1M789 1142l7-3-5-6-6 9M785 1142l6-9-4 2-7 4M648 1047l6 0-3-3-6 8M579 1006l6-1-3-1-5 4M904 1208l7-8-5-1-6 15M870 1180l6-14-5 4-7 2M864 1172l7-2-5-5-6 8M849 1164l7-1-4-3-7 4M635 1032l6-5-3 0-6 2M975 1233l7-3-6-3-6 11M852 1160l6-9-4 6-6 8M731 1072l7-4-4 1-6 6M650 1019l6-4-4-2-4 14M1059 1262l6-8-6-2-7 12M862 1149l6-12-4 4-7 2M650 1015l7 4-4-4-6 3M641 1014l6-3-3 2-6-1M878 1147l6-9-4 3-6 4M647 1011l6-4-3 0-6 6M685 1027l6-4-3-4-6 7M682 1026l6-7-3 2-5 8M662 1009l6-3-3 1-6 0M681 1008l4-13-2 8-6 3M802 1073l5-14-4 0-5 9M806 1060l5-8-4-2-5 12M910 1061l5-10-4 3-5 10M817 1018l5-9-4-3-4 12M1228 1217l6-19-7 0-6 18M908 1052l5-5-5-9-4 15M824 1008l5-7-4 2-4 8M1063 1099l6-2-6-6-5 9M1170 1153l6-13-7 2-5 6M1299 1195l5-11-8 8-5 13M995 1056l5-10-4 4-5 9M996 1050l5-4-4-2-5 7M1257 1133l5-11-7 6-5 6M1168 1094l5-14-5 7-5 9M1027 1031l5-2-4 1-5 0M1313 1151l6-10-7-3-6 15M1168 1087l5-7-6-3-5 13M1176 1080l5-10-5 3-5 10M1035 996l5-1-5-2-4 5M962 968l4-9-3 6-4 4M1214 1066l5-15-6 11-5 13M976 959l5-7-4 0-4 8M1246 1056l5-6-6-1-4 3M1058 974l5-8-4-1-5 14M989 941l4-6-4 3-4-2M1051 963l4-8-4 0-4 4M1047 959l4-4-4 1-4 4M1132 989l4-9-5 1-4 8M1416 1095l5-13-7 4-5 6M1385 1077l4-7-6-1-5 12M1067 956l5-5-5-2-4 6M1324 1038l4-6-6 2-5 12M965 910l4-7-3 1-4 4M993 914l4-4-3 1-4 6M1276 1014l4-5-6 3-4 6M1041 932l4-5-4-4-4 6M1037 929l4-6-4 3-3 6M1274 1012l5-13-6 5-4 6M1273 1004l4-7-5 8-4 5M1155 965l4-6-5 2-4 9M1005 910l4-1-3 0-4 3M1154 961l4-2-4 0-4 8M1027 917l4-5-4 0-4 4M1006 909l3-5-3 3-4 10M1373 1035l4-5-6 4-4-1M1080 935l4-5-4 1-4 3M1216 974l4 2-5-2-4 5M1028 913l3-5-3-2-4 6M1024 912l4-6-4 4-3 5M1010 908l4-8-4 4-4 5M1415 1046l5-12-7 6-3 0M1215 974l4-5-5 4-4 3M1072 923l4-2-4-1-4 1M1449 1056l4-8-6-3-4 5M1351 1016l3 0-6 0-3 1M1028 907l4 1-4-3-3 4M1004 900l3-5-3-1-4 3M1076 918l4-1-4 0-4 6M1504 1061l4-6-7 4-5 9M1359 1009l4-5-5-5-4 9M1354 1008l4-9-6 2-4 7M1054 907l4-1-4-1-4 3M1430 1034l4-8-6 0-4 7M1336 996l4-1-5 0-4 3M1331 998l4-3-6 0-3-1M1428 1026l4-2-6-3-3 3M1394 1014l4-1-6-5-4 10M1340 995l4-3-6 2-3 1M1324 995l4-10-5 6-4 1M1065 906l4-5-4 2-3 7M1432 1024l4-7-6-2-4 6M1426 1021l4-6-6 1-5 11M1489 1039l4-2-7-1-4 8M1401 1013l4-5-6-1-3 2M1410 1009l4-6-6 4-3 1M1405 1008l3-1-6-2-3 2M1309 982l5-9-6-1-3 8M1153 930l3-7-4 2-3 4M1051 892l4-3-4 0-3 5M1408 1007l4-5-6 1-4 2M1375 997l4-3-6 1-4 5M1406 1003l3-4-5-1-4 7M1340 981l4-6-5 3-4 6M1201 936l4-5-5-3-3 7M1556 1047l3-4-6-2-4 5M1549 1046l4-5-7 1-4 5M1435 1008l4-8-7 7-3 1M1344 975l3 2-5-2-3 3M1309 968l4-6-6 3-3 5M1243 951l4-9-4 1-4 7M1073 891l3-7-3 2-4 10M1539 1040l4-7-6 1-4 4M1533 1038l4-4-7-2-3 5M1069 887l4-2-4-2-3 6M1066 889l3-6-3-1-4 7M1537 1034l3-6-7 3-3 1M1098 896l3-3-3-4-4 5M1406 991l3 0-5-5-4 7M1112 898l4-3-4 0-3 8M1543 1028l3 0-6-4-4 6M1536 1030l4-6-7 5-3 3M1398 990l5-12-6 4-4 2M1393 984l4-2-6 1-3 4M1323 962l3-6-5 2-4 8M1546 1028l3-4-6-1-3 1M1540 1024l3-1-7 3-3 3M1391 983l4-9-5 1-4 4M1316 957l4-7-5 5-4 7M1149 904l4-4-4-1-4 9M1543 1023l2 1-6-2-3 4M1260 939l4-8-5 1-4 7M1229 931l4-9-4 0-4 8M1073 879l3-4-3-2-3 7M1070 880l3-7-3-1-4 4M1552 1024l3-4-7 2-3 2M1259 932l4-4-5 0-4 8M1224 925l4-8-4 2-4 3M1220 922l4-3-4 0-4 2M1141 897l4-4-4-1-4 7"/>
<path color="#c61" d="M989 1361l7-24-6-3-8 18M975 1349l8-11-7-3-7 6M969 1341l7-6-7-9-7 7M863 1263l8-2-6-6-7 10M678 1137l8-2-4-4-8-1M565 1057l5-11-2 2-6 5M557 1045l6-7-5-9-3 17M971 1322l7-9-6-2-8 5M723 1160l5-17-4-6-6 15M674 1120l7-1-5-12-7 6M643 1094l7 1-4-6-7 1M612 1077l7-4-4-3-6 5M978 1313l8 1-7-10-7 7M910 1273l7-13-5 6-8 3M737 1152l8-2-6-10-5 14M705 1138l5-15-4-2-6 10M684 1119l6-11-4-1-5 12M681 1119l5-12-3-1-7 1M625 1076l8 3-4-5-8-2M834 1207l8 5-6-14-6 12M679 1103l8 2-4-4-8 2M1049 1341l7-3-7-2-7-5M574 1027l6-4-2 1-8-2M1049 1336l8-6-7-6-8 13M1008 1302l7 0-6-2-8 3M1078 1343l8-5-8-14-7 11M632 1056l6-6-4-6-6 6M858 1187l8 5-6-7-7 1M638 1050l7 2-4-6-7-2M634 1044l7 2-3-4-6 4M619 1041l6-3-3-4-6 7M603 1031l7-3-4-6-6 5M581 1023l3-16-3-2-4 11M807 1152l7-6-5-1-7 4M625 1038l7-4-4-1-6 1M610 1028l5-9-3-1-6 4M927 1225l6-12-5-3-7 3M921 1213l7-3-6-2-7-1M778 1128l7-5-5-6-6 10M774 1127l6-10-3 6-8-2M654 1047l8 5-4-7-7-1M648 1045l7-2-3 0-8-3M628 1033l7-1-3-3-8-3M600 1014l7-1-5-9-5 6M585 1005l7 3-4-11-6 7M922 1208l7-5-5 0-7 1M671 1052l8 4-4-6-8-7M940 1212l7-1-5-4-7 2M935 1209l7-2-5 2-8-6M625 1020l6-6-3-3-6 8M622 1019l6-8-3 0-7-3M612 1009l8 6-4-6-7-3M905 1177l7-2-5-8-7 7M774 1094l7-1-4-4-6 6M668 1038l5-9-4-6-6 6M635 1015l6-1-3-2-7-1M1072 1279l7-18-7 0-7 9M673 1029l7 2-4-7-7-1M1085 1267l7-3-7-7-6 4M796 1097l6-4-4-5-6 9M792 1097l6-9-4 0-6 3M690 1010l5-4-4-7-5 6M695 999l6 5-3-3-7-4M664 986l5-7-4-6-4 13M815 1051l7 11-5-10-6 0M723 1009l6 0-3-2-7-4M817 1052l7 4-4-2-7-8M725 985l6 3-3-4-6-1M755 975l6 6-4-8-5-1M1242 1224l6-15-7-10-6 21M1182 1149l5-5-6-17-5 13M1014 1068l5-5-4-6-5 10M1010 1067l5-10-5-8-5 18M1179 1098l5-2-5-9-5 11M1268 1130l4 4-5-16-5 4M1182 1084l5 0-6-14-5 10M1049 997l4-5-4-9-5 11M950 948l5 1-4-4-5-2M1256 1053l4 1-5-3-4-1M1397 1084l4-7-5-11-5 12M1140 990l5-3-5-7-4 0M1076 960l4-3-4-7-5 4M1329 1048l4-5-5-11-4 6M1000 922l4-11-4-3-3 10M963 899l4 4-4-7-4-2M1398 1049l3 3-5-9-3 0M1060 932l4-8-3 2-4-3M1068 931l4-5-4-4-4 2M1038 921l4-7-4-2-4 3M1013 909l4 3-4-6-4-2M1421 1050l5-13-6-3-5 12M1087 929l4-1-4-4-3 5M1477 1063l5-11-7 2-4 6M1471 1060l4-6-6-3-3-2M1376 1022l4-5-5-2-4 4M1437 1048l5-13-6 3-4 1M1485 1055l3-5-5-10-4 10M1471 1056l6-19-8 9-4 11M1334 1011l4-15-5 6-4-1M1022 895l4-1-4 0-4 0M1398 1022l4-3-5-4-4 0M1343 1005l4-3-5-9-4 3M1327 1002l4-4-5-4-4 2M1114 925l4-3-4-4-4 9M1454 1040l4-2-6-7-4 9M1065 912l4-4-4-2-4-3M1494 1051l4-4-5-10-4 7M1037 902l3-13-3 2-4 10M1062 904l3-5-3-7-4 14M1044 896l4-1-4-2-4-4M1501 1047l4-7-6-1-4 2M1384 1010l4-5-6-2-3 5M1415 1020l4-11-5-6-4 6M1483 1036l3-3-6-3-2-3M1459 1027l4-6-7 4-2-2M1442 1015l3 4-5-10-3 2M1425 1013l3-2-6 1-3-3M1437 1010l3 1-5-3-4 2M1042 886l3-9-3-2-4 8M1038 883l4-8-4 1-3 4M1463 1021l4-10-5-5-4 8M1452 1016l4-11-6-3-5 18M1167 923l4 1-4-10-4 1M1502 1027l3 0-6-1-3 0M1496 1026l3 0-5-6-3 2M1426 1007l5-10-6 0-3 2M1116 906l4-3-4 2-3-7M1094 902l4-6-4-2-3-1M1419 999l3-4-4-10-4 7M1255 948l4-3-5-4-3 0M1259 945l3 2-4-5-4-1M1101 893l4 1-4-6-3 1M1549 1031l3 0-6-3-3 0M1431 997l4-6-6-2-3 2M1287 947l3-1-4-8-3 4M1278 948l3-9-4-3-4 7M1234 933l3-5-4-6-4 9M1200 925l4-11-4-5-4 11M1196 920l4-11-4 2-4 6M1112 889l3-2-3-3-4 6M1254 936l4-8-4-5-4 14"/>
<path color="#841" d="M575 1025l7-2-5-10-6 4M997 895l4 7-3-14-4-4M1515 1019l3-1-6-5-2-1"/>
<path color="#a51" d="M955 1330l8-6-7-12-8 3M858 1265l7-10-5-3-8 4M841 1248l6-19-4 10-6 19M569 1062l6-5-5-11-5 11M544 1040l7-1-5-10-6 5M1033 1377l8-3-8-23-8 17M963 1324l8-2-7-6-8-4M950 1310l8 3-7-10-8 0M649 1120l4-22-5-9-4 20M551 1039l6-5-3-3-8-2M1041 1374l7-11-7-15-8 3M958 1313l7-9-6-3-8 2M685 1126l8 2-5-5-8-5M566 1039l8 6-4-6-7-1M1048 1363l8 1-7-15-8-1M1049 1349l7-1-7-7-8 1M619 1070l6-9-5-10-6 6M1035 1332l7 5-7-9-7-5M784 1171l6-7-4-1-8-3M625 1061l7 2-4-5-8-7M759 1144l6-8-4 0-7 0M625 1053l7 3-4-6-8-6M587 1034l6-5-3-3-6 5M888 1219l8 0-5 2-9-14M857 1204l7-6-6-11-7 5M593 1029l7-2-3 0-7-1M769 1137l7-4-6-10-6 4M1016 1282l8 3-7-13-7-1M914 1223l7-10-6-6-7 3M766 1120l8 7-5-6-8-5M656 1061l6-6-4-3-7-1M933 1235l6-12-6-10-6 12M644 1040l8 3-4-4-8-6M603 1015l6-2-2 0-7 1M594 1012l7 0-4-7-7-1M693 1069l6-5-4-6-6 2M644 1035l8 4-4-4-7-4M616 1020l6-1-4-11-7 1M999 1245l8 4-7-7-7-4M770 1111l7-2-5-14-6 8M704 1071l6-5-4-6-7 4M601 1006l7 0-4-6-7 0M894 1182l6-8-6-11-6 5M777 1109l6-6-5-9-6 1M699 1056l7 6-4-4-7-6M788 1108l7 2-5-12-7 5M783 1103l7-5-4-1-8-3M657 1025l7 3-5-8-6-1M790 1098l6-1-4 0-6 0M786 1097l6 0-4-6-7 2M919 1171l7 5-6-12-7-7M666 1021l7 3-4-7-7-3M915 1157l7 7-6-12-7-4M807 1100l7 2-5-13-7 4M1099 1263l6 2-6-13-7 0M638 997l5-3-3-5-6 1M917 1146l8 7-6-7-7-4M682 1018l5-5-3-3-7-5M643 994l6-2-3-4-6 1M822 1089l7 2-5-8-7-6M718 1029l7 7-4-6-8-12M646 988l7 4-5-9-6 1M824 1083l7 4-5-7-7-6M675 983l6 0-4-5-6-3M930 1063l6 4-6-12-5-3M846 1015l6-2-5-15-6 0M1095 1098l5-3-5 0-5-6M1019 1063l6 1-5-11-5 4M1344 1168l6-8-6-18-5 13M1350 1160l4-4-5-16-5 2M1251 1076l5-9-5-10-5 8M1057 998l5-10-5-6-4 10M989 965l4-1-4-14-5 3M1253 1058l4 2-5-7-4 0M993 964l4-2-4-7-4-5M954 926l4-2-4-10-4 5M958 924l4-3-4-6-4-1M1024 939l5-2-4-3-4-1M1021 933l4 1-4-3-4-1M967 918l4 0-4-2-4-7M1025 934l4 1-4-5-4 1M1084 957l4-4-4-13-4 4M1029 935l4-1-4-2-4-2M1018 930l4-2-4 0-4-1M979 914l4 2-4-3-4-4M1294 1016l4-6-5-7-4 7M1056 929l4 3-3-9-4 0M1013 914l4-2-4-3-4 0M1305 1008l4 1-5-6-3-6M1017 912l4-3-4-4-4 1M1247 989l4-8-4-6-5 11M1242 986l5-11-5-7-4 8M1382 1028l3-2-5-9-4 5M1087 924l4 4-4-12-3 1M1385 1026l4-6-5-7-4 4M1255 978l4-2-5-3-4-1M1259 976l3 0-4-1-4-2M1376 1012l3 0-5-5-4 5M1347 1002l3 0-5-6-3-3M1126 927l3-5-3-5-4 2M1473 1042l4-6-5-10-4 4M1045 890l3-5-3-8-3 9M1418 1006l4-7-6-5-3 0M1080 896l3-3-3-4-4 6M1472 1019l4-6-5-8-4 6M1049 881l3 3-3-9-4-2M1555 1041l3 1-6-6-2-4M1552 1036l3 1-6-6-2 0M1428 999l3-2-5-6-4 4M1105 894l3-2-3 1-4-5M1108 892l4-3-4 1-3 3M1126 899l4-7-4-4-3 4M1063 878l3-5-3-4-4 7M1533 1022l4-7-5-10-4 8"/>
<path color="#e71" d="M929 1311l8-12-6 2-7 16M583 1064l7-3-3-2-6 8M558 1048l7 0-3-4-6 6M556 1050l6-6-2 0-6 7M913 1293l6-21-6-3-6 21M827 1227l7-11-4 4-7 12M737 1173l5-18-4 1-5 17M639 1098l7-3-3-1-7 3M636 1097l7-3-4-4-7 3M560 1044l6-5-3-1-6 7M985 1319l8-6-7 1-8-1M892 1256l8-2-6-1-7 0M696 1124l6-8-4-2-5 14M676 1107l7-1-4-3-7 3M830 1210l6-12-5-3-6 12M706 1121l7-6-4 0-7 1M698 1114l7-4-4-4-6 11M1000 1309l8-7-7 1-7 11M836 1198l8-2-6-6-7 5M1064 1346l7-11-7-5-8 8M1056 1338l8-8-7 0-8 6M921 1250l6-15-5 4-7 11M915 1250l7-11-6 0-7 3M844 1196l7-4-5-4-8 2M580 1023l6-4-2 0-6 5M1071 1335l7-11-7 1-7 5M851 1192l7-5-5-1-7 2M605 1032l7 0-4-4-5 6M791 1153l6-12-4-3-6 13M612 1032l6-2-3-3-7 1M577 1016l4-11-2 1-6 5M797 1141l7 0-4 0-7-3M628 1038l7-1-3-3-7 4M615 1027l7-1-4-1-6 3M1093 1323l7-3-7-1-7 3M662 1055l5-12-2 5-7 4M651 1044l7 1-3-2-7 2M637 1034l7 1-3-4-6 6M632 1034l6-3-3 1-7 1M860 1173l6-8-5 1-7 3M854 1169l7-3-5-3-7 1M638 1031l6 0-3-4-6 5M609 1013l6-6-3 2-5 4M805 1129l7 3-5-7-6 6M644 1031l6-8-4-2-5 6M695 1052l7 6-4-5-6 1M622 1010l6-2-3-2-5 9M663 1029l6-6-3 4-6-2M648 1027l4-14-2 2-5 11M1065 1270l7-9-7-7-6 8M871 1146l7 1-4-2-7 5M874 1145l6-4-4 2-8-6M657 1019l5-5-3-3-6 4M689 1030l6-3-4-4-6 4M790 1073l7 0-4-3-7-1M686 1005l5-6-3-3-4 13M684 1009l4-13-3-1-4 13M763 998l5-4-4-5-5 5M740 990l3-18-2 8-4 10M822 1009l5 0-3-1-6-2M1235 1220l6-21-7-1-6 19M1174 1098l5-11-6-7-5 14M1079 1051l5-7-5 5-5 4M1044 994l5-11-5 2-4 10M1063 966l4-2-4-1-4 2M925 921l3-8-3-3-4 11M992 943l4-9-3 1-4 6M945 915l4-2-4-1-4-1M1071 954l5-4-4 1-5 5M966 904l4 0-4-1-4 4M959 905l4-6-4-5-4 6M1280 1009l4-6-5-4-5 13M1041 923l4 5-4-6-4 4M1009 909l4 0-4-5-3 5M1158 959l4 2-4-5-4 3M1034 915l4-3-3 0-4 0M1436 1051l4-4-6-1-4 6M1088 933l3-7-4 0-3 4M1049 922l4-7-3 1-4 3M1042 914l4-1-4-2-4 1M1038 912l4-1-3-1-4 2M1013 906l4-1-3-5-4 8M1014 900l4 3-4-5-4 6M1461 1058l5-9-6-7-4 10M1000 897l4-3-3 1-4 5M1359 1023l4-8-5-2-4 3M1482 1052l3 3-6-5-4 4M1315 1005l4-12-5 2-4 4M1310 999l4-4-6 2-3-4M1173 953l4-3-5-4-4 8M1479 1050l4-10-6-3-6 19M1457 1041l4-2-7 1-3 1M1110 927l4-9-4-4-3 8M1489 1044l4-7-7 2-4 6M1452 1031l4-6-6 1-4 2M1434 1026l3 2-5-4-4 2M1398 1013l3 0-5-4-4-1M1065 903l4-1-4-3-3 5M1047 898l4-7-3 4-4 1M1495 1041l4-2-6-2-4 2M1459 1031l4-7-7 1-4 6M1499 1039l3-1-7 0-2-1M1356 995l3-6-5-3-4 13M1314 985l5-11-5-1-5 9M1414 1003l3 4-5-5-4 5M1380 1001l4-8-5 1-4 3M1412 1002l3 1-6-4-3 4M1458 1014l4-8-6-1-4 11M1440 1011l5-11-6 0-4 8M1222 941l3-4-4 1-4 0M1143 917l4-10-4 2-4 6M1546 1042l4-10-7 1-4 7M1410 997l4-5-6 4-3 0M1247 942l4-1-5 1-3 1M1073 885l3-1-3 0-4-1M1116 896l3 1-3-2-4 3M1437 992l4-1-6 0-4 6M1404 986l4-5-5-3-5 12M1424 984l3 2-5-2-4 5M1397 982l3-6-5-2-4 9M1379 972l4-7-5 2-4 4M1374 971l4-4-5-2-4 7M1354 970l4-13-5 3-4 9M1301 952l3-6-4-2-4 10M1269 939l4-7-5-3-4 10M1066 876l4-4-4 1-3 5M1559 1022l2 1-6-3-3 4"/>
<path color="#b61" d="M871 1261l8-3-6-11-8 8M734 1154l5-14-4-6-7 9M580 1039l7 0-4-8-7 2M559 1016l6-2-2 2-8-6M622 1034l6-1-4-7-6 4M648 1035l5-9-3-3-6 8M657 1033l6-4-3-4-7 1M771 1095l6-6-4-1-7 3M669 1017l6 2-5-14-5 9M706 1036l5-5-5-12-4 16M1285 1017l4-7-5-7-4 6M1494 1020l3-5-5-6-4 7M1192 917l4-6-4-7-4 12M1157 900l3 8-4-10-3 2"/>
<path color="#d71" d="M562 1053l6-5-3 0-7 0M937 1299l8 2-7-11-7 11M644 1109l4-20-2 6-7 3M972 1311l7-7-7-13-7 13M700 1131l6-10-4-5-6 8M654 1095l6-7-5-9-5 16M683 1106l7-4-3 3-8-2M687 1105l5-14-4-2-5 12M1064 1330l7-5-7-12-7 17M901 1225l7-15-6-4-6 13M642 1055l6-8-3 5-7-2M802 1149l7-4-5-4-7 0M645 1052l6-8-3 1-7 1M618 1030l6-4-2 0-7 1M612 1028l6-3-3-6-5 9M606 1017l5-8-2 4-6 2M928 1210l7-1-6-6-7 5M917 1204l7-1-6-6-7 3M875 1184l6-14-5-4-6 14M981 1231l7 6-6-7-7 3M735 1072l7 2-4-6-7 4M662 1014l7 3-4-3-7-3M693 1034l4-11-2 4-6 3M794 1073l7 2-4-2-7 0M805 1070l5-14-3 3-5 14M952 1100l5-12-4 1-6 1M913 1047l6-1-5-1-6-7M1326 1162l6-17-6-5-6 9M980 962l4-9-3-1-5 7M1252 1053l4 0-5-3-5 6M928 913l5 2-3-1-5-4M1427 1089l4-7-7 2-3-2M1049 936l3-11-4-7-3 13M1046 913l4-1-4-2-4 1M1080 926l4-9-4 1-4 3M1127 937l4-1-4-10-4 10M1177 950l3-3-4-3-4 2M1040 889l4 4-4-6-3 4M1466 1023l3 3-6-2-4 7M1389 999l4-7-5-2-4 3M1398 1001l4-9-6 2-3-2M1553 1041l2 0-5-9-4 10M1547 1031l2 0-6-3-3 0M1369 972l4-7-5-6-4 10M1364 969l4-10-5-1-5 15M1358 973l5-15-5-1-4 13M1123 892l3-4-3-3-4 9M1119 894l4-9-4 1-4 10M1090 886l4-13-4 2-3 14M1080 883l3-11-3-1-4 8M1353 960l3-4-5 2-3 1M1295 945l4-7-5-4-4 12"/>
<path color="#f81" d="M935 1310l8-7-6-4-8 12M584 1061l6-9-3 1-5 11M565 1048l6-8-3-1-6 5M562 1044l6-5-2 0-6 5M991 1328l7-4-6-5-8 9M992 1319l7-10-6 4-8 6M915 1267l7-12-5 5-7 13M720 1140l6-10-4-1-6 5M716 1134l6-5-3-1-7 8M999 1309l8 5-7-5-7 4M917 1260l7-12-5 4-7 14M710 1123l7-3-4-5-7 6M1050 1324l7-16-7 7-7 12M922 1239l6-13-5 4-7 9M846 1188l7-2-5-1-7 7M666 1063l5-13-3 4-5 9M635 1037l6-6-3 0-6 3M866 1165l6-9-5-1-6 11M861 1166l6-11-4-1-7 9M856 1163l7-9-5-3-6 9M641 1027l5-6-2 0-6 6M863 1154l7 0-5-5-7 2M870 1154l6-8-5 0-6 3M1059 1252l6-13-6 6-6 11M1059 1245l6-21-6 8-6 18M662 1014l5-10-2 5-6 2M784 1075l6-2-4-4-6 5M811 1052l6 0-4-6-6 4M827 1009l5-11-3 3-5 7M1227 1198l6-11-8 7-5 7M1069 1097l5-8-5-2-6 4M1176 1140l5-13-6 8-6 7M1000 1058l5-15-5 3-5 10M1320 1149l6-9-7 1-6 10M1312 1138l5-10-7 11-5 7M993 935l4-10-4 5-4 8M1391 1078l5-12-7 4-4 7M1006 928l4-5-4 4-4 4M1072 951l4-6-4 2-5 2M1072 947l4-5-4 4-4 3M997 918l3-10-3 2-4 4M955 900l4-6-3 4-4 6M1045 931l3-13-3 9-4 5M997 910l4-3-3 2-4 2M1159 962l4-2-4-1-4 6M1031 912l4 0-4-2-4 2M1068 922l4 1-4-2-4 3M1035 912l4-2-4-5-4 5M1031 910l4-5-4 3-3 5M1220 976l4-12-5 5-4 5M1031 908l4-4-3 3-4-1M1456 1052l4-10-7 6-4 8M1219 969l4-5-5 3-4 6M1076 921l4-3-4 0-4 2M1365 1016l5-9-7 8-4 8M1123 936l4-10-4 6-4 5M1080 918l4-2-4 1-4 1M1363 1015l5-9-7 6-3 1M1365 1007l4-4-6 1-4 5M1338 996l4-3-6 3-3 6M1107 922l3-8-4 8-3 2M1446 1028l4-2-6-5-4 7M1440 1028l4-7-7 7-3-2M1051 897l3-7-3 1-4 7M1037 891l3-4-3-1-3 8M1430 1015l3 0-6-2-3 3M1424 1016l3-3-5-1-4 4M1433 1015l4-4-6 1-4 1M1431 1012l4-6-7 5-3 2M1404 998l3-4-5-2-4 9M1439 1000l3-5-6 3-4 9M1073 886l3-2-3 1-4 2M1543 1033l4-2-7-3-3 6M1414 992l4-7-6 3-4 8M1069 883l4 1-4-2-3 0M1328 959l3-5-5 2-3 6M1116 895l3-4-3 0-4 4M1403 978l3-3-6 1-3 6M1321 958l4-11-5 3-4 7M1153 903l4-3-4 0-4 4M1097 889l4-12-4 6-3 3M1264 939l4-10-4 2-4 8M1153 900l3-2-4-3-3 4M1076 879l4-8-4 4-3 4M1300 944l3-4-4-2-4 7M1264 931l3-1-4-2-4 4M1229 922l3-4-4-1-4 8M1172 908l3-9-4 4-3 2M1070 872l3-1-3-3-4 5"/>
<path color="#e81" d="M1409 999l4-5-6 0-3 4"/>
<path color="#b50" d="M865 1255l8-8-6-7-7 12M1041 1342l8-1-7-10-8 0M667 1093l8 1-5-7-7 1M1009 1286l7-4-6-11-8 2M699 1064l7-4-4-4-7 2M695 1058l7-2-3 0-8-5M900 1174l7-7-6-5-7 1M634 990l6-1-4-6-6-1M816 1070l5-4-4-9-7-1M817 1057l7 8-5-10-7-3M1256 1067l4 4-5-12-4-2M1071 986l4 2-4-8-5-4M1022 898l3 1-3-4-4-7M1035 880l3-4-3-3-4 2"/>
<path color="#c60" d="M1012 1329l8 0-7-11-8 10M1086 1338l7-5-7-11-8 2M1071 1325l8-1-8-6-7-5M632 1046l6-4-4-6-7 4M609 1017l7 3-5-11-5 8M691 1051l8 5-4-4-8-2M653 1026l7-1-3 0-7-2M769 1083l6-4-4-1-7 2M771 1078l6-2-4-6-6 4M802 1093l7-4-5-3-6 2M691 999l7 4-3-4-7-3M752 973l7 6-4-4-7-7M958 915l4 4-3-10-5 0M1042 911l4-1-4-2-3 2M1467 1011l4-6-6-2-3 3M1080 889l3 2-3-9-4 2M1422 995l4-4-5-5-3-1M1441 991l2 0-5-4-3 4M1408 981l3 2-5-8-3 3M1101 890l4-8-4-5-4 12M1180 912l4-6-4-3-4 5M1373 965l3-4-4-6-4 4M1126 888l4 1-4-6-3 2"/>
<path color="#e70" d="M528 1024l7-2-3-2-6 5M919 1295l6-24-6 1-6 21M538 1024l7 1-4-4-6 1M557 1034l5-8-2-1-6 6M702 1116l7-1-4-5-7 4M690 1102l5-11-3 0-5 14M563 1014l8 3-3-3-7 0M1057 1330l7-17-7-5-7 16M582 1023l4-13-3-1-6 4M653 1019l6 1-3-5-6 4M777 1089l6-5-4 1-6 3M779 1085l6-5-4-2-6 1M781 1078l7-2-4-1-7 1M777 1076l7-1-4-1-7-4M1173 1080l4-2-5-3-5 2M1076 950l4-6-4 1-4 6M959 894l4 2-3-5-4 7M1304 946l4-6-5 0-3 4M1281 939l4-11-5 7-3 1M1156 898l4 0-4-2-4-1"/>
<path color="#f80" d="M531 1026l7-2-3-2-7 2M990 1334l7-7-6 1-8 10M587 1059l7-2-4-5-6 9M997 1327l8 1-7-4-7 4M998 1324l8-12-7-3-7 10M724 1137l6-10-4 3-6 10M722 1129l7-9-4 0-6 8M719 1128l6-8-4-2-7 7M714 1125l7-7-4 2-7 3M686 1107l6-12-2 7-7 4M660 1088l7-2-4-4-8-3M721 1118l6-6-3 2-7 6M705 1110l6-7-4-2-6 5M667 1086l6-4-3 0-7 0M926 1242l7-3-6-4-6 15M677 1083l6-4-3-1-7 4M673 1082l7-4-4-4-6 8M680 1078l7 1-3-3-8-2M1057 1308l7-8-7 4-7 11M669 1064l5-11-3-3-5 13M634 1036l6-3-3 1-6 2M876 1166l6-3-5-4-6 11M871 1170l6-11-5-3-6 9M877 1159l7-5-5-6-7 8M646 1021l7-2-3 0-6 2M1065 1254l7-13-7-2-6 13M785 1080l6-5-3 1-7 2M788 1076l6-3-4 0-6 2M667 1004l6-1-3-3-5 9M688 996l7 3-4-2-6-2M807 1059l5-7-4-3-5 10M829 1001l5-8-4 4-5 6M1076 945l4-10-4 7-4 5M1080 941l4-1-4 0-4 2M1277 997l4-3-5 1-4 10M1281 994l4 0-5 0-4 1M1225 973l4-8-5-1-4 12M1035 905l4-1-4 0-4 4M1371 1019l4-4-5-8-5 9M1437 1011l3-2-5-3-4 6M1436 998l4-8-6 1-3 6M1147 905l3-8-4 8-3 4M1326 956l4-9-5 0-4 11M1395 974l4-6-6 3-3 4M1383 965l4-3-6 4-3 1M1358 957l3-3-5 2-3 4M1242 926l3-9-4 4-4 7M1233 922l4-4-5 0-3 4M1123 885l3-2-4-1-3 4M1119 886l3-4-3 2-4 3M1090 875l4-2-4 1-3 6M1076 875l4-3-4-3-3 4M1073 873l3-4-3 2-3 1"/>
<path color="#940" d="M945 1301l7-8-6-12-8 9M598 1065l6-8-5-13-5 13M764 1168l8 5-8-29-9-9M877 1236l8-1-7-13-8-6M772 1173l6-13-6-12-8-4M987 1307l7-15-7-12-7 8M611 1048l7 1-4-9-6 6M618 1049l8 5-6-17-6 3M601 1035l9 10-5-13-8-5M759 1089l7 2-4-5-7-2M1087 915l4 2-4-12-4-2M1510 1012l2 1-5-8-2-4M1056 872l3 4-3-14-4 1"/>
<path color="#d70" d="M941 1304l9 6-7-7-8 7M845 1237l8-1-6-7-6 19M931 1301l7-11-7-14-6 22M925 1298l6-22-6-5-6 24M570 1046l7-4-3-2-6 8M653 1098l7-2-5-12-7 5M1005 1328l8-10-7-6-8 12M965 1304l7-13-6-1-7 11M565 1026l7 0-3-3-7 3M557 1023l7 1-4-7-7 3M713 1115l7-1-5-9-6 10M709 1115l6-10-4-2-6 7M683 1101l5-12-3 0-7 6M678 1095l7-6-4-2-6 7M604 1042l5-9-2 5-6 3M571 1017l6-4-2 1-7 0M933 1239l8 1-7-14-7 9M627 1040l7-4-3 0-7 2M591 1011l8 3-4-3-7-3M672 1063l6-5-4-5-5 11M606 1022l6-4-3-1-7 1M602 1018l7-1-3 0-7-3M587 1006l7 6-4-8-6 3M915 1207l7 1-5-4-8-9M607 1013l5-4-3-3-7-2M881 1170l7-2-6-5-6 3M760 1092l7-1-4-1-7 0M882 1163l7-4-5-5-7 5M650 1023l7 2-4-6-7 2M773 1088l6-3-4-6-6 4M1079 1261l6-4-6-12-7 16M775 1079l6-1-4-2-6 2M702 1035l4-16-3 1-6 3M670 1005l7 0-4-2-6 1M673 1003l7 4-3-4-7-3M810 1056l7 1-5-5-5 7M812 1052l7 3-4-4-7-2M748 980l4-7-4-5-5 4M919 1059l6-7-5-7-5 6M1079 1096l5-11-5-11-5 15M1225 1071l6-16-6-10-5 20M984 953l5-3-4-8-4 10M1000 936l4-6-4-3-4 7M1084 941l4 4-4-5-4 1M1052 925l4 4-3-6-5-5M979 890l4-7-4 2-4-5M1229 978l5-10-5-3-4 8M1095 926l4 1-4-2-4-4M1050 912l3-4-3-5-4 7M1375 1015l4-6-5-5-4 3M1483 1040l3 1-6-3-3-1M1458 1038l5-16-7 3-4 6M1468 1030l4-4-6-3-3-1M1062 892l3-2-3-6-4 8M1038 876l4-4-4-3-3 4M1462 1006l3-3-5-6-4 8M1151 915l4-12-4-4-4 8M1488 1016l4-7-6-4-4 9M1482 1014l4-9-6 0-4 8M1426 991l3-2-5-5-3 2M1435 991l3-4-5-6-4 8M1443 991l4-8-5-2-4 6M1433 981l3 2-5-4-4 7M1427 986l4-7-5-5-4 10M1422 984l4-10-6 3-4 6M1188 916l4-12-4-4-4 10M1105 882l3-2-4-2-3-1M1094 886l3-11-3-2-4 13M1528 1013l4-8-6-3-4 7M1378 967l3-1-5-5-3 4M1212 916l4-2-4-6-4 7M1115 887l4-3-4-4-3 4"/>
<path color="#a50" d="M852 1256l8-4-7-16-8 1M831 1244l6-13-6-11-7 6M526 1025l6-5-4-4-5 7M860 1252l7-12-6-9-8 5M575 1057l7-4-5-11-7 4M867 1240l8 5-6-14-8 0M586 1059l5-12-5-9-4 15M582 1053l4-15-4-8-5 12M1041 1348l8 1-8-7-8-4M869 1231l8 5-7-20-8-1M608 1063l6-6-4-8-6 8M570 1039l6-6-4-7-7 0M979 1304l8 3-7-19-8 3M953 1278l7-15-7-10-7 13M870 1216l8 6-6-9-8-9M597 1044l7-2-3-1-8-3M567 1027l7 0-4-5-6 2M885 1235l7-6-6-10-8 3M878 1222l8-3-6-7-8 1M778 1160l8 3-6-11-8-4M620 1051l8 7-3-5-8-2M570 1022l8 2-3 1-9-13M994 1292l8 1-7-13-8 0M987 1280l8 0-7-11-7 1M880 1212l8 7-6-12-8-6M754 1136l7 0-5-7-8-4M720 1114l8 0-6-12-7 3M705 1106l6-5-4-7-7 5M1002 1293l7-7-7-13-7 7M995 1280l7-7-6-8-8 4M756 1129l8-2-5-7-8 0M731 1114l7-1-4-5-6 6M590 1026l7 1-6-16-5 8M946 1243l8 5-6-12-7 4M941 1240l7-4-6-4-8-6M764 1127l6-4-4-3-7 0M734 1108l6-6-5-12-7 2M597 1027l5-9-3-4-8-3M761 1116l8 5-4-6-8-7M740 1102l7-5-4-2-8-5M595 1011l8 4-3-1-8-6M1010 1264l8 6-7-15-7-3M752 1108l7-2-5-8-7-1M747 1097l7 1-4-3-7 0M743 1095l7 0-5-9-7 1M683 1067l6-7-5-10-6 8M998 1247l8 5-7-7-7-7M759 1106l7-3-6-11-6 6M752 1088l7 1-4-5-7 0M763 1090l8 5-5-4-7-2M894 1163l7-1-5-6-7 3M766 1091l7-3-4-5-7 3M762 1086l7-3-5-3-6 0M764 1080l7-2-4-4-7 1M1092 1252l7 0-7-12-7-7M916 1152l7 5-6-11-7-5M809 1089l6-4-5-10-6 11M1099 1252l6-4-7-6-6-2M815 1085l7 4-5-12-7-2M669 979l6 4-4-8-6-2M1260 1209l5 1-6-20-5 7M1265 1210l6-7-7-10-5-3M1241 1073l5-8-5-14-5 15M1016 934l5-1-4-3-5-7M1017 930l4 1-4-5-4-1M1088 953l4-5-4-7-4-1M971 892l4 2-4-11-4-2M1302 1005l3 3-4-11-4 0M990 897l3-5-3-7-4 0M993 892l4 3-3-11-4 1M1018 901l4-3-4-10-4 2M1250 972l4 1-5-6-3-3M1254 973l4 2-5-9-4 1M1249 967l4-1-5-1-3-7M1488 1050l3 3-5-12-3-1M1005 891l4-3-4-7-3 1M1009 884l4-3-3-3-4 1M1065 899l4 2-4-11-3 2M1024 885l3-2-3-13-4 3M1073 898l3 0-3-12-4 5M1027 883l4-3-3-6-4-4M1158 916l4-12-4-12-3 11M1049 875l3 1-3-4-4-3M1166 913l3-1-4-3-3-5M1049 872l3 2-3-9-4-1M1052 874l4-2-4-9-3 2M1518 1018l4-9-5-5-5 9M1512 1013l5-9-6-3-4 4M1479 987l4-3-6-4-3 2M1344 962l4-3-5-11-3 8M1108 890l4-6-4-4-3 2M1059 876l4-7-4-3-3-4"/>
<path color="#e80" d="M537 1031l5-8-2-1-7 3M740 1171l4-29-2 13-5 18M568 1048l6-8-3 0-6 8M728 1143l7-9-5-7-6 10M553 1020l7-3-3 0-6 4M735 1134l6-9-5-7-6 9M690 1108l7-6-5-7-6 12M560 1017l6-5-3 2-6 3M557 1017l6-3-2 0-7 1M769 1151l7 1-4-1-8-4M717 1120l7-6-4 0-7 1M692 1095l8 4-5-8-5 11M670 1087l7-4-4-1-6 4M735 1115l7-6-4 4-7 1M722 1102l6-10-4 0-6 8M714 1097l7-2-4-2-6 8M586 1019l5-8-3-3-4 11M584 1019l4-11-2 2-4 13M721 1095l7-4-4-4-7 6M588 1008l7 3-3-3-6 2M908 1210l7-3-6-12-7 11M584 1007l6-3-3-3-6 4M980 1232l7 3-6-4-7-1M884 1154l6-8-5-6-6 8M656 1015l6-1-4-3-6 2M1072 1261l7-16-7-4-7 13M783 1084l6-3-4-1-6 5M665 1014l5-9-3-1-5 10M691 1023l5-9-3-3-5 8M1161 1156l6-7-7 3-5 7M1010 1049l5-9-5-7-5 10M950 919l4-5-4-3-4 8M954 914l4 1-4-6-4 2M1080 944l4-4-4-5-4 10M1004 911l4-10-4 3-4 4M1284 1003l4-6-5-5-4 7M1091 926l4 0-4-5-4 5M986 885l4 0-4-1-3-1M1426 1037l3-1-6-2-3 0M1084 917l3-1-3 0-4 2M1436 1017l4-6-7 4-3 0M1042 875l3-2-3-1-4 4M1456 1005l4-8-5-4-5 9M1497 1015l5-9-6-5-4 8M1492 1009l4-8-6-1-4 5M1486 1005l4-5-6-5-4 10M1480 1005l4-10-6 1-3 4M1447 989l3-5-7 7-2 0M1429 989l4-8-6 5-3-2M1331 954l4-2-5-5-4 9M1438 987l4-6-6 2-3-2M1406 975l4-8-5-3-5 12M1184 910l4-10-4 6-4 6M1176 908l4-5-4-6-4 5M1097 883l4-7-4-1-3 11M1426 974l4-8-6 1-4 10M1393 971l4-6-5-3-4 11M1388 973l4-11-5 0-4 3M1368 959l4-4-5-5-4 8M1286 938l4-5-5-5-4 11M1273 932l3-6-4-3-4 6M1246 930l4-16-5 3-3 9M1237 928l4-7-4-3-4 4M1208 915l4-7-4-2-4 8M1204 914l4-8-5 1-3 2M1184 906l3-6-4 1-3 2M1180 903l3-2-4-5-3 1M1101 876l3-3-3-2-4 4M1066 873l4-5-4-1-3 2"/>
<path color="#950" d="M523 1023l5-7-4-8-6 4M532 1020l7 3-4-10-7 3M952 1293l8-10-7-5-7 3M946 1281l7-3-7-12-7 3M593 1038l8 3-6-15-7-4M728 1114l6-6-6-16-6 10M755 1084l7 2-4-6-8-3M758 1080l6 0-4-5-7-4M975 894l4-4-4-10-4 3M1031 880l4 0-4-5-3-1M1165 909l4 0-4-9-3-4M1436 983l3 3-5-11-3 4M1348 959l3-1-4-11-4 1"/>
<path color="#b60" d="M948 1315l8-3-6-2-9-6M540 1034l6-5-4-6-5 8M518 1012l6-4-3-4-8-2M750 1183l6-16-8-25-4 27M590 1061l8 4-4-8-7 2M546 1029l8 2-5-11-7 3M1033 1351l8-3-8-10-8-1M938 1290l8-9-7-12-8 7M861 1231l8 0-7-16-8 5M563 1038l7 1-5-13-7 3M554 1031l6-6-3-2-8-3M541 1021l6-6-4-7-4 15M531 1006l8 3-4-3-7-4M1033 1338l8 4-7-11-8-1M1019 1331l8 3-7-5-8 0M959 1301l7-11-6-7-8 10M586 1038l7 0-5-16-6 8M547 1015l7 0-3-6-8-1M1027 1334l8-2-7-9-8 6M1020 1329l8-6-7 2-8-7M946 1266l7-13-6-13-8 9M739 1140l8-3-6-12-6 9M614 1057l6-6-3 0-7-2M610 1049l7 2-4-6-8-8M576 1033l7-2-3 2-8-7M564 1024l6-2-4-10-6 5M554 1015l7-1-2 2-8-7M551 1009l8 7-4-6-7 0M980 1288l7-8-6-10-8 6M617 1051l8 2-5-9-7 1M601 1041l6-3-3-3-9-9M874 1201l8 6-6-9-8-9M744 1118l7 2-4-4-8-1M700 1099l7-5-5-7-7 4M939 1243l7 0-5-3-8-1M711 1101l6-8-4-6-6 7M707 1094l6-7-5-6-6 6M759 1120l7 0-5-4-7-2M738 1113l7-4-5-7-6 6M1010 1271l7 1-7-8-7-2M1003 1262l7 2-6-12-8-3M745 1109l7-1-5-11-7 5M638 1042l6-2-4-7-6 3M599 1014l7 3-3-2-8-4M1004 1252l7 3-6-7-8-7M991 1241l7 6-6-9-7-2M1011 1255l7 3-6-4-7-6M992 1238l7 7-6-7-7-6M754 1098l6-6-4-2-6 5M750 1095l6-5-4-2-7-2M745 1086l7 2-4-4-7-1M741 1083l7 1-5-8-6 4M689 1060l6-2-4-7-7-1M766 1103l6-8-5-4-7 1M888 1168l6-5-5-4-7 4M889 1159l7-3-6-10-6 8M778 1094l8 3-5-4-7 1M907 1167l6-10-5-2-7 7M901 1162l7-7-6-7-6 8M760 1075l7-1-5-5-7-1M659 1020l7 1-4-7-6 1M913 1157l7 7-5-7-7-2M908 1155l7 2-6-9-7 0M902 1148l7 0-5-7-7 1M1085 1257l7-5-7-19-6 12M909 1148l7 4-6-11-6 0M904 1141l6 0-5-2-6 0M910 1141l7 5-5-4-7-3M804 1086l6-11-5-5-6 5M1092 1240l6 2-6-7-7-8M810 1075l7 2-5-4-7-3M711 1031l7-2-5-11-7 1M696 1014l9 15-5-11-7-7M1098 1242l7-2-7-1-6-4M817 1077l7 6-5-9-7-1M812 1073l7 1-4-2-7-3M1187 1144l5-3-6-9-5-5M1015 1057l5-4-5-13-5 9M1020 1053l5-2-5-8-5-3M1020 1043l5 4-4-4-6-2M1339 1155l5-13-6-12-6 15M1344 1142l5-2-6-15-5 5M1349 1140l4-1-6-14-4 0M1353 1139l4 4-6-16-4-2M1236 1066l5-15-5-13-5 17M1246 1065l5-8-6-13-4 7M1251 1057l4 2-6-8-4-7M1062 988l4 0-4-12-5 6M1066 988l5-2-5-10-4 0M1066 976l5 4-5-7-4-7M989 950l4 5-4-7-4-6M1004 942l4-5-4-7-4 6M1008 937l4-2-4-11-4 6M1008 915l4-3-4-11-4 10M963 896l4-1-3-7-4 3M1289 1010l4-7-5-6-4 6M967 895l4-3-4-11-3 7M1298 1010l4-5-5-8-4 6M1238 976l4-8-4-8-4 8M1014 898l4 3-4-11-4 7M1247 975l3-3-4-8-4 4M1242 968l4-4-4-11-4 7M994 884l4 4-4-5-4-2M1380 1017l4-4-5-4-4 6M994 883l4 2-4-8-3 1M1389 1020l4-5-6 0-3-2M1384 1013l3 2-5-7-3 1M998 885l4-3-4-7-4 2M1002 882l3-1-3-7-4 1M1118 922l4-3-4-7-4 6M1122 919l4-2-4-1-4-4M1122 916l3 1-4-3-3-3M1013 881l4-2-4-6-3 5M1017 879l3-6-3-10-4 10M1445 1020l3-3-6-2-2-4M1065 890l4 1-4-9-3 2M1024 870l4 4-4-6-4-4M1031 875l4-2-4-2-3-1M1471 1005l4-5-6-1-4 4M1465 1003l4-4-5-9-4 7M1045 869l4 3-4-8-3 3M1509 1023l4-8-5-10-4 8M1473 991l3-5-4-8-4 6M1336 964l4-8-5-4-4 2M1169 909l3-7-4 5-3-7M1502 997l3 1-5-6-4 4M1416 983l4-6-5-6-4 12M1411 983l4-12-5-4-4 8M1250 937l4-14-4-9-4 16M1130 892l3-4-3 1-4-1M1108 880l3-1-3-1-4 0"/>
<path color="#c70" d="M1025 1368l8-17-8-14-7 22M943 1303l8 0-6-2-8-2M843 1239l6-23-6-5-6 20M545 1025l6-4-4-6-6 6M539 1023l4-15-2-1-6 6M660 1096l7-3-4-5-8-4M591 1047l6-3-4-6-7 0M560 1025l7 2-3-3-7-1M551 1021l6-4-3-2-7 0M539 1009l6-1-2 0-8-2M972 1291l8-3-7-12-7 14M695 1117l6-11-4-4-7 6M663 1088l7-1-3-1-7 2M697 1102l8 4-5-7-8-4M675 1094l6-7-4-4-7 4M608 1046l6-6-5-7-5 9M945 1248l7-6-6 1-7 0M747 1116l7-2-4-2-8-2M620 1037l7 3-3-2-8-7M1064 1313l7 5-7-18-7 8M754 1114l7 2-4-8-7 4M717 1093l7-6-5-3-6 3M592 1008l8 6-3-4-8-3M730 1083l7-3-5-7-6 5M756 1090l7 0-4-1-7-1M739 1069l7 0-5-4-7-1M772 1095l6-1-4 0-7-3M781 1093l7-2-5-7-6 5M897 1142l7-1-5-2-8-4M788 1091l6-3-5-7-6 3M767 1074l6-4-4 2-7-3M798 1088l6-2-5-11-5 13M905 1139l7 3-5-4-7-4M1248 1209l6-12-7-11-6 13M837 1009l4-11-5-12-4 12M1254 1197l5-7-6-18-6 14M1084 1085l6 4-6-7-5-8M1053 992l4-10-4-6-4 7M1062 976l4 0-4-10-5 2M1013 925l4 1-4-3-4 0M982 893l4-8-3-2-4 7M1039 910l3-2-3-4-4 1M1466 1049l3 2-6-8-3-1M1087 905l4 2-4-3-4-3M1045 877l4 4-4-8-3 2M1035 873l3-4-3-2-4 4M1045 873l4 2-4-6-3 3M1476 1013l4-8-5-5-4 5M1475 1000l3-4-5-5-4 8M1045 864l4 1-4-4-3 2M1508 1005l2 7-5-11-3 5M1478 996l4-4-6-6-3 5M1485 990l4-5-6-1-4 3M1517 1004l2 1-5-4-3 0M1505 998l4-5-5-8-4 7M1477 980l5-10-6-5-4 8M1290 946l4-12-4-1-4 5M1277 936l3-1-4-9-3 6M1196 911l3-9-4-2-3 4M1112 884l3-4-4-1-3 1M1104 878l4 0-4-5-3 3M1087 880l3-6-3-8-4 6"/>
<path color="#f90" d="M1011 1353l7-23-7-3-7 20M1004 1347l7-20-7 0-8 10M996 1337l8-10-7 0-7 7M837 1231l6-20-5-1-7 10M919 1272l7-10-6-2-7 9M913 1269l7-9-5 7-7 4M834 1216l6-16-4 6-6 14M590 1052l5-12-3-2-5 15M574 1040l4-15-2 5-5 10M920 1260l8-8-6 3-7 12M922 1255l8-7-6 0-7 12M730 1127l6-9-3 3-7 9M726 1130l7-9-4-1-7 9M930 1248l7-6-6-1-7 7M924 1248l7-7-5 1-7 10M729 1120l6-11-4 5-6 6M725 1120l6-6-4-2-6 6M931 1241l8 2-6-4-7 3M711 1103l7-3-4-3-7 4M692 1091l6-7-4-2-6 7M688 1089l6-7-4-3-5 10M685 1089l5-10-3-1-6 9M681 1087l6-9-4 1-6 4M951 1244l7-4-6 2-7 6M927 1235l7-9-6 0-6 13M739 1112l7 0-4-3-7 6M718 1100l6-8-3 3-7 2M690 1079l7-5-3 2-7 2M687 1078l7-2-4 1-7 2M746 1112l7-5-5-4-6 6M728 1092l7-2-4-2-7 4M694 1076l6-2-3 0-7 3M586 1010l6-2-3-1-6 2M731 1088l7-1-4-2-6 6M704 1073l6-4-3 0-7 5M972 1234l8-2-6-2-7 7M674 1053l6-5-3 0-6 2M872 1156l7-8-5 0-7 7M879 1148l6-8-5 2-6 6M880 1142l7-6-5 3-6 7M1072 1241l7-15-7 3-7 10M1065 1239l7-10-7-5-6 21M894 1136l6-2-4 1-7 2M789 1081l6-8-4 2-6 5M1072 1229l7-5-7-2-7 2M795 1073l6-9-4 5-6 6M1241 1199l6-13-7-2-6 14M1234 1198l6-14-7 3-6 11M832 998l4-12-2 7-5 8M1074 1089l5-15-5 5-5 8M1005 1043l5-10-5 8-5 5M1326 1140l6-19-8 6-5 14M1319 1141l5-14-7 1-5 10M1220 1065l5-20-6 6-5 15M1049 983l4-7-4 0-5 9M981 952l4-10-4 3-4 7M996 934l4-7-3-2-4 10M1000 908l4-4-3 3-4 3M1279 999l4-7-6 5-4 7M1288 997l4-9-5 0-4 4M1224 964l4-4-5 4-4 5M1010 897l4-7-4-9-3 13M986 884l4-3-3-1-4 5M1228 960l4-6-5 6-4 4M1370 1007l4-3-6 2-5 9M1114 918l4-6-4-5-4 7M1058 892l4-8-4-1-4 7M1450 1002l5-9-6 0-4 7M1445 1000l4-7-7 2-3 5M1147 907l4-8-4 6-4 4M1442 995l5-8-7 3-4 8M1151 899l3-4-4 2-3 8M1447 987l3-2-6 2-4 3M1453 984l4-4-7 4-3 5M1450 984l4-6-7 5-4 8M1400 976l5-12-6 4-4 6M1335 952l4-7-6 3-3-1M1101 877l3 1-3-2-4 7M1447 983l4-3-6 0-3 1M1399 968l3-4-5 1-4 6M1363 958l4-8-6 4-3 3M1333 948l4-1-5-2-3 2M1188 900l3-4-4 4-3 6M1097 875l4-4-4-2-3 4M1083 872l4-6-4 4-3 1"/>
<path color="#a60" d="M528 1016l7-3-4-7-7 2M756 1167l8 1-9-33-7 7M604 1057l6-8-5-12-6 7M864 1204l8 9-6-15-8-2M872 1213l8-1-6-11-8-3M747 1137l7-1-6-11-7 0M748 1125l8 4-5-9-7-2M988 1269l8-4-7-15-8 6M751 1120l8 0-5-6-7 2M1002 1273l8-2-7-9-7 3M996 1265l7-3-7-13-7 1M748 1084l7 0-5-7-7-1M750 1077l8 3-5-9-7-2M896 1156l6-8-5-6-7 4M1012 935l4-1-4-11-4 1M1246 964l3 3-4-9-3-5M1005 881l4 3-3-5-4-5M1028 874l3 1-3-5-4-2M1469 999l4-8-5-7-4 6M1162 904l3 5-3-13-4-4M1505 1001l2 4-5-8-2 0M1482 992l3-2-6-3-3-1M1476 986l3 1-5-5-2-4M1507 1005l4-4-6-3-3-1M1474 982l3-2-5-7-3 4M1511 1001l3 0-5-8-4 5M1483 984l3-1-4-13-5 10"/>
<path color="#d80" d="M1018 1359l7-22-7-7-7 23M853 1236l8-5-7-11-7 9M847 1229l7-9-5-4-6 23M744 1169l4-27-4 0-4 29M1025 1337l8 1-7-8-8 0M594 1057l5-13-4-4-5 12M577 1042l5-12-4-5-4 15M535 1013l6-6-2 2-8-3M599 1044l6-7-4-2-6 5M966 1290l7-14-6-8-7 15M588 1022l7 4-4-7-7-3M967 1268l7-9-6-3-8 7M968 1256l7-10-7-4-7 3M739 1115l8 1-5-6-7-1M715 1105l7-3-4-2-7 3M614 1040l6-3-4-6-7 2M750 1112l7-4-4-1-7 5M738 1087l7-1-4-3-7 2M734 1085l7-2-4-3-7 3M678 1058l6-8-4-2-6 5M732 1073l7-4-5-5-6 4M684 1050l7 1-4-1-7-2M890 1146l7-4-6-7-6 5M899 1139l6 0-5-5-6 2M794 1088l5-13-4-2-6 8M1085 1233l7 7-7-13-6-1M805 1070l7 3-4-4-7-5M1332 1145l6-15-6-9-6 19M1338 1130l5-5-6-18-5 14M1057 982l5-6-5-8-4 8M1004 930l4-6-4-7-4 10M1008 924l4-1-4-4-4-2M1234 968l4-8-5-6-4 11M990 885l4-1-4-3-4 3M1014 890l4-2-4-4-4-3M990 881l4 2-3-5-4 2M1242 953l3 5-4-8-4-7M1080 916l3-13-3-6-4 11M1083 903l4 2-4-4-3-4M1118 912l4 4-4-5-4-4M1042 872l3-3-3-2-4 2M1038 869l4-2-4-3-3 3M1460 997l4-7-6-1-3 4M1042 867l3-3-3-1-4 1M1504 1013l4-8-6 1-5 9M1464 990l4-6-5-7-5 12M1502 1006l3-5-5-4-4 4M1468 984l4-6-5-9-4 8M1488 993l3 0-6-3-3 2M1340 956l3-8-4-3-4 7M1522 1009l4-7-7 3-2-1M1431 979l3-4-4-9-4 8M1420 977l4-10-5-4-4 8M1200 909l3-2-4-5-3 9"/>
<path color="#b70" d="M524 1008l7-2-3-4-7 2M862 1215l8 1-6-12-8-2M960 1283l7-15-7-5-7 15M960 1263l8-7-7-11-8 8M953 1253l8-8-7-6-7 1M981 1270l7-1-7-13-7 3M713 1087l6-3-4-7-7 4M996 1249l8 3-7-11-7-1M737 1080l6-4-4-7-7 4M743 1076l7 1-4-8-7 0M746 1069l7 2-5-5-7-1M753 1071l7 4-5-7-7-2M841 998l6 0-4-2-7-10M1259 1190l5 3-6-9-5-12M1347 1125l4 2-6-5-4-5M1241 1051l4-7-4-18-5 12M1245 1044l4 7-5-12-3-13M1293 1003l4-6-5-9-4 9M1297 997l4 0-5-8-4-1M1020 873l4-3-4-6-3-1M1069 891l4-5-4-3-4-1M1049 865l3-2-3-2-4 0M1052 863l4-1-4-3-3 2M1496 996l4-4-6-3-3 4"/>
<path color="#fa0" d="M925 1271l7-10-6 1-7 10M843 1211l6-20-4 6-7 13M838 1210l7-13-5 3-6 16M932 1261l7-12-5 1-8 12M926 1262l8-12-6 2-8 8M845 1197l7-6-4 3-8 6M939 1249l8-9-7-5-6 15M934 1250l6-15-5 8-7 9M928 1252l7-9-5 5-8 7M733 1121l6-6-4-6-6 11M698 1084l6-7-3-1-7 6M694 1082l7-6-4-2-7 5M970 1241l7-1-6-5-7 4M964 1239l7-4-6 2-7 3M704 1077l7-5-4-1-6 5M701 1076l6-5-3 2-7 1M971 1235l7-6-6 5-7 3M711 1072l6-2-3 0-7 1M707 1071l7-1-4-1-6 4M721 1073l7-5-4-1-7 3M714 1070l7-1-4-2-7 2M710 1069l7-2-4-1-6 3M728 1068l6-4-4-1-6 4M724 1067l6-4-3 0-6 6M721 1069l6-6-3 2-7 2M885 1140l6-5-4 1-7 6M1247 1186l6-14-8 10-5 2M1332 1121l5-14-8 12-5 8M1324 1127l5-8-7 9-5 0M1225 1045l5-9-6 9-5 6M1053 976l4-8-4 2-4 6M1000 927l4-10-3 6-4 2M1229 965l4-11-5 6-4 4M1233 954l4-11-5 11-4 6M1455 993l3-4-5-3-4 7M1449 993l4-7-6 1-5 8M1458 989l5-12-6 0-4 9M1453 986l4-9-7 8-3 2M1154 895l4 1-4-3-4 4M1490 1000l4-8-6 1-4 2M1463 977l4-8-7 9-3-1M1462 980l5-10-7 3-3 7M1457 980l3-7-6 5-4 6M1467 970l3-6-5-4-5 13M1460 973l5-13-8 13-3 5M1454 978l3-5-6 7-4 3M1410 967l4-9-6 1-3 5M1405 964l3-5-6 5-3 4"/>
<path color="#c80" d="M854 1220l8-5-6-13-7 14M939 1269l7-3-7-17-7 12M856 1202l8 2-6-8-9-5M973 1276l8-6-7-11-7 9M866 1198l8 3-6-12-8 2M741 1125l7 0-4-7-8 0M974 1259l7-3-6-10-7 10M981 1256l8-6-7-14-7 10M989 1250l7-1-6-9-8-4M984 1242l7-1-6-5-8 4M735 1090l8 5-5-8-7 1M724 1087l6-4-4-5-7 6M719 1084l7-6-5-5-6 4M985 1236l7 2-6-6-8-3M1343 1125l4 0-6-8-4-10M1491 993l3-4-5-4-4 5M1489 985l3-2-6 0-3 1"/>
<path color="#e90" d="M931 1276l8-7-7-8-7 10M849 1216l7-14-7-11-6 20M748 1142l7-7-4 2-7 5M582 1030l6-8-4-6-6 9M858 1196l8 2-6-7-8 0M947 1240l7-1-6-2-8-2M736 1118l8 0-5-3-6 6M954 1239l8 0-6 0-8-2M695 1091l7-4-4-3-6 7M975 1246l7-10-6 5-8 1M968 1242l8-1-6 0-8-2M962 1239l8 2-6-2-8 0M702 1087l6-6-4-4-6 7M976 1241l8 1-7-2-7 1M708 1081l7-4-4-5-7 5M977 1240l8-4-7-7-7 6M728 1091l6-6-4-2-6 4M715 1077l6-4-4-3-6 2M734 1064l7 1-4-3-7 1M1079 1245l6-12-6-7-7 15M1079 1226l6 1-6-3-7 5M799 1075l6-5-4-6-6 9M1231 1055l5-17-6-2-5 9M1236 1038l5-12-6 6-5 4M1238 960l4-7-5-10-4 11M1062 884l3-2-3 1-4 0M1155 903l3-11-4 3-3 4M1496 1001l4-4-6-5-4 8M1484 995l4-2-6-1-4 4M1494 989l3-1-5-5-3 2M1472 973l4-8-6-1-3 6M1343 948l4-1-5-5-3 3M1192 904l3-4-4-4-3 4"/>
<path color="#d90" d="M961 1245l7-3-6-3-8 0M726 1078l6-5-4-5-7 5M1469 977l3-4-5-3-5 10M1500 992l4-7-7 3-3 1M1415 971l4-8-5-5-4 9"/>
</g>
<g stroke="#464646" stroke-width="2.8" fill="none" stroke-linecap="butt" filter="url(#bl)">
<path d="M472.4 909.7H492.0L543.4 1139.8" stroke-linejoin="round"/>
<path d="M501.1 1031.0H518.2"/>
<path d="M544.4 1139.4L529.4 1144.8"/>
<path d="M543.4 1139.8L1036.7 1551.1L1569.1 1142.9"/>
<path d="M1563.1 1147.5L1578.7 1152.9"/>
<path d="M1036.7 1551.1L1016.9 1566.3"/><path d="M1036.7 1551.1L1057.4 1568.4"/>
<path d="M1573.0 1034.8L1586.1 1026" stroke-width="2" stroke="#5a5a5a"/><path d="M896.5 1435.3L878.6 1447.5"/><path d="M783.8 1340.2L766.8 1351.5"/><path d="M691.5 1261.2L672.7 1270.6"/><path d="M610.6 1195.3L595.5 1204.7"/><path d="M1186.4 1437.2L1205.2 1452.2"/><path d="M1304.7 1344.0L1323.5 1356.4"/><path d="M1404.5 1268.7L1423.3 1278.9"/><path d="M1489.2 1204.7L1506.1 1213.3"/>
</g>
<g class="ax" filter="url(#bl)">
<text class="ax" x="391.7" y="919.6" font-size="29.0" textLength="68.1" lengthAdjust="spacingAndGlyphs">5 nm</text>
<text class="ax" x="446.6" y="1040.1" font-size="26.4" textLength="18.3" lengthAdjust="spacingAndGlyphs">0</text>
<text class="ax" x="512.8" y="1128.2" font-size="25.2" textLength="12.6" lengthAdjust="spacingAndGlyphs" transform="rotate(-8 519.1 1119.1)">0</text>
<text class="ax" x="475.2" y="1140.7" font-size="24.2" textLength="21.0" lengthAdjust="spacingAndGlyphs" transform="rotate(-12 485.4 1132.1)">-5</text>
<text class="ax" x="440.4" y="1173.1" font-size="25.2" textLength="93.9" lengthAdjust="spacingAndGlyphs">500 nm</text>
<text class="ax" x="525.9" y="1233.1" font-size="26.5" textLength="49.2" lengthAdjust="spacingAndGlyphs">400</text>
<text class="ax" x="596.4" y="1304.5" font-size="31.4" textLength="58.1" lengthAdjust="spacingAndGlyphs">300</text>
<text class="ax" x="686.7" y="1391.1" font-size="36.4" textLength="62.1" lengthAdjust="spacingAndGlyphs">200</text>
<text class="ax" x="793.1" y="1492.9" font-size="36.4" textLength="69.5" lengthAdjust="spacingAndGlyphs">100</text>
<text class="ax" x="948.3" y="1624.5" font-size="44.0" textLength="30.0" lengthAdjust="spacingAndGlyphs">0</text>
<text class="ax" x="1095.2" y="1626.4" font-size="44.0" textLength="29.9" lengthAdjust="spacingAndGlyphs">0</text>
<text class="ax" x="1222.3" y="1498.5" font-size="36.4" textLength="69.5" lengthAdjust="spacingAndGlyphs">100</text>
<text class="ax" x="1344.9" y="1396.9" font-size="34.2" textLength="64.2" lengthAdjust="spacingAndGlyphs">200</text>
<text class="ax" x="1445.0" y="1312.2" font-size="29.0" textLength="56.1" lengthAdjust="spacingAndGlyphs">300</text>
<text class="ax" x="1530.6" y="1242.5" font-size="28.9" textLength="51.3" lengthAdjust="spacingAndGlyphs">400</text>
<text class="ax" x="1577.5" y="1181.6" font-size="26.5" textLength="97.5" lengthAdjust="spacingAndGlyphs">500 nm</text>
<text class="ax" x="1581.6" y="1134.6" font-size="22.6" textLength="15.6" lengthAdjust="spacingAndGlyphs">0</text>
</g>
</g>
<g class="tt" filter="url(#bt)">
<text x="1639.0" y="214.6" font-size="78" textLength="402" lengthAdjust="spacingAndGlyphs">Plasma-H<tspan font-size="48" dy="16.5">2</tspan><tspan dy="-16.5">O</tspan></text>
<text x="1662.0" y="303.0" font-size="76" textLength="352" lengthAdjust="spacingAndGlyphs"><tspan font-style="italic">R</tspan><tspan font-size="40">RMS</tspan> = 0.32</text>
<text x="1704.0" y="1019.0" font-size="78" textLength="344" lengthAdjust="spacingAndGlyphs">Plasma-O<tspan font-size="48" dy="16.5">2</tspan></text>
<text x="1699.0" y="1107.4" font-size="76" textLength="352" lengthAdjust="spacingAndGlyphs"><tspan font-style="italic">R</tspan><tspan font-size="40">RMS</tspan> = 0.29</text>
</g>
</svg>
</body></html>
